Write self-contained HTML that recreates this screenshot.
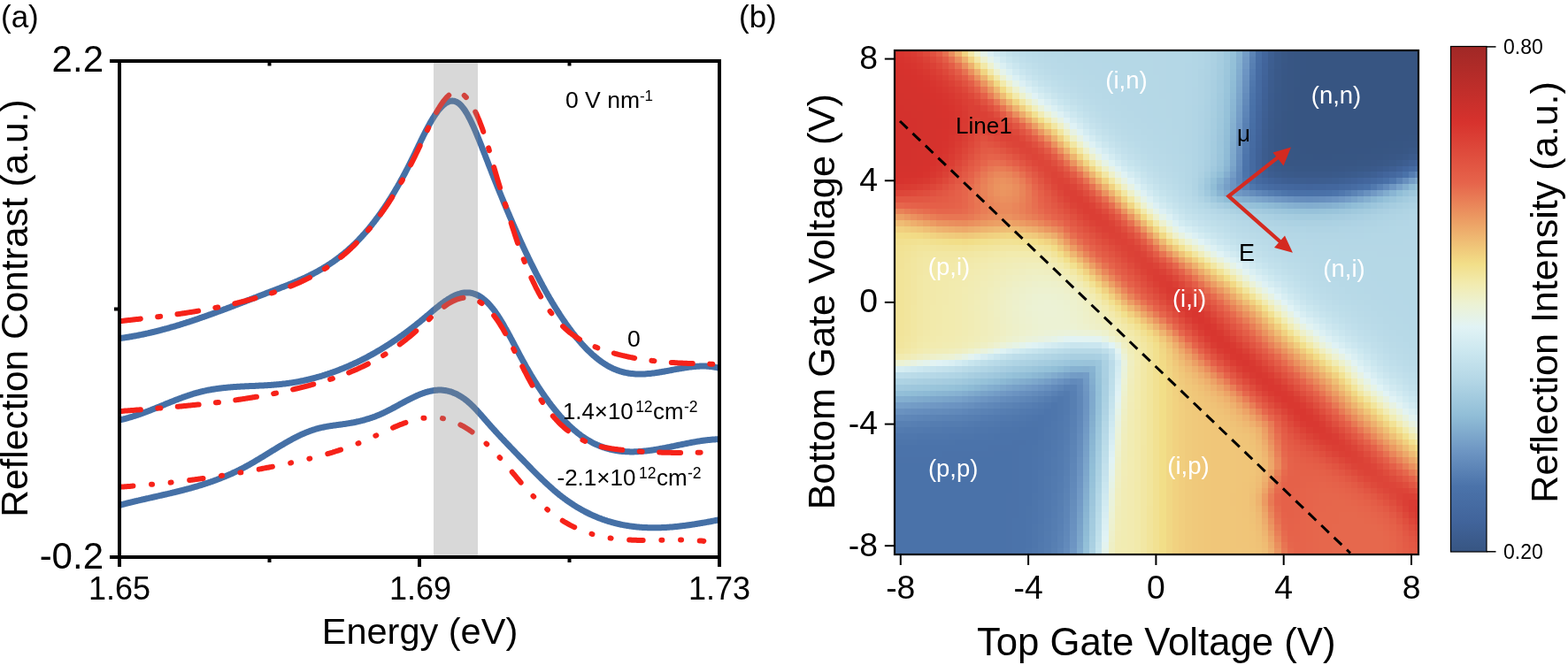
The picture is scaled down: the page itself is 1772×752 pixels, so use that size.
<!DOCTYPE html>
<html><head><meta charset="utf-8"><title>Figure</title><style>html,body{margin:0;padding:0;background:#fff;overflow:hidden}svg{display:block}</style></head><body>
<svg width="1772" height="752" viewBox="0 0 1772 752">
<rect width="1772" height="752" fill="#fff"/>
<defs><clipPath id="pa"><rect x="134" y="67" width="681" height="563"/></clipPath></defs>
<g fill="none" stroke-linecap="round" stroke-linejoin="round" clip-path="url(#pa)">
<path d="M135.0 382.6 L136.0 382.5 L137.0 382.3 L138.0 382.2 L139.0 382.1 L140.0 381.9 L141.0 381.8 L142.0 381.6 L143.0 381.5 L144.0 381.3 L145.0 381.2 L146.0 381.0 L147.0 380.8 L148.0 380.7 L149.0 380.5 L150.0 380.3 L151.0 380.1 L152.0 380.0 L153.0 379.8 L154.0 379.6 L155.0 379.4 L156.0 379.2 L157.0 379.0 L158.0 378.8 L159.0 378.6 L160.0 378.4 L161.0 378.2 L162.0 378.0 L163.0 377.8 L164.0 377.6 L165.0 377.3 L166.0 377.1 L167.0 376.9 L168.0 376.7 L169.0 376.4 L170.0 376.2 L171.0 376.0 L172.0 375.7 L173.0 375.5 L174.0 375.3 L175.0 375.0 L176.0 374.8 L177.0 374.5 L178.0 374.3 L179.0 374.0 L180.0 373.8 L181.0 373.5 L182.0 373.2 L183.0 373.0 L184.0 372.7 L185.0 372.4 L186.0 372.2 L187.0 371.9 L188.0 371.6 L189.0 371.4 L190.0 371.1 L191.0 370.8 L192.0 370.5 L193.0 370.2 L194.0 369.9 L195.0 369.6 L196.0 369.4 L197.0 369.1 L198.0 368.8 L199.0 368.5 L200.0 368.2 L201.0 367.9 L202.0 367.6 L203.0 367.3 L204.0 366.9 L205.0 366.6 L206.0 366.3 L207.0 366.0 L208.0 365.7 L209.0 365.4 L210.0 365.1 L211.0 364.7 L212.0 364.4 L213.0 364.1 L214.0 363.8 L215.0 363.4 L216.0 363.1 L217.0 362.8 L218.0 362.4 L219.0 362.1 L220.0 361.8 L221.0 361.4 L222.0 361.1 L223.0 360.8 L224.0 360.4 L225.0 360.1 L226.0 359.7 L227.0 359.4 L228.0 359.0 L229.0 358.7 L230.0 358.4 L231.0 358.0 L232.0 357.7 L233.0 357.3 L234.0 356.9 L235.0 356.6 L236.0 356.2 L237.0 355.9 L238.0 355.5 L239.0 355.2 L240.0 354.8 L241.0 354.4 L242.0 354.1 L243.0 353.7 L244.0 353.3 L245.0 353.0 L246.0 352.6 L247.0 352.2 L248.0 351.9 L249.0 351.5 L250.0 351.1 L251.0 350.8 L252.0 350.4 L253.0 350.0 L254.0 349.6 L255.0 349.3 L256.0 348.9 L257.0 348.5 L258.0 348.1 L259.0 347.8 L260.0 347.4 L261.0 347.0 L262.0 346.6 L263.0 346.3 L264.0 345.9 L265.0 345.5 L266.0 345.1 L267.0 344.7 L268.0 344.3 L269.0 344.0 L270.0 343.6 L271.0 343.2 L272.0 342.8 L273.0 342.4 L274.0 342.0 L275.0 341.7 L276.0 341.3 L277.0 340.9 L278.0 340.5 L279.0 340.1 L280.0 339.7 L281.0 339.3 L282.0 339.0 L283.0 338.6 L284.0 338.2 L285.0 337.8 L286.0 337.4 L287.0 337.0 L288.0 336.6 L289.0 336.3 L290.0 335.9 L291.0 335.5 L292.0 335.1 L293.0 334.7 L294.0 334.3 L295.0 333.9 L296.0 333.6 L297.0 333.2 L298.0 332.8 L299.0 332.4 L300.0 332.0 L301.0 331.6 L302.0 331.2 L303.0 330.9 L304.0 330.5 L305.0 330.1 L306.0 329.7 L307.0 329.3 L308.0 328.9 L309.0 328.6 L310.0 328.2 L311.0 327.8 L312.0 327.4 L313.0 327.0 L314.0 326.7 L315.0 326.3 L316.0 325.9 L317.0 325.5 L318.0 325.1 L319.0 324.7 L320.0 324.4 L321.0 324.0 L322.0 323.6 L323.0 323.2 L324.0 322.8 L325.0 322.4 L326.0 322.0 L327.0 321.6 L328.0 321.2 L329.0 320.8 L330.0 320.4 L331.0 320.0 L332.0 319.6 L333.0 319.2 L334.0 318.7 L335.0 318.3 L336.0 317.9 L337.0 317.5 L338.0 317.0 L339.0 316.6 L340.0 316.1 L341.0 315.7 L342.0 315.2 L343.0 314.8 L344.0 314.3 L345.0 313.9 L346.0 313.4 L347.0 312.9 L348.0 312.4 L349.0 312.0 L350.0 311.5 L351.0 311.0 L352.0 310.5 L353.0 310.0 L354.0 309.5 L355.0 308.9 L356.0 308.4 L357.0 307.9 L358.0 307.3 L359.0 306.8 L360.0 306.2 L361.0 305.7 L362.0 305.1 L363.0 304.5 L364.0 303.9 L365.0 303.3 L366.0 302.7 L367.0 302.1 L368.0 301.5 L369.0 300.9 L370.0 300.3 L371.0 299.6 L372.0 299.0 L373.0 298.3 L374.0 297.6 L375.0 297.0 L376.0 296.3 L377.0 295.6 L378.0 294.9 L379.0 294.2 L380.0 293.4 L381.0 292.7 L382.0 291.9 L383.0 291.2 L384.0 290.4 L385.0 289.6 L386.0 288.8 L387.0 288.0 L388.0 287.2 L389.0 286.4 L390.0 285.6 L391.0 284.7 L392.0 283.9 L393.0 283.0 L394.0 282.1 L395.0 281.2 L396.0 280.3 L397.0 279.4 L398.0 278.5 L399.0 277.5 L400.0 276.6 L401.0 275.6 L402.0 274.6 L403.0 273.6 L404.0 272.6 L405.0 271.6 L406.0 270.5 L407.0 269.5 L408.0 268.4 L409.0 267.3 L410.0 266.2 L411.0 265.1 L412.0 264.0 L413.0 262.9 L414.0 261.7 L415.0 260.6 L416.0 259.4 L417.0 258.2 L418.0 257.0 L419.0 255.7 L420.0 254.5 L421.0 253.2 L422.0 251.9 L423.0 250.7 L424.0 249.3 L425.0 248.0 L426.0 246.7 L427.0 245.3 L428.0 244.0 L429.0 242.6 L430.0 241.2 L431.0 239.8 L432.0 238.3 L433.0 236.9 L434.0 235.4 L435.0 233.9 L436.0 232.4 L437.0 230.9 L438.0 229.4 L439.0 227.8 L440.0 226.3 L441.0 224.7 L442.0 223.1 L443.0 221.4 L444.0 219.8 L445.0 218.2 L446.0 216.5 L447.0 214.8 L448.0 213.1 L449.0 211.4 L450.0 209.6 L451.0 207.9 L452.0 206.1 L453.0 204.3 L454.0 202.5 L455.0 200.7 L456.0 198.8 L457.0 197.0 L458.0 195.1 L459.0 193.2 L460.0 191.2 L461.0 189.3 L462.0 187.3 L463.0 185.4 L464.0 183.4 L465.0 181.4 L466.0 179.3 L467.0 177.3 L468.0 175.2 L469.0 173.2 L470.0 171.1 L471.0 169.0 L472.0 166.9 L473.0 164.8 L474.0 162.8 L475.0 160.7 L476.0 158.6 L477.0 156.6 L478.0 154.5 L479.0 152.5 L480.0 150.6 L481.0 148.6 L482.0 146.7 L483.0 144.8 L484.0 142.9 L485.0 141.1 L486.0 139.3 L487.0 137.5 L488.0 135.8 L489.0 134.2 L490.0 132.6 L491.0 131.0 L492.0 129.5 L493.0 128.1 L494.0 126.7 L495.0 125.3 L496.0 124.1 L497.0 122.9 L498.0 121.8 L499.0 120.7 L500.0 119.7 L501.0 118.8 L502.0 118.0 L503.0 117.2 L504.0 116.5 L505.0 115.9 L506.0 115.4 L507.0 115.0 L508.0 114.6 L509.0 114.4 L510.0 114.2 L511.0 114.1 L512.0 114.2 L513.0 114.3 L514.0 114.5 L515.0 114.9 L516.0 115.3 L517.0 115.9 L518.0 116.5 L519.0 117.3 L520.0 118.2 L521.0 119.2 L522.0 120.3 L523.0 121.6 L524.0 122.9 L525.0 124.3 L526.0 125.8 L527.0 127.4 L528.0 129.1 L529.0 130.9 L530.0 132.8 L531.0 134.7 L532.0 136.7 L533.0 138.8 L534.0 140.9 L535.0 143.1 L536.0 145.4 L537.0 147.7 L538.0 150.0 L539.0 152.4 L540.0 154.8 L541.0 157.3 L542.0 159.8 L543.0 162.3 L544.0 164.8 L545.0 167.4 L546.0 169.9 L547.0 172.5 L548.0 175.1 L549.0 177.7 L550.0 180.3 L551.0 182.8 L552.0 185.4 L553.0 188.0 L554.0 190.5 L555.0 193.1 L556.0 195.6 L557.0 198.1 L558.0 200.7 L559.0 203.2 L560.0 205.7 L561.0 208.2 L562.0 210.7 L563.0 213.2 L564.0 215.6 L565.0 218.1 L566.0 220.5 L567.0 223.0 L568.0 225.4 L569.0 227.9 L570.0 230.3 L571.0 232.7 L572.0 235.1 L573.0 237.5 L574.0 239.8 L575.0 242.2 L576.0 244.6 L577.0 246.9 L578.0 249.2 L579.0 251.6 L580.0 253.9 L581.0 256.2 L582.0 258.4 L583.0 260.7 L584.0 263.0 L585.0 265.2 L586.0 267.5 L587.0 269.7 L588.0 271.9 L589.0 274.1 L590.0 276.3 L591.0 278.4 L592.0 280.6 L593.0 282.7 L594.0 284.9 L595.0 287.0 L596.0 289.1 L597.0 291.2 L598.0 293.3 L599.0 295.3 L600.0 297.4 L601.0 299.4 L602.0 301.4 L603.0 303.4 L604.0 305.4 L605.0 307.4 L606.0 309.3 L607.0 311.3 L608.0 313.2 L609.0 315.1 L610.0 317.0 L611.0 318.9 L612.0 320.7 L613.0 322.6 L614.0 324.4 L615.0 326.3 L616.0 328.1 L617.0 329.9 L618.0 331.6 L619.0 333.4 L620.0 335.1 L621.0 336.9 L622.0 338.6 L623.0 340.3 L624.0 342.0 L625.0 343.6 L626.0 345.3 L627.0 346.9 L628.0 348.5 L629.0 350.1 L630.0 351.7 L631.0 353.3 L632.0 354.8 L633.0 356.4 L634.0 357.9 L635.0 359.4 L636.0 360.9 L637.0 362.4 L638.0 363.8 L639.0 365.3 L640.0 366.7 L641.0 368.1 L642.0 369.5 L643.0 370.8 L644.0 372.2 L645.0 373.5 L646.0 374.9 L647.0 376.2 L648.0 377.4 L649.0 378.7 L650.0 380.0 L651.0 381.2 L652.0 382.4 L653.0 383.6 L654.0 384.8 L655.0 386.0 L656.0 387.1 L657.0 388.3 L658.0 389.4 L659.0 390.5 L660.0 391.5 L661.0 392.6 L662.0 393.7 L663.0 394.7 L664.0 395.7 L665.0 396.7 L666.0 397.6 L667.0 398.6 L668.0 399.5 L669.0 400.5 L670.0 401.4 L671.0 402.2 L672.0 403.1 L673.0 403.9 L674.0 404.8 L675.0 405.6 L676.0 406.4 L677.0 407.1 L678.0 407.9 L679.0 408.6 L680.0 409.3 L681.0 410.0 L682.0 410.7 L683.0 411.3 L684.0 412.0 L685.0 412.6 L686.0 413.2 L687.0 413.8 L688.0 414.3 L689.0 414.9 L690.0 415.4 L691.0 415.9 L692.0 416.4 L693.0 416.9 L694.0 417.3 L695.0 417.7 L696.0 418.1 L697.0 418.5 L698.0 418.9 L699.0 419.2 L700.0 419.6 L701.0 419.9 L702.0 420.2 L703.0 420.5 L704.0 420.7 L705.0 421.0 L706.0 421.2 L707.0 421.4 L708.0 421.6 L709.0 421.8 L710.0 422.0 L711.0 422.2 L712.0 422.3 L713.0 422.4 L714.0 422.5 L715.0 422.6 L716.0 422.7 L717.0 422.8 L718.0 422.9 L719.0 422.9 L720.0 423.0 L721.0 423.0 L722.0 423.0 L723.0 423.0 L724.0 423.0 L725.0 423.0 L726.0 423.0 L727.0 422.9 L728.0 422.9 L729.0 422.9 L730.0 422.8 L731.0 422.7 L732.0 422.6 L733.0 422.6 L734.0 422.5 L735.0 422.4 L736.0 422.3 L737.0 422.1 L738.0 422.0 L739.0 421.9 L740.0 421.8 L741.0 421.6 L742.0 421.5 L743.0 421.3 L744.0 421.2 L745.0 421.0 L746.0 420.8 L747.0 420.7 L748.0 420.5 L749.0 420.3 L750.0 420.2 L751.0 420.0 L752.0 419.8 L753.0 419.6 L754.0 419.4 L755.0 419.3 L756.0 419.1 L757.0 418.9 L758.0 418.7 L759.0 418.5 L760.0 418.3 L761.0 418.1 L762.0 417.9 L763.0 417.7 L764.0 417.6 L765.0 417.4 L766.0 417.2 L767.0 417.0 L768.0 416.8 L769.0 416.7 L770.0 416.5 L771.0 416.3 L772.0 416.2 L773.0 416.0 L774.0 415.8 L775.0 415.7 L776.0 415.5 L777.0 415.4 L778.0 415.3 L779.0 415.1 L780.0 415.0 L781.0 414.9 L782.0 414.8 L783.0 414.7 L784.0 414.6 L785.0 414.5 L786.0 414.4 L787.0 414.3 L788.0 414.3 L789.0 414.2 L790.0 414.2 L791.0 414.1 L792.0 414.1 L793.0 414.1 L794.0 414.1 L795.0 414.1 L796.0 414.1 L797.0 414.1 L798.0 414.1 L799.0 414.2 L800.0 414.2 L801.0 414.3 L802.0 414.4 L803.0 414.5 L804.0 414.6 L805.0 414.7 L806.0 414.9 L807.0 415.0 L808.0 415.2 L809.0 415.4 L810.0 415.6 L811.0 415.8 L812.0 416.0 L813.0 416.2" stroke="#4570a6" stroke-width="7"/>
<path d="M135.0 474.9 L136.0 474.7 L137.0 474.5 L138.0 474.3 L139.0 474.1 L140.0 473.8 L141.0 473.6 L142.0 473.3 L143.0 473.0 L144.0 472.8 L145.0 472.5 L146.0 472.2 L147.0 471.9 L148.0 471.6 L149.0 471.3 L150.0 471.0 L151.0 470.7 L152.0 470.4 L153.0 470.1 L154.0 469.7 L155.0 469.4 L156.0 469.1 L157.0 468.7 L158.0 468.4 L159.0 468.0 L160.0 467.7 L161.0 467.3 L162.0 466.9 L163.0 466.6 L164.0 466.2 L165.0 465.8 L166.0 465.4 L167.0 465.1 L168.0 464.7 L169.0 464.3 L170.0 463.9 L171.0 463.5 L172.0 463.1 L173.0 462.7 L174.0 462.3 L175.0 461.9 L176.0 461.5 L177.0 461.1 L178.0 460.7 L179.0 460.3 L180.0 459.9 L181.0 459.5 L182.0 459.1 L183.0 458.7 L184.0 458.3 L185.0 457.9 L186.0 457.4 L187.0 457.0 L188.0 456.6 L189.0 456.2 L190.0 455.8 L191.0 455.4 L192.0 455.0 L193.0 454.6 L194.0 454.2 L195.0 453.8 L196.0 453.4 L197.0 453.0 L198.0 452.6 L199.0 452.2 L200.0 451.9 L201.0 451.5 L202.0 451.1 L203.0 450.7 L204.0 450.3 L205.0 450.0 L206.0 449.6 L207.0 449.2 L208.0 448.9 L209.0 448.5 L210.0 448.2 L211.0 447.8 L212.0 447.5 L213.0 447.1 L214.0 446.8 L215.0 446.5 L216.0 446.2 L217.0 445.8 L218.0 445.5 L219.0 445.2 L220.0 444.9 L221.0 444.6 L222.0 444.3 L223.0 444.1 L224.0 443.8 L225.0 443.5 L226.0 443.3 L227.0 443.0 L228.0 442.8 L229.0 442.5 L230.0 442.3 L231.0 442.1 L232.0 441.9 L233.0 441.6 L234.0 441.4 L235.0 441.2 L236.0 441.0 L237.0 440.9 L238.0 440.7 L239.0 440.5 L240.0 440.3 L241.0 440.2 L242.0 440.0 L243.0 439.9 L244.0 439.7 L245.0 439.6 L246.0 439.4 L247.0 439.3 L248.0 439.2 L249.0 439.0 L250.0 438.9 L251.0 438.8 L252.0 438.7 L253.0 438.6 L254.0 438.5 L255.0 438.4 L256.0 438.3 L257.0 438.2 L258.0 438.1 L259.0 438.0 L260.0 437.9 L261.0 437.8 L262.0 437.7 L263.0 437.7 L264.0 437.6 L265.0 437.5 L266.0 437.5 L267.0 437.4 L268.0 437.3 L269.0 437.3 L270.0 437.2 L271.0 437.2 L272.0 437.1 L273.0 437.0 L274.0 437.0 L275.0 436.9 L276.0 436.9 L277.0 436.8 L278.0 436.8 L279.0 436.8 L280.0 436.7 L281.0 436.7 L282.0 436.6 L283.0 436.6 L284.0 436.5 L285.0 436.5 L286.0 436.4 L287.0 436.4 L288.0 436.4 L289.0 436.3 L290.0 436.3 L291.0 436.2 L292.0 436.2 L293.0 436.1 L294.0 436.1 L295.0 436.0 L296.0 436.0 L297.0 435.9 L298.0 435.9 L299.0 435.8 L300.0 435.8 L301.0 435.7 L302.0 435.7 L303.0 435.6 L304.0 435.5 L305.0 435.5 L306.0 435.4 L307.0 435.3 L308.0 435.3 L309.0 435.2 L310.0 435.1 L311.0 435.0 L312.0 434.9 L313.0 434.8 L314.0 434.8 L315.0 434.7 L316.0 434.6 L317.0 434.5 L318.0 434.4 L319.0 434.2 L320.0 434.1 L321.0 434.0 L322.0 433.9 L323.0 433.8 L324.0 433.6 L325.0 433.5 L326.0 433.4 L327.0 433.2 L328.0 433.1 L329.0 432.9 L330.0 432.8 L331.0 432.6 L332.0 432.4 L333.0 432.3 L334.0 432.1 L335.0 431.9 L336.0 431.8 L337.0 431.6 L338.0 431.4 L339.0 431.2 L340.0 431.0 L341.0 430.8 L342.0 430.6 L343.0 430.4 L344.0 430.2 L345.0 429.9 L346.0 429.7 L347.0 429.5 L348.0 429.3 L349.0 429.0 L350.0 428.8 L351.0 428.5 L352.0 428.3 L353.0 428.0 L354.0 427.8 L355.0 427.5 L356.0 427.3 L357.0 427.0 L358.0 426.7 L359.0 426.4 L360.0 426.1 L361.0 425.9 L362.0 425.6 L363.0 425.3 L364.0 425.0 L365.0 424.7 L366.0 424.4 L367.0 424.0 L368.0 423.7 L369.0 423.4 L370.0 423.1 L371.0 422.7 L372.0 422.4 L373.0 422.1 L374.0 421.7 L375.0 421.4 L376.0 421.0 L377.0 420.7 L378.0 420.3 L379.0 419.9 L380.0 419.6 L381.0 419.2 L382.0 418.8 L383.0 418.4 L384.0 418.0 L385.0 417.6 L386.0 417.2 L387.0 416.8 L388.0 416.4 L389.0 416.0 L390.0 415.6 L391.0 415.2 L392.0 414.8 L393.0 414.3 L394.0 413.9 L395.0 413.5 L396.0 413.0 L397.0 412.6 L398.0 412.1 L399.0 411.7 L400.0 411.2 L401.0 410.7 L402.0 410.3 L403.0 409.8 L404.0 409.3 L405.0 408.8 L406.0 408.3 L407.0 407.9 L408.0 407.4 L409.0 406.9 L410.0 406.4 L411.0 405.8 L412.0 405.3 L413.0 404.8 L414.0 404.3 L415.0 403.8 L416.0 403.2 L417.0 402.7 L418.0 402.1 L419.0 401.6 L420.0 401.0 L421.0 400.5 L422.0 399.9 L423.0 399.4 L424.0 398.8 L425.0 398.2 L426.0 397.6 L427.0 397.0 L428.0 396.5 L429.0 395.9 L430.0 395.3 L431.0 394.7 L432.0 394.1 L433.0 393.4 L434.0 392.8 L435.0 392.2 L436.0 391.6 L437.0 390.9 L438.0 390.3 L439.0 389.7 L440.0 389.0 L441.0 388.4 L442.0 387.7 L443.0 387.1 L444.0 386.4 L445.0 385.7 L446.0 385.0 L447.0 384.4 L448.0 383.7 L449.0 383.0 L450.0 382.3 L451.0 381.6 L452.0 380.9 L453.0 380.2 L454.0 379.5 L455.0 378.8 L456.0 378.0 L457.0 377.3 L458.0 376.6 L459.0 375.9 L460.0 375.1 L461.0 374.4 L462.0 373.6 L463.0 372.9 L464.0 372.1 L465.0 371.3 L466.0 370.6 L467.0 369.8 L468.0 369.0 L469.0 368.2 L470.0 367.4 L471.0 366.6 L472.0 365.8 L473.0 365.0 L474.0 364.2 L475.0 363.4 L476.0 362.6 L477.0 361.8 L478.0 360.9 L479.0 360.1 L480.0 359.3 L481.0 358.4 L482.0 357.6 L483.0 356.7 L484.0 355.9 L485.0 355.0 L486.0 354.2 L487.0 353.3 L488.0 352.5 L489.0 351.6 L490.0 350.8 L491.0 350.0 L492.0 349.1 L493.0 348.3 L494.0 347.5 L495.0 346.7 L496.0 345.9 L497.0 345.1 L498.0 344.3 L499.0 343.6 L500.0 342.8 L501.0 342.1 L502.0 341.4 L503.0 340.6 L504.0 340.0 L505.0 339.3 L506.0 338.6 L507.0 338.0 L508.0 337.4 L509.0 336.8 L510.0 336.2 L511.0 335.7 L512.0 335.2 L513.0 334.7 L514.0 334.2 L515.0 333.7 L516.0 333.3 L517.0 332.9 L518.0 332.6 L519.0 332.3 L520.0 332.0 L521.0 331.7 L522.0 331.5 L523.0 331.3 L524.0 331.1 L525.0 331.0 L526.0 330.9 L527.0 330.9 L528.0 330.9 L529.0 330.9 L530.0 331.0 L531.0 331.1 L532.0 331.2 L533.0 331.4 L534.0 331.7 L535.0 332.0 L536.0 332.3 L537.0 332.6 L538.0 333.1 L539.0 333.5 L540.0 334.0 L541.0 334.5 L542.0 335.1 L543.0 335.7 L544.0 336.4 L545.0 337.1 L546.0 337.9 L547.0 338.7 L548.0 339.5 L549.0 340.4 L550.0 341.3 L551.0 342.3 L552.0 343.3 L553.0 344.4 L554.0 345.5 L555.0 346.7 L556.0 347.9 L557.0 349.1 L558.0 350.4 L559.0 351.7 L560.0 353.1 L561.0 354.6 L562.0 356.0 L563.0 357.5 L564.0 359.1 L565.0 360.7 L566.0 362.3 L567.0 363.9 L568.0 365.6 L569.0 367.3 L570.0 369.1 L571.0 370.9 L572.0 372.6 L573.0 374.5 L574.0 376.3 L575.0 378.1 L576.0 380.0 L577.0 381.9 L578.0 383.7 L579.0 385.6 L580.0 387.5 L581.0 389.4 L582.0 391.3 L583.0 393.2 L584.0 395.1 L585.0 397.0 L586.0 398.9 L587.0 400.8 L588.0 402.7 L589.0 404.5 L590.0 406.4 L591.0 408.2 L592.0 410.0 L593.0 411.8 L594.0 413.6 L595.0 415.4 L596.0 417.1 L597.0 418.8 L598.0 420.6 L599.0 422.3 L600.0 424.0 L601.0 425.6 L602.0 427.3 L603.0 428.9 L604.0 430.5 L605.0 432.1 L606.0 433.7 L607.0 435.3 L608.0 436.9 L609.0 438.4 L610.0 439.9 L611.0 441.4 L612.0 442.9 L613.0 444.4 L614.0 445.9 L615.0 447.3 L616.0 448.7 L617.0 450.2 L618.0 451.5 L619.0 452.9 L620.0 454.3 L621.0 455.6 L622.0 457.0 L623.0 458.3 L624.0 459.6 L625.0 460.8 L626.0 462.1 L627.0 463.3 L628.0 464.6 L629.0 465.8 L630.0 467.0 L631.0 468.2 L632.0 469.3 L633.0 470.5 L634.0 471.6 L635.0 472.7 L636.0 473.8 L637.0 474.9 L638.0 475.9 L639.0 477.0 L640.0 478.0 L641.0 479.0 L642.0 480.0 L643.0 481.0 L644.0 481.9 L645.0 482.9 L646.0 483.8 L647.0 484.7 L648.0 485.6 L649.0 486.5 L650.0 487.3 L651.0 488.1 L652.0 489.0 L653.0 489.8 L654.0 490.5 L655.0 491.3 L656.0 492.1 L657.0 492.8 L658.0 493.5 L659.0 494.2 L660.0 494.9 L661.0 495.6 L662.0 496.2 L663.0 496.8 L664.0 497.4 L665.0 498.0 L666.0 498.6 L667.0 499.2 L668.0 499.7 L669.0 500.3 L670.0 500.8 L671.0 501.3 L672.0 501.8 L673.0 502.3 L674.0 502.7 L675.0 503.2 L676.0 503.6 L677.0 504.0 L678.0 504.4 L679.0 504.8 L680.0 505.2 L681.0 505.5 L682.0 505.9 L683.0 506.2 L684.0 506.5 L685.0 506.9 L686.0 507.1 L687.0 507.4 L688.0 507.7 L689.0 508.0 L690.0 508.2 L691.0 508.4 L692.0 508.7 L693.0 508.9 L694.0 509.1 L695.0 509.3 L696.0 509.4 L697.0 509.6 L698.0 509.8 L699.0 509.9 L700.0 510.0 L701.0 510.2 L702.0 510.3 L703.0 510.4 L704.0 510.5 L705.0 510.5 L706.0 510.6 L707.0 510.7 L708.0 510.7 L709.0 510.8 L710.0 510.8 L711.0 510.8 L712.0 510.9 L713.0 510.9 L714.0 510.9 L715.0 510.9 L716.0 510.9 L717.0 510.8 L718.0 510.8 L719.0 510.8 L720.0 510.7 L721.0 510.7 L722.0 510.6 L723.0 510.6 L724.0 510.5 L725.0 510.4 L726.0 510.3 L727.0 510.2 L728.0 510.1 L729.0 510.0 L730.0 509.9 L731.0 509.8 L732.0 509.7 L733.0 509.6 L734.0 509.4 L735.0 509.3 L736.0 509.2 L737.0 509.0 L738.0 508.9 L739.0 508.7 L740.0 508.5 L741.0 508.4 L742.0 508.2 L743.0 508.1 L744.0 507.9 L745.0 507.7 L746.0 507.5 L747.0 507.3 L748.0 507.2 L749.0 507.0 L750.0 506.8 L751.0 506.6 L752.0 506.4 L753.0 506.2 L754.0 506.0 L755.0 505.8 L756.0 505.6 L757.0 505.4 L758.0 505.2 L759.0 505.0 L760.0 504.8 L761.0 504.6 L762.0 504.4 L763.0 504.1 L764.0 503.9 L765.0 503.7 L766.0 503.5 L767.0 503.3 L768.0 503.1 L769.0 502.9 L770.0 502.7 L771.0 502.5 L772.0 502.3 L773.0 502.1 L774.0 501.9 L775.0 501.7 L776.0 501.5 L777.0 501.3 L778.0 501.1 L779.0 500.9 L780.0 500.7 L781.0 500.5 L782.0 500.3 L783.0 500.1 L784.0 499.9 L785.0 499.8 L786.0 499.6 L787.0 499.4 L788.0 499.2 L789.0 499.1 L790.0 498.9 L791.0 498.8 L792.0 498.6 L793.0 498.5 L794.0 498.3 L795.0 498.2 L796.0 498.0 L797.0 497.9 L798.0 497.8 L799.0 497.7 L800.0 497.6 L801.0 497.5 L802.0 497.4 L803.0 497.3 L804.0 497.2 L805.0 497.1 L806.0 497.0 L807.0 496.9 L808.0 496.9 L809.0 496.8 L810.0 496.8 L811.0 496.7 L812.0 496.7 L812.2 496.7" stroke="#4570a6" stroke-width="7"/>
<path d="M135.0 571.3 L136.0 571.1 L137.0 570.8 L138.0 570.5 L139.0 570.3 L140.0 570.0 L141.0 569.8 L142.0 569.5 L143.0 569.2 L144.0 569.0 L145.0 568.7 L146.0 568.5 L147.0 568.3 L148.0 568.0 L149.0 567.8 L150.0 567.5 L151.0 567.3 L152.0 567.0 L153.0 566.8 L154.0 566.6 L155.0 566.3 L156.0 566.1 L157.0 565.9 L158.0 565.6 L159.0 565.4 L160.0 565.2 L161.0 564.9 L162.0 564.7 L163.0 564.5 L164.0 564.3 L165.0 564.0 L166.0 563.8 L167.0 563.6 L168.0 563.4 L169.0 563.1 L170.0 562.9 L171.0 562.7 L172.0 562.5 L173.0 562.2 L174.0 562.0 L175.0 561.8 L176.0 561.6 L177.0 561.3 L178.0 561.1 L179.0 560.9 L180.0 560.6 L181.0 560.4 L182.0 560.2 L183.0 560.0 L184.0 559.7 L185.0 559.5 L186.0 559.3 L187.0 559.1 L188.0 558.8 L189.0 558.6 L190.0 558.4 L191.0 558.1 L192.0 557.9 L193.0 557.7 L194.0 557.4 L195.0 557.2 L196.0 556.9 L197.0 556.7 L198.0 556.5 L199.0 556.2 L200.0 556.0 L201.0 555.7 L202.0 555.5 L203.0 555.2 L204.0 555.0 L205.0 554.7 L206.0 554.5 L207.0 554.2 L208.0 554.0 L209.0 553.7 L210.0 553.4 L211.0 553.2 L212.0 552.9 L213.0 552.6 L214.0 552.4 L215.0 552.1 L216.0 551.8 L217.0 551.5 L218.0 551.2 L219.0 551.0 L220.0 550.7 L221.0 550.4 L222.0 550.1 L223.0 549.8 L224.0 549.5 L225.0 549.2 L226.0 548.9 L227.0 548.6 L228.0 548.3 L229.0 548.0 L230.0 547.6 L231.0 547.3 L232.0 547.0 L233.0 546.7 L234.0 546.3 L235.0 546.0 L236.0 545.7 L237.0 545.3 L238.0 545.0 L239.0 544.6 L240.0 544.3 L241.0 543.9 L242.0 543.6 L243.0 543.2 L244.0 542.8 L245.0 542.5 L246.0 542.1 L247.0 541.7 L248.0 541.3 L249.0 540.9 L250.0 540.5 L251.0 540.1 L252.0 539.7 L253.0 539.3 L254.0 538.9 L255.0 538.5 L256.0 538.1 L257.0 537.7 L258.0 537.2 L259.0 536.8 L260.0 536.3 L261.0 535.9 L262.0 535.5 L263.0 535.0 L264.0 534.5 L265.0 534.1 L266.0 533.6 L267.0 533.1 L268.0 532.6 L269.0 532.1 L270.0 531.7 L271.0 531.2 L272.0 530.6 L273.0 530.1 L274.0 529.6 L275.0 529.1 L276.0 528.6 L277.0 528.0 L278.0 527.5 L279.0 526.9 L280.0 526.4 L281.0 525.8 L282.0 525.3 L283.0 524.7 L284.0 524.1 L285.0 523.6 L286.0 523.0 L287.0 522.4 L288.0 521.8 L289.0 521.2 L290.0 520.6 L291.0 520.0 L292.0 519.4 L293.0 518.8 L294.0 518.2 L295.0 517.6 L296.0 517.0 L297.0 516.4 L298.0 515.8 L299.0 515.2 L300.0 514.5 L301.0 513.9 L302.0 513.3 L303.0 512.7 L304.0 512.1 L305.0 511.5 L306.0 510.8 L307.0 510.2 L308.0 509.6 L309.0 509.0 L310.0 508.4 L311.0 507.8 L312.0 507.2 L313.0 506.6 L314.0 505.9 L315.0 505.3 L316.0 504.7 L317.0 504.1 L318.0 503.6 L319.0 503.0 L320.0 502.4 L321.0 501.8 L322.0 501.2 L323.0 500.6 L324.0 500.1 L325.0 499.5 L326.0 498.9 L327.0 498.4 L328.0 497.8 L329.0 497.3 L330.0 496.7 L331.0 496.2 L332.0 495.7 L333.0 495.2 L334.0 494.6 L335.0 494.1 L336.0 493.6 L337.0 493.1 L338.0 492.6 L339.0 492.2 L340.0 491.7 L341.0 491.2 L342.0 490.8 L343.0 490.3 L344.0 489.9 L345.0 489.5 L346.0 489.1 L347.0 488.7 L348.0 488.3 L349.0 487.9 L350.0 487.5 L351.0 487.1 L352.0 486.8 L353.0 486.4 L354.0 486.1 L355.0 485.8 L356.0 485.5 L357.0 485.2 L358.0 484.9 L359.0 484.6 L360.0 484.3 L361.0 484.1 L362.0 483.8 L363.0 483.6 L364.0 483.4 L365.0 483.2 L366.0 483.0 L367.0 482.8 L368.0 482.6 L369.0 482.4 L370.0 482.2 L371.0 482.1 L372.0 481.9 L373.0 481.7 L374.0 481.6 L375.0 481.4 L376.0 481.3 L377.0 481.1 L378.0 481.0 L379.0 480.9 L380.0 480.7 L381.0 480.6 L382.0 480.4 L383.0 480.3 L384.0 480.2 L385.0 480.0 L386.0 479.9 L387.0 479.8 L388.0 479.6 L389.0 479.5 L390.0 479.4 L391.0 479.2 L392.0 479.1 L393.0 478.9 L394.0 478.7 L395.0 478.6 L396.0 478.4 L397.0 478.2 L398.0 478.0 L399.0 477.9 L400.0 477.7 L401.0 477.5 L402.0 477.3 L403.0 477.0 L404.0 476.8 L405.0 476.6 L406.0 476.4 L407.0 476.1 L408.0 475.9 L409.0 475.6 L410.0 475.4 L411.0 475.1 L412.0 474.8 L413.0 474.5 L414.0 474.2 L415.0 473.9 L416.0 473.6 L417.0 473.3 L418.0 473.0 L419.0 472.7 L420.0 472.3 L421.0 472.0 L422.0 471.6 L423.0 471.3 L424.0 470.9 L425.0 470.5 L426.0 470.1 L427.0 469.7 L428.0 469.3 L429.0 468.9 L430.0 468.4 L431.0 468.0 L432.0 467.6 L433.0 467.1 L434.0 466.6 L435.0 466.1 L436.0 465.7 L437.0 465.2 L438.0 464.7 L439.0 464.2 L440.0 463.6 L441.0 463.1 L442.0 462.6 L443.0 462.1 L444.0 461.5 L445.0 461.0 L446.0 460.5 L447.0 459.9 L448.0 459.4 L449.0 458.8 L450.0 458.3 L451.0 457.7 L452.0 457.2 L453.0 456.6 L454.0 456.1 L455.0 455.6 L456.0 455.0 L457.0 454.5 L458.0 453.9 L459.0 453.4 L460.0 452.9 L461.0 452.4 L462.0 451.8 L463.0 451.3 L464.0 450.8 L465.0 450.3 L466.0 449.8 L467.0 449.4 L468.0 448.9 L469.0 448.4 L470.0 448.0 L471.0 447.5 L472.0 447.1 L473.0 446.7 L474.0 446.2 L475.0 445.8 L476.0 445.4 L477.0 445.1 L478.0 444.7 L479.0 444.4 L480.0 444.0 L481.0 443.7 L482.0 443.4 L483.0 443.1 L484.0 442.8 L485.0 442.6 L486.0 442.4 L487.0 442.1 L488.0 441.9 L489.0 441.8 L490.0 441.6 L491.0 441.5 L492.0 441.3 L493.0 441.2 L494.0 441.2 L495.0 441.1 L496.0 441.1 L497.0 441.1 L498.0 441.1 L499.0 441.1 L500.0 441.2 L501.0 441.3 L502.0 441.4 L503.0 441.5 L504.0 441.7 L505.0 441.9 L506.0 442.1 L507.0 442.4 L508.0 442.6 L509.0 442.9 L510.0 443.2 L511.0 443.6 L512.0 444.0 L513.0 444.4 L514.0 444.8 L515.0 445.2 L516.0 445.7 L517.0 446.2 L518.0 446.8 L519.0 447.3 L520.0 447.9 L521.0 448.5 L522.0 449.2 L523.0 449.8 L524.0 450.5 L525.0 451.2 L526.0 452.0 L527.0 452.8 L528.0 453.6 L529.0 454.4 L530.0 455.3 L531.0 456.2 L532.0 457.1 L533.0 458.1 L534.0 459.0 L535.0 460.0 L536.0 461.0 L537.0 462.1 L538.0 463.1 L539.0 464.2 L540.0 465.3 L541.0 466.4 L542.0 467.5 L543.0 468.6 L544.0 469.7 L545.0 470.9 L546.0 472.0 L547.0 473.2 L548.0 474.3 L549.0 475.5 L550.0 476.6 L551.0 477.8 L552.0 478.9 L553.0 480.0 L554.0 481.2 L555.0 482.3 L556.0 483.4 L557.0 484.5 L558.0 485.6 L559.0 486.7 L560.0 487.8 L561.0 488.9 L562.0 490.0 L563.0 491.1 L564.0 492.1 L565.0 493.2 L566.0 494.3 L567.0 495.4 L568.0 496.4 L569.0 497.5 L570.0 498.5 L571.0 499.6 L572.0 500.6 L573.0 501.7 L574.0 502.7 L575.0 503.8 L576.0 504.8 L577.0 505.9 L578.0 506.9 L579.0 507.9 L580.0 509.0 L581.0 510.0 L582.0 511.0 L583.0 512.1 L584.0 513.1 L585.0 514.1 L586.0 515.2 L587.0 516.2 L588.0 517.2 L589.0 518.3 L590.0 519.3 L591.0 520.3 L592.0 521.3 L593.0 522.4 L594.0 523.4 L595.0 524.4 L596.0 525.4 L597.0 526.5 L598.0 527.5 L599.0 528.5 L600.0 529.5 L601.0 530.6 L602.0 531.6 L603.0 532.6 L604.0 533.6 L605.0 534.6 L606.0 535.6 L607.0 536.6 L608.0 537.6 L609.0 538.6 L610.0 539.5 L611.0 540.5 L612.0 541.5 L613.0 542.5 L614.0 543.4 L615.0 544.4 L616.0 545.3 L617.0 546.3 L618.0 547.2 L619.0 548.1 L620.0 549.0 L621.0 549.9 L622.0 550.8 L623.0 551.7 L624.0 552.6 L625.0 553.5 L626.0 554.4 L627.0 555.2 L628.0 556.1 L629.0 556.9 L630.0 557.7 L631.0 558.6 L632.0 559.4 L633.0 560.2 L634.0 560.9 L635.0 561.7 L636.0 562.5 L637.0 563.2 L638.0 564.0 L639.0 564.7 L640.0 565.4 L641.0 566.2 L642.0 566.9 L643.0 567.6 L644.0 568.2 L645.0 568.9 L646.0 569.6 L647.0 570.2 L648.0 570.9 L649.0 571.5 L650.0 572.2 L651.0 572.8 L652.0 573.4 L653.0 574.0 L654.0 574.6 L655.0 575.2 L656.0 575.7 L657.0 576.3 L658.0 576.9 L659.0 577.4 L660.0 577.9 L661.0 578.5 L662.0 579.0 L663.0 579.5 L664.0 580.0 L665.0 580.5 L666.0 581.0 L667.0 581.5 L668.0 581.9 L669.0 582.4 L670.0 582.8 L671.0 583.3 L672.0 583.7 L673.0 584.1 L674.0 584.6 L675.0 585.0 L676.0 585.4 L677.0 585.8 L678.0 586.1 L679.0 586.5 L680.0 586.9 L681.0 587.3 L682.0 587.6 L683.0 588.0 L684.0 588.3 L685.0 588.6 L686.0 589.0 L687.0 589.3 L688.0 589.6 L689.0 589.9 L690.0 590.2 L691.0 590.5 L692.0 590.7 L693.0 591.0 L694.0 591.3 L695.0 591.5 L696.0 591.8 L697.0 592.0 L698.0 592.3 L699.0 592.5 L700.0 592.7 L701.0 593.0 L702.0 593.2 L703.0 593.4 L704.0 593.6 L705.0 593.8 L706.0 593.9 L707.0 594.1 L708.0 594.3 L709.0 594.5 L710.0 594.6 L711.0 594.8 L712.0 594.9 L713.0 595.1 L714.0 595.2 L715.0 595.3 L716.0 595.5 L717.0 595.6 L718.0 595.7 L719.0 595.8 L720.0 595.9 L721.0 596.0 L722.0 596.1 L723.0 596.2 L724.0 596.2 L725.0 596.3 L726.0 596.4 L727.0 596.4 L728.0 596.5 L729.0 596.6 L730.0 596.6 L731.0 596.6 L732.0 596.7 L733.0 596.7 L734.0 596.7 L735.0 596.8 L736.0 596.8 L737.0 596.8 L738.0 596.8 L739.0 596.8 L740.0 596.8 L741.0 596.8 L742.0 596.8 L743.0 596.8 L744.0 596.7 L745.0 596.7 L746.0 596.7 L747.0 596.7 L748.0 596.6 L749.0 596.6 L750.0 596.5 L751.0 596.5 L752.0 596.4 L753.0 596.4 L754.0 596.3 L755.0 596.2 L756.0 596.2 L757.0 596.1 L758.0 596.0 L759.0 595.9 L760.0 595.9 L761.0 595.8 L762.0 595.7 L763.0 595.6 L764.0 595.5 L765.0 595.4 L766.0 595.3 L767.0 595.2 L768.0 595.1 L769.0 595.0 L770.0 594.8 L771.0 594.7 L772.0 594.6 L773.0 594.5 L774.0 594.4 L775.0 594.2 L776.0 594.1 L777.0 594.0 L778.0 593.8 L779.0 593.7 L780.0 593.5 L781.0 593.4 L782.0 593.2 L783.0 593.1 L784.0 592.9 L785.0 592.8 L786.0 592.6 L787.0 592.5 L788.0 592.3 L789.0 592.1 L790.0 592.0 L791.0 591.8 L792.0 591.6 L793.0 591.5 L794.0 591.3 L795.0 591.1 L796.0 590.9 L797.0 590.8 L798.0 590.6 L799.0 590.4 L800.0 590.2 L801.0 590.0 L802.0 589.9 L803.0 589.7 L804.0 589.5 L805.0 589.3 L806.0 589.1 L807.0 588.9 L808.0 588.7 L809.0 588.5 L810.0 588.3 L811.0 588.1 L811.2 588.1" stroke="#4570a6" stroke-width="7"/>
<path d="M135.0 363.2 L136.0 363.1 L137.0 363.0 L138.0 362.9 L139.0 362.8 L140.0 362.7 L141.0 362.6 L142.0 362.5 L143.0 362.3 L144.0 362.2 L145.0 362.1 L146.0 362.0 L147.0 361.9 L148.0 361.8 L149.0 361.7 L150.0 361.6 L151.0 361.5 L152.0 361.3 L153.0 361.2 L154.0 361.1 L155.0 361.0 L156.0 360.9 L157.0 360.8 L158.0 360.7 L159.0 360.5 L160.0 360.4 L161.0 360.3 L162.0 360.2 L163.0 360.1 L164.0 360.0 L165.0 359.9 L166.0 359.7 L167.0 359.6 L168.0 359.5 L169.0 359.4 L170.0 359.3 L171.0 359.1 L172.0 359.0 L173.0 358.9 L174.0 358.8 L175.0 358.7 L176.0 358.5 L177.0 358.4 L178.0 358.3 L179.0 358.2 L180.0 358.0 L181.0 357.9 L182.0 357.8 L183.0 357.6 L184.0 357.5 L185.0 357.4 L186.0 357.3 L187.0 357.1 L188.0 357.0 L189.0 356.9 L190.0 356.7 L191.0 356.6 L192.0 356.5 L193.0 356.3 L194.0 356.2 L195.0 356.1 L196.0 355.9 L197.0 355.8 L198.0 355.6 L199.0 355.5 L200.0 355.3 L201.0 355.2 L202.0 355.1 L203.0 354.9 L204.0 354.8 L205.0 354.6 L206.0 354.5 L207.0 354.3 L208.0 354.2 L209.0 354.0 L210.0 353.9 L211.0 353.7 L212.0 353.6 L213.0 353.4 L214.0 353.2 L215.0 353.1 L216.0 352.9 L217.0 352.8 L218.0 352.6 L219.0 352.4 L220.0 352.3 L221.0 352.1 L222.0 351.9 L223.0 351.8 L224.0 351.6 L225.0 351.4 L226.0 351.3 L227.0 351.1 L228.0 350.9 L229.0 350.7 L230.0 350.6 L231.0 350.4 L232.0 350.2 L233.0 350.0 L234.0 349.8 L235.0 349.6 L236.0 349.4 L237.0 349.3 L238.0 349.1 L239.0 348.9 L240.0 348.7 L241.0 348.5 L242.0 348.3 L243.0 348.1 L244.0 347.9 L245.0 347.7 L246.0 347.5 L247.0 347.3 L248.0 347.1 L249.0 346.9 L250.0 346.7 L251.0 346.5 L252.0 346.2 L253.0 346.0 L254.0 345.8 L255.0 345.6 L256.0 345.4 L257.0 345.1 L258.0 344.9 L259.0 344.7 L260.0 344.5 L261.0 344.2 L262.0 344.0 L263.0 343.8 L264.0 343.5 L265.0 343.3 L266.0 343.1 L267.0 342.8 L268.0 342.6 L269.0 342.3 L270.0 342.1 L271.0 341.8 L272.0 341.6 L273.0 341.3 L274.0 341.1 L275.0 340.8 L276.0 340.6 L277.0 340.3 L278.0 340.0 L279.0 339.8 L280.0 339.5 L281.0 339.2 L282.0 339.0 L283.0 338.7 L284.0 338.4 L285.0 338.1 L286.0 337.9 L287.0 337.6 L288.0 337.3 L289.0 337.0 L290.0 336.7 L291.0 336.4 L292.0 336.1 L293.0 335.8 L294.0 335.5 L295.0 335.2 L296.0 334.9 L297.0 334.6 L298.0 334.3 L299.0 334.0 L300.0 333.7 L301.0 333.4 L302.0 333.1 L303.0 332.7 L304.0 332.4 L305.0 332.1 L306.0 331.8 L307.0 331.4 L308.0 331.1 L309.0 330.8 L310.0 330.4 L311.0 330.1 L312.0 329.7 L313.0 329.4 L314.0 329.0 L315.0 328.7 L316.0 328.3 L317.0 328.0 L318.0 327.6 L319.0 327.3 L320.0 326.9 L321.0 326.5 L322.0 326.1 L323.0 325.8 L324.0 325.4 L325.0 325.0 L326.0 324.6 L327.0 324.2 L328.0 323.8 L329.0 323.4 L330.0 323.0 L331.0 322.6 L332.0 322.2 L333.0 321.8 L334.0 321.4 L335.0 320.9 L336.0 320.5 L337.0 320.1 L338.0 319.6 L339.0 319.2 L340.0 318.7 L341.0 318.3 L342.0 317.8 L343.0 317.3 L344.0 316.8 L345.0 316.4 L346.0 315.9 L347.0 315.4 L348.0 314.9 L349.0 314.4 L350.0 313.9 L351.0 313.3 L352.0 312.8 L353.0 312.3 L354.0 311.7 L355.0 311.2 L356.0 310.6 L357.0 310.1 L358.0 309.5 L359.0 308.9 L360.0 308.3 L361.0 307.8 L362.0 307.2 L363.0 306.5 L364.0 305.9 L365.0 305.3 L366.0 304.7 L367.0 304.0 L368.0 303.4 L369.0 302.7 L370.0 302.1 L371.0 301.4 L372.0 300.7 L373.0 300.0 L374.0 299.3 L375.0 298.6 L376.0 297.9 L377.0 297.2 L378.0 296.4 L379.0 295.7 L380.0 294.9 L381.0 294.2 L382.0 293.4 L383.0 292.6 L384.0 291.8 L385.0 291.0 L386.0 290.2 L387.0 289.4 L388.0 288.5 L389.0 287.7 L390.0 286.8 L391.0 285.9 L392.0 285.1 L393.0 284.2 L394.0 283.3 L395.0 282.4 L396.0 281.4 L397.0 280.5 L398.0 279.5 L399.0 278.6 L400.0 277.6 L401.0 276.6 L402.0 275.6 L403.0 274.6 L404.0 273.6 L405.0 272.6 L406.0 271.5 L407.0 270.5 L408.0 269.4 L409.0 268.3 L410.0 267.2 L411.0 266.1 L412.0 265.0 L413.0 263.9 L414.0 262.7 L415.0 261.6 L416.0 260.4 L417.0 259.2 L418.0 258.0 L419.0 256.8 L420.0 255.6 L421.0 254.3 L422.0 253.1 L423.0 251.8 L424.0 250.5 L425.0 249.2 L426.0 247.9 L427.0 246.6 L428.0 245.2 L429.0 243.9 L430.0 242.5 L431.0 241.1 L432.0 239.7 L433.0 238.3 L434.0 236.9 L435.0 235.4 L436.0 234.0 L437.0 232.5 L438.0 231.0 L439.0 229.5 L440.0 228.0 L441.0 226.4 L442.0 224.9 L443.0 223.3 L444.0 221.7 L445.0 220.1 L446.0 218.5 L447.0 216.9 L448.0 215.2 L449.0 213.5 L450.0 211.9 L451.0 210.2 L452.0 208.5 L453.0 206.7 L454.0 205.0 L455.0 203.2 L456.0 201.4 L457.0 199.6 L458.0 197.8 L459.0 196.0 L460.0 194.1 L461.0 192.2 L462.0 190.3 L463.0 188.4 L464.0 186.5 L465.0 184.6 L466.0 182.6 L467.0 180.6 L468.0 178.6 L469.0 176.6 L470.0 174.5 L471.0 172.5 L472.0 170.4 L473.0 168.3 L474.0 166.2 L475.0 164.0 L476.0 161.9 L477.0 159.8 L478.0 157.6 L479.0 155.5 L480.0 153.3 L481.0 151.2 L482.0 149.1 L483.0 147.0 L484.0 144.9 L485.0 142.8 L486.0 140.8 L487.0 138.7 L488.0 136.7 L489.0 134.8 L490.0 132.8 L491.0 130.9 L492.0 129.1 L493.0 127.2 L494.0 125.5 L495.0 123.7 L496.0 122.1 L497.0 120.4 L498.0 118.9 L499.0 117.4 L500.0 116.0 L501.0 114.6 L502.0 113.3 L503.0 112.1 L504.0 110.9 L505.0 109.8 L506.0 108.9 L507.0 108.0 L508.0 107.1 L509.0 106.4 L510.0 105.8 L511.0 105.2 L512.0 104.8 L513.0 104.5 L514.0 104.2 L515.0 104.1 L516.0 104.1 L517.0 104.2 L518.0 104.3 L519.0 104.6 L520.0 105.0 L521.0 105.4 L522.0 106.0 L523.0 106.6 L524.0 107.4 L525.0 108.3 L526.0 109.2 L527.0 110.3 L528.0 111.4 L529.0 112.7 L530.0 114.0 L531.0 115.4 L532.0 117.0 L533.0 118.6 L534.0 120.3 L535.0 122.1 L536.0 124.0 L537.0 126.0 L538.0 128.1 L539.0 130.3 L540.0 132.6 L541.0 134.9 L542.0 137.4 L543.0 140.0 L544.0 142.6 L545.0 145.3 L546.0 148.2 L547.0 151.1 L548.0 154.1 L549.0 157.2 L550.0 160.4 L551.0 163.6 L552.0 167.0 L553.0 170.5 L554.0 174.0 L555.0 177.6 L556.0 181.2 L557.0 184.9 L558.0 188.4 L559.0 191.9 L560.0 195.4 L561.0 198.7 L562.0 202.1 L563.0 205.3 L564.0 208.6 L565.0 211.8 L566.0 215.0 L567.0 218.2 L568.0 221.4 L569.0 224.6 L570.0 227.8 L571.0 231.0 L572.0 234.2 L573.0 237.4 L574.0 240.7 L575.0 243.9 L576.0 247.0 L577.0 250.2 L578.0 253.4 L579.0 256.5 L580.0 259.6 L581.0 262.7 L582.0 265.8 L583.0 268.8 L584.0 271.8 L585.0 274.7 L586.0 277.6 L587.0 280.5 L588.0 283.3 L589.0 286.0 L590.0 288.7 L591.0 291.4 L592.0 294.0 L593.0 296.5 L594.0 299.1 L595.0 301.5 L596.0 304.0 L597.0 306.3 L598.0 308.7 L599.0 310.9 L600.0 313.2 L601.0 315.4 L602.0 317.5 L603.0 319.7 L604.0 321.7 L605.0 323.8 L606.0 325.8 L607.0 327.7 L608.0 329.6 L609.0 331.5 L610.0 333.3 L611.0 335.1 L612.0 336.9 L613.0 338.6 L614.0 340.3 L615.0 341.9 L616.0 343.5 L617.0 345.1 L618.0 346.6 L619.0 348.1 L620.0 349.6 L621.0 351.1 L622.0 352.5 L623.0 353.8 L624.0 355.2 L625.0 356.5 L626.0 357.8 L627.0 359.0 L628.0 360.2 L629.0 361.4 L630.0 362.6 L631.0 363.7 L632.0 364.8 L633.0 365.9 L634.0 366.9 L635.0 368.0 L636.0 369.0 L637.0 369.9 L638.0 370.9 L639.0 371.8 L640.0 372.7 L641.0 373.6 L642.0 374.4 L643.0 375.3 L644.0 376.1 L645.0 376.9 L646.0 377.6 L647.0 378.4 L648.0 379.1 L649.0 379.8 L650.0 380.5 L651.0 381.2 L652.0 381.8 L653.0 382.5 L654.0 383.1 L655.0 383.7 L656.0 384.3 L657.0 384.9 L658.0 385.4 L659.0 386.0 L660.0 386.5 L661.0 387.0 L662.0 387.5 L663.0 388.0 L664.0 388.5 L665.0 389.0 L666.0 389.4 L667.0 389.9 L668.0 390.3 L669.0 390.7 L670.0 391.2 L671.0 391.6 L672.0 392.0 L673.0 392.4 L674.0 392.8 L675.0 393.2 L676.0 393.5 L677.0 393.9 L678.0 394.3 L679.0 394.7 L680.0 395.0 L681.0 395.4 L682.0 395.7 L683.0 396.1 L684.0 396.4 L685.0 396.7 L686.0 397.1 L687.0 397.4 L688.0 397.7 L689.0 398.0 L690.0 398.3 L691.0 398.6 L692.0 398.9 L693.0 399.2 L694.0 399.5 L695.0 399.8 L696.0 400.1 L697.0 400.3 L698.0 400.6 L699.0 400.9 L700.0 401.1 L701.0 401.4 L702.0 401.6 L703.0 401.9 L704.0 402.1 L705.0 402.3 L706.0 402.6 L707.0 402.8 L708.0 403.0 L709.0 403.3 L710.0 403.5 L711.0 403.7 L712.0 403.9 L713.0 404.1 L714.0 404.3 L715.0 404.5 L716.0 404.7 L717.0 404.9 L718.0 405.1 L719.0 405.2 L720.0 405.4 L721.0 405.6 L722.0 405.8 L723.0 405.9 L724.0 406.1 L725.0 406.2 L726.0 406.4 L727.0 406.6 L728.0 406.7 L729.0 406.9 L730.0 407.0 L731.0 407.1 L732.0 407.3 L733.0 407.4 L734.0 407.5 L735.0 407.7 L736.0 407.8 L737.0 407.9 L738.0 408.0 L739.0 408.1 L740.0 408.3 L741.0 408.4 L742.0 408.5 L743.0 408.6 L744.0 408.7 L745.0 408.8 L746.0 408.9 L747.0 409.0 L748.0 409.1 L749.0 409.2 L750.0 409.2 L751.0 409.3 L752.0 409.4 L753.0 409.5 L754.0 409.6 L755.0 409.6 L756.0 409.7 L757.0 409.8 L758.0 409.9 L759.0 409.9 L760.0 410.0 L761.0 410.1 L762.0 410.1 L763.0 410.2 L764.0 410.2 L765.0 410.3 L766.0 410.4 L767.0 410.4 L768.0 410.5 L769.0 410.5 L770.0 410.6 L771.0 410.6 L772.0 410.7 L773.0 410.7 L774.0 410.8 L775.0 410.8 L776.0 410.8 L777.0 410.9 L778.0 410.9 L779.0 411.0 L780.0 411.0 L781.0 411.0 L782.0 411.1 L783.0 411.1 L784.0 411.1 L785.0 411.2 L786.0 411.2 L787.0 411.2 L788.0 411.3 L789.0 411.3 L790.0 411.3 L791.0 411.3 L792.0 411.4 L793.0 411.4 L794.0 411.4 L795.0 411.5 L796.0 411.5 L797.0 411.5 L798.0 411.5 L799.0 411.6 L800.0 411.6 L801.0 411.6 L802.0 411.6 L803.0 411.7 L804.0 411.7 L805.0 411.7 L806.0 411.7 L807.0 411.8 L808.0 411.8 L809.0 411.8 L810.0 411.9 L811.0 411.9 L812.0 411.9 L812.8 411.9" stroke="#f62219" stroke-width="6" stroke-dasharray="24 19.5 3 19.5"/>
<path d="M135.0 465.1 L136.0 465.0 L137.0 465.0 L138.0 464.9 L139.0 464.8 L140.0 464.7 L141.0 464.6 L142.0 464.6 L143.0 464.5 L144.0 464.4 L145.0 464.3 L146.0 464.3 L147.0 464.2 L148.0 464.1 L149.0 464.0 L150.0 463.9 L151.0 463.9 L152.0 463.8 L153.0 463.7 L154.0 463.6 L155.0 463.6 L156.0 463.5 L157.0 463.4 L158.0 463.3 L159.0 463.2 L160.0 463.2 L161.0 463.1 L162.0 463.0 L163.0 462.9 L164.0 462.9 L165.0 462.8 L166.0 462.7 L167.0 462.6 L168.0 462.5 L169.0 462.5 L170.0 462.4 L171.0 462.3 L172.0 462.2 L173.0 462.1 L174.0 462.1 L175.0 462.0 L176.0 461.9 L177.0 461.8 L178.0 461.7 L179.0 461.6 L180.0 461.6 L181.0 461.5 L182.0 461.4 L183.0 461.3 L184.0 461.2 L185.0 461.1 L186.0 461.1 L187.0 461.0 L188.0 460.9 L189.0 460.8 L190.0 460.7 L191.0 460.6 L192.0 460.5 L193.0 460.5 L194.0 460.4 L195.0 460.3 L196.0 460.2 L197.0 460.1 L198.0 460.0 L199.0 459.9 L200.0 459.8 L201.0 459.8 L202.0 459.7 L203.0 459.6 L204.0 459.5 L205.0 459.4 L206.0 459.3 L207.0 459.2 L208.0 459.1 L209.0 459.0 L210.0 458.9 L211.0 458.8 L212.0 458.7 L213.0 458.6 L214.0 458.5 L215.0 458.4 L216.0 458.3 L217.0 458.2 L218.0 458.1 L219.0 458.0 L220.0 457.9 L221.0 457.8 L222.0 457.7 L223.0 457.6 L224.0 457.5 L225.0 457.4 L226.0 457.3 L227.0 457.2 L228.0 457.1 L229.0 457.0 L230.0 456.9 L231.0 456.8 L232.0 456.7 L233.0 456.5 L234.0 456.4 L235.0 456.3 L236.0 456.2 L237.0 456.1 L238.0 456.0 L239.0 455.9 L240.0 455.7 L241.0 455.6 L242.0 455.5 L243.0 455.4 L244.0 455.3 L245.0 455.2 L246.0 455.0 L247.0 454.9 L248.0 454.8 L249.0 454.7 L250.0 454.5 L251.0 454.4 L252.0 454.3 L253.0 454.2 L254.0 454.0 L255.0 453.9 L256.0 453.8 L257.0 453.6 L258.0 453.5 L259.0 453.4 L260.0 453.2 L261.0 453.1 L262.0 453.0 L263.0 452.8 L264.0 452.7 L265.0 452.5 L266.0 452.4 L267.0 452.3 L268.0 452.1 L269.0 452.0 L270.0 451.8 L271.0 451.7 L272.0 451.5 L273.0 451.4 L274.0 451.2 L275.0 451.1 L276.0 450.9 L277.0 450.8 L278.0 450.6 L279.0 450.5 L280.0 450.3 L281.0 450.1 L282.0 450.0 L283.0 449.8 L284.0 449.7 L285.0 449.5 L286.0 449.3 L287.0 449.2 L288.0 449.0 L289.0 448.8 L290.0 448.7 L291.0 448.5 L292.0 448.3 L293.0 448.1 L294.0 448.0 L295.0 447.8 L296.0 447.6 L297.0 447.4 L298.0 447.2 L299.0 447.1 L300.0 446.9 L301.0 446.7 L302.0 446.5 L303.0 446.3 L304.0 446.1 L305.0 445.9 L306.0 445.7 L307.0 445.6 L308.0 445.4 L309.0 445.2 L310.0 445.0 L311.0 444.8 L312.0 444.6 L313.0 444.4 L314.0 444.2 L315.0 444.0 L316.0 443.7 L317.0 443.5 L318.0 443.3 L319.0 443.1 L320.0 442.9 L321.0 442.7 L322.0 442.5 L323.0 442.3 L324.0 442.0 L325.0 441.8 L326.0 441.6 L327.0 441.4 L328.0 441.1 L329.0 440.9 L330.0 440.7 L331.0 440.4 L332.0 440.2 L333.0 440.0 L334.0 439.7 L335.0 439.5 L336.0 439.3 L337.0 439.0 L338.0 438.8 L339.0 438.5 L340.0 438.3 L341.0 438.0 L342.0 437.8 L343.0 437.5 L344.0 437.3 L345.0 437.0 L346.0 436.8 L347.0 436.5 L348.0 436.3 L349.0 436.0 L350.0 435.7 L351.0 435.5 L352.0 435.2 L353.0 434.9 L354.0 434.6 L355.0 434.4 L356.0 434.1 L357.0 433.8 L358.0 433.5 L359.0 433.3 L360.0 433.0 L361.0 432.7 L362.0 432.4 L363.0 432.1 L364.0 431.8 L365.0 431.5 L366.0 431.2 L367.0 430.9 L368.0 430.6 L369.0 430.3 L370.0 430.0 L371.0 429.7 L372.0 429.3 L373.0 429.0 L374.0 428.7 L375.0 428.4 L376.0 428.0 L377.0 427.7 L378.0 427.4 L379.0 427.0 L380.0 426.7 L381.0 426.3 L382.0 426.0 L383.0 425.6 L384.0 425.3 L385.0 424.9 L386.0 424.5 L387.0 424.2 L388.0 423.8 L389.0 423.4 L390.0 423.0 L391.0 422.6 L392.0 422.3 L393.0 421.9 L394.0 421.5 L395.0 421.1 L396.0 420.6 L397.0 420.2 L398.0 419.8 L399.0 419.4 L400.0 419.0 L401.0 418.5 L402.0 418.1 L403.0 417.7 L404.0 417.2 L405.0 416.8 L406.0 416.3 L407.0 415.9 L408.0 415.4 L409.0 414.9 L410.0 414.5 L411.0 414.0 L412.0 413.5 L413.0 413.0 L414.0 412.5 L415.0 412.0 L416.0 411.5 L417.0 411.0 L418.0 410.5 L419.0 410.0 L420.0 409.4 L421.0 408.9 L422.0 408.4 L423.0 407.8 L424.0 407.3 L425.0 406.7 L426.0 406.1 L427.0 405.6 L428.0 405.0 L429.0 404.4 L430.0 403.8 L431.0 403.2 L432.0 402.6 L433.0 402.0 L434.0 401.4 L435.0 400.8 L436.0 400.2 L437.0 399.5 L438.0 398.9 L439.0 398.2 L440.0 397.6 L441.0 396.9 L442.0 396.3 L443.0 395.6 L444.0 394.9 L445.0 394.2 L446.0 393.5 L447.0 392.8 L448.0 392.1 L449.0 391.4 L450.0 390.7 L451.0 390.0 L452.0 389.2 L453.0 388.5 L454.0 387.7 L455.0 387.0 L456.0 386.2 L457.0 385.4 L458.0 384.6 L459.0 383.8 L460.0 383.0 L461.0 382.2 L462.0 381.4 L463.0 380.6 L464.0 379.8 L465.0 378.9 L466.0 378.1 L467.0 377.2 L468.0 376.3 L469.0 375.5 L470.0 374.6 L471.0 373.7 L472.0 372.8 L473.0 371.9 L474.0 371.0 L475.0 370.1 L476.0 369.2 L477.0 368.2 L478.0 367.3 L479.0 366.4 L480.0 365.5 L481.0 364.5 L482.0 363.6 L483.0 362.7 L484.0 361.8 L485.0 360.9 L486.0 360.0 L487.0 359.0 L488.0 358.1 L489.0 357.3 L490.0 356.4 L491.0 355.5 L492.0 354.6 L493.0 353.8 L494.0 352.9 L495.0 352.1 L496.0 351.3 L497.0 350.5 L498.0 349.7 L499.0 348.9 L500.0 348.1 L501.0 347.4 L502.0 346.7 L503.0 346.0 L504.0 345.3 L505.0 344.6 L506.0 343.9 L507.0 343.3 L508.0 342.7 L509.0 342.1 L510.0 341.6 L511.0 341.0 L512.0 340.5 L513.0 340.1 L514.0 339.6 L515.0 339.2 L516.0 338.8 L517.0 338.4 L518.0 338.1 L519.0 337.8 L520.0 337.5 L521.0 337.3 L522.0 337.1 L523.0 336.9 L524.0 336.8 L525.0 336.7 L526.0 336.7 L527.0 336.6 L528.0 336.7 L529.0 336.7 L530.0 336.8 L531.0 337.0 L532.0 337.2 L533.0 337.4 L534.0 337.7 L535.0 338.0 L536.0 338.3 L537.0 338.7 L538.0 339.2 L539.0 339.7 L540.0 340.2 L541.0 340.7 L542.0 341.3 L543.0 342.0 L544.0 342.7 L545.0 343.4 L546.0 344.2 L547.0 345.0 L548.0 345.8 L549.0 346.7 L550.0 347.7 L551.0 348.6 L552.0 349.7 L553.0 350.7 L554.0 351.8 L555.0 353.0 L556.0 354.2 L557.0 355.4 L558.0 356.7 L559.0 358.0 L560.0 359.3 L561.0 360.7 L562.0 362.1 L563.0 363.6 L564.0 365.1 L565.0 366.7 L566.0 368.3 L567.0 369.9 L568.0 371.6 L569.0 373.3 L570.0 375.1 L571.0 376.9 L572.0 378.7 L573.0 380.5 L574.0 382.4 L575.0 384.3 L576.0 386.2 L577.0 388.1 L578.0 390.0 L579.0 392.0 L580.0 394.0 L581.0 396.0 L582.0 398.0 L583.0 400.0 L584.0 402.0 L585.0 404.0 L586.0 406.0 L587.0 408.0 L588.0 410.0 L589.0 411.9 L590.0 413.9 L591.0 415.9 L592.0 417.9 L593.0 419.8 L594.0 421.7 L595.0 423.7 L596.0 425.6 L597.0 427.5 L598.0 429.3 L599.0 431.2 L600.0 433.0 L601.0 434.8 L602.0 436.6 L603.0 438.4 L604.0 440.1 L605.0 441.9 L606.0 443.6 L607.0 445.2 L608.0 446.9 L609.0 448.5 L610.0 450.1 L611.0 451.6 L612.0 453.2 L613.0 454.7 L614.0 456.2 L615.0 457.6 L616.0 459.1 L617.0 460.5 L618.0 461.8 L619.0 463.2 L620.0 464.5 L621.0 465.8 L622.0 467.0 L623.0 468.3 L624.0 469.5 L625.0 470.7 L626.0 471.8 L627.0 473.0 L628.0 474.1 L629.0 475.2 L630.0 476.2 L631.0 477.3 L632.0 478.3 L633.0 479.3 L634.0 480.3 L635.0 481.2 L636.0 482.1 L637.0 483.0 L638.0 483.9 L639.0 484.8 L640.0 485.6 L641.0 486.4 L642.0 487.2 L643.0 488.0 L644.0 488.8 L645.0 489.5 L646.0 490.2 L647.0 490.9 L648.0 491.6 L649.0 492.3 L650.0 492.9 L651.0 493.5 L652.0 494.1 L653.0 494.7 L654.0 495.3 L655.0 495.8 L656.0 496.4 L657.0 496.9 L658.0 497.4 L659.0 497.9 L660.0 498.4 L661.0 498.9 L662.0 499.3 L663.0 499.7 L664.0 500.2 L665.0 500.6 L666.0 500.9 L667.0 501.3 L668.0 501.7 L669.0 502.1 L670.0 502.4 L671.0 502.7 L672.0 503.0 L673.0 503.3 L674.0 503.6 L675.0 503.9 L676.0 504.2 L677.0 504.5 L678.0 504.7 L679.0 505.0 L680.0 505.2 L681.0 505.4 L682.0 505.7 L683.0 505.9 L684.0 506.1 L685.0 506.3 L686.0 506.5 L687.0 506.6 L688.0 506.8 L689.0 507.0 L690.0 507.1 L691.0 507.3 L692.0 507.4 L693.0 507.6 L694.0 507.7 L695.0 507.9 L696.0 508.0 L697.0 508.1 L698.0 508.2 L699.0 508.4 L700.0 508.5 L701.0 508.6 L702.0 508.7 L703.0 508.8 L704.0 508.9 L705.0 509.0 L706.0 509.1 L707.0 509.2 L708.0 509.3 L709.0 509.4 L710.0 509.5 L711.0 509.6 L712.0 509.7 L713.0 509.8 L714.0 509.8 L715.0 509.9 L716.0 510.0 L717.0 510.1 L718.0 510.2 L719.0 510.2 L720.0 510.3 L721.0 510.4 L722.0 510.5 L723.0 510.5 L724.0 510.6 L725.0 510.7 L726.0 510.7 L727.0 510.8 L728.0 510.8 L729.0 510.9 L730.0 510.9 L731.0 511.0 L732.0 511.1 L733.0 511.1 L734.0 511.2 L735.0 511.2 L736.0 511.2 L737.0 511.3 L738.0 511.3 L739.0 511.4 L740.0 511.4 L741.0 511.4 L742.0 511.5 L743.0 511.5 L744.0 511.5 L745.0 511.6 L746.0 511.6 L747.0 511.6 L748.0 511.7 L749.0 511.7 L750.0 511.7 L751.0 511.7 L752.0 511.8 L753.0 511.8 L754.0 511.8 L755.0 511.8 L756.0 511.8 L757.0 511.8 L758.0 511.8 L759.0 511.9 L760.0 511.9 L761.0 511.9 L762.0 511.9 L763.0 511.9 L764.0 511.9 L765.0 511.9 L766.0 511.9 L767.0 511.9 L768.0 511.9 L769.0 511.9 L770.0 511.9 L771.0 511.9 L772.0 511.9 L773.0 511.9 L774.0 511.9 L775.0 511.9 L776.0 511.9 L777.0 511.9 L778.0 511.9 L779.0 511.8 L780.0 511.8 L781.0 511.8 L782.0 511.8 L783.0 511.8 L784.0 511.8 L785.0 511.8 L786.0 511.7 L787.0 511.7 L788.0 511.7 L789.0 511.7 L790.0 511.7 L791.0 511.7 L792.0 511.6 L793.0 511.6 L794.0 511.6 L795.0 511.6 L796.0 511.5 L797.0 511.5 L797.3 511.5" stroke="#f62219" stroke-width="6" stroke-dasharray="24 19.5 3 19.5"/>
<path d="M135.0 550.7 L136.0 550.6 L137.0 550.6 L138.0 550.5 L139.0 550.4 L140.0 550.4 L141.0 550.3 L142.0 550.2 L143.0 550.2 L144.0 550.1 L145.0 550.0 L146.0 549.9 L147.0 549.9 L148.0 549.8 L149.0 549.7 L150.0 549.6 L151.0 549.6 L152.0 549.5 L153.0 549.4 L154.0 549.3 L155.0 549.2 L156.0 549.2 L157.0 549.1 L158.0 549.0 L159.0 548.9 L160.0 548.8 L161.0 548.7 L162.0 548.6 L163.0 548.6 L164.0 548.5 L165.0 548.4 L166.0 548.3 L167.0 548.2 L168.0 548.1 L169.0 548.0 L170.0 547.9 L171.0 547.8 L172.0 547.7 L173.0 547.6 L174.0 547.5 L175.0 547.4 L176.0 547.3 L177.0 547.2 L178.0 547.1 L179.0 547.0 L180.0 546.9 L181.0 546.8 L182.0 546.7 L183.0 546.6 L184.0 546.5 L185.0 546.4 L186.0 546.3 L187.0 546.2 L188.0 546.1 L189.0 546.0 L190.0 545.9 L191.0 545.8 L192.0 545.7 L193.0 545.6 L194.0 545.4 L195.0 545.3 L196.0 545.2 L197.0 545.1 L198.0 545.0 L199.0 544.9 L200.0 544.8 L201.0 544.6 L202.0 544.5 L203.0 544.4 L204.0 544.3 L205.0 544.2 L206.0 544.0 L207.0 543.9 L208.0 543.8 L209.0 543.7 L210.0 543.5 L211.0 543.4 L212.0 543.3 L213.0 543.2 L214.0 543.0 L215.0 542.9 L216.0 542.8 L217.0 542.7 L218.0 542.5 L219.0 542.4 L220.0 542.3 L221.0 542.1 L222.0 542.0 L223.0 541.9 L224.0 541.7 L225.0 541.6 L226.0 541.4 L227.0 541.3 L228.0 541.2 L229.0 541.0 L230.0 540.9 L231.0 540.8 L232.0 540.6 L233.0 540.5 L234.0 540.3 L235.0 540.2 L236.0 540.0 L237.0 539.9 L238.0 539.7 L239.0 539.6 L240.0 539.5 L241.0 539.3 L242.0 539.2 L243.0 539.0 L244.0 538.9 L245.0 538.7 L246.0 538.6 L247.0 538.4 L248.0 538.2 L249.0 538.1 L250.0 537.9 L251.0 537.8 L252.0 537.6 L253.0 537.5 L254.0 537.3 L255.0 537.1 L256.0 537.0 L257.0 536.8 L258.0 536.7 L259.0 536.5 L260.0 536.3 L261.0 536.2 L262.0 536.0 L263.0 535.8 L264.0 535.7 L265.0 535.5 L266.0 535.4 L267.0 535.2 L268.0 535.0 L269.0 534.8 L270.0 534.7 L271.0 534.5 L272.0 534.3 L273.0 534.2 L274.0 534.0 L275.0 533.8 L276.0 533.6 L277.0 533.5 L278.0 533.3 L279.0 533.1 L280.0 532.9 L281.0 532.8 L282.0 532.6 L283.0 532.4 L284.0 532.2 L285.0 532.0 L286.0 531.9 L287.0 531.7 L288.0 531.5 L289.0 531.3 L290.0 531.1 L291.0 530.9 L292.0 530.7 L293.0 530.6 L294.0 530.4 L295.0 530.2 L296.0 530.0 L297.0 529.8 L298.0 529.6 L299.0 529.4 L300.0 529.2 L301.0 529.0 L302.0 528.8 L303.0 528.7 L304.0 528.5 L305.0 528.3 L306.0 528.1 L307.0 527.9 L308.0 527.7 L309.0 527.5 L310.0 527.3 L311.0 527.1 L312.0 526.9 L313.0 526.7 L314.0 526.5 L315.0 526.3 L316.0 526.1 L317.0 525.9 L318.0 525.7 L319.0 525.4 L320.0 525.2 L321.0 525.0 L322.0 524.8 L323.0 524.6 L324.0 524.4 L325.0 524.2 L326.0 524.0 L327.0 523.8 L328.0 523.6 L329.0 523.3 L330.0 523.1 L331.0 522.9 L332.0 522.7 L333.0 522.5 L334.0 522.3 L335.0 522.0 L336.0 521.8 L337.0 521.6 L338.0 521.4 L339.0 521.1 L340.0 520.9 L341.0 520.7 L342.0 520.5 L343.0 520.2 L344.0 520.0 L345.0 519.8 L346.0 519.5 L347.0 519.3 L348.0 519.0 L349.0 518.8 L350.0 518.6 L351.0 518.3 L352.0 518.1 L353.0 517.8 L354.0 517.6 L355.0 517.3 L356.0 517.0 L357.0 516.8 L358.0 516.5 L359.0 516.3 L360.0 516.0 L361.0 515.7 L362.0 515.5 L363.0 515.2 L364.0 514.9 L365.0 514.7 L366.0 514.4 L367.0 514.1 L368.0 513.8 L369.0 513.5 L370.0 513.2 L371.0 512.9 L372.0 512.7 L373.0 512.4 L374.0 512.1 L375.0 511.8 L376.0 511.5 L377.0 511.1 L378.0 510.8 L379.0 510.5 L380.0 510.2 L381.0 509.9 L382.0 509.6 L383.0 509.2 L384.0 508.9 L385.0 508.6 L386.0 508.3 L387.0 507.9 L388.0 507.6 L389.0 507.2 L390.0 506.9 L391.0 506.5 L392.0 506.2 L393.0 505.8 L394.0 505.5 L395.0 505.1 L396.0 504.7 L397.0 504.4 L398.0 504.0 L399.0 503.6 L400.0 503.2 L401.0 502.8 L402.0 502.5 L403.0 502.1 L404.0 501.7 L405.0 501.3 L406.0 500.9 L407.0 500.4 L408.0 500.0 L409.0 499.6 L410.0 499.2 L411.0 498.8 L412.0 498.3 L413.0 497.9 L414.0 497.5 L415.0 497.0 L416.0 496.6 L417.0 496.1 L418.0 495.7 L419.0 495.2 L420.0 494.8 L421.0 494.3 L422.0 493.9 L423.0 493.4 L424.0 492.9 L425.0 492.5 L426.0 492.0 L427.0 491.5 L428.0 491.1 L429.0 490.6 L430.0 490.1 L431.0 489.6 L432.0 489.2 L433.0 488.7 L434.0 488.2 L435.0 487.8 L436.0 487.3 L437.0 486.9 L438.0 486.4 L439.0 485.9 L440.0 485.5 L441.0 485.0 L442.0 484.6 L443.0 484.1 L444.0 483.7 L445.0 483.3 L446.0 482.8 L447.0 482.4 L448.0 482.0 L449.0 481.6 L450.0 481.1 L451.0 480.7 L452.0 480.3 L453.0 479.9 L454.0 479.6 L455.0 479.2 L456.0 478.8 L457.0 478.4 L458.0 478.1 L459.0 477.7 L460.0 477.4 L461.0 477.0 L462.0 476.7 L463.0 476.4 L464.0 476.1 L465.0 475.8 L466.0 475.5 L467.0 475.2 L468.0 474.9 L469.0 474.7 L470.0 474.4 L471.0 474.2 L472.0 473.9 L473.0 473.7 L474.0 473.5 L475.0 473.3 L476.0 473.2 L477.0 473.0 L478.0 472.8 L479.0 472.7 L480.0 472.6 L481.0 472.4 L482.0 472.3 L483.0 472.2 L484.0 472.2 L485.0 472.1 L486.0 472.1 L487.0 472.0 L488.0 472.0 L489.0 472.0 L490.0 472.0 L491.0 472.1 L492.0 472.1 L493.0 472.2 L494.0 472.3 L495.0 472.4 L496.0 472.5 L497.0 472.6 L498.0 472.8 L499.0 472.9 L500.0 473.1 L501.0 473.3 L502.0 473.5 L503.0 473.8 L504.0 474.0 L505.0 474.3 L506.0 474.6 L507.0 474.9 L508.0 475.2 L509.0 475.5 L510.0 475.9 L511.0 476.2 L512.0 476.6 L513.0 477.0 L514.0 477.4 L515.0 477.8 L516.0 478.3 L517.0 478.7 L518.0 479.2 L519.0 479.7 L520.0 480.2 L521.0 480.7 L522.0 481.2 L523.0 481.8 L524.0 482.3 L525.0 482.9 L526.0 483.5 L527.0 484.1 L528.0 484.7 L529.0 485.4 L530.0 486.0 L531.0 486.7 L532.0 487.4 L533.0 488.1 L534.0 488.8 L535.0 489.5 L536.0 490.2 L537.0 491.0 L538.0 491.8 L539.0 492.5 L540.0 493.3 L541.0 494.1 L542.0 495.0 L543.0 495.8 L544.0 496.7 L545.0 497.5 L546.0 498.4 L547.0 499.3 L548.0 500.2 L549.0 501.1 L550.0 502.1 L551.0 503.0 L552.0 504.0 L553.0 505.0 L554.0 506.0 L555.0 507.0 L556.0 508.0 L557.0 509.0 L558.0 510.0 L559.0 511.1 L560.0 512.2 L561.0 513.3 L562.0 514.4 L563.0 515.5 L564.0 516.6 L565.0 517.7 L566.0 518.8 L567.0 520.0 L568.0 521.1 L569.0 522.3 L570.0 523.4 L571.0 524.6 L572.0 525.8 L573.0 527.0 L574.0 528.2 L575.0 529.3 L576.0 530.5 L577.0 531.7 L578.0 532.9 L579.0 534.1 L580.0 535.3 L581.0 536.5 L582.0 537.7 L583.0 538.9 L584.0 540.1 L585.0 541.3 L586.0 542.4 L587.0 543.6 L588.0 544.8 L589.0 546.0 L590.0 547.1 L591.0 548.3 L592.0 549.4 L593.0 550.6 L594.0 551.7 L595.0 552.8 L596.0 553.9 L597.0 555.0 L598.0 556.1 L599.0 557.2 L600.0 558.3 L601.0 559.4 L602.0 560.4 L603.0 561.5 L604.0 562.5 L605.0 563.5 L606.0 564.6 L607.0 565.6 L608.0 566.5 L609.0 567.5 L610.0 568.5 L611.0 569.4 L612.0 570.4 L613.0 571.3 L614.0 572.2 L615.0 573.1 L616.0 574.0 L617.0 574.9 L618.0 575.7 L619.0 576.6 L620.0 577.4 L621.0 578.2 L622.0 579.0 L623.0 579.8 L624.0 580.6 L625.0 581.3 L626.0 582.1 L627.0 582.8 L628.0 583.6 L629.0 584.3 L630.0 585.0 L631.0 585.7 L632.0 586.3 L633.0 587.0 L634.0 587.7 L635.0 588.3 L636.0 588.9 L637.0 589.6 L638.0 590.2 L639.0 590.8 L640.0 591.3 L641.0 591.9 L642.0 592.5 L643.0 593.0 L644.0 593.6 L645.0 594.1 L646.0 594.6 L647.0 595.1 L648.0 595.6 L649.0 596.1 L650.0 596.6 L651.0 597.1 L652.0 597.5 L653.0 598.0 L654.0 598.4 L655.0 598.8 L656.0 599.2 L657.0 599.7 L658.0 600.1 L659.0 600.4 L660.0 600.8 L661.0 601.2 L662.0 601.6 L663.0 601.9 L664.0 602.3 L665.0 602.6 L666.0 602.9 L667.0 603.2 L668.0 603.6 L669.0 603.9 L670.0 604.2 L671.0 604.4 L672.0 604.7 L673.0 605.0 L674.0 605.3 L675.0 605.5 L676.0 605.8 L677.0 606.0 L678.0 606.2 L679.0 606.5 L680.0 606.7 L681.0 606.9 L682.0 607.1 L683.0 607.3 L684.0 607.5 L685.0 607.7 L686.0 607.9 L687.0 608.0 L688.0 608.2 L689.0 608.4 L690.0 608.5 L691.0 608.7 L692.0 608.8 L693.0 608.9 L694.0 609.1 L695.0 609.2 L696.0 609.3 L697.0 609.4 L698.0 609.5 L699.0 609.7 L700.0 609.8 L701.0 609.8 L702.0 609.9 L703.0 610.0 L704.0 610.1 L705.0 610.2 L706.0 610.2 L707.0 610.3 L708.0 610.4 L709.0 610.4 L710.0 610.5 L711.0 610.5 L712.0 610.6 L713.0 610.6 L714.0 610.7 L715.0 610.7 L716.0 610.8 L717.0 610.8 L718.0 610.8 L719.0 610.8 L720.0 610.9 L721.0 610.9 L722.0 610.9 L723.0 610.9 L724.0 610.9 L725.0 610.9 L726.0 610.9 L727.0 610.9 L728.0 610.9 L729.0 610.9 L730.0 610.9 L731.0 610.9 L732.0 610.9 L733.0 610.9 L734.0 610.9 L735.0 610.9 L736.0 610.9 L737.0 610.9 L738.0 610.9 L739.0 610.9 L740.0 610.8 L741.0 610.8 L742.0 610.8 L743.0 610.8 L744.0 610.8 L745.0 610.8 L746.0 610.7 L747.0 610.7 L748.0 610.7 L749.0 610.7 L750.0 610.7 L751.0 610.7 L752.0 610.6 L753.0 610.6 L754.0 610.6 L755.0 610.6 L756.0 610.6 L757.0 610.6 L758.0 610.6 L759.0 610.5 L760.0 610.5 L761.0 610.5 L762.0 610.5 L763.0 610.5 L764.0 610.5 L765.0 610.5 L766.0 610.5 L767.0 610.5 L768.0 610.5 L769.0 610.5 L770.0 610.5 L771.0 610.5 L772.0 610.6 L773.0 610.6 L774.0 610.6 L775.0 610.6 L776.0 610.6 L777.0 610.7 L778.0 610.7 L779.0 610.7 L780.0 610.8 L781.0 610.8 L782.0 610.9 L783.0 610.9 L784.0 611.0 L785.0 611.0 L786.0 611.1 L787.0 611.2 L788.0 611.2 L789.0 611.3 L790.0 611.4 L791.0 611.5 L792.0 611.5 L793.0 611.6 L794.0 611.7 L795.0 611.8 L795.3 611.9" stroke="#f62219" stroke-width="6" stroke-dasharray="15.5 20.7 1 20.7 1 20.7"/>
</g>
<rect x="490" y="70" width="50" height="558" fill="#8a8a8a" fill-opacity="0.33"/>
<g stroke="#000" fill="none" stroke-width="4">
<rect x="135" y="69" width="678" height="561"/>
<line x1="135" y1="630" x2="135" y2="641"/>
<line x1="474" y1="630" x2="474" y2="641"/>
<line x1="813" y1="630" x2="813" y2="641"/>
<line x1="304.5" y1="630" x2="304.5" y2="636"/>
<line x1="304.5" y1="69" x2="304.5" y2="74.5"/>
<line x1="643.5" y1="630" x2="643.5" y2="636"/>
<line x1="643.5" y1="69" x2="643.5" y2="74.5"/>
<line x1="124" y1="69" x2="135" y2="69"/>
<line x1="124" y1="630" x2="135" y2="630"/>
<line x1="129" y1="349.5" x2="135" y2="349.5"/>
</g>
<g font-family='"Liberation Sans", Arial, Helvetica, sans-serif' fill="#000">
<text x="1" y="31" font-size="35">(a)</text>
<text x="117" y="81.4" font-size="42" text-anchor="end">2.2</text>
<text x="117" y="643.2" font-size="42" text-anchor="end">-0.2</text>
<text x="135" y="677.8" font-size="36" text-anchor="middle">1.65</text>
<text x="475" y="677.8" font-size="36" text-anchor="middle">1.69</text>
<text x="813" y="677.8" font-size="36" text-anchor="middle">1.73</text>
<text x="474.5" y="727.5" font-size="41.5" text-anchor="middle">Energy (eV)</text>
<text transform="translate(31.1 348.6) rotate(-90)" font-size="42.5" text-anchor="middle">Reflection Contrast (a.u.)</text>
<text x="639" y="122.1" font-size="26.5">0 V nm<tspan font-size="17" dy="-8.2">-1</tspan></text>
<text x="709" y="392" font-size="26.5">0</text>
<text x="636" y="474.3" font-size="25.8">1.4×10<tspan font-size="17.5" dx="2.5" dy="-8.5">12</tspan><tspan dx="0.5" dy="8.5">cm</tspan><tspan font-size="17.5" dx="0.5" dy="-8.5">-2</tspan></text>
<text x="629.5" y="549.4" font-size="26">-2.1×10<tspan font-size="17.5" dx="3.5" dy="-8.5">12</tspan><tspan dx="0.5" dy="8.5">cm</tspan><tspan font-size="17.5" dx="0.5" dy="-8.5">-2</tspan></text>
</g>
<g shape-rendering="crispEdges">
<path fill="#d7332e" d="M1011 57H1014.4V63.9H1011zM1014.4 63.9H1021.6V70.7H1014.4zM1021.6 70.7H1028.8V77.6H1021.6zM1028.8 77.6H1036.1V84.5H1028.8zM1036.1 84.5H1043.3V91.3H1036.1zM1043.3 91.3H1050.5V98.2H1043.3zM1050.5 98.2H1057.7V105.1H1050.5zM1057.7 105.1H1064.9V111.9H1057.7zM1072.1 125.7H1079.4V132.5H1072.1zM1072.1 132.5H1079.4V139.4H1072.1zM1072.1 139.4H1079.4V146.3H1072.1zM1064.9 160H1072.1V166.9H1064.9zM1057.7 173.7H1064.9V180.6H1057.7zM1014.4 201.2H1021.6V208.1H1014.4z"/>
<path fill="#d8352f" d="M1014.4 57H1021.6V63.9H1014.4zM1021.6 63.9H1028.8V70.7H1021.6zM1028.8 70.7H1036.1V77.6H1028.8zM1036.1 77.6H1043.3V84.5H1036.1zM1043.3 84.5H1050.5V91.3H1043.3zM1050.5 91.3H1057.7V98.2H1050.5zM1057.7 98.2H1064.9V105.1H1057.7zM1064.9 105.1H1072.1V111.9H1064.9zM1079.4 132.5H1086.6V139.4H1079.4zM1072.1 153.1H1079.4V160H1072.1zM1057.7 180.6H1064.9V187.5H1057.7zM1028.8 201.2H1036.1V208.1H1028.8zM1353.7 359.2H1360.9V366H1353.7zM1360.9 366H1368.1V372.9H1360.9z"/>
<path fill="#d93830" d="M1021.6 57H1028.8V63.9H1021.6zM1028.8 63.9H1036.1V70.7H1028.8zM1036.1 70.7H1043.3V77.6H1036.1zM1043.3 77.6H1050.5V84.5H1043.3zM1360.9 359.2H1368.1V366H1360.9zM1454.8 448.4H1462V455.3H1454.8zM1454.8 455.3H1469.2V462.2H1454.8zM1476.4 469H1483.7V475.9H1476.4z"/>
<path fill="#da3b33" d="M1028.8 57H1036.1V63.9H1028.8zM1036.1 63.9H1043.3V70.7H1036.1zM1086.6 118.8H1093.8V125.7H1086.6zM1086.6 146.3H1093.8V153.1H1086.6zM1310.4 311.1H1317.6V318H1310.4zM1440.3 448.4H1447.6V455.3H1440.3zM1469.2 455.3H1476.4V462.2H1469.2zM1476.4 462.2H1483.7V469H1476.4zM1469.2 475.9H1476.4V482.8H1469.2zM1505.3 496.5H1512.5V503.4H1505.3zM1592 565.2H1603V572.1H1592zM1592 572.1H1599.2V578.9H1592z"/>
<path fill="#db4136" d="M1036.1 57H1043.3V63.9H1036.1zM1043.3 63.9H1050.5V70.7H1043.3zM1050.5 70.7H1057.7V77.6H1050.5zM1129.9 146.3H1137.1V153.1H1129.9zM1086.6 160H1093.8V166.9H1086.6zM1064.9 194.3H1072.1V201.2H1064.9zM1259.9 263H1267.1V269.9H1259.9zM1274.3 276.8H1281.5V283.6H1274.3zM1281.5 290.5H1288.7V297.4H1281.5zM1310.4 304.2H1317.6V311.1H1310.4zM1382.6 372.9H1389.8V379.8H1382.6zM1411.5 427.8H1418.7V434.7H1411.5zM1534.2 517.1H1541.4V524H1534.2z"/>
<path fill="#de483a" d="M1043.3 57H1050.5V63.9H1043.3zM1050.5 63.9H1057.7V70.7H1050.5zM1057.7 70.7H1064.9V77.6H1057.7zM1064.9 77.6H1072.1V84.5H1064.9zM1072.1 84.5H1079.4V91.3H1072.1zM1079.4 91.3H1086.6V98.2H1079.4zM1086.6 98.2H1093.8V105.1H1086.6zM1093.8 105.1H1101V111.9H1093.8zM1122.7 153.1H1129.9V160H1122.7zM1151.6 153.1H1158.8V160H1151.6zM1093.8 160H1101V166.9H1093.8zM1166 180.6H1173.2V187.5H1166zM1173.2 187.5H1180.4V194.3H1173.2zM1072.1 194.3H1079.4V201.2H1072.1zM1064.9 201.2H1072.1V208.1H1064.9zM1187.7 208.1H1194.9V215H1187.7zM1216.5 242.4H1223.8V249.3H1216.5zM1375.4 359.2H1382.6V366H1375.4zM1353.7 379.8H1360.9V386.6H1353.7zM1425.9 407.2H1433.1V414.1H1425.9zM1541.4 537.7H1548.6V544.6H1541.4zM1577.5 544.6H1584.7V551.5H1577.5zM1584.7 578.9H1592V585.8H1584.7z"/>
<path fill="#e05140" d="M1050.5 57H1057.7V63.9H1050.5zM1057.7 63.9H1064.9V70.7H1057.7zM1064.9 70.7H1072.1V77.6H1064.9zM1072.1 77.6H1079.4V84.5H1072.1zM1158.8 153.1H1166V160H1158.8zM1093.8 173.7H1101V180.6H1093.8zM1064.9 208.1H1072.1V215H1064.9zM1180.4 208.1H1187.7V215H1180.4zM1050.5 215H1057.7V221.8H1050.5zM1194.9 228.7H1202.1V235.6H1194.9zM1346.5 324.8H1353.7V331.7H1346.5zM1368.1 345.4H1375.4V352.3H1368.1zM1498.1 517.1H1505.3V524H1498.1zM1577.5 537.7H1584.7V544.6H1577.5z"/>
<path fill="#e45d47" d="M1057.7 57H1064.9V63.9H1057.7zM1064.9 63.9H1072.1V70.7H1064.9zM1072.1 70.7H1079.4V77.6H1072.1zM1079.4 77.6H1086.6V84.5H1079.4zM1086.6 84.5H1093.8V91.3H1086.6zM1166 153.1H1173.2V160H1166zM1079.4 208.1H1086.6V215H1079.4zM1187.7 235.6H1194.9V242.4H1187.7zM1353.7 324.8H1360.9V331.7H1353.7zM1360.9 331.7H1368.1V338.6H1360.9zM1375.4 345.4H1382.6V352.3H1375.4zM1382.6 352.3H1389.8V359.2H1382.6zM1440.3 407.2H1447.6V414.1H1440.3zM1454.8 503.4H1462V510.3H1454.8zM1462 510.3H1469.2V517.1H1462zM1577.5 530.9H1584.7V537.7H1577.5zM1548.6 565.2H1555.9V572.1H1548.6zM1584.7 620.1H1592V627H1584.7z"/>
<path fill="#e77151" d="M1064.9 57H1072.1V63.9H1064.9zM1216.5 194.3H1223.8V201.2H1216.5zM1223.8 201.2H1231V208.1H1223.8zM1231 208.1H1238.2V215H1231zM1036.1 235.6H1043.3V242.4H1036.1zM1093.8 235.6H1101V242.4H1093.8zM1274.3 249.3H1281.5V256.2H1274.3zM1281.5 256.2H1288.7V263H1281.5zM1288.7 263H1296V269.9H1288.7zM1231 283.6H1238.2V290.5H1231zM1267.1 318H1274.3V324.8H1267.1zM1353.7 318H1360.9V324.8H1353.7zM1570.3 517.1H1577.5V524H1570.3z"/>
<path fill="#ea8f5e" d="M1072.1 57H1079.4V63.9H1072.1zM1137.1 201.2H1144.3V208.1H1137.1zM1137.1 221.8H1144.3V228.7H1137.1zM1072.1 249.3H1079.4V256.2H1072.1zM1317.6 283.6H1324.8V290.5H1317.6z"/>
<path fill="#eeb06d" d="M1079.4 57H1086.6V63.9H1079.4zM1086.6 63.9H1093.8V70.7H1086.6zM1093.8 70.7H1101V77.6H1093.8zM1375.4 441.6H1382.6V448.4H1375.4zM1512.5 441.6H1519.8V448.4H1512.5z"/>
<path fill="#f1d381" d="M1086.6 57H1093.8V63.9H1086.6zM1093.8 63.9H1101V70.7H1093.8zM1209.3 166.9H1216.5V173.7H1209.3zM1238.2 194.3H1245.4V201.2H1238.2zM1245.4 201.2H1252.6V208.1H1245.4zM1011 256.2H1014.4V263H1011zM1050.5 263H1057.7V269.9H1050.5zM1122.7 263H1129.9V269.9H1122.7zM1180.4 269.9H1187.7V276.8H1180.4zM1368.1 304.2H1375.4V311.1H1368.1zM1231 311.1H1238.2V318H1231zM1238.2 318H1245.4V324.8H1238.2zM1404.2 331.7H1411.5V338.6H1404.2zM1310.4 386.6H1317.6V393.5H1310.4zM1512.5 427.8H1519.8V434.7H1512.5zM1570.3 482.8H1577.5V489.7H1570.3z"/>
<path fill="#f2e8a7" d="M1093.8 57H1101V63.9H1093.8zM1101 63.9H1108.2V70.7H1101zM1108.2 283.6H1115.5V290.5H1108.2zM1064.9 290.5H1079.4V297.4H1064.9zM1043.3 304.2H1050.5V311.1H1043.3zM1216.5 311.1H1223.8V318H1216.5zM1231 324.8H1238.2V331.7H1231zM1036.1 366H1043.3V372.9H1036.1zM1036.1 372.9H1043.3V379.8H1036.1zM1281.5 379.8H1288.7V386.6H1281.5zM1028.8 386.6H1036.1V393.5H1028.8zM1021.6 393.5H1028.8V400.4H1021.6zM1288.7 407.2H1296V414.1H1288.7zM1288.7 414.1H1296V421H1288.7z"/>
<path fill="#edf1cd" d="M1101 57H1108.2V63.9H1101zM1158.8 324.8H1166V331.7H1158.8zM1151.6 331.7H1158.8V338.6H1151.6zM1433.1 338.6H1440.3V345.4H1433.1zM1216.5 352.3H1223.8V359.2H1216.5zM1151.6 366H1158.8V372.9H1151.6zM1462 366H1469.2V372.9H1462zM1245.4 372.9H1252.6V379.8H1245.4zM1137.1 379.8H1144.3V386.6H1137.1zM1093.8 393.5H1101V400.4H1093.8zM1267.1 393.5H1274.3V400.4H1267.1zM1570.3 462.2H1577.5V469H1570.3z"/>
<path fill="#e5f3e9" d="M1108.2 57H1115.5V63.9H1108.2zM1115.5 63.9H1122.7V70.7H1115.5zM1144.3 91.3H1151.6V98.2H1144.3zM1187.7 125.7H1194.9V132.5H1187.7zM1296 228.7H1303.2V235.6H1296zM1303.2 235.6H1310.4V242.4H1303.2zM1498.1 386.6H1505.3V393.5H1498.1zM1252.6 537.7H1259.9V544.6H1252.6z"/>
<path fill="#dbf0f4" d="M1115.5 57H1122.7V63.9H1115.5zM1144.3 84.5H1151.6V91.3H1144.3zM1187.7 118.8H1194.9V125.7H1187.7zM1252.6 503.4H1259.9V510.3H1252.6z"/>
<path fill="#d1eaf1" d="M1122.7 57H1129.9V63.9H1122.7zM1129.9 63.9H1137.1V70.7H1129.9zM1137.1 70.7H1144.3V77.6H1137.1zM1144.3 77.6H1151.6V84.5H1144.3zM1187.7 111.9H1194.9V118.8H1187.7zM1346.5 256.2H1353.7V263H1346.5zM1411.5 297.4H1418.7V304.2H1411.5zM1462 338.6H1469.2V345.4H1462zM1469.2 345.4H1476.4V352.3H1469.2zM1476.4 352.3H1483.7V359.2H1476.4zM1519.8 386.6H1527V393.5H1519.8zM1259.9 407.2H1267.1V414.1H1259.9zM1548.6 414.1H1555.9V421H1548.6zM1563.1 427.8H1570.3V434.7H1563.1zM1570.3 434.7H1577.5V441.6H1570.3zM1245.4 565.2H1252.6V572.1H1245.4z"/>
<path fill="#cae6ef" d="M1129.9 57H1137.1V63.9H1129.9zM1144.3 70.7H1151.6V77.6H1144.3zM1151.6 77.6H1158.8V84.5H1151.6zM1194.9 111.9H1202.1V118.8H1194.9zM1368.1 263H1375.4V269.9H1368.1zM1389.8 276.8H1397V283.6H1389.8zM1411.5 290.5H1418.7V297.4H1411.5zM1447.6 318H1454.8V324.8H1447.6zM1454.8 324.8H1462V331.7H1454.8zM1512.5 372.9H1519.8V379.8H1512.5zM1231 386.6H1245.4V393.5H1231zM1158.8 393.5H1166V400.4H1158.8zM1122.7 400.4H1129.9V407.2H1122.7zM1245.4 544.6H1252.6V551.5H1245.4z"/>
<path fill="#c4e2ec" d="M1137.1 57H1144.3V63.9H1137.1zM1144.3 63.9H1151.6V70.7H1144.3zM1368.1 256.2H1375.4V263H1368.1zM1389.8 269.9H1397V276.8H1389.8zM1498.1 352.3H1505.3V359.2H1498.1zM1541.4 386.6H1548.6V393.5H1541.4zM1101 407.2H1108.2V414.1H1101zM1252.6 448.4H1259.9V455.3H1252.6zM1238.2 613.3H1245.4V620.1H1238.2z"/>
<path fill="#c0dfeb" d="M1144.3 57H1151.6V63.9H1144.3zM1151.6 63.9H1158.8V70.7H1151.6zM1194.9 98.2H1202.1V105.1H1194.9zM1353.7 242.4H1360.9V249.3H1353.7zM1389.8 263H1397V269.9H1389.8zM1411.5 276.8H1418.7V283.6H1411.5zM1433.1 290.5H1440.3V297.4H1433.1zM1490.9 338.6H1498.1V345.4H1490.9zM1498.1 345.4H1505.3V352.3H1498.1zM1534.2 372.9H1541.4V379.8H1534.2zM1541.4 379.8H1548.6V386.6H1541.4zM1548.6 386.6H1555.9V393.5H1548.6zM1180.4 393.5H1187.7V400.4H1180.4zM1555.9 393.5H1563.1V400.4H1555.9zM1563.1 400.4H1570.3V407.2H1563.1zM1577.5 414.1H1584.7V421H1577.5zM1584.7 421H1592V427.8H1584.7zM1592 427.8H1599.2V434.7H1592zM1245.4 517.1H1252.6V524H1245.4z"/>
<path fill="#bdddea" d="M1151.6 57H1158.8V63.9H1151.6zM1158.8 63.9H1166V70.7H1158.8zM1194.9 91.3H1202.1V98.2H1194.9zM1332.1 221.8H1339.3V228.7H1332.1zM1339.3 228.7H1346.5V235.6H1339.3zM1360.9 242.4H1368.1V249.3H1360.9zM1397 263H1404.2V269.9H1397zM1411.5 269.9H1418.7V276.8H1411.5zM1433.1 283.6H1440.3V290.5H1433.1zM1462 304.2H1469.2V311.1H1462zM1469.2 311.1H1476.4V318H1469.2zM1476.4 318H1483.7V324.8H1476.4zM1483.7 324.8H1490.9V331.7H1483.7zM1490.9 331.7H1498.1V338.6H1490.9zM1527 359.2H1534.2V366H1527zM1534.2 366H1541.4V372.9H1534.2zM1563.1 393.5H1570.3V400.4H1563.1zM1144.3 400.4H1151.6V407.2H1144.3zM1570.3 400.4H1577.5V407.2H1570.3zM1577.5 407.2H1584.7V414.1H1577.5zM1584.7 414.1H1592V421H1584.7zM1014.4 421H1021.6V427.8H1014.4zM1238.2 592.7H1245.4V599.5H1238.2z"/>
<path fill="#bbdce9" d="M1158.8 57H1166V63.9H1158.8zM1166 63.9H1173.2V70.7H1166zM1194.9 84.5H1202.1V91.3H1194.9zM1202.1 91.3H1209.3V98.2H1202.1zM1324.8 208.1H1332.1V215H1324.8zM1353.7 235.6H1360.9V242.4H1353.7zM1368.1 242.4H1375.4V249.3H1368.1zM1382.6 249.3H1389.8V256.2H1382.6zM1418.7 269.9H1425.9V276.8H1418.7zM1440.3 283.6H1447.6V290.5H1440.3zM1462 297.4H1469.2V304.2H1462zM1469.2 304.2H1476.4V311.1H1469.2zM1476.4 311.1H1483.7V318H1476.4zM1483.7 318H1490.9V324.8H1483.7zM1490.9 324.8H1498.1V331.7H1490.9zM1519.8 345.4H1527V352.3H1519.8zM1527 352.3H1534.2V359.2H1527zM1534.2 359.2H1541.4V366H1534.2zM1194.9 393.5H1202.1V400.4H1194.9zM1570.3 393.5H1577.5V400.4H1570.3zM1151.6 400.4H1158.8V407.2H1151.6zM1577.5 400.4H1584.7V407.2H1577.5zM1115.5 407.2H1122.7V414.1H1115.5zM1584.7 407.2H1592V414.1H1584.7zM1252.6 414.1H1259.9V421H1252.6zM1238.2 585.8H1245.4V592.7H1238.2z"/>
<path fill="#badbe8" d="M1166 57H1173.2V63.9H1166zM1173.2 63.9H1180.4V70.7H1173.2zM1180.4 70.7H1187.7V77.6H1180.4zM1209.3 91.3H1216.5V98.2H1209.3zM1216.5 98.2H1223.8V105.1H1216.5zM1252.6 132.5H1259.9V139.4H1252.6zM1259.9 139.4H1267.1V146.3H1259.9zM1267.1 146.3H1274.3V153.1H1267.1zM1274.3 153.1H1281.5V160H1274.3zM1310.4 187.5H1317.6V194.3H1310.4zM1317.6 194.3H1324.8V201.2H1317.6zM1339.3 221.8H1346.5V228.7H1339.3zM1346.5 228.7H1353.7V235.6H1346.5zM1397 256.2H1404.2V263H1397zM1411.5 263H1418.7V269.9H1411.5zM1425.9 269.9H1433.1V276.8H1425.9zM1447.6 283.6H1454.8V290.5H1447.6zM1469.2 297.4H1476.4V304.2H1469.2zM1476.4 304.2H1483.7V311.1H1476.4zM1483.7 311.1H1490.9V318H1483.7zM1490.9 318H1498.1V324.8H1490.9zM1498.1 324.8H1505.3V331.7H1498.1zM1505.3 331.7H1512.5V338.6H1505.3zM1527 345.4H1534.2V352.3H1527zM1534.2 352.3H1541.4V359.2H1534.2zM1541.4 359.2H1548.6V366H1541.4zM1563.1 379.8H1570.3V386.6H1563.1zM1570.3 386.6H1577.5V393.5H1570.3zM1577.5 393.5H1584.7V400.4H1577.5zM1584.7 400.4H1592V407.2H1584.7zM1592 407.2H1599.2V414.1H1592zM1086.6 414.1H1093.8V421H1086.6zM1028.8 421H1036.1V427.8H1028.8z"/>
<path fill="#b9dae8" d="M1173.2 57H1180.4V63.9H1173.2zM1180.4 63.9H1187.7V70.7H1180.4zM1187.7 70.7H1194.9V77.6H1187.7zM1194.9 77.6H1202.1V84.5H1194.9zM1216.5 91.3H1223.8V98.2H1216.5zM1223.8 98.2H1231V105.1H1223.8zM1231 105.1H1238.2V111.9H1231zM1238.2 111.9H1245.4V118.8H1238.2zM1245.4 118.8H1252.6V125.7H1245.4zM1252.6 125.7H1259.9V132.5H1252.6zM1259.9 132.5H1267.1V139.4H1259.9zM1267.1 139.4H1274.3V146.3H1267.1zM1274.3 146.3H1281.5V153.1H1274.3zM1281.5 153.1H1288.7V160H1281.5zM1288.7 160H1296V166.9H1288.7zM1296 166.9H1303.2V173.7H1296zM1303.2 173.7H1310.4V180.6H1303.2zM1310.4 180.6H1317.6V187.5H1310.4zM1317.6 187.5H1324.8V194.3H1317.6zM1360.9 235.6H1368.1V242.4H1360.9zM1375.4 242.4H1382.6V249.3H1375.4zM1389.8 249.3H1397V256.2H1389.8zM1404.2 256.2H1411.5V263H1404.2zM1418.7 263H1425.9V269.9H1418.7zM1433.1 269.9H1440.3V276.8H1433.1zM1454.8 283.6H1462V290.5H1454.8zM1476.4 297.4H1483.7V304.2H1476.4zM1483.7 304.2H1490.9V311.1H1483.7zM1490.9 311.1H1498.1V318H1490.9zM1498.1 318H1505.3V324.8H1498.1zM1505.3 324.8H1512.5V331.7H1505.3zM1512.5 331.7H1519.8V338.6H1512.5zM1534.2 345.4H1541.4V352.3H1534.2zM1541.4 352.3H1548.6V359.2H1541.4zM1548.6 359.2H1555.9V366H1548.6zM1563.1 372.9H1570.3V379.8H1563.1zM1570.3 379.8H1577.5V386.6H1570.3zM1577.5 386.6H1584.7V393.5H1577.5zM1202.1 393.5H1209.3V400.4H1202.1zM1584.7 393.5H1592V400.4H1584.7zM1592 400.4H1599.2V407.2H1592z"/>
<path fill="#b8d9e7" d="M1180.4 57H1187.7V63.9H1180.4zM1216.5 84.5H1223.8V91.3H1216.5zM1317.6 180.6H1324.8V187.5H1317.6zM1425.9 263H1433.1V269.9H1425.9zM1440.3 269.9H1447.6V276.8H1440.3zM1476.4 290.5H1483.7V297.4H1476.4zM1527 331.7H1534.2V338.6H1527zM1238.2 393.5H1245.4V400.4H1238.2z"/>
<path fill="#b7d9e7" d="M1187.7 57H1202.1V63.9H1187.7zM1194.9 63.9H1209.3V70.7H1194.9zM1202.1 70.7H1216.5V77.6H1202.1zM1209.3 77.6H1223.8V84.5H1209.3zM1223.8 84.5H1238.2V91.3H1223.8zM1231 91.3H1245.4V98.2H1231zM1238.2 98.2H1252.6V105.1H1238.2zM1245.4 105.1H1259.9V111.9H1245.4zM1252.6 111.9H1267.1V118.8H1252.6zM1259.9 118.8H1274.3V125.7H1259.9zM1267.1 125.7H1281.5V132.5H1267.1zM1274.3 132.5H1288.7V139.4H1274.3zM1281.5 139.4H1296V146.3H1281.5zM1288.7 146.3H1303.2V153.1H1288.7zM1296 153.1H1303.2V160H1296zM1303.2 160H1310.4V166.9H1303.2zM1310.4 166.9H1317.6V173.7H1310.4zM1317.6 173.7H1324.8V180.6H1317.6zM1324.8 187.5H1332.1V194.3H1324.8zM1332.1 201.2H1339.3V208.1H1332.1zM1339.3 215H1346.5V221.8H1339.3zM1382.6 242.4H1389.8V249.3H1382.6zM1397 249.3H1404.2V256.2H1397zM1411.5 256.2H1418.7V263H1411.5zM1447.6 269.9H1454.8V276.8H1447.6zM1454.8 276.8H1469.2V283.6H1454.8zM1469.2 283.6H1483.7V290.5H1469.2zM1483.7 290.5H1490.9V297.4H1483.7zM1490.9 297.4H1505.3V304.2H1490.9zM1498.1 304.2H1512.5V311.1H1498.1zM1505.3 311.1H1519.8V318H1505.3zM1512.5 318H1527V324.8H1512.5zM1519.8 324.8H1534.2V331.7H1519.8zM1534.2 331.7H1548.6V338.6H1534.2zM1541.4 338.6H1555.9V345.4H1541.4zM1548.6 345.4H1563.1V352.3H1548.6zM1555.9 352.3H1570.3V359.2H1555.9zM1563.1 359.2H1577.5V366H1563.1zM1570.3 366H1584.7V372.9H1570.3zM1577.5 372.9H1592V379.8H1577.5zM1584.7 379.8H1599.2V386.6H1584.7zM1592 386.6H1603V393.5H1592zM1209.3 393.5H1238.2V400.4H1209.3zM1599.2 393.5H1603V400.4H1599.2zM1093.8 414.1H1101V421H1093.8zM1043.3 421H1050.5V427.8H1043.3zM1238.2 572.1H1245.4V578.9H1238.2z"/>
<path fill="#b6d8e7" d="M1202.1 57H1223.8V63.9H1202.1zM1216.5 63.9H1238.2V70.7H1216.5zM1223.8 70.7H1245.4V77.6H1223.8zM1231 77.6H1252.6V84.5H1231zM1238.2 84.5H1259.9V91.3H1238.2zM1245.4 91.3H1267.1V98.2H1245.4zM1252.6 98.2H1274.3V105.1H1252.6zM1259.9 105.1H1281.5V111.9H1259.9zM1267.1 111.9H1288.7V118.8H1267.1zM1274.3 118.8H1296V125.7H1274.3zM1281.5 125.7H1296V132.5H1281.5zM1288.7 132.5H1303.2V139.4H1288.7zM1296 139.4H1310.4V146.3H1296zM1303.2 146.3H1317.6V153.1H1303.2zM1310.4 153.1H1317.6V160H1310.4zM1317.6 160H1324.8V166.9H1317.6zM1317.6 166.9H1324.8V173.7H1317.6zM1324.8 173.7H1332.1V180.6H1324.8zM1332.1 187.5H1339.3V194.3H1332.1zM1346.5 221.8H1353.7V228.7H1346.5zM1368.1 235.6H1375.4V242.4H1368.1zM1404.2 249.3H1411.5V256.2H1404.2zM1418.7 256.2H1425.9V263H1418.7zM1440.3 263H1447.6V269.9H1440.3zM1454.8 269.9H1462V276.8H1454.8zM1469.2 276.8H1483.7V283.6H1469.2zM1483.7 283.6H1505.3V290.5H1483.7zM1498.1 290.5H1512.5V297.4H1498.1zM1505.3 297.4H1527V304.2H1505.3zM1512.5 304.2H1534.2V311.1H1512.5zM1527 311.1H1548.6V318H1527zM1534.2 318H1555.9V324.8H1534.2zM1541.4 324.8H1563.1V331.7H1541.4zM1548.6 331.7H1570.3V338.6H1548.6zM1563.1 338.6H1584.7V345.4H1563.1zM1570.3 345.4H1592V352.3H1570.3zM1577.5 352.3H1592V359.2H1577.5zM1584.7 359.2H1603V366H1584.7zM1592 366H1603V372.9H1592zM1599.2 372.9H1603V379.8H1599.2zM1050.5 421H1057.7V427.8H1050.5zM1245.4 482.8H1252.6V489.7H1245.4z"/>
<path fill="#b5d8e7" d="M1223.8 57H1238.2V63.9H1223.8zM1238.2 63.9H1245.4V70.7H1238.2zM1245.4 70.7H1259.9V77.6H1245.4zM1252.6 77.6H1267.1V84.5H1252.6zM1259.9 84.5H1267.1V91.3H1259.9zM1267.1 91.3H1274.3V98.2H1267.1zM1274.3 98.2H1281.5V105.1H1274.3zM1281.5 105.1H1288.7V111.9H1281.5zM1288.7 111.9H1296V118.8H1288.7zM1296 118.8H1303.2V125.7H1296zM1296 125.7H1303.2V132.5H1296zM1303.2 132.5H1310.4V139.4H1303.2zM1310.4 139.4H1317.6V146.3H1310.4zM1317.6 153.1H1324.8V160H1317.6zM1324.8 166.9H1332.1V173.7H1324.8zM1332.1 180.6H1339.3V187.5H1332.1zM1462 269.9H1469.2V276.8H1462zM1483.7 276.8H1490.9V283.6H1483.7zM1505.3 283.6H1512.5V290.5H1505.3zM1512.5 290.5H1527V297.4H1512.5zM1527 297.4H1534.2V304.2H1527zM1534.2 304.2H1548.6V311.1H1534.2zM1548.6 311.1H1555.9V318H1548.6zM1555.9 318H1570.3V324.8H1555.9zM1563.1 324.8H1577.5V331.7H1563.1zM1570.3 331.7H1584.7V338.6H1570.3zM1584.7 338.6H1592V345.4H1584.7zM1592 345.4H1599.2V352.3H1592zM1592 352.3H1603V359.2H1592zM1238.2 565.2H1245.4V572.1H1238.2z"/>
<path fill="#b5d8e6" d="M1238.2 57H1296V63.9H1238.2zM1245.4 63.9H1303.2V70.7H1245.4zM1259.9 70.7H1303.2V77.6H1259.9zM1267.1 77.6H1303.2V84.5H1267.1zM1267.1 84.5H1310.4V91.3H1267.1zM1274.3 91.3H1310.4V98.2H1274.3zM1281.5 98.2H1310.4V105.1H1281.5zM1288.7 105.1H1310.4V111.9H1288.7zM1296 111.9H1317.6V118.8H1296zM1303.2 118.8H1317.6V125.7H1303.2zM1303.2 125.7H1317.6V132.5H1303.2zM1310.4 132.5H1324.8V139.4H1310.4zM1317.6 139.4H1324.8V146.3H1317.6zM1317.6 146.3H1324.8V153.1H1317.6zM1324.8 153.1H1332.1V160H1324.8zM1324.8 160H1332.1V166.9H1324.8zM1332.1 173.7H1339.3V180.6H1332.1zM1339.3 208.1H1346.5V215H1339.3zM1389.8 242.4H1397V249.3H1389.8zM1425.9 256.2H1433.1V263H1425.9zM1447.6 263H1454.8V269.9H1447.6zM1469.2 269.9H1476.4V276.8H1469.2zM1490.9 276.8H1512.5V283.6H1490.9zM1512.5 283.6H1555.9V290.5H1512.5zM1527 290.5H1603V297.4H1527zM1534.2 297.4H1603V304.2H1534.2zM1548.6 304.2H1603V311.1H1548.6zM1555.9 311.1H1603V318H1555.9zM1570.3 318H1603V324.8H1570.3zM1577.5 324.8H1603V331.7H1577.5zM1584.7 331.7H1603V338.6H1584.7zM1592 338.6H1603V345.4H1592zM1599.2 345.4H1603V352.3H1599.2zM1129.9 407.2H1137.1V414.1H1129.9z"/>
<path fill="#b5d7e6" d="M1296 57H1317.6V63.9H1296zM1303.2 63.9H1317.6V70.7H1303.2zM1303.2 70.7H1317.6V77.6H1303.2zM1303.2 77.6H1317.6V84.5H1303.2zM1310.4 84.5H1317.6V91.3H1310.4zM1310.4 91.3H1317.6V98.2H1310.4zM1310.4 98.2H1317.6V105.1H1310.4zM1310.4 105.1H1324.8V111.9H1310.4zM1317.6 111.9H1324.8V118.8H1317.6zM1317.6 118.8H1324.8V125.7H1317.6zM1317.6 125.7H1324.8V132.5H1317.6zM1324.8 146.3H1332.1V153.1H1324.8zM1476.4 269.9H1483.7V276.8H1476.4zM1584.7 269.9H1603V276.8H1584.7zM1512.5 276.8H1603V283.6H1512.5zM1555.9 283.6H1603V290.5H1555.9z"/>
<path fill="#b4d7e6" d="M1317.6 57H1339.3V63.9H1317.6zM1317.6 63.9H1339.3V70.7H1317.6zM1317.6 70.7H1339.3V77.6H1317.6zM1317.6 77.6H1339.3V84.5H1317.6zM1317.6 84.5H1339.3V91.3H1317.6zM1317.6 91.3H1339.3V98.2H1317.6zM1317.6 98.2H1339.3V105.1H1317.6zM1324.8 105.1H1339.3V111.9H1324.8zM1324.8 111.9H1339.3V118.8H1324.8zM1324.8 118.8H1339.3V125.7H1324.8zM1324.8 125.7H1339.3V132.5H1324.8zM1324.8 132.5H1339.3V139.4H1324.8zM1324.8 139.4H1339.3V146.3H1324.8zM1332.1 146.3H1339.3V153.1H1332.1zM1332.1 153.1H1339.3V160H1332.1zM1332.1 160H1339.3V166.9H1332.1zM1332.1 166.9H1339.3V173.7H1332.1zM1339.3 180.6H1346.5V187.5H1339.3zM1339.3 187.5H1346.5V194.3H1339.3zM1339.3 194.3H1346.5V201.2H1339.3zM1339.3 201.2H1346.5V208.1H1339.3zM1411.5 249.3H1418.7V256.2H1411.5zM1592 249.3H1603V256.2H1592zM1433.1 256.2H1440.3V263H1433.1zM1577.5 256.2H1603V263H1577.5zM1454.8 263H1469.2V269.9H1454.8zM1548.6 263H1603V269.9H1548.6zM1483.7 269.9H1584.7V276.8H1483.7zM1173.2 400.4H1180.4V407.2H1173.2zM1101 414.1H1108.2V421H1101zM1057.7 421H1064.9V427.8H1057.7zM1245.4 475.9H1252.6V482.8H1245.4zM1238.2 558.3H1245.4V565.2H1238.2z"/>
<path fill="#b3d7e6" d="M1339.3 57H1346.5V63.9H1339.3zM1339.3 63.9H1346.5V70.7H1339.3zM1339.3 173.7H1346.5V180.6H1339.3zM1570.3 256.2H1577.5V263H1570.3zM1469.2 263H1476.4V269.9H1469.2zM1541.4 263H1548.6V269.9H1541.4z"/>
<path fill="#b2d6e5" d="M1346.5 57H1353.7V63.9H1346.5zM1346.5 63.9H1353.7V70.7H1346.5zM1346.5 70.7H1353.7V77.6H1346.5zM1346.5 77.6H1353.7V84.5H1346.5zM1346.5 84.5H1353.7V91.3H1346.5zM1346.5 91.3H1353.7V98.2H1346.5zM1360.9 228.7H1368.1V235.6H1360.9zM1570.3 249.3H1577.5V256.2H1570.3zM1447.6 256.2H1454.8V263H1447.6zM1541.4 256.2H1555.9V263H1541.4zM1137.1 407.2H1144.3V414.1H1137.1z"/>
<path fill="#b1d5e5" d="M1353.7 57H1360.9V63.9H1353.7zM1353.7 63.9H1360.9V70.7H1353.7zM1353.7 70.7H1360.9V77.6H1353.7zM1346.5 118.8H1353.7V125.7H1346.5zM1346.5 125.7H1353.7V132.5H1346.5zM1346.5 132.5H1353.7V139.4H1346.5zM1346.5 139.4H1353.7V146.3H1346.5zM1346.5 146.3H1353.7V153.1H1346.5zM1346.5 153.1H1353.7V160H1346.5zM1346.5 160H1353.7V166.9H1346.5zM1346.5 166.9H1353.7V173.7H1346.5zM1346.5 173.7H1353.7V180.6H1346.5zM1346.5 180.6H1353.7V187.5H1346.5zM1346.5 187.5H1353.7V194.3H1346.5zM1346.5 194.3H1353.7V201.2H1346.5zM1592 235.6H1603V242.4H1592zM1404.2 242.4H1411.5V249.3H1404.2zM1577.5 242.4H1584.7V249.3H1577.5zM1425.9 249.3H1433.1V256.2H1425.9zM1555.9 249.3H1563.1V256.2H1555.9zM1462 256.2H1476.4V263H1462zM1512.5 256.2H1534.2V263H1512.5zM1245.4 400.4H1252.6V407.2H1245.4zM1108.2 414.1H1115.5V421H1108.2zM1072.1 421H1079.4V427.8H1072.1zM1245.4 469H1252.6V475.9H1245.4zM1238.2 551.5H1245.4V558.3H1238.2z"/>
<path fill="#afd3e4" d="M1360.9 57H1368.1V63.9H1360.9zM1360.9 63.9H1368.1V70.7H1360.9zM1353.7 125.7H1360.9V132.5H1353.7zM1353.7 132.5H1360.9V139.4H1353.7zM1353.7 139.4H1360.9V146.3H1353.7zM1353.7 146.3H1360.9V153.1H1353.7zM1599.2 228.7H1603V235.6H1599.2zM1411.5 242.4H1418.7V249.3H1411.5zM1440.3 249.3H1447.6V256.2H1440.3zM1534.2 249.3H1541.4V256.2H1534.2zM1245.4 462.2H1252.6V469H1245.4z"/>
<path fill="#abd1e2" d="M1368.1 57H1375.4V63.9H1368.1zM1368.1 63.9H1375.4V70.7H1368.1zM1360.9 132.5H1368.1V139.4H1360.9zM1360.9 139.4H1368.1V146.3H1360.9zM1584.7 228.7H1592V235.6H1584.7zM1425.9 242.4H1433.1V249.3H1425.9zM1158.8 407.2H1166V414.1H1158.8zM1245.4 407.2H1252.6V414.1H1245.4zM1245.4 448.4H1252.6V455.3H1245.4zM1238.2 530.9H1245.4V537.7H1238.2z"/>
<path fill="#a7cde0" d="M1375.4 57H1382.6V63.9H1375.4zM1548.6 235.6H1555.9V242.4H1548.6zM1512.5 242.4H1519.8V249.3H1512.5zM1057.7 427.8H1064.9V434.7H1057.7z"/>
<path fill="#9fc8dd" d="M1382.6 57H1389.8V63.9H1382.6zM1382.6 63.9H1389.8V70.7H1382.6zM1375.4 132.5H1382.6V139.4H1375.4zM1360.9 201.2H1368.1V208.1H1360.9zM1389.8 228.7H1397V235.6H1389.8zM1433.1 235.6H1440.3V242.4H1433.1zM1194.9 407.2H1202.1V414.1H1194.9zM1086.6 427.8H1093.8V434.7H1086.6zM1238.2 489.7H1245.4V496.5H1238.2zM1231 572.1H1238.2V578.9H1231z"/>
<path fill="#95c1d9" d="M1389.8 57H1397V63.9H1389.8zM1382.6 132.5H1389.8V139.4H1382.6zM1368.1 215H1375.4V221.8H1368.1zM1180.4 414.1H1187.7V421H1180.4zM1238.2 434.7H1245.4V441.6H1238.2zM1238.2 448.4H1245.4V455.3H1238.2zM1231 537.7H1238.2V544.6H1231z"/>
<path fill="#87b3d1" d="M1397 57H1404.2V63.9H1397zM1375.4 201.2H1382.6V208.1H1375.4z"/>
<path fill="#749dc6" d="M1404.2 57H1411.5V63.9H1404.2zM1433.1 221.8H1440.3V228.7H1433.1z"/>
<path fill="#5c84b6" d="M1411.5 57H1418.7V63.9H1411.5zM1129.9 455.3H1137.1V462.2H1129.9zM1101 462.2H1108.2V469H1101zM1043.3 469H1057.7V475.9H1043.3zM1209.3 503.4H1216.5V510.3H1209.3zM1209.3 510.3H1216.5V517.1H1209.3zM1202.1 565.2H1209.3V572.1H1202.1z"/>
<path fill="#486fa6" d="M1418.7 57H1425.9V63.9H1418.7zM1411.5 132.5H1418.7V139.4H1411.5zM1411.5 201.2H1418.7V208.1H1411.5zM1534.2 208.1H1541.4V215H1534.2z"/>
<path fill="#42669d" d="M1425.9 57H1433.1V63.9H1425.9zM1418.7 125.7H1425.9V132.5H1418.7zM1584.7 187.5H1592V194.3H1584.7zM1425.9 201.2H1433.1V208.1H1425.9zM1462 208.1H1476.4V215H1462zM1483.7 208.1H1498.1V215H1483.7z"/>
<path fill="#3d5f92" d="M1433.1 57H1440.3V63.9H1433.1zM1505.3 201.2H1512.5V208.1H1505.3z"/>
<path fill="#3a5a8b" d="M1440.3 57H1447.6V63.9H1440.3zM1548.6 187.5H1555.9V194.3H1548.6zM1512.5 194.3H1519.8V201.2H1512.5z"/>
<path fill="#395886" d="M1447.6 57H1454.8V63.9H1447.6zM1447.6 63.9H1454.8V70.7H1447.6zM1440.3 132.5H1447.6V139.4H1440.3zM1454.8 187.5H1462V194.3H1454.8z"/>
<path fill="#385684" d="M1454.8 57H1462V63.9H1454.8zM1454.8 63.9H1462V70.7H1454.8zM1454.8 70.7H1462V77.6H1454.8zM1454.8 77.6H1462V84.5H1454.8zM1454.8 84.5H1462V91.3H1454.8zM1454.8 91.3H1462V98.2H1454.8zM1454.8 98.2H1462V105.1H1454.8zM1447.6 125.7H1454.8V132.5H1447.6zM1447.6 132.5H1454.8V139.4H1447.6zM1447.6 139.4H1454.8V146.3H1447.6zM1447.6 146.3H1454.8V153.1H1447.6zM1447.6 153.1H1454.8V160H1447.6zM1447.6 160H1454.8V166.9H1447.6zM1584.7 160H1599.2V166.9H1584.7zM1447.6 166.9H1454.8V173.7H1447.6zM1570.3 166.9H1584.7V173.7H1570.3zM1447.6 173.7H1462V180.6H1447.6zM1541.4 173.7H1563.1V180.6H1541.4zM1454.8 180.6H1534.2V187.5H1454.8z"/>
<path fill="#375683" d="M1462 57H1469.2V63.9H1462zM1462 63.9H1469.2V70.7H1462zM1462 70.7H1469.2V77.6H1462zM1462 77.6H1469.2V84.5H1462zM1462 84.5H1469.2V91.3H1462zM1462 91.3H1469.2V98.2H1462zM1454.8 125.7H1462V132.5H1454.8zM1454.8 132.5H1462V139.4H1454.8zM1454.8 139.4H1462V146.3H1454.8zM1454.8 146.3H1462V153.1H1454.8zM1454.8 153.1H1462V160H1454.8zM1592 153.1H1599.2V160H1592zM1454.8 160H1462V166.9H1454.8zM1570.3 160H1584.7V166.9H1570.3zM1462 166.9H1469.2V173.7H1462zM1548.6 166.9H1563.1V173.7H1548.6zM1462 173.7H1483.7V180.6H1462zM1505.3 173.7H1534.2V180.6H1505.3z"/>
<path fill="#375583" d="M1469.2 57H1476.4V63.9H1469.2zM1469.2 63.9H1476.4V70.7H1469.2zM1469.2 70.7H1476.4V77.6H1469.2zM1469.2 77.6H1476.4V84.5H1469.2zM1462 98.2H1469.2V105.1H1462zM1462 105.1H1469.2V111.9H1462zM1462 111.9H1469.2V118.8H1462zM1462 118.8H1469.2V125.7H1462zM1462 125.7H1469.2V132.5H1462zM1462 132.5H1469.2V139.4H1462zM1462 139.4H1469.2V146.3H1462zM1462 146.3H1469.2V153.1H1462zM1599.2 146.3H1603V153.1H1599.2zM1462 153.1H1469.2V160H1462zM1577.5 153.1H1592V160H1577.5zM1462 160H1469.2V166.9H1462zM1555.9 160H1570.3V166.9H1555.9zM1469.2 166.9H1476.4V173.7H1469.2zM1519.8 166.9H1548.6V173.7H1519.8zM1483.7 173.7H1505.3V180.6H1483.7z"/>
<path fill="#375582" d="M1476.4 57H1603V63.9H1476.4zM1476.4 63.9H1603V70.7H1476.4zM1476.4 70.7H1603V77.6H1476.4zM1476.4 77.6H1603V84.5H1476.4zM1469.2 84.5H1603V91.3H1469.2zM1469.2 91.3H1603V98.2H1469.2zM1469.2 98.2H1603V105.1H1469.2zM1469.2 105.1H1603V111.9H1469.2zM1469.2 111.9H1603V118.8H1469.2zM1469.2 118.8H1603V125.7H1469.2zM1469.2 125.7H1603V132.5H1469.2zM1469.2 132.5H1603V139.4H1469.2zM1469.2 139.4H1603V146.3H1469.2zM1469.2 146.3H1599.2V153.1H1469.2zM1469.2 153.1H1577.5V160H1469.2zM1469.2 160H1555.9V166.9H1469.2zM1476.4 166.9H1519.8V173.7H1476.4z"/>
<path fill="#d7322d" d="M1011 63.9H1014.4V70.7H1011zM1014.4 70.7H1021.6V77.6H1014.4zM1021.6 77.6H1028.8V84.5H1021.6zM1028.8 84.5H1036.1V91.3H1028.8zM1036.1 91.3H1043.3V98.2H1036.1zM1043.3 98.2H1050.5V105.1H1043.3zM1050.5 105.1H1057.7V111.9H1050.5zM1057.7 111.9H1064.9V118.8H1057.7zM1064.9 118.8H1072.1V125.7H1064.9zM1064.9 125.7H1072.1V132.5H1064.9zM1064.9 146.3H1072.1V153.1H1064.9zM1064.9 153.1H1072.1V160H1064.9zM1057.7 166.9H1064.9V173.7H1057.7zM1050.5 180.6H1057.7V187.5H1050.5zM1043.3 187.5H1050.5V194.3H1043.3zM1036.1 194.3H1043.3V201.2H1036.1z"/>
<path fill="#e77251" d="M1072.1 63.9H1079.4V70.7H1072.1zM1079.4 70.7H1086.6V77.6H1079.4zM1086.6 77.6H1093.8V84.5H1086.6zM1209.3 187.5H1216.5V194.3H1209.3zM1166 235.6H1173.2V242.4H1166zM1238.2 290.5H1245.4V297.4H1238.2zM1245.4 297.4H1252.6V304.2H1245.4zM1252.6 304.2H1259.9V311.1H1252.6zM1259.9 311.1H1267.1V318H1259.9zM1563.1 510.3H1570.3V517.1H1563.1zM1440.3 544.6H1447.6V551.5H1440.3zM1440.3 585.8H1447.6V592.7H1440.3z"/>
<path fill="#eb905e" d="M1079.4 63.9H1086.6V70.7H1079.4zM1086.6 70.7H1093.8V77.6H1086.6zM1093.8 77.6H1101V84.5H1093.8zM1180.4 153.1H1187.7V160H1180.4zM1187.7 160H1194.9V166.9H1187.7zM1194.9 166.9H1202.1V173.7H1194.9zM1122.7 201.2H1129.9V208.1H1122.7zM1129.9 221.8H1137.1V228.7H1129.9zM1252.6 221.8H1259.9V228.7H1252.6zM1093.8 249.3H1101V256.2H1093.8zM1166 249.3H1173.2V256.2H1166zM1411.5 359.2H1418.7V366H1411.5zM1462 407.2H1469.2V414.1H1462zM1375.4 427.8H1382.6V434.7H1375.4zM1592 524H1599.2V530.9H1592zM1433.1 585.8H1440.3V592.7H1433.1z"/>
<path fill="#edf1ce" d="M1108.2 63.9H1115.5V70.7H1108.2zM1288.7 228.7H1296V235.6H1288.7zM1317.6 256.2H1324.8V263H1317.6zM1194.9 324.8H1202.1V331.7H1194.9zM1209.3 338.6H1216.5V345.4H1209.3zM1440.3 345.4H1447.6V352.3H1440.3zM1447.6 352.3H1454.8V359.2H1447.6zM1151.6 359.2H1158.8V366H1151.6zM1216.5 359.2H1223.8V366H1216.5zM1223.8 366H1231V372.9H1223.8zM1151.6 372.9H1158.8V379.8H1151.6zM1057.7 400.4H1064.9V407.2H1057.7zM1267.1 441.6H1274.3V448.4H1267.1zM1259.9 510.3H1267.1V517.1H1259.9zM1252.6 592.7H1259.9V599.5H1252.6z"/>
<path fill="#dbf0f3" d="M1122.7 63.9H1129.9V70.7H1122.7zM1129.9 70.7H1137.1V77.6H1129.9zM1137.1 77.6H1144.3V84.5H1137.1zM1483.7 366H1490.9V372.9H1483.7zM1173.2 386.6H1180.4V393.5H1173.2zM1592 462.2H1599.2V469H1592z"/>
<path fill="#c9e6ef" d="M1137.1 63.9H1144.3V70.7H1137.1zM1223.8 386.6H1231V393.5H1223.8z"/>
<path fill="#b8dae8" d="M1187.7 63.9H1194.9V70.7H1187.7zM1194.9 70.7H1202.1V77.6H1194.9zM1202.1 77.6H1209.3V84.5H1202.1zM1209.3 84.5H1216.5V91.3H1209.3zM1223.8 91.3H1231V98.2H1223.8zM1231 98.2H1238.2V105.1H1231zM1238.2 105.1H1245.4V111.9H1238.2zM1245.4 111.9H1252.6V118.8H1245.4zM1252.6 118.8H1259.9V125.7H1252.6zM1259.9 125.7H1267.1V132.5H1259.9zM1267.1 132.5H1274.3V139.4H1267.1zM1274.3 139.4H1281.5V146.3H1274.3zM1281.5 146.3H1288.7V153.1H1281.5zM1288.7 153.1H1296V160H1288.7zM1296 160H1303.2V166.9H1296zM1303.2 166.9H1310.4V173.7H1303.2zM1310.4 173.7H1317.6V180.6H1310.4zM1324.8 194.3H1332.1V201.2H1324.8zM1332.1 208.1H1339.3V215H1332.1zM1447.6 276.8H1454.8V283.6H1447.6zM1462 283.6H1469.2V290.5H1462zM1469.2 290.5H1476.4V297.4H1469.2zM1490.9 304.2H1498.1V311.1H1490.9zM1498.1 311.1H1505.3V318H1498.1zM1505.3 318H1512.5V324.8H1505.3zM1512.5 324.8H1519.8V331.7H1512.5zM1519.8 331.7H1527V338.6H1519.8zM1527 338.6H1534.2V345.4H1527zM1541.4 345.4H1548.6V352.3H1541.4zM1548.6 352.3H1555.9V359.2H1548.6zM1555.9 359.2H1563.1V366H1555.9zM1563.1 366H1570.3V372.9H1563.1zM1570.3 372.9H1577.5V379.8H1570.3zM1577.5 379.8H1584.7V386.6H1577.5zM1584.7 386.6H1592V393.5H1584.7zM1592 393.5H1599.2V400.4H1592zM1158.8 400.4H1166V407.2H1158.8zM1599.2 400.4H1603V407.2H1599.2zM1122.7 407.2H1129.9V414.1H1122.7zM1036.1 421H1043.3V427.8H1036.1zM1245.4 489.7H1252.6V496.5H1245.4z"/>
<path fill="#b6d9e7" d="M1209.3 63.9H1216.5V70.7H1209.3zM1216.5 70.7H1223.8V77.6H1216.5zM1223.8 77.6H1231V84.5H1223.8zM1303.2 153.1H1310.4V160H1303.2zM1310.4 160H1317.6V166.9H1310.4zM1324.8 180.6H1332.1V187.5H1324.8zM1332.1 194.3H1339.3V201.2H1332.1zM1353.7 228.7H1360.9V235.6H1353.7zM1433.1 263H1440.3V269.9H1433.1zM1490.9 290.5H1498.1V297.4H1490.9zM1519.8 311.1H1527V318H1519.8zM1527 318H1534.2V324.8H1527zM1534.2 324.8H1541.4V331.7H1534.2zM1555.9 338.6H1563.1V345.4H1555.9zM1563.1 345.4H1570.3V352.3H1563.1zM1570.3 352.3H1577.5V359.2H1570.3zM1577.5 359.2H1584.7V366H1577.5zM1584.7 366H1592V372.9H1584.7zM1592 372.9H1599.2V379.8H1592zM1599.2 379.8H1603V386.6H1599.2zM1166 400.4H1173.2V407.2H1166z"/>
<path fill="#a6cde0" d="M1375.4 63.9H1382.6V70.7H1375.4zM1368.1 132.5H1375.4V139.4H1368.1zM1368.1 139.4H1375.4V146.3H1368.1zM1570.3 228.7H1577.5V235.6H1570.3zM1411.5 235.6H1418.7V242.4H1411.5zM1454.8 242.4H1462V249.3H1454.8zM1505.3 242.4H1512.5V249.3H1505.3zM1173.2 407.2H1180.4V414.1H1173.2zM1101 421H1108.2V427.8H1101zM1231 599.5H1238.2V606.4H1231z"/>
<path fill="#94c0d8" d="M1389.8 63.9H1397V70.7H1389.8zM1382.6 139.4H1389.8V146.3H1382.6zM1368.1 201.2H1375.4V208.1H1368.1zM1599.2 208.1H1603V215H1599.2zM1534.2 228.7H1541.4V235.6H1534.2zM1144.3 421H1151.6V427.8H1144.3zM1079.4 434.7H1086.6V441.6H1079.4zM1011 441.6H1014.4V448.4H1011zM1238.2 441.6H1245.4V448.4H1238.2z"/>
<path fill="#86b1d1" d="M1397 63.9H1404.2V70.7H1397zM1454.8 228.7H1462V235.6H1454.8zM1079.4 441.6H1086.6V448.4H1079.4zM1231 482.8H1238.2V489.7H1231z"/>
<path fill="#729ac5" d="M1404.2 63.9H1411.5V70.7H1404.2zM1158.8 434.7H1166V441.6H1158.8z"/>
<path fill="#5981b4" d="M1411.5 63.9H1418.7V70.7H1411.5zM1202.1 434.7H1216.5V441.6H1202.1zM1187.7 441.6H1194.9V448.4H1187.7zM1144.3 455.3H1151.6V462.2H1144.3zM1115.5 462.2H1122.7V469H1115.5zM1079.4 469H1086.6V475.9H1079.4zM1209.3 482.8H1216.5V489.7H1209.3zM1202.1 537.7H1209.3V544.6H1202.1zM1202.1 544.6H1209.3V551.5H1202.1zM1194.9 592.7H1202.1V599.5H1194.9z"/>
<path fill="#486ea5" d="M1418.7 63.9H1425.9V70.7H1418.7zM1599.2 187.5H1603V194.3H1599.2zM1425.9 208.1H1433.1V215H1425.9z"/>
<path fill="#42659c" d="M1425.9 63.9H1433.1V70.7H1425.9zM1418.7 132.5H1425.9V139.4H1418.7zM1418.7 139.4H1425.9V146.3H1418.7zM1418.7 194.3H1425.9V201.2H1418.7zM1563.1 194.3H1570.3V201.2H1563.1zM1476.4 208.1H1483.7V215H1476.4z"/>
<path fill="#3d5e91" d="M1433.1 63.9H1440.3V70.7H1433.1zM1425.9 139.4H1433.1V146.3H1425.9zM1584.7 180.6H1592V187.5H1584.7zM1425.9 187.5H1433.1V194.3H1425.9zM1541.4 194.3H1548.6V201.2H1541.4zM1462 201.2H1469.2V208.1H1462zM1498.1 201.2H1505.3V208.1H1498.1z"/>
<path fill="#3a5a8a" d="M1440.3 63.9H1447.6V70.7H1440.3zM1440.3 70.7H1447.6V77.6H1440.3zM1433.1 132.5H1440.3V139.4H1433.1zM1433.1 139.4H1440.3V146.3H1433.1zM1433.1 180.6H1440.3V187.5H1433.1zM1570.3 180.6H1577.5V187.5H1570.3zM1454.8 194.3H1462V201.2H1454.8zM1505.3 194.3H1512.5V201.2H1505.3z"/>
<path fill="#d6322d" d="M1011 70.7H1014.4V77.6H1011zM1014.4 77.6H1021.6V84.5H1014.4zM1021.6 84.5H1028.8V91.3H1021.6zM1028.8 91.3H1036.1V98.2H1028.8zM1036.1 98.2H1043.3V105.1H1036.1zM1043.3 105.1H1050.5V111.9H1043.3zM1050.5 111.9H1057.7V118.8H1050.5zM1057.7 118.8H1064.9V125.7H1057.7zM1057.7 125.7H1064.9V132.5H1057.7zM1064.9 132.5H1072.1V139.4H1064.9zM1064.9 139.4H1072.1V146.3H1064.9zM1057.7 146.3H1064.9V153.1H1057.7zM1057.7 153.1H1064.9V160H1057.7zM1057.7 160H1064.9V166.9H1057.7zM1050.5 166.9H1057.7V173.7H1050.5zM1050.5 173.7H1057.7V180.6H1050.5zM1043.3 180.6H1050.5V187.5H1043.3zM1036.1 187.5H1043.3V194.3H1036.1zM1014.4 194.3H1036.1V201.2H1014.4z"/>
<path fill="#da3c33" d="M1043.3 70.7H1050.5V77.6H1043.3zM1050.5 77.6H1057.7V84.5H1050.5zM1057.7 84.5H1064.9V91.3H1057.7zM1064.9 91.3H1072.1V98.2H1064.9zM1072.1 98.2H1079.4V105.1H1072.1zM1064.9 187.5H1072.1V194.3H1064.9zM1303.2 311.1H1310.4V318H1303.2zM1324.8 338.6H1332.1V345.4H1324.8zM1368.1 386.6H1375.4V393.5H1368.1zM1375.4 393.5H1382.6V400.4H1375.4zM1454.8 441.6H1462V448.4H1454.8zM1462 448.4H1469.2V455.3H1462zM1447.6 455.3H1454.8V462.2H1447.6zM1454.8 462.2H1462V469H1454.8zM1483.7 469H1490.9V475.9H1483.7zM1490.9 475.9H1498.1V482.8H1490.9zM1476.4 482.8H1483.7V489.7H1476.4zM1498.1 496.5H1505.3V503.4H1498.1z"/>
<path fill="#f1d481" d="M1101 70.7H1108.2V77.6H1101z"/>
<path fill="#f2e9a8" d="M1108.2 70.7H1115.5V77.6H1108.2zM1281.5 228.7H1288.7V235.6H1281.5zM1079.4 290.5H1086.6V297.4H1079.4zM1050.5 297.4H1057.7V304.2H1050.5zM1043.3 311.1H1050.5V318H1043.3zM1043.3 318H1050.5V324.8H1043.3zM1223.8 318H1231V324.8H1223.8zM1043.3 324.8H1050.5V331.7H1043.3zM1043.3 331.7H1050.5V338.6H1043.3zM1476.4 386.6H1483.7V393.5H1476.4z"/>
<path fill="#edf1cf" d="M1115.5 70.7H1122.7V77.6H1115.5zM1144.3 98.2H1151.6V105.1H1144.3zM1303.2 242.4H1310.4V249.3H1303.2zM1310.4 249.3H1317.6V256.2H1310.4zM1166 324.8H1173.2V331.7H1166zM1187.7 324.8H1194.9V331.7H1187.7zM1202.1 331.7H1209.3V338.6H1202.1zM1425.9 331.7H1433.1V338.6H1425.9zM1151.6 338.6H1158.8V345.4H1151.6zM1151.6 345.4H1158.8V352.3H1151.6zM1209.3 345.4H1216.5V352.3H1209.3zM1151.6 352.3H1158.8V359.2H1151.6zM1454.8 359.2H1462V366H1454.8zM1158.8 366H1166V372.9H1158.8zM1011 407.2H1014.4V414.1H1011zM1527 421H1534.2V427.8H1527zM1563.1 455.3H1570.3V462.2H1563.1z"/>
<path fill="#e4f3eb" d="M1122.7 70.7H1129.9V77.6H1122.7zM1151.6 386.6H1158.8V393.5H1151.6z"/>
<path fill="#c4e2ed" d="M1151.6 70.7H1158.8V77.6H1151.6zM1194.9 105.1H1202.1V111.9H1194.9zM1440.3 304.2H1447.6V311.1H1440.3zM1505.3 359.2H1512.5V366H1505.3zM1599.2 441.6H1603V448.4H1599.2z"/>
<path fill="#c1e0eb" d="M1158.8 70.7H1166V77.6H1158.8zM1166 77.6H1173.2V84.5H1166zM1202.1 105.1H1209.3V111.9H1202.1zM1310.4 208.1H1317.6V215H1310.4zM1317.6 215H1324.8V221.8H1317.6zM1324.8 221.8H1332.1V228.7H1324.8zM1332.1 228.7H1339.3V235.6H1332.1zM1339.3 235.6H1346.5V242.4H1339.3zM1375.4 256.2H1382.6V263H1375.4zM1397 269.9H1404.2V276.8H1397zM1440.3 297.4H1447.6V304.2H1440.3zM1447.6 304.2H1454.8V311.1H1447.6zM1505.3 352.3H1512.5V359.2H1505.3zM1512.5 359.2H1519.8V366H1512.5zM1137.1 400.4H1144.3V407.2H1137.1zM1252.6 400.4H1259.9V407.2H1252.6zM1072.1 414.1H1079.4V421H1072.1zM1599.2 434.7H1603V441.6H1599.2zM1252.6 441.6H1259.9V448.4H1252.6zM1238.2 606.4H1245.4V613.3H1238.2z"/>
<path fill="#bedeea" d="M1166 70.7H1173.2V77.6H1166zM1173.2 77.6H1180.4V84.5H1173.2zM1209.3 105.1H1216.5V111.9H1209.3zM1245.4 139.4H1252.6V146.3H1245.4zM1252.6 146.3H1259.9V153.1H1252.6zM1259.9 153.1H1267.1V160H1259.9zM1310.4 201.2H1317.6V208.1H1310.4zM1317.6 208.1H1324.8V215H1317.6zM1324.8 215H1332.1V221.8H1324.8zM1346.5 235.6H1353.7V242.4H1346.5zM1382.6 256.2H1389.8V263H1382.6zM1418.7 276.8H1425.9V283.6H1418.7zM1440.3 290.5H1447.6V297.4H1440.3zM1447.6 297.4H1454.8V304.2H1447.6zM1498.1 338.6H1505.3V345.4H1498.1zM1505.3 345.4H1512.5V352.3H1505.3zM1512.5 352.3H1519.8V359.2H1512.5zM1541.4 372.9H1548.6V379.8H1541.4zM1548.6 379.8H1555.9V386.6H1548.6zM1555.9 386.6H1563.1V393.5H1555.9zM1187.7 393.5H1194.9V400.4H1187.7zM1245.4 393.5H1252.6V400.4H1245.4zM1592 421H1599.2V427.8H1592zM1252.6 427.8H1259.9V434.7H1252.6zM1599.2 427.8H1603V434.7H1599.2zM1245.4 510.3H1252.6V517.1H1245.4z"/>
<path fill="#bcdce9" d="M1173.2 70.7H1180.4V77.6H1173.2zM1180.4 77.6H1187.7V84.5H1180.4zM1209.3 98.2H1216.5V105.1H1209.3zM1216.5 105.1H1223.8V111.9H1216.5zM1245.4 132.5H1252.6V139.4H1245.4zM1252.6 139.4H1259.9V146.3H1252.6zM1259.9 146.3H1267.1V153.1H1259.9zM1267.1 153.1H1274.3V160H1267.1zM1310.4 194.3H1317.6V201.2H1310.4zM1317.6 201.2H1324.8V208.1H1317.6zM1389.8 256.2H1397V263H1389.8zM1404.2 263H1411.5V269.9H1404.2zM1447.6 290.5H1454.8V297.4H1447.6zM1498.1 331.7H1505.3V338.6H1498.1zM1505.3 338.6H1512.5V345.4H1505.3zM1541.4 366H1548.6V372.9H1541.4zM1548.6 372.9H1555.9V379.8H1548.6zM1555.9 379.8H1563.1V386.6H1555.9zM1563.1 386.6H1570.3V393.5H1563.1zM1592 414.1H1599.2V421H1592zM1021.6 421H1028.8V427.8H1021.6z"/>
<path fill="#b3d6e6" d="M1339.3 70.7H1346.5V77.6H1339.3zM1339.3 77.6H1346.5V84.5H1339.3zM1339.3 84.5H1346.5V91.3H1339.3zM1339.3 91.3H1346.5V98.2H1339.3zM1339.3 98.2H1346.5V105.1H1339.3zM1339.3 105.1H1346.5V111.9H1339.3zM1339.3 111.9H1346.5V118.8H1339.3zM1339.3 160H1346.5V166.9H1339.3zM1339.3 166.9H1346.5V173.7H1339.3zM1375.4 235.6H1382.6V242.4H1375.4zM1397 242.4H1404.2V249.3H1397zM1599.2 242.4H1603V249.3H1599.2zM1584.7 249.3H1592V256.2H1584.7zM1440.3 256.2H1447.6V263H1440.3zM1563.1 256.2H1570.3V263H1563.1zM1476.4 263H1490.9V269.9H1476.4zM1519.8 263H1541.4V269.9H1519.8zM1064.9 421H1072.1V427.8H1064.9z"/>
<path fill="#aed3e4" d="M1360.9 70.7H1368.1V77.6H1360.9zM1353.7 153.1H1360.9V160H1353.7zM1353.7 160H1360.9V166.9H1353.7zM1353.7 166.9H1360.9V173.7H1353.7zM1353.7 173.7H1360.9V180.6H1353.7zM1353.7 180.6H1360.9V187.5H1353.7zM1527 249.3H1534.2V256.2H1527zM1014.4 427.8H1021.6V434.7H1014.4z"/>
<path fill="#abd0e2" d="M1368.1 70.7H1375.4V77.6H1368.1zM1360.9 146.3H1368.1V153.1H1360.9zM1563.1 235.6H1570.3V242.4H1563.1zM1202.1 400.4H1209.3V407.2H1202.1zM1122.7 414.1H1129.9V421H1122.7z"/>
<path fill="#a5cde0" d="M1375.4 70.7H1382.6V77.6H1375.4zM1368.1 146.3H1375.4V153.1H1368.1zM1238.2 510.3H1245.4V517.1H1238.2z"/>
<path fill="#9ec7dc" d="M1382.6 70.7H1389.8V77.6H1382.6zM1375.4 146.3H1382.6V153.1H1375.4zM1592 215H1599.2V221.8H1592zM1519.8 235.6H1527V242.4H1519.8zM1158.8 414.1H1166V421H1158.8zM1122.7 421H1129.9V427.8H1122.7z"/>
<path fill="#93c0d8" d="M1389.8 70.7H1397V77.6H1389.8zM1418.7 228.7H1425.9V235.6H1418.7zM1231 530.9H1238.2V537.7H1231zM1223.8 613.3H1231V620.1H1223.8z"/>
<path fill="#84afd0" d="M1397 70.7H1404.2V77.6H1397zM1462 228.7H1469.2V235.6H1462zM1115.5 434.7H1122.7V441.6H1115.5zM1014.4 448.4H1021.6V455.3H1014.4zM1223.8 558.3H1231V565.2H1223.8z"/>
<path fill="#7098c4" d="M1404.2 70.7H1411.5V77.6H1404.2zM1440.3 221.8H1447.6V228.7H1440.3zM1512.5 221.8H1519.8V228.7H1512.5zM1187.7 427.8H1194.9V434.7H1187.7zM1050.5 455.3H1057.7V462.2H1050.5zM1223.8 475.9H1231V482.8H1223.8zM1216.5 551.5H1223.8V558.3H1216.5z"/>
<path fill="#577fb2" d="M1411.5 70.7H1418.7V77.6H1411.5zM1209.3 448.4H1216.5V455.3H1209.3zM1209.3 455.3H1216.5V462.2H1209.3zM1093.8 469H1101V475.9H1093.8zM1202.1 517.1H1209.3V524H1202.1zM1194.9 565.2H1202.1V572.1H1194.9zM1187.7 613.3H1194.9V620.1H1187.7z"/>
<path fill="#476da4" d="M1418.7 70.7H1425.9V77.6H1418.7zM1411.5 146.3H1418.7V153.1H1411.5z"/>
<path fill="#41649b" d="M1425.9 70.7H1433.1V77.6H1425.9zM1418.7 146.3H1425.9V153.1H1418.7zM1599.2 180.6H1603V187.5H1599.2zM1534.2 201.2H1541.4V208.1H1534.2z"/>
<path fill="#3d5e90" d="M1433.1 70.7H1440.3V77.6H1433.1zM1469.2 201.2H1476.4V208.1H1469.2zM1490.9 201.2H1498.1V208.1H1490.9z"/>
<path fill="#395786" d="M1447.6 70.7H1454.8V77.6H1447.6zM1440.3 139.4H1447.6V146.3H1440.3zM1440.3 146.3H1447.6V153.1H1440.3zM1440.3 173.7H1447.6V180.6H1440.3zM1570.3 173.7H1577.5V180.6H1570.3zM1548.6 180.6H1555.9V187.5H1548.6zM1512.5 187.5H1519.8V194.3H1512.5z"/>
<path fill="#d5322d" d="M1011 77.6H1014.4V84.5H1011zM1011 84.5H1021.6V91.3H1011zM1011 91.3H1028.8V98.2H1011zM1014.4 98.2H1036.1V105.1H1014.4zM1021.6 105.1H1043.3V111.9H1021.6zM1028.8 111.9H1050.5V118.8H1028.8zM1036.1 118.8H1057.7V125.7H1036.1zM1043.3 125.7H1057.7V132.5H1043.3zM1043.3 132.5H1064.9V139.4H1043.3zM1043.3 139.4H1064.9V146.3H1043.3zM1043.3 146.3H1057.7V153.1H1043.3zM1043.3 153.1H1057.7V160H1043.3zM1043.3 160H1057.7V166.9H1043.3zM1036.1 166.9H1050.5V173.7H1036.1zM1036.1 173.7H1050.5V180.6H1036.1zM1028.8 180.6H1043.3V187.5H1028.8zM1011 187.5H1036.1V194.3H1011zM1011 194.3H1014.4V201.2H1011z"/>
<path fill="#dc4136" d="M1057.7 77.6H1064.9V84.5H1057.7zM1064.9 84.5H1072.1V91.3H1064.9zM1072.1 91.3H1079.4V98.2H1072.1zM1079.4 98.2H1086.6V105.1H1079.4zM1086.6 105.1H1093.8V111.9H1086.6zM1093.8 111.9H1101V118.8H1093.8zM1079.4 173.7H1086.6V180.6H1079.4zM1252.6 263H1259.9V269.9H1252.6zM1267.1 269.9H1274.3V276.8H1267.1zM1296 311.1H1303.2V318H1296zM1332.1 352.3H1339.3V359.2H1332.1zM1418.7 434.7H1425.9V441.6H1418.7zM1462 475.9H1469.2V482.8H1462z"/>
<path fill="#eeb06e" d="M1101 77.6H1108.2V84.5H1101zM1187.7 153.1H1194.9V160H1187.7zM1101 256.2H1108.2V263H1101zM1346.5 297.4H1353.7V304.2H1346.5zM1339.3 407.2H1346.5V414.1H1339.3zM1397 462.2H1404.2V469H1397zM1404.2 469H1411.5V475.9H1404.2zM1411.5 475.9H1418.7V482.8H1411.5zM1548.6 475.9H1555.9V482.8H1548.6zM1433.1 620.1H1440.3V627H1433.1z"/>
<path fill="#f1d582" d="M1108.2 77.6H1115.5V84.5H1108.2zM1144.3 111.9H1151.6V118.8H1144.3zM1274.3 228.7H1281.5V235.6H1274.3zM1281.5 359.2H1288.7V366H1281.5zM1555.9 469H1563.1V475.9H1555.9z"/>
<path fill="#f2e9aa" d="M1115.5 77.6H1122.7V84.5H1115.5zM1122.7 84.5H1129.9V91.3H1122.7zM1310.4 256.2H1317.6V263H1310.4zM1317.6 263H1324.8V269.9H1317.6zM1093.8 290.5H1101V297.4H1093.8zM1187.7 290.5H1194.9V297.4H1187.7zM1072.1 297.4H1079.4V304.2H1072.1zM1057.7 304.2H1064.9V311.1H1057.7zM1050.5 318H1057.7V324.8H1050.5zM1050.5 324.8H1057.7V331.7H1050.5zM1050.5 331.7H1057.7V338.6H1050.5zM1050.5 338.6H1057.7V345.4H1050.5zM1267.1 366H1274.3V372.9H1267.1zM1043.3 372.9H1050.5V379.8H1043.3zM1274.3 372.9H1281.5V379.8H1274.3z"/>
<path fill="#edf1d1" d="M1122.7 77.6H1129.9V84.5H1122.7zM1209.3 359.2H1216.5V366H1209.3zM1158.8 372.9H1166V379.8H1158.8zM1122.7 386.6H1129.9V393.5H1122.7zM1505.3 400.4H1512.5V407.2H1505.3zM1259.9 503.4H1267.1V510.3H1259.9zM1252.6 585.8H1259.9V592.7H1252.6z"/>
<path fill="#e5f3ea" d="M1129.9 77.6H1137.1V84.5H1129.9zM1137.1 84.5H1144.3V91.3H1137.1zM1418.7 318H1425.9V324.8H1418.7zM1599.2 475.9H1603V482.8H1599.2zM1245.4 620.1H1252.6V627H1245.4z"/>
<path fill="#c5e2ed" d="M1158.8 77.6H1166V84.5H1158.8zM1353.7 249.3H1360.9V256.2H1353.7zM1411.5 283.6H1418.7V290.5H1411.5zM1057.7 414.1H1064.9V421H1057.7zM1245.4 530.9H1252.6V537.7H1245.4z"/>
<path fill="#badbe9" d="M1187.7 77.6H1194.9V84.5H1187.7zM1223.8 105.1H1231V111.9H1223.8zM1231 111.9H1238.2V118.8H1231zM1238.2 118.8H1245.4V125.7H1238.2zM1245.4 125.7H1252.6V132.5H1245.4zM1281.5 160H1288.7V166.9H1281.5zM1288.7 166.9H1296V173.7H1288.7zM1296 173.7H1303.2V180.6H1296zM1303.2 180.6H1310.4V187.5H1303.2zM1332.1 215H1339.3V221.8H1332.1zM1454.8 290.5H1462V297.4H1454.8zM1512.5 338.6H1519.8V345.4H1512.5zM1548.6 366H1555.9V372.9H1548.6zM1555.9 372.9H1563.1V379.8H1555.9zM1245.4 496.5H1252.6V503.4H1245.4z"/>
<path fill="#b0d4e4" d="M1353.7 77.6H1360.9V84.5H1353.7zM1353.7 84.5H1360.9V91.3H1353.7zM1353.7 91.3H1360.9V98.2H1353.7zM1353.7 98.2H1360.9V105.1H1353.7zM1353.7 105.1H1360.9V111.9H1353.7zM1353.7 111.9H1360.9V118.8H1353.7zM1346.5 201.2H1353.7V208.1H1346.5zM1346.5 208.1H1353.7V215H1346.5zM1353.7 221.8H1360.9V228.7H1353.7zM1382.6 235.6H1389.8V242.4H1382.6zM1584.7 235.6H1592V242.4H1584.7zM1570.3 242.4H1577.5V249.3H1570.3zM1433.1 249.3H1440.3V256.2H1433.1zM1541.4 249.3H1555.9V256.2H1541.4zM1476.4 256.2H1512.5V263H1476.4z"/>
<path fill="#aed3e3" d="M1360.9 77.6H1368.1V84.5H1360.9zM1577.5 235.6H1584.7V242.4H1577.5zM1555.9 242.4H1563.1V249.3H1555.9zM1447.6 249.3H1454.8V256.2H1447.6zM1115.5 414.1H1122.7V421H1115.5z"/>
<path fill="#aad0e2" d="M1368.1 77.6H1375.4V84.5H1368.1zM1368.1 84.5H1375.4V91.3H1368.1zM1360.9 153.1H1368.1V160H1360.9zM1360.9 160H1368.1V166.9H1360.9zM1360.9 166.9H1368.1V173.7H1360.9zM1360.9 173.7H1368.1V180.6H1360.9zM1353.7 215H1360.9V221.8H1353.7zM1599.2 221.8H1603V228.7H1599.2zM1397 235.6H1404.2V242.4H1397zM1433.1 242.4H1440.3V249.3H1433.1zM1534.2 242.4H1541.4V249.3H1534.2zM1238.2 400.4H1245.4V407.2H1238.2zM1245.4 414.1H1252.6V421H1245.4zM1245.4 421H1252.6V427.8H1245.4zM1036.1 427.8H1043.3V434.7H1036.1zM1245.4 434.7H1252.6V441.6H1245.4zM1245.4 441.6H1252.6V448.4H1245.4zM1231 613.3H1238.2V620.1H1231z"/>
<path fill="#a5ccdf" d="M1375.4 77.6H1382.6V84.5H1375.4zM1462 242.4H1469.2V249.3H1462zM1498.1 242.4H1505.3V249.3H1498.1z"/>
<path fill="#9dc7dc" d="M1382.6 77.6H1389.8V84.5H1382.6zM1036.1 434.7H1043.3V441.6H1036.1zM1238.2 482.8H1245.4V489.7H1238.2z"/>
<path fill="#92bfd7" d="M1389.8 77.6H1397V84.5H1389.8zM1187.7 414.1H1194.9V421H1187.7z"/>
<path fill="#82adcf" d="M1397 77.6H1404.2V84.5H1397zM1375.4 208.1H1382.6V215H1375.4zM1476.4 228.7H1483.7V235.6H1476.4z"/>
<path fill="#6d95c3" d="M1404.2 77.6H1411.5V84.5H1404.2zM1064.9 455.3H1072.1V462.2H1064.9zM1209.3 613.3H1216.5V620.1H1209.3z"/>
<path fill="#547cb1" d="M1411.5 77.6H1418.7V84.5H1411.5zM1166 455.3H1173.2V462.2H1166zM1108.2 469H1115.5V475.9H1108.2zM1064.9 475.9H1072.1V482.8H1064.9zM1202.1 489.7H1209.3V496.5H1202.1zM1194.9 537.7H1202.1V544.6H1194.9zM1187.7 578.9H1194.9V585.8H1187.7z"/>
<path fill="#466ca3" d="M1418.7 77.6H1425.9V84.5H1418.7zM1411.5 153.1H1418.7V160H1411.5zM1555.9 201.2H1563.1V208.1H1555.9z"/>
<path fill="#41649a" d="M1425.9 77.6H1433.1V84.5H1425.9z"/>
<path fill="#3c5d8f" d="M1433.1 77.6H1440.3V84.5H1433.1zM1433.1 84.5H1440.3V91.3H1433.1zM1425.9 153.1H1433.1V160H1425.9zM1425.9 160H1433.1V166.9H1425.9zM1425.9 180.6H1433.1V187.5H1425.9zM1534.2 194.3H1541.4V201.2H1534.2z"/>
<path fill="#3a5989" d="M1440.3 77.6H1447.6V84.5H1440.3zM1440.3 84.5H1447.6V91.3H1440.3zM1433.1 146.3H1440.3V153.1H1433.1zM1433.1 153.1H1440.3V160H1433.1zM1433.1 160H1440.3V166.9H1433.1zM1433.1 166.9H1440.3V173.7H1433.1zM1433.1 173.7H1440.3V180.6H1433.1zM1584.7 173.7H1592V180.6H1584.7zM1440.3 187.5H1447.6V194.3H1440.3zM1541.4 187.5H1548.6V194.3H1541.4zM1462 194.3H1505.3V201.2H1462z"/>
<path fill="#385786" d="M1447.6 77.6H1454.8V84.5H1447.6zM1440.3 153.1H1447.6V160H1440.3zM1440.3 160H1447.6V166.9H1440.3zM1440.3 166.9H1447.6V173.7H1440.3zM1462 187.5H1469.2V194.3H1462zM1505.3 187.5H1512.5V194.3H1505.3z"/>
<path fill="#d93831" d="M1050.5 84.5H1057.7V91.3H1050.5zM1057.7 91.3H1064.9V98.2H1057.7zM1064.9 98.2H1072.1V105.1H1064.9zM1072.1 105.1H1079.4V111.9H1072.1zM1079.4 153.1H1086.6V160H1079.4zM1072.1 166.9H1079.4V173.7H1072.1zM1324.8 331.7H1339.3V338.6H1324.8zM1346.5 359.2H1353.7V366H1346.5zM1353.7 366H1360.9V372.9H1353.7zM1368.1 366H1375.4V372.9H1368.1zM1397 407.2H1404.2V414.1H1397zM1433.1 427.8H1440.3V434.7H1433.1zM1440.3 434.7H1447.6V441.6H1440.3zM1447.6 441.6H1454.8V448.4H1447.6zM1476.4 475.9H1490.9V482.8H1476.4z"/>
<path fill="#e05240" d="M1079.4 84.5H1086.6V91.3H1079.4zM1231 263H1238.2V269.9H1231zM1339.3 318H1346.5V324.8H1339.3zM1440.3 414.1H1447.6V421H1440.3zM1476.4 503.4H1483.7V510.3H1476.4zM1577.5 578.9H1584.7V585.8H1577.5z"/>
<path fill="#e87351" d="M1093.8 84.5H1101V91.3H1093.8zM1129.9 118.8H1137.1V125.7H1129.9zM1173.2 153.1H1180.4V160H1173.2zM1296 269.9H1303.2V276.8H1296zM1310.4 283.6H1317.6V290.5H1310.4zM1288.7 338.6H1296V345.4H1288.7z"/>
<path fill="#eb925f" d="M1101 84.5H1108.2V91.3H1101zM1137.1 118.8H1144.3V125.7H1137.1zM1129.9 201.2H1137.1V208.1H1129.9zM1231 201.2H1238.2V208.1H1231zM1238.2 208.1H1245.4V215H1238.2zM1122.7 215H1129.9V221.8H1122.7zM1245.4 215H1252.6V221.8H1245.4zM1267.1 235.6H1274.3V242.4H1267.1zM1137.1 242.4H1144.3V249.3H1137.1zM1064.9 249.3H1072.1V256.2H1064.9zM1346.5 304.2H1353.7V311.1H1346.5zM1397 345.4H1404.2V352.3H1397zM1296 352.3H1303.2V359.2H1296zM1339.3 393.5H1346.5V400.4H1339.3zM1382.6 434.7H1389.8V441.6H1382.6zM1411.5 462.2H1418.7V469H1411.5zM1418.7 469H1425.9V475.9H1418.7zM1425.9 475.9H1433.1V482.8H1425.9z"/>
<path fill="#eeb36f" d="M1108.2 84.5H1115.5V91.3H1108.2zM1245.4 208.1H1252.6V215H1245.4zM1267.1 228.7H1274.3V235.6H1267.1zM1194.9 269.9H1202.1V276.8H1194.9zM1303.2 366H1310.4V372.9H1303.2zM1599.2 517.1H1603V524H1599.2zM1418.7 565.2H1425.9V572.1H1418.7z"/>
<path fill="#f1d784" d="M1115.5 84.5H1122.7V91.3H1115.5zM1043.3 263H1050.5V269.9H1043.3zM1317.6 269.9H1324.8V276.8H1317.6zM1310.4 393.5H1317.6V400.4H1310.4zM1490.9 407.2H1498.1V414.1H1490.9zM1317.6 441.6H1324.8V448.4H1317.6zM1317.6 448.4H1324.8V455.3H1317.6zM1317.6 455.3H1324.8V462.2H1317.6zM1317.6 462.2H1324.8V469H1317.6zM1317.6 469H1324.8V475.9H1317.6zM1317.6 475.9H1324.8V482.8H1317.6zM1317.6 482.8H1324.8V489.7H1317.6zM1317.6 489.7H1324.8V496.5H1317.6zM1317.6 496.5H1324.8V503.4H1317.6zM1317.6 503.4H1324.8V510.3H1317.6zM1317.6 510.3H1324.8V517.1H1317.6zM1317.6 517.1H1324.8V524H1317.6zM1317.6 524H1324.8V530.9H1317.6zM1317.6 530.9H1324.8V537.7H1317.6zM1317.6 537.7H1324.8V544.6H1317.6zM1317.6 544.6H1324.8V551.5H1317.6zM1317.6 551.5H1324.8V558.3H1317.6zM1317.6 558.3H1324.8V565.2H1317.6zM1317.6 565.2H1324.8V572.1H1317.6zM1317.6 572.1H1324.8V578.9H1317.6zM1317.6 578.9H1324.8V585.8H1317.6zM1317.6 585.8H1324.8V592.7H1317.6zM1317.6 592.7H1324.8V599.5H1317.6zM1317.6 599.5H1324.8V606.4H1317.6zM1317.6 606.4H1324.8V613.3H1317.6zM1317.6 613.3H1324.8V620.1H1317.6zM1317.6 620.1H1324.8V627H1317.6z"/>
<path fill="#edf1d0" d="M1129.9 84.5H1137.1V91.3H1129.9zM1137.1 91.3H1144.3V98.2H1137.1zM1296 235.6H1303.2V242.4H1296zM1173.2 324.8H1187.7V331.7H1173.2zM1158.8 331.7H1166V338.6H1158.8zM1209.3 352.3H1216.5V359.2H1209.3zM1158.8 359.2H1166V366H1158.8zM1216.5 366H1223.8V372.9H1216.5z"/>
<path fill="#d2ebf1" d="M1151.6 84.5H1158.8V91.3H1151.6zM1303.2 221.8H1310.4V228.7H1303.2zM1310.4 228.7H1317.6V235.6H1310.4zM1368.1 269.9H1375.4V276.8H1368.1zM1389.8 283.6H1397V290.5H1389.8zM1534.2 400.4H1541.4V407.2H1534.2zM1541.4 407.2H1548.6V414.1H1541.4zM1577.5 441.6H1584.7V448.4H1577.5zM1584.7 448.4H1592V455.3H1584.7zM1252.6 482.8H1259.9V489.7H1252.6z"/>
<path fill="#cbe6ef" d="M1158.8 84.5H1166V91.3H1158.8zM1462 331.7H1469.2V338.6H1462zM1469.2 338.6H1476.4V345.4H1469.2zM1519.8 379.8H1527V386.6H1519.8zM1555.9 414.1H1563.1V421H1555.9zM1563.1 421H1570.3V427.8H1563.1z"/>
<path fill="#c5e3ed" d="M1166 84.5H1173.2V91.3H1166zM1202.1 111.9H1209.3V118.8H1202.1zM1310.4 215H1317.6V221.8H1310.4zM1317.6 221.8H1324.8V228.7H1317.6zM1447.6 311.1H1454.8V318H1447.6zM1512.5 366H1519.8V372.9H1512.5zM1129.9 400.4H1137.1V407.2H1129.9z"/>
<path fill="#c2e0eb" d="M1173.2 84.5H1180.4V91.3H1173.2zM1209.3 111.9H1216.5V118.8H1209.3zM1245.4 146.3H1252.6V153.1H1245.4zM1252.6 153.1H1259.9V160H1252.6zM1259.9 160H1267.1V166.9H1259.9zM1303.2 201.2H1310.4V208.1H1303.2zM1360.9 249.3H1368.1V256.2H1360.9zM1418.7 283.6H1425.9V290.5H1418.7z"/>
<path fill="#bfdeea" d="M1180.4 84.5H1187.7V91.3H1180.4zM1216.5 111.9H1223.8V118.8H1216.5zM1223.8 118.8H1231V125.7H1223.8zM1231 125.7H1238.2V132.5H1231zM1238.2 132.5H1245.4V139.4H1238.2zM1267.1 160H1274.3V166.9H1267.1zM1274.3 166.9H1281.5V173.7H1274.3zM1281.5 173.7H1288.7V180.6H1281.5zM1288.7 180.6H1296V187.5H1288.7zM1296 187.5H1303.2V194.3H1296zM1303.2 194.3H1310.4V201.2H1303.2zM1404.2 269.9H1411.5V276.8H1404.2zM1425.9 283.6H1433.1V290.5H1425.9zM1454.8 304.2H1462V311.1H1454.8zM1519.8 359.2H1527V366H1519.8zM1011 421H1014.4V427.8H1011z"/>
<path fill="#bcdde9" d="M1187.7 84.5H1194.9V91.3H1187.7zM1223.8 111.9H1231V118.8H1223.8zM1231 118.8H1238.2V125.7H1231zM1238.2 125.7H1245.4V132.5H1238.2zM1274.3 160H1281.5V166.9H1274.3zM1281.5 166.9H1288.7V173.7H1281.5zM1288.7 173.7H1296V180.6H1288.7zM1296 180.6H1303.2V187.5H1296zM1303.2 187.5H1310.4V194.3H1303.2zM1425.9 276.8H1433.1V283.6H1425.9zM1454.8 297.4H1462V304.2H1454.8zM1512.5 345.4H1519.8V352.3H1512.5zM1252.6 421H1259.9V427.8H1252.6zM1599.2 421H1603V427.8H1599.2zM1245.4 503.4H1252.6V510.3H1245.4z"/>
<path fill="#b9dbe8" d="M1202.1 84.5H1209.3V91.3H1202.1zM1324.8 201.2H1332.1V208.1H1324.8zM1440.3 276.8H1447.6V283.6H1440.3zM1462 290.5H1469.2V297.4H1462zM1519.8 338.6H1527V345.4H1519.8zM1555.9 366H1563.1V372.9H1555.9zM1599.2 407.2H1603V414.1H1599.2zM1238.2 578.9H1245.4V585.8H1238.2z"/>
<path fill="#aed2e3" d="M1360.9 84.5H1368.1V91.3H1360.9zM1353.7 187.5H1360.9V194.3H1353.7zM1519.8 249.3H1527V256.2H1519.8z"/>
<path fill="#a4ccdf" d="M1375.4 84.5H1382.6V91.3H1375.4zM1368.1 160H1375.4V166.9H1368.1zM1368.1 166.9H1375.4V173.7H1368.1zM1360.9 194.3H1368.1V201.2H1360.9zM1584.7 221.8H1592V228.7H1584.7zM1541.4 235.6H1548.6V242.4H1541.4zM1469.2 242.4H1498.1V249.3H1469.2zM1180.4 407.2H1187.7V414.1H1180.4zM1072.1 427.8H1079.4V434.7H1072.1zM1231 592.7H1238.2V599.5H1231z"/>
<path fill="#9cc6dc" d="M1382.6 84.5H1389.8V91.3H1382.6zM1375.4 160H1382.6V166.9H1375.4zM1375.4 166.9H1382.6V173.7H1375.4zM1548.6 228.7H1555.9V235.6H1548.6zM1512.5 235.6H1519.8V242.4H1512.5zM1202.1 407.2H1209.3V414.1H1202.1zM1238.2 407.2H1245.4V414.1H1238.2zM1093.8 427.8H1101V434.7H1093.8zM1043.3 434.7H1050.5V441.6H1043.3z"/>
<path fill="#91bed7" d="M1389.8 84.5H1397V91.3H1389.8zM1577.5 215H1584.7V221.8H1577.5zM1527 228.7H1534.2V235.6H1527zM1086.6 434.7H1093.8V441.6H1086.6zM1021.6 441.6H1028.8V448.4H1021.6zM1231 524H1238.2V530.9H1231zM1223.8 606.4H1231V613.3H1223.8z"/>
<path fill="#81abce" d="M1397 84.5H1404.2V91.3H1397zM1187.7 421H1194.9V427.8H1187.7zM1223.8 544.6H1231V551.5H1223.8z"/>
<path fill="#6b93c1" d="M1404.2 84.5H1411.5V91.3H1404.2zM1397 160H1404.2V166.9H1397zM1389.8 208.1H1397V215H1389.8zM1194.9 427.8H1202.1V434.7H1194.9zM1173.2 434.7H1180.4V441.6H1173.2zM1144.3 441.6H1151.6V448.4H1144.3zM1079.4 455.3H1086.6V462.2H1079.4zM1216.5 530.9H1223.8V537.7H1216.5zM1209.3 599.5H1216.5V606.4H1209.3z"/>
<path fill="#527aaf" d="M1411.5 84.5H1418.7V91.3H1411.5zM1187.7 448.4H1194.9V455.3H1187.7zM1202.1 448.4H1209.3V455.3H1202.1zM1173.2 455.3H1180.4V462.2H1173.2zM1202.1 455.3H1209.3V462.2H1202.1zM1151.6 462.2H1158.8V469H1151.6zM1202.1 462.2H1209.3V469H1202.1zM1122.7 469H1129.9V475.9H1122.7zM1093.8 475.9H1101V482.8H1093.8zM1021.6 482.8H1043.3V489.7H1021.6zM1194.9 496.5H1202.1V503.4H1194.9zM1194.9 503.4H1202.1V510.3H1194.9zM1187.7 537.7H1194.9V544.6H1187.7zM1187.7 544.6H1194.9V551.5H1187.7zM1187.7 551.5H1194.9V558.3H1187.7zM1180.4 585.8H1187.7V592.7H1180.4zM1180.4 592.7H1187.7V599.5H1180.4z"/>
<path fill="#466ba2" d="M1418.7 84.5H1425.9V91.3H1418.7zM1411.5 160H1418.7V166.9H1411.5zM1411.5 194.3H1418.7V201.2H1411.5zM1433.1 208.1H1440.3V215H1433.1z"/>
<path fill="#406399" d="M1425.9 84.5H1433.1V91.3H1425.9zM1418.7 160H1425.9V166.9H1418.7zM1418.7 187.5H1425.9V194.3H1418.7zM1433.1 201.2H1440.3V208.1H1433.1z"/>
<path fill="#385785" d="M1447.6 84.5H1454.8V91.3H1447.6zM1447.6 91.3H1454.8V98.2H1447.6zM1447.6 98.2H1454.8V105.1H1447.6zM1447.6 105.1H1454.8V111.9H1447.6zM1447.6 111.9H1454.8V118.8H1447.6zM1447.6 118.8H1454.8V125.7H1447.6zM1599.2 160H1603V166.9H1599.2zM1584.7 166.9H1592V173.7H1584.7zM1563.1 173.7H1570.3V180.6H1563.1zM1447.6 180.6H1454.8V187.5H1447.6zM1534.2 180.6H1548.6V187.5H1534.2zM1469.2 187.5H1505.3V194.3H1469.2z"/>
<path fill="#e15240" d="M1086.6 91.3H1093.8V98.2H1086.6zM1101 105.1H1108.2V111.9H1101zM1238.2 269.9H1245.4V276.8H1238.2zM1274.3 304.2H1281.5V311.1H1274.3zM1375.4 352.3H1382.6V359.2H1375.4zM1360.9 393.5H1368.1V400.4H1360.9zM1368.1 400.4H1375.4V407.2H1368.1zM1433.1 407.2H1440.3V414.1H1433.1zM1555.9 558.3H1563.1V565.2H1555.9zM1592 599.5H1599.2V606.4H1592zM1599.2 606.4H1603V613.3H1599.2z"/>
<path fill="#e45e48" d="M1093.8 91.3H1101V98.2H1093.8zM1115.5 111.9H1122.7V118.8H1115.5zM1144.3 180.6H1151.6V187.5H1144.3zM1180.4 228.7H1187.7V235.6H1180.4zM1194.9 242.4H1202.1V249.3H1194.9zM1346.5 318H1353.7V324.8H1346.5zM1411.5 379.8H1418.7V386.6H1411.5zM1418.7 386.6H1425.9V393.5H1418.7zM1425.9 393.5H1433.1V400.4H1425.9zM1447.6 489.7H1454.8V496.5H1447.6zM1555.9 572.1H1563.1V578.9H1555.9z"/>
<path fill="#e87552" d="M1101 91.3H1108.2V98.2H1101zM1101 228.7H1108.2V235.6H1101zM1346.5 311.1H1353.7V318H1346.5zM1490.9 441.6H1498.1V448.4H1490.9zM1541.4 489.7H1548.6V496.5H1541.4zM1440.3 496.5H1447.6V503.4H1440.3z"/>
<path fill="#eb9560" d="M1108.2 91.3H1115.5V98.2H1108.2zM1129.9 215H1137.1V221.8H1129.9zM1158.8 249.3H1166V256.2H1158.8zM1296 263H1303.2V269.9H1296z"/>
<path fill="#eeb570" d="M1115.5 91.3H1122.7V98.2H1115.5zM1216.5 180.6H1223.8V187.5H1216.5zM1274.3 235.6H1281.5V242.4H1274.3zM1425.9 510.3H1433.1V517.1H1425.9zM1425.9 599.5H1433.1V606.4H1425.9z"/>
<path fill="#f1d884" d="M1122.7 91.3H1129.9V98.2H1122.7zM1296 249.3H1303.2V256.2H1296zM1303.2 256.2H1310.4V263H1303.2zM1310.4 263H1317.6V269.9H1310.4zM1288.7 366H1296V372.9H1288.7zM1527 441.6H1534.2V448.4H1527zM1541.4 455.3H1548.6V462.2H1541.4z"/>
<path fill="#f2eaab" d="M1129.9 91.3H1137.1V98.2H1129.9zM1144.3 105.1H1151.6V111.9H1144.3zM1288.7 235.6H1296V242.4H1288.7zM1296 242.4H1303.2V249.3H1296zM1303.2 249.3H1310.4V256.2H1303.2zM1122.7 283.6H1129.9V290.5H1122.7zM1173.2 283.6H1180.4V290.5H1173.2zM1101 290.5H1108.2V297.4H1101zM1079.4 297.4H1086.6V304.2H1079.4zM1064.9 304.2H1072.1V311.1H1064.9zM1057.7 311.1H1064.9V318H1057.7zM1057.7 318H1064.9V324.8H1057.7zM1057.7 324.8H1064.9V331.7H1057.7zM1050.5 345.4H1057.7V352.3H1050.5zM1050.5 352.3H1057.7V359.2H1050.5zM1050.5 359.2H1057.7V366H1050.5zM1259.9 359.2H1267.1V366H1259.9zM1050.5 366H1057.7V372.9H1050.5zM1043.3 379.8H1050.5V386.6H1043.3zM1036.1 386.6H1043.3V393.5H1036.1zM1281.5 544.6H1288.7V551.5H1281.5zM1281.5 551.5H1288.7V558.3H1281.5zM1281.5 558.3H1288.7V565.2H1281.5zM1281.5 565.2H1288.7V572.1H1281.5zM1281.5 572.1H1288.7V578.9H1281.5zM1281.5 578.9H1288.7V585.8H1281.5zM1281.5 585.8H1288.7V592.7H1281.5zM1281.5 592.7H1288.7V599.5H1281.5zM1281.5 599.5H1288.7V606.4H1281.5zM1281.5 606.4H1288.7V613.3H1281.5zM1281.5 613.3H1288.7V620.1H1281.5zM1281.5 620.1H1288.7V627H1281.5z"/>
<path fill="#dcf0f4" d="M1151.6 91.3H1158.8V98.2H1151.6zM1303.2 228.7H1310.4V235.6H1303.2zM1310.4 235.6H1317.6V242.4H1310.4zM1346.5 263H1353.7V269.9H1346.5zM1418.7 311.1H1425.9V318H1418.7zM1490.9 372.9H1498.1V379.8H1490.9zM1245.4 592.7H1252.6V599.5H1245.4z"/>
<path fill="#d3ebf1" d="M1158.8 91.3H1166V98.2H1158.8zM1194.9 118.8H1202.1V125.7H1194.9zM1317.6 235.6H1324.8V242.4H1317.6zM1418.7 304.2H1425.9V311.1H1418.7zM1483.7 359.2H1490.9V366H1483.7zM1187.7 386.6H1194.9V393.5H1187.7zM1144.3 393.5H1151.6V400.4H1144.3zM1527 393.5H1534.2V400.4H1527zM1021.6 414.1H1028.8V421H1021.6z"/>
<path fill="#cce7ef" d="M1166 91.3H1173.2V98.2H1166zM1202.1 118.8H1209.3V125.7H1202.1zM1238.2 153.1H1245.4V160H1238.2zM1245.4 160H1252.6V166.9H1245.4zM1296 208.1H1303.2V215H1296zM1332.1 242.4H1339.3V249.3H1332.1zM1483.7 352.3H1490.9V359.2H1483.7zM1577.5 434.7H1584.7V441.6H1577.5zM1252.6 469H1259.9V475.9H1252.6z"/>
<path fill="#c6e3ed" d="M1173.2 91.3H1180.4V98.2H1173.2zM1231 139.4H1238.2V146.3H1231zM1238.2 146.3H1245.4V153.1H1238.2zM1245.4 153.1H1252.6V160H1245.4zM1252.6 160H1259.9V166.9H1252.6zM1259.9 166.9H1267.1V173.7H1259.9zM1267.1 173.7H1274.3V180.6H1267.1zM1296 201.2H1303.2V208.1H1296zM1303.2 208.1H1310.4V215H1303.2zM1324.8 228.7H1332.1V235.6H1324.8zM1332.1 235.6H1339.3V242.4H1332.1zM1339.3 242.4H1346.5V249.3H1339.3zM1375.4 263H1382.6V269.9H1375.4zM1397 276.8H1404.2V283.6H1397zM1418.7 290.5H1425.9V297.4H1418.7zM1454.8 318H1462V324.8H1454.8zM1462 324.8H1469.2V331.7H1462zM1469.2 331.7H1476.4V338.6H1469.2zM1476.4 338.6H1483.7V345.4H1476.4zM1519.8 372.9H1527V379.8H1519.8zM1555.9 407.2H1563.1V414.1H1555.9zM1563.1 414.1H1570.3V421H1563.1zM1570.3 421H1577.5V427.8H1570.3zM1252.6 455.3H1259.9V462.2H1252.6z"/>
<path fill="#c2e1ec" d="M1180.4 91.3H1187.7V98.2H1180.4zM1216.5 118.8H1223.8V125.7H1216.5zM1223.8 125.7H1231V132.5H1223.8zM1281.5 180.6H1288.7V187.5H1281.5zM1288.7 187.5H1296V194.3H1288.7zM1382.6 263H1389.8V269.9H1382.6zM1425.9 290.5H1433.1V297.4H1425.9zM1454.8 311.1H1462V318H1454.8zM1462 318H1469.2V324.8H1462zM1469.2 324.8H1476.4V331.7H1469.2zM1476.4 331.7H1483.7V338.6H1476.4zM1563.1 407.2H1570.3V414.1H1563.1zM1570.3 414.1H1577.5V421H1570.3z"/>
<path fill="#bfdfeb" d="M1187.7 91.3H1194.9V98.2H1187.7zM1469.2 318H1476.4V324.8H1469.2zM1476.4 324.8H1483.7V331.7H1476.4zM1483.7 331.7H1490.9V338.6H1483.7zM1527 366H1534.2V372.9H1527zM1570.3 407.2H1577.5V414.1H1570.3zM1252.6 434.7H1259.9V441.6H1252.6z"/>
<path fill="#add2e3" d="M1360.9 91.3H1368.1V98.2H1360.9zM1360.9 98.2H1368.1V105.1H1360.9zM1360.9 105.1H1368.1V111.9H1360.9zM1368.1 228.7H1375.4V235.6H1368.1zM1592 228.7H1599.2V235.6H1592zM1389.8 235.6H1397V242.4H1389.8zM1570.3 235.6H1577.5V242.4H1570.3zM1418.7 242.4H1425.9V249.3H1418.7zM1548.6 242.4H1555.9V249.3H1548.6zM1454.8 249.3H1462V256.2H1454.8zM1512.5 249.3H1519.8V256.2H1512.5zM1194.9 400.4H1202.1V407.2H1194.9zM1151.6 407.2H1158.8V414.1H1151.6zM1021.6 427.8H1028.8V434.7H1021.6zM1245.4 455.3H1252.6V462.2H1245.4zM1238.2 537.7H1245.4V544.6H1238.2zM1231 620.1H1238.2V627H1231z"/>
<path fill="#a9cfe1" d="M1368.1 91.3H1375.4V98.2H1368.1zM1368.1 98.2H1375.4V105.1H1368.1zM1360.9 180.6H1368.1V187.5H1360.9zM1353.7 201.2H1360.9V208.1H1353.7zM1360.9 221.8H1368.1V228.7H1360.9zM1577.5 228.7H1584.7V235.6H1577.5zM1555.9 235.6H1563.1V242.4H1555.9zM1527 242.4H1534.2V249.3H1527zM1209.3 400.4H1238.2V407.2H1209.3zM1166 407.2H1173.2V414.1H1166zM1093.8 421H1101V427.8H1093.8zM1043.3 427.8H1050.5V434.7H1043.3zM1245.4 427.8H1252.6V434.7H1245.4zM1238.2 524H1245.4V530.9H1238.2z"/>
<path fill="#a3cbdf" d="M1375.4 91.3H1382.6V98.2H1375.4zM1375.4 98.2H1382.6V105.1H1375.4zM1368.1 180.6H1375.4V187.5H1368.1zM1382.6 228.7H1389.8V235.6H1382.6zM1563.1 228.7H1570.3V235.6H1563.1zM1418.7 235.6H1425.9V242.4H1418.7zM1238.2 503.4H1245.4V510.3H1238.2zM1231 585.8H1238.2V592.7H1231z"/>
<path fill="#9bc5db" d="M1382.6 91.3H1389.8V98.2H1382.6zM1375.4 173.7H1382.6V180.6H1375.4zM1368.1 194.3H1375.4V201.2H1368.1zM1570.3 221.8H1577.5V228.7H1570.3zM1397 228.7H1404.2V235.6H1397zM1447.6 235.6H1454.8V242.4H1447.6zM1166 414.1H1173.2V421H1166zM1129.9 421H1137.1V427.8H1129.9zM1238.2 475.9H1245.4V482.8H1238.2zM1231 558.3H1238.2V565.2H1231z"/>
<path fill="#8fbcd6" d="M1389.8 91.3H1397V98.2H1389.8zM1158.8 421H1166V427.8H1158.8zM1223.8 599.5H1231V606.4H1223.8z"/>
<path fill="#7fa9cd" d="M1397 91.3H1404.2V98.2H1397zM1389.8 166.9H1397V173.7H1389.8zM1411.5 221.8H1418.7V228.7H1411.5zM1534.2 221.8H1541.4V228.7H1534.2zM1231 441.6H1238.2V448.4H1231zM1231 448.4H1238.2V455.3H1231zM1223.8 537.7H1231V544.6H1223.8z"/>
<path fill="#6991bf" d="M1404.2 91.3H1411.5V98.2H1404.2zM1397 166.9H1404.2V173.7H1397zM1541.4 215H1548.6V221.8H1541.4zM1086.6 455.3H1093.8V462.2H1086.6zM1216.5 517.1H1223.8V524H1216.5z"/>
<path fill="#4f77ad" d="M1411.5 91.3H1418.7V98.2H1411.5zM1404.2 166.9H1411.5V173.7H1404.2zM1404.2 201.2H1411.5V208.1H1404.2zM1570.3 201.2H1577.5V208.1H1570.3zM1411.5 208.1H1418.7V215H1411.5zM1173.2 462.2H1180.4V469H1173.2zM1151.6 469H1158.8V475.9H1151.6zM1122.7 475.9H1129.9V482.8H1122.7zM1187.7 475.9H1194.9V482.8H1187.7zM1086.6 482.8H1101V489.7H1086.6zM1187.7 482.8H1194.9V489.7H1187.7zM1011 489.7H1036.1V496.5H1011zM1187.7 489.7H1194.9V496.5H1187.7zM1180.4 510.3H1187.7V517.1H1180.4zM1180.4 517.1H1187.7V524H1180.4zM1180.4 524H1187.7V530.9H1180.4zM1180.4 530.9H1187.7V537.7H1180.4zM1173.2 565.2H1180.4V572.1H1173.2zM1173.2 572.1H1180.4V578.9H1173.2zM1173.2 578.9H1180.4V585.8H1173.2zM1173.2 585.8H1180.4V592.7H1173.2zM1166 620.1H1173.2V627H1166z"/>
<path fill="#456aa1" d="M1418.7 91.3H1425.9V98.2H1418.7zM1418.7 98.2H1425.9V105.1H1418.7zM1411.5 166.9H1418.7V173.7H1411.5zM1411.5 173.7H1418.7V180.6H1411.5zM1411.5 180.6H1418.7V187.5H1411.5zM1411.5 187.5H1418.7V194.3H1411.5zM1592 187.5H1599.2V194.3H1592zM1519.8 208.1H1527V215H1519.8z"/>
<path fill="#406298" d="M1425.9 91.3H1433.1V98.2H1425.9zM1418.7 166.9H1425.9V173.7H1418.7zM1418.7 180.6H1425.9V187.5H1418.7zM1577.5 187.5H1584.7V194.3H1577.5zM1555.9 194.3H1563.1V201.2H1555.9zM1527 201.2H1534.2V208.1H1527z"/>
<path fill="#3c5c8e" d="M1433.1 91.3H1440.3V98.2H1433.1zM1425.9 166.9H1433.1V173.7H1425.9zM1425.9 173.7H1433.1V180.6H1425.9zM1599.2 173.7H1603V180.6H1599.2z"/>
<path fill="#3a5988" d="M1440.3 91.3H1447.6V98.2H1440.3zM1563.1 180.6H1570.3V187.5H1563.1z"/>
<path fill="#d4322d" d="M1011 98.2H1014.4V105.1H1011zM1011 105.1H1021.6V111.9H1011zM1014.4 111.9H1028.8V118.8H1014.4zM1021.6 118.8H1036.1V125.7H1021.6zM1028.8 125.7H1043.3V132.5H1028.8zM1036.1 132.5H1043.3V139.4H1036.1zM1036.1 139.4H1043.3V146.3H1036.1zM1036.1 146.3H1043.3V153.1H1036.1zM1036.1 153.1H1043.3V160H1036.1zM1036.1 160H1043.3V166.9H1036.1zM1028.8 166.9H1036.1V173.7H1028.8zM1028.8 173.7H1036.1V180.6H1028.8zM1011 180.6H1028.8V187.5H1011z"/>
<path fill="#e15341" d="M1093.8 98.2H1101V105.1H1093.8zM1151.6 146.3H1158.8V153.1H1151.6zM1144.3 173.7H1151.6V180.6H1144.3zM1187.7 221.8H1194.9V228.7H1187.7zM1245.4 276.8H1252.6V283.6H1245.4zM1267.1 297.4H1274.3V304.2H1267.1zM1332.1 311.1H1339.3V318H1332.1zM1382.6 359.2H1389.8V366H1382.6zM1425.9 400.4H1433.1V407.2H1425.9zM1375.4 407.2H1382.6V414.1H1375.4zM1527 537.7H1534.2V544.6H1527zM1563.1 565.2H1570.3V572.1H1563.1zM1570.3 572.1H1577.5V578.9H1570.3z"/>
<path fill="#e56049" d="M1101 98.2H1108.2V105.1H1101zM1158.8 146.3H1166V153.1H1158.8zM1079.4 215H1086.6V221.8H1079.4zM1202.1 249.3H1209.3V256.2H1202.1zM1209.3 256.2H1216.5V263H1209.3zM1216.5 263H1223.8V269.9H1216.5zM1281.5 324.8H1288.7V331.7H1281.5zM1368.1 407.2H1375.4V414.1H1368.1zM1563.1 517.1H1570.3V524H1563.1zM1462 524H1469.2V530.9H1462zM1512.5 544.6H1519.8V551.5H1512.5zM1534.2 558.3H1541.4V565.2H1534.2zM1577.5 606.4H1584.7V613.3H1577.5z"/>
<path fill="#e87954" d="M1108.2 98.2H1115.5V105.1H1108.2zM1166 146.3H1173.2V153.1H1166zM1101 215H1108.2V221.8H1101zM1158.8 215H1166V221.8H1158.8zM1158.8 221.8H1166V228.7H1158.8zM1158.8 235.6H1166V242.4H1158.8zM1057.7 242.4H1064.9V249.3H1057.7zM1346.5 393.5H1353.7V400.4H1346.5zM1375.4 421H1382.6V427.8H1375.4zM1519.8 469H1527V475.9H1519.8zM1592 530.9H1599.2V537.7H1592zM1440.3 537.7H1447.6V544.6H1440.3zM1440.3 592.7H1447.6V599.5H1440.3zM1447.6 620.1H1454.8V627H1447.6z"/>
<path fill="#eb9861" d="M1115.5 98.2H1122.7V105.1H1115.5zM1129.9 111.9H1137.1V118.8H1129.9zM1180.4 256.2H1187.7V263H1180.4zM1332.1 386.6H1339.3V393.5H1332.1zM1577.5 510.3H1584.7V517.1H1577.5zM1433.1 537.7H1440.3V544.6H1433.1z"/>
<path fill="#efb972" d="M1122.7 98.2H1129.9V105.1H1122.7zM1223.8 297.4H1231V304.2H1223.8zM1259.9 331.7H1267.1V338.6H1259.9zM1274.3 345.4H1281.5V352.3H1274.3zM1411.5 345.4H1418.7V352.3H1411.5zM1425.9 359.2H1433.1V366H1425.9zM1346.5 421H1353.7V427.8H1346.5zM1375.4 448.4H1382.6V455.3H1375.4zM1382.6 455.3H1389.8V462.2H1382.6zM1389.8 462.2H1397V469H1389.8zM1397 469H1404.2V475.9H1397zM1404.2 475.9H1411.5V482.8H1404.2zM1425.9 517.1H1433.1V524H1425.9zM1425.9 606.4H1433.1V613.3H1425.9z"/>
<path fill="#f2da85" d="M1129.9 98.2H1137.1V105.1H1129.9zM1036.1 263H1043.3V269.9H1036.1zM1173.2 269.9H1180.4V276.8H1173.2zM1296 372.9H1303.2V379.8H1296z"/>
<path fill="#f2eaac" d="M1137.1 98.2H1144.3V105.1H1137.1zM1180.4 132.5H1187.7V139.4H1180.4zM1129.9 283.6H1137.1V290.5H1129.9zM1086.6 297.4H1093.8V304.2H1086.6zM1072.1 304.2H1079.4V311.1H1072.1zM1064.9 311.1H1072.1V318H1064.9zM1064.9 318H1072.1V324.8H1064.9zM1057.7 331.7H1064.9V338.6H1057.7zM1057.7 338.6H1064.9V345.4H1057.7zM1057.7 345.4H1064.9V352.3H1057.7zM1057.7 352.3H1064.9V359.2H1057.7zM1057.7 359.2H1064.9V366H1057.7zM1050.5 372.9H1057.7V379.8H1050.5zM1469.2 379.8H1476.4V386.6H1469.2zM1281.5 386.6H1288.7V393.5H1281.5zM1028.8 393.5H1036.1V400.4H1028.8zM1281.5 489.7H1288.7V496.5H1281.5zM1592 489.7H1599.2V496.5H1592zM1281.5 496.5H1288.7V503.4H1281.5zM1281.5 503.4H1288.7V510.3H1281.5zM1281.5 510.3H1288.7V517.1H1281.5zM1281.5 517.1H1288.7V524H1281.5zM1281.5 524H1288.7V530.9H1281.5zM1281.5 530.9H1288.7V537.7H1281.5zM1281.5 537.7H1288.7V544.6H1281.5z"/>
<path fill="#e5f3e8" d="M1151.6 98.2H1158.8V105.1H1151.6zM1310.4 242.4H1317.6V249.3H1310.4zM1317.6 249.3H1324.8V256.2H1317.6zM1187.7 379.8H1194.9V386.6H1187.7zM1259.9 462.2H1267.1V469H1259.9z"/>
<path fill="#ddf1f4" d="M1158.8 98.2H1166V105.1H1158.8zM1296 221.8H1303.2V228.7H1296zM1317.6 242.4H1324.8V249.3H1317.6zM1324.8 249.3H1332.1V256.2H1324.8zM1368.1 276.8H1375.4V283.6H1368.1zM1389.8 290.5H1397V297.4H1389.8zM1101 400.4H1108.2V407.2H1101zM1064.9 407.2H1072.1V414.1H1064.9zM1259.9 434.7H1267.1V441.6H1259.9z"/>
<path fill="#d4ecf2" d="M1166 98.2H1173.2V105.1H1166zM1223.8 146.3H1231V153.1H1223.8zM1231 153.1H1238.2V160H1231zM1245.4 166.9H1252.6V173.7H1245.4zM1252.6 173.7H1259.9V180.6H1252.6zM1259.9 180.6H1267.1V187.5H1259.9zM1267.1 187.5H1274.3V194.3H1267.1zM1288.7 208.1H1296V215H1288.7zM1353.7 263H1360.9V269.9H1353.7zM1490.9 366H1498.1V372.9H1490.9zM1079.4 407.2H1086.6V414.1H1079.4zM1259.9 414.1H1267.1V421H1259.9zM1245.4 572.1H1252.6V578.9H1245.4z"/>
<path fill="#cde8f0" d="M1173.2 98.2H1180.4V105.1H1173.2zM1209.3 125.7H1216.5V132.5H1209.3zM1216.5 132.5H1223.8V139.4H1216.5zM1281.5 194.3H1288.7V201.2H1281.5zM1339.3 249.3H1346.5V256.2H1339.3zM1397 283.6H1404.2V290.5H1397zM1425.9 304.2H1433.1V311.1H1425.9zM1490.9 359.2H1498.1V366H1490.9z"/>
<path fill="#c8e4ee" d="M1180.4 98.2H1187.7V105.1H1180.4zM1382.6 269.9H1389.8V276.8H1382.6zM1252.6 393.5H1259.9V400.4H1252.6z"/>
<path fill="#c3e1ec" d="M1187.7 98.2H1194.9V105.1H1187.7zM1346.5 242.4H1353.7V249.3H1346.5zM1404.2 276.8H1411.5V283.6H1404.2zM1433.1 297.4H1440.3V304.2H1433.1zM1483.7 338.6H1490.9V345.4H1483.7zM1490.9 345.4H1498.1V352.3H1490.9zM1527 372.9H1534.2V379.8H1527zM1534.2 379.8H1541.4V386.6H1534.2zM1548.6 393.5H1555.9V400.4H1548.6zM1555.9 400.4H1563.1V407.2H1555.9zM1064.9 414.1H1072.1V421H1064.9zM1577.5 421H1584.7V427.8H1577.5zM1584.7 427.8H1592V434.7H1584.7zM1592 434.7H1599.2V441.6H1592zM1245.4 524H1252.6V530.9H1245.4z"/>
<path fill="#beddea" d="M1202.1 98.2H1209.3V105.1H1202.1zM1079.4 414.1H1086.6V421H1079.4z"/>
<path fill="#b2d5e5" d="M1346.5 98.2H1353.7V105.1H1346.5zM1346.5 105.1H1353.7V111.9H1346.5zM1346.5 111.9H1353.7V118.8H1346.5zM1346.5 215H1353.7V221.8H1346.5zM1584.7 242.4H1592V249.3H1584.7zM1563.1 249.3H1570.3V256.2H1563.1zM1454.8 256.2H1462V263H1454.8zM1534.2 256.2H1541.4V263H1534.2zM1180.4 400.4H1187.7V407.2H1180.4z"/>
<path fill="#9ac5db" d="M1382.6 98.2H1389.8V105.1H1382.6zM1050.5 434.7H1057.7V441.6H1050.5z"/>
<path fill="#8ebbd5" d="M1389.8 98.2H1397V105.1H1389.8zM1194.9 414.1H1202.1V421H1194.9zM1093.8 434.7H1101V441.6H1093.8z"/>
<path fill="#7da7cc" d="M1397 98.2H1404.2V105.1H1397zM1166 427.8H1173.2V434.7H1166zM1050.5 448.4H1057.7V455.3H1050.5zM1223.8 530.9H1231V537.7H1223.8z"/>
<path fill="#678fbe" d="M1404.2 98.2H1411.5V105.1H1404.2zM1397 173.7H1404.2V180.6H1397zM1462 221.8H1469.2V228.7H1462zM1490.9 221.8H1498.1V228.7H1490.9zM1180.4 434.7H1187.7V441.6H1180.4zM1093.8 455.3H1101V462.2H1093.8zM1028.8 462.2H1036.1V469H1028.8zM1216.5 510.3H1223.8V517.1H1216.5zM1209.3 578.9H1216.5V585.8H1209.3z"/>
<path fill="#4d75ab" d="M1411.5 98.2H1418.7V105.1H1411.5zM1447.6 215H1454.8V221.8H1447.6zM1151.6 475.9H1158.8V482.8H1151.6zM1122.7 482.8H1129.9V489.7H1122.7zM1086.6 489.7H1101V496.5H1086.6zM1011 496.5H1036.1V503.4H1011zM1173.2 496.5H1180.4V503.4H1173.2zM1173.2 503.4H1180.4V510.3H1173.2zM1173.2 510.3H1180.4V517.1H1173.2zM1166 558.3H1173.2V565.2H1166zM1166 565.2H1173.2V572.1H1166zM1166 572.1H1173.2V578.9H1166zM1158.8 620.1H1166V627H1158.8z"/>
<path fill="#3f6197" d="M1425.9 98.2H1433.1V105.1H1425.9z"/>
<path fill="#3c5c8d" d="M1433.1 98.2H1440.3V105.1H1433.1z"/>
<path fill="#395988" d="M1440.3 98.2H1447.6V105.1H1440.3zM1599.2 166.9H1603V173.7H1599.2zM1534.2 187.5H1541.4V194.3H1534.2z"/>
<path fill="#da3d33" d="M1079.4 105.1H1086.6V111.9H1079.4zM1050.5 201.2H1057.7V208.1H1050.5zM1028.8 208.1H1036.1V215H1028.8zM1317.6 331.7H1324.8V338.6H1317.6zM1339.3 331.7H1346.5V338.6H1339.3zM1346.5 338.6H1353.7V345.4H1346.5zM1353.7 345.4H1360.9V352.3H1353.7zM1512.5 503.4H1519.8V510.3H1512.5z"/>
<path fill="#e56149" d="M1108.2 105.1H1115.5V111.9H1108.2zM1151.6 187.5H1158.8V194.3H1151.6zM1093.8 194.3H1101V201.2H1093.8zM1079.4 221.8H1086.6V228.7H1079.4zM1036.1 228.7H1043.3V235.6H1036.1zM1072.1 228.7H1079.4V235.6H1072.1zM1223.8 269.9H1231V276.8H1223.8zM1274.3 318H1281.5V324.8H1274.3zM1288.7 331.7H1296V338.6H1288.7zM1353.7 393.5H1360.9V400.4H1353.7zM1440.3 475.9H1447.6V482.8H1440.3zM1447.6 496.5H1454.8V503.4H1447.6zM1548.6 503.4H1555.9V510.3H1548.6zM1555.9 510.3H1563.1V517.1H1555.9zM1462 530.9H1490.9V537.7H1462zM1454.8 537.7H1469.2V544.6H1454.8zM1498.1 537.7H1505.3V544.6H1498.1zM1454.8 544.6H1469.2V551.5H1454.8zM1454.8 551.5H1462V558.3H1454.8zM1519.8 551.5H1527V558.3H1519.8zM1447.6 558.3H1462V565.2H1447.6zM1447.6 565.2H1462V572.1H1447.6zM1541.4 565.2H1548.6V572.1H1541.4zM1447.6 572.1H1462V578.9H1447.6zM1548.6 572.1H1555.9V578.9H1548.6zM1454.8 578.9H1462V585.8H1454.8zM1570.3 592.7H1577.5V599.5H1570.3zM1577.5 613.3H1584.7V620.1H1577.5zM1577.5 620.1H1584.7V627H1577.5z"/>
<path fill="#e97d56" d="M1115.5 105.1H1122.7V111.9H1115.5zM1122.7 187.5H1129.9V194.3H1122.7zM1144.3 194.3H1151.6V201.2H1144.3zM1151.6 201.2H1158.8V208.1H1151.6zM1108.2 228.7H1115.5V235.6H1108.2zM1108.2 235.6H1115.5V242.4H1108.2zM1180.4 249.3H1187.7V256.2H1180.4zM1404.2 359.2H1411.5V366H1404.2zM1454.8 407.2H1462V414.1H1454.8zM1425.9 469H1433.1V475.9H1425.9z"/>
<path fill="#ec9d64" d="M1122.7 105.1H1129.9V111.9H1122.7zM1166 139.4H1173.2V146.3H1166zM1216.5 283.6H1223.8V290.5H1216.5zM1368.1 318H1375.4V324.8H1368.1zM1483.7 421H1490.9V427.8H1483.7zM1548.6 482.8H1555.9V489.7H1548.6z"/>
<path fill="#efbc74" d="M1129.9 105.1H1137.1V111.9H1129.9zM1014.4 249.3H1021.6V256.2H1014.4zM1404.2 338.6H1411.5V345.4H1404.2zM1440.3 372.9H1447.6V379.8H1440.3zM1447.6 379.8H1454.8V386.6H1447.6zM1418.7 544.6H1425.9V551.5H1418.7zM1418.7 585.8H1425.9V592.7H1418.7z"/>
<path fill="#f2db86" d="M1137.1 105.1H1144.3V111.9H1137.1zM1028.8 263H1036.1V269.9H1028.8zM1483.7 400.4H1490.9V407.2H1483.7zM1310.4 407.2H1317.6V414.1H1310.4zM1599.2 503.4H1603V510.3H1599.2z"/>
<path fill="#edf1cc" d="M1151.6 105.1H1158.8V111.9H1151.6zM1173.2 318H1187.7V324.8H1173.2zM1144.3 345.4H1151.6V352.3H1144.3zM1512.5 407.2H1519.8V414.1H1512.5zM1519.8 414.1H1527V421H1519.8z"/>
<path fill="#e6f3e5" d="M1158.8 105.1H1166V111.9H1158.8zM1223.8 160H1231V166.9H1223.8zM1238.2 173.7H1245.4V180.6H1238.2zM1245.4 180.6H1252.6V187.5H1245.4zM1281.5 215H1288.7V221.8H1281.5zM1245.4 379.8H1252.6V386.6H1245.4zM1144.3 386.6H1151.6V393.5H1144.3zM1115.5 393.5H1122.7V400.4H1115.5zM1555.9 441.6H1563.1V448.4H1555.9zM1252.6 544.6H1259.9V551.5H1252.6z"/>
<path fill="#e0f2f5" d="M1166 105.1H1173.2V111.9H1166zM1202.1 132.5H1209.3V139.4H1202.1zM1057.7 407.2H1064.9V414.1H1057.7zM1548.6 427.8H1555.9V434.7H1548.6zM1259.9 441.6H1267.1V448.4H1259.9z"/>
<path fill="#d6edf2" d="M1173.2 105.1H1180.4V111.9H1173.2zM1397 290.5H1404.2V297.4H1397zM1433.1 318H1440.3V324.8H1433.1zM1505.3 379.8H1512.5V386.6H1505.3zM1014.4 414.1H1021.6V421H1014.4z"/>
<path fill="#cfe9f0" d="M1180.4 105.1H1187.7V111.9H1180.4zM1505.3 372.9H1512.5V379.8H1505.3zM1194.9 386.6H1202.1V393.5H1194.9zM1252.6 475.9H1259.9V482.8H1252.6zM1245.4 558.3H1252.6V565.2H1245.4z"/>
<path fill="#c9e5ee" d="M1187.7 105.1H1194.9V111.9H1187.7zM1346.5 249.3H1353.7V256.2H1346.5zM1505.3 366H1512.5V372.9H1505.3zM1209.3 386.6H1223.8V393.5H1209.3zM1043.3 414.1H1050.5V421H1043.3zM1599.2 448.4H1603V455.3H1599.2zM1252.6 462.2H1259.9V469H1252.6z"/>
<path fill="#a8cfe1" d="M1368.1 105.1H1375.4V111.9H1368.1zM1231 606.4H1238.2V613.3H1231z"/>
<path fill="#a2cade" d="M1375.4 105.1H1382.6V111.9H1375.4zM1599.2 215H1603V221.8H1599.2zM1534.2 235.6H1541.4V242.4H1534.2zM1144.3 414.1H1151.6V421H1144.3zM1079.4 427.8H1086.6V434.7H1079.4zM1011 434.7H1014.4V441.6H1011zM1238.2 496.5H1245.4V503.4H1238.2z"/>
<path fill="#99c4db" d="M1382.6 105.1H1389.8V111.9H1382.6zM1454.8 235.6H1462V242.4H1454.8zM1209.3 407.2H1216.5V414.1H1209.3zM1238.2 414.1H1245.4V421H1238.2z"/>
<path fill="#8db9d5" d="M1389.8 105.1H1397V111.9H1389.8zM1382.6 180.6H1389.8V187.5H1382.6z"/>
<path fill="#7ba5ca" d="M1397 105.1H1404.2V111.9H1397z"/>
<path fill="#648cbc" d="M1404.2 105.1H1411.5V111.9H1404.2zM1563.1 208.1H1570.3V215H1563.1zM1216.5 427.8H1223.8V434.7H1216.5zM1101 455.3H1108.2V462.2H1101zM1050.5 462.2H1064.9V469H1050.5zM1216.5 489.7H1223.8V496.5H1216.5zM1202.1 620.1H1209.3V627H1202.1z"/>
<path fill="#4b73aa" d="M1411.5 105.1H1418.7V111.9H1411.5zM1404.2 187.5H1411.5V194.3H1404.2zM1151.6 482.8H1173.2V489.7H1151.6zM1122.7 489.7H1173.2V496.5H1122.7zM1079.4 496.5H1144.3V503.4H1079.4zM1158.8 496.5H1173.2V503.4H1158.8zM1011 503.4H1115.5V510.3H1011zM1151.6 503.4H1166V510.3H1151.6zM1011 510.3H1064.9V517.1H1011zM1151.6 510.3H1166V517.1H1151.6zM1151.6 517.1H1166V524H1151.6zM1151.6 524H1166V530.9H1151.6zM1151.6 530.9H1166V537.7H1151.6zM1151.6 537.7H1166V544.6H1151.6zM1151.6 544.6H1166V551.5H1151.6zM1151.6 551.5H1166V558.3H1151.6zM1151.6 558.3H1166V565.2H1151.6zM1151.6 565.2H1166V572.1H1151.6zM1151.6 572.1H1158.8V578.9H1151.6zM1151.6 578.9H1158.8V585.8H1151.6zM1144.3 585.8H1158.8V592.7H1144.3zM1144.3 592.7H1158.8V599.5H1144.3zM1144.3 599.5H1158.8V606.4H1144.3zM1144.3 606.4H1158.8V613.3H1144.3zM1144.3 613.3H1158.8V620.1H1144.3zM1144.3 620.1H1158.8V627H1144.3z"/>
<path fill="#4469a0" d="M1418.7 105.1H1425.9V111.9H1418.7zM1548.6 201.2H1555.9V208.1H1548.6zM1512.5 208.1H1519.8V215H1512.5z"/>
<path fill="#3f6196" d="M1425.9 105.1H1433.1V111.9H1425.9zM1592 180.6H1599.2V187.5H1592zM1440.3 201.2H1447.6V208.1H1440.3zM1519.8 201.2H1527V208.1H1519.8z"/>
<path fill="#3b5b8d" d="M1433.1 105.1H1440.3V111.9H1433.1zM1555.9 187.5H1563.1V194.3H1555.9z"/>
<path fill="#395888" d="M1440.3 105.1H1447.6V111.9H1440.3z"/>
<path fill="#385683" d="M1454.8 105.1H1462V111.9H1454.8zM1454.8 111.9H1462V118.8H1454.8zM1454.8 118.8H1462V125.7H1454.8zM1599.2 153.1H1603V160H1599.2zM1454.8 166.9H1462V173.7H1454.8zM1563.1 166.9H1570.3V173.7H1563.1zM1534.2 173.7H1541.4V180.6H1534.2z"/>
<path fill="#d4312d" d="M1011 111.9H1014.4V118.8H1011zM1011 118.8H1021.6V125.7H1011zM1011 125.7H1028.8V132.5H1011zM1011 132.5H1036.1V139.4H1011zM1011 139.4H1036.1V146.3H1011zM1011 146.3H1036.1V153.1H1011zM1011 153.1H1036.1V160H1011zM1011 160H1036.1V166.9H1011zM1011 166.9H1028.8V173.7H1011zM1011 173.7H1028.8V180.6H1011z"/>
<path fill="#d7342e" d="M1064.9 111.9H1072.1V118.8H1064.9zM1072.1 146.3H1079.4V153.1H1072.1z"/>
<path fill="#d8362f" d="M1072.1 111.9H1079.4V118.8H1072.1zM1079.4 125.7H1086.6V132.5H1079.4zM1079.4 139.4H1086.6V146.3H1079.4zM1072.1 160H1079.4V166.9H1072.1zM1346.5 352.3H1353.7V359.2H1346.5zM1368.1 372.9H1375.4V379.8H1368.1zM1375.4 379.8H1382.6V386.6H1375.4zM1382.6 386.6H1389.8V393.5H1382.6zM1389.8 393.5H1397V400.4H1389.8zM1397 400.4H1404.2V407.2H1397z"/>
<path fill="#d93931" d="M1079.4 111.9H1086.6V118.8H1079.4zM1086.6 132.5H1093.8V139.4H1086.6zM1064.9 180.6H1072.1V187.5H1064.9zM1043.3 201.2H1050.5V208.1H1043.3zM1011 208.1H1014.4V215H1011zM1317.6 324.8H1332.1V331.7H1317.6zM1339.3 352.3H1346.5V359.2H1339.3zM1375.4 372.9H1382.6V379.8H1375.4zM1389.8 386.6H1397V393.5H1389.8zM1397 393.5H1404.2V400.4H1397zM1404.2 400.4H1411.5V407.2H1404.2zM1411.5 407.2H1418.7V414.1H1411.5zM1404.2 414.1H1411.5V421H1404.2zM1418.7 414.1H1425.9V421H1418.7zM1425.9 421H1433.1V427.8H1425.9zM1483.7 482.8H1498.1V489.7H1483.7zM1599.2 572.1H1603V578.9H1599.2z"/>
<path fill="#db3e34" d="M1086.6 111.9H1093.8V118.8H1086.6zM1079.4 166.9H1086.6V173.7H1079.4zM1072.1 180.6H1079.4V187.5H1072.1zM1216.5 221.8H1223.8V228.7H1216.5zM1223.8 228.7H1231V235.6H1223.8zM1223.8 235.6H1238.2V242.4H1223.8zM1231 242.4H1245.4V249.3H1231zM1296 304.2H1303.2V311.1H1296zM1324.8 318H1332.1V324.8H1324.8zM1310.4 324.8H1317.6V331.7H1310.4zM1368.1 359.2H1375.4V366H1368.1zM1353.7 372.9H1360.9V379.8H1353.7zM1389.8 407.2H1397V414.1H1389.8zM1433.1 421H1440.3V427.8H1433.1zM1512.5 496.5H1519.8V503.4H1512.5zM1505.3 503.4H1512.5V510.3H1505.3zM1519.8 510.3H1527V517.1H1519.8z"/>
<path fill="#dd4739" d="M1101 111.9H1108.2V118.8H1101zM1101 139.4H1108.2V146.3H1101zM1137.1 160H1144.3V166.9H1137.1zM1166 166.9H1173.2V173.7H1166zM1173.2 173.7H1180.4V180.6H1173.2zM1180.4 180.6H1187.7V187.5H1180.4zM1180.4 194.3H1187.7V201.2H1180.4zM1267.1 283.6H1274.3V290.5H1267.1zM1360.9 386.6H1368.1V393.5H1360.9zM1440.3 421H1447.6V427.8H1440.3zM1490.9 503.4H1498.1V510.3H1490.9zM1512.5 517.1H1519.8V524H1512.5z"/>
<path fill="#e0513f" d="M1108.2 111.9H1115.5V118.8H1108.2zM1108.2 153.1H1115.5V160H1108.2zM1079.4 194.3H1086.6V201.2H1079.4zM1223.8 256.2H1231V263H1223.8zM1281.5 311.1H1288.7V318H1281.5zM1353.7 331.7H1360.9V338.6H1353.7zM1360.9 338.6H1368.1V345.4H1360.9zM1447.6 421H1454.8V427.8H1447.6zM1519.8 530.9H1527V537.7H1519.8zM1548.6 551.5H1555.9V558.3H1548.6z"/>
<path fill="#e87854" d="M1122.7 111.9H1129.9V118.8H1122.7zM1115.5 187.5H1122.7V194.3H1115.5zM1108.2 194.3H1115.5V201.2H1108.2zM1101 208.1H1108.2V215H1101zM1158.8 228.7H1166V235.6H1158.8zM1476.4 427.8H1483.7V434.7H1476.4zM1505.3 455.3H1512.5V462.2H1505.3z"/>
<path fill="#eeb771" d="M1137.1 111.9H1144.3V118.8H1137.1zM1281.5 242.4H1288.7V249.3H1281.5zM1288.7 249.3H1296V256.2H1288.7zM1115.5 256.2H1122.7V263H1115.5zM1296 256.2H1303.2V263H1296zM1180.4 263H1187.7V269.9H1180.4zM1303.2 263H1310.4V269.9H1303.2zM1418.7 572.1H1425.9V578.9H1418.7z"/>
<path fill="#f2e7a4" d="M1151.6 111.9H1158.8V118.8H1151.6zM1245.4 194.3H1252.6V201.2H1245.4zM1137.1 276.8H1151.6V283.6H1137.1zM1093.8 283.6H1101V290.5H1093.8zM1036.1 297.4H1043.3V304.2H1036.1zM1036.1 304.2H1043.3V311.1H1036.1zM1245.4 338.6H1252.6V345.4H1245.4zM1028.8 379.8H1036.1V386.6H1028.8zM1483.7 393.5H1490.9V400.4H1483.7zM1288.7 503.4H1296V510.3H1288.7zM1288.7 510.3H1296V517.1H1288.7zM1288.7 517.1H1296V524H1288.7zM1288.7 524H1296V530.9H1288.7zM1288.7 530.9H1296V537.7H1288.7zM1288.7 537.7H1296V544.6H1288.7zM1288.7 544.6H1296V551.5H1288.7zM1288.7 551.5H1296V558.3H1288.7zM1288.7 558.3H1296V565.2H1288.7zM1288.7 565.2H1296V572.1H1288.7zM1288.7 572.1H1296V578.9H1288.7zM1288.7 578.9H1296V585.8H1288.7zM1288.7 585.8H1296V592.7H1288.7zM1288.7 592.7H1296V599.5H1288.7zM1288.7 599.5H1296V606.4H1288.7zM1288.7 606.4H1296V613.3H1288.7zM1288.7 613.3H1296V620.1H1288.7zM1288.7 620.1H1296V627H1288.7z"/>
<path fill="#eeefc6" d="M1158.8 111.9H1166V118.8H1158.8zM1202.1 146.3H1209.3V153.1H1202.1zM1158.8 311.1H1166V318H1158.8zM1144.3 318H1151.6V324.8H1144.3zM1137.1 324.8H1144.3V331.7H1137.1zM1209.3 324.8H1216.5V331.7H1209.3zM1216.5 331.7H1223.8V338.6H1216.5zM1129.9 345.4H1137.1V352.3H1129.9zM1476.4 379.8H1483.7V386.6H1476.4zM1086.6 393.5H1093.8V400.4H1086.6zM1043.3 400.4H1050.5V407.2H1043.3zM1259.9 530.9H1267.1V537.7H1259.9z"/>
<path fill="#e8f2df" d="M1166 111.9H1173.2V118.8H1166zM1397 304.2H1404.2V311.1H1397zM1137.1 386.6H1144.3V393.5H1137.1zM1584.7 469H1592V475.9H1584.7zM1259.9 475.9H1267.1V482.8H1259.9z"/>
<path fill="#e2f3f3" d="M1173.2 111.9H1180.4V118.8H1173.2zM1216.5 379.8H1223.8V386.6H1216.5z"/>
<path fill="#d9eef3" d="M1180.4 111.9H1187.7V118.8H1180.4zM1360.9 269.9H1368.1V276.8H1360.9zM1382.6 283.6H1389.8V290.5H1382.6zM1404.2 297.4H1411.5V304.2H1404.2zM1011 414.1H1014.4V421H1011zM1541.4 414.1H1548.6V421H1541.4zM1570.3 441.6H1577.5V448.4H1570.3z"/>
<path fill="#acd2e3" d="M1360.9 111.9H1368.1V118.8H1360.9zM1462 249.3H1469.2V256.2H1462zM1505.3 249.3H1512.5V256.2H1505.3zM1086.6 421H1093.8V427.8H1086.6z"/>
<path fill="#a8cee1" d="M1368.1 111.9H1375.4V118.8H1368.1zM1360.9 187.5H1368.1V194.3H1360.9zM1592 221.8H1599.2V228.7H1592zM1375.4 228.7H1382.6V235.6H1375.4zM1404.2 235.6H1411.5V242.4H1404.2zM1440.3 242.4H1447.6V249.3H1440.3zM1519.8 242.4H1527V249.3H1519.8zM1129.9 414.1H1137.1V421H1129.9zM1050.5 427.8H1057.7V434.7H1050.5z"/>
<path fill="#a1cade" d="M1375.4 111.9H1382.6V118.8H1375.4zM1187.7 407.2H1194.9V414.1H1187.7z"/>
<path fill="#98c3da" d="M1382.6 111.9H1389.8V118.8H1382.6zM1584.7 215H1592V221.8H1584.7zM1375.4 221.8H1382.6V228.7H1375.4zM1404.2 228.7H1411.5V235.6H1404.2zM1541.4 228.7H1548.6V235.6H1541.4zM1462 235.6H1469.2V242.4H1462zM1490.9 235.6H1498.1V242.4H1490.9zM1173.2 414.1H1180.4V421H1173.2zM1238.2 421H1245.4V427.8H1238.2zM1064.9 434.7H1072.1V441.6H1064.9z"/>
<path fill="#8bb7d4" d="M1389.8 111.9H1397V118.8H1389.8z"/>
<path fill="#79a3c9" d="M1397 111.9H1404.2V118.8H1397zM1527 221.8H1534.2V228.7H1527zM1173.2 427.8H1180.4V434.7H1173.2zM1108.2 441.6H1115.5V448.4H1108.2zM1072.1 448.4H1079.4V455.3H1072.1zM1216.5 592.7H1223.8V599.5H1216.5z"/>
<path fill="#628aba" d="M1404.2 111.9H1411.5V118.8H1404.2zM1397 208.1H1404.2V215H1397zM1072.1 462.2H1079.4V469H1072.1z"/>
<path fill="#4a72a9" d="M1411.5 111.9H1418.7V118.8H1411.5zM1584.7 194.3H1592V201.2H1584.7zM1541.4 208.1H1548.6V215H1541.4zM1498.1 215H1505.3V221.8H1498.1zM1122.7 510.3H1144.3V517.1H1122.7zM1086.6 517.1H1144.3V524H1086.6zM1011 524H1144.3V530.9H1011zM1011 530.9H1144.3V537.7H1011zM1011 537.7H1144.3V544.6H1011zM1011 544.6H1144.3V551.5H1011zM1011 551.5H1144.3V558.3H1011zM1011 558.3H1137.1V565.2H1011zM1011 565.2H1137.1V572.1H1011zM1011 572.1H1137.1V578.9H1011zM1011 578.9H1137.1V585.8H1011zM1011 585.8H1137.1V592.7H1011zM1011 592.7H1137.1V599.5H1011zM1011 599.5H1137.1V606.4H1011zM1011 606.4H1137.1V613.3H1011zM1011 613.3H1137.1V620.1H1011zM1011 620.1H1137.1V627H1011z"/>
<path fill="#44689f" d="M1418.7 111.9H1425.9V118.8H1418.7zM1570.3 194.3H1577.5V201.2H1570.3zM1447.6 208.1H1454.8V215H1447.6z"/>
<path fill="#3e6095" d="M1425.9 111.9H1433.1V118.8H1425.9z"/>
<path fill="#3b5b8c" d="M1433.1 111.9H1440.3V118.8H1433.1zM1592 173.7H1599.2V180.6H1592zM1433.1 187.5H1440.3V194.3H1433.1zM1519.8 194.3H1527V201.2H1519.8z"/>
<path fill="#395887" d="M1440.3 111.9H1447.6V118.8H1440.3zM1440.3 118.8H1447.6V125.7H1440.3zM1440.3 125.7H1447.6V132.5H1440.3zM1592 166.9H1599.2V173.7H1592zM1577.5 173.7H1584.7V180.6H1577.5zM1440.3 180.6H1447.6V187.5H1440.3zM1555.9 180.6H1563.1V187.5H1555.9zM1447.6 187.5H1454.8V194.3H1447.6zM1519.8 187.5H1534.2V194.3H1519.8z"/>
<path fill="#d8342e" d="M1072.1 118.8H1079.4V125.7H1072.1zM1064.9 166.9H1072.1V173.7H1064.9zM1050.5 187.5H1057.7V194.3H1050.5zM1043.3 194.3H1050.5V201.2H1043.3zM1021.6 201.2H1028.8V208.1H1021.6z"/>
<path fill="#d93730" d="M1079.4 118.8H1086.6V125.7H1079.4zM1332.1 338.6H1346.5V345.4H1332.1zM1346.5 345.4H1353.7V352.3H1346.5zM1353.7 352.3H1360.9V359.2H1353.7zM1360.9 372.9H1368.1V379.8H1360.9zM1368.1 379.8H1375.4V386.6H1368.1zM1382.6 393.5H1389.8V400.4H1382.6zM1389.8 400.4H1397V407.2H1389.8zM1433.1 434.7H1440.3V441.6H1433.1zM1440.3 441.6H1447.6V448.4H1440.3zM1447.6 448.4H1454.8V455.3H1447.6zM1462 462.2H1476.4V469H1462zM1469.2 469H1476.4V475.9H1469.2z"/>
<path fill="#db4035" d="M1093.8 118.8H1101V125.7H1093.8zM1108.2 125.7H1115.5V132.5H1108.2zM1108.2 132.5H1122.7V139.4H1108.2zM1093.8 139.4H1101V146.3H1093.8zM1122.7 139.4H1129.9V146.3H1122.7zM1252.6 256.2H1259.9V263H1252.6zM1288.7 290.5H1296V297.4H1288.7zM1288.7 297.4H1296V304.2H1288.7zM1303.2 318H1310.4V324.8H1303.2zM1375.4 366H1382.6V372.9H1375.4zM1397 386.6H1404.2V393.5H1397zM1404.2 393.5H1411.5V400.4H1404.2zM1411.5 400.4H1418.7V407.2H1411.5zM1404.2 421H1411.5V427.8H1404.2zM1512.5 510.3H1519.8V517.1H1512.5zM1527 510.3H1534.2V517.1H1527zM1527 517.1H1534.2V524H1527zM1592 558.3H1599.2V565.2H1592zM1592 578.9H1599.2V585.8H1592z"/>
<path fill="#db4036" d="M1101 118.8H1108.2V125.7H1101zM1115.5 139.4H1122.7V146.3H1115.5zM1202.1 208.1H1209.3V215H1202.1zM1202.1 215H1209.3V221.8H1202.1zM1245.4 256.2H1252.6V263H1245.4zM1281.5 283.6H1288.7V290.5H1281.5zM1339.3 359.2H1346.5V366H1339.3zM1389.8 379.8H1397V386.6H1389.8zM1599.2 585.8H1603V592.7H1599.2z"/>
<path fill="#dd4539" d="M1108.2 118.8H1115.5V125.7H1108.2zM1115.5 146.3H1122.7V153.1H1115.5zM1151.6 166.9H1158.8V173.7H1151.6zM1274.3 290.5H1281.5V297.4H1274.3zM1346.5 331.7H1353.7V338.6H1346.5zM1548.6 524H1555.9V530.9H1548.6zM1570.3 544.6H1577.5V551.5H1570.3zM1577.5 565.2H1584.7V572.1H1577.5z"/>
<path fill="#e04f3e" d="M1115.5 118.8H1122.7V125.7H1115.5zM1137.1 166.9H1144.3V173.7H1137.1zM1462 434.7H1469.2V441.6H1462zM1490.9 510.3H1498.1V517.1H1490.9zM1541.4 544.6H1548.6V551.5H1541.4zM1584.7 585.8H1592V592.7H1584.7z"/>
<path fill="#e45c46" d="M1122.7 118.8H1129.9V125.7H1122.7zM1093.8 187.5H1101V194.3H1093.8zM1072.1 215H1079.4V221.8H1072.1zM1064.9 221.8H1072.1V228.7H1064.9zM1303.2 283.6H1310.4V290.5H1303.2zM1368.1 338.6H1375.4V345.4H1368.1zM1447.6 414.1H1454.8V421H1447.6zM1476.4 517.1H1483.7V524H1476.4zM1490.9 524H1498.1V530.9H1490.9zM1512.5 537.7H1519.8V544.6H1512.5zM1599.2 544.6H1603V551.5H1599.2zM1541.4 558.3H1548.6V565.2H1541.4zM1577.5 592.7H1584.7V599.5H1577.5zM1584.7 613.3H1592V620.1H1584.7z"/>
<path fill="#eeb26f" d="M1144.3 118.8H1151.6V125.7H1144.3zM1202.1 166.9H1209.3V173.7H1202.1zM1252.6 215H1259.9V221.8H1252.6zM1519.8 448.4H1527V455.3H1519.8zM1534.2 462.2H1541.4V469H1534.2z"/>
<path fill="#f1cf7f" d="M1151.6 118.8H1158.8V125.7H1151.6zM1057.7 263H1064.9V269.9H1057.7zM1346.5 290.5H1353.7V297.4H1346.5zM1454.8 379.8H1462V386.6H1454.8z"/>
<path fill="#f2e49b" d="M1158.8 118.8H1166V125.7H1158.8zM1057.7 276.8H1064.9V283.6H1057.7zM1173.2 276.8H1180.4V283.6H1173.2zM1187.7 283.6H1194.9V290.5H1187.7zM1021.6 290.5H1028.8V297.4H1021.6zM1014.4 372.9H1021.6V379.8H1014.4zM1296 400.4H1303.2V407.2H1296zM1296 572.1H1303.2V578.9H1296zM1296 578.9H1303.2V585.8H1296zM1296 585.8H1303.2V592.7H1296zM1296 592.7H1303.2V599.5H1296zM1296 599.5H1303.2V606.4H1296zM1296 606.4H1303.2V613.3H1296zM1296 613.3H1303.2V620.1H1296zM1296 620.1H1303.2V627H1296z"/>
<path fill="#f0eebd" d="M1166 118.8H1173.2V125.7H1166zM1332.1 269.9H1339.3V276.8H1332.1zM1166 297.4H1180.4V304.2H1166zM1129.9 311.1H1137.1V318H1129.9zM1202.1 311.1H1209.3V318H1202.1zM1122.7 318H1129.9V324.8H1122.7zM1231 338.6H1238.2V345.4H1231zM1108.2 379.8H1115.5V386.6H1108.2zM1072.1 393.5H1079.4V400.4H1072.1zM1274.3 400.4H1281.5V407.2H1274.3zM1267.1 489.7H1274.3V496.5H1267.1zM1259.9 565.2H1267.1V572.1H1259.9z"/>
<path fill="#eaf2da" d="M1173.2 118.8H1180.4V125.7H1173.2zM1194.9 372.9H1202.1V379.8H1194.9zM1021.6 407.2H1028.8V414.1H1021.6zM1252.6 565.2H1259.9V572.1H1252.6z"/>
<path fill="#e3f3ee" d="M1180.4 118.8H1187.7V125.7H1180.4zM1360.9 276.8H1368.1V283.6H1360.9zM1382.6 290.5H1389.8V297.4H1382.6zM1411.5 311.1H1418.7V318H1411.5z"/>
<path fill="#c7e4ed" d="M1209.3 118.8H1216.5V125.7H1209.3zM1216.5 125.7H1223.8V132.5H1216.5zM1223.8 132.5H1231V139.4H1223.8zM1281.5 187.5H1288.7V194.3H1281.5zM1288.7 194.3H1296V201.2H1288.7zM1483.7 345.4H1490.9V352.3H1483.7zM1527 379.8H1534.2V386.6H1527zM1577.5 427.8H1584.7V434.7H1577.5z"/>
<path fill="#b3d6e5" d="M1339.3 118.8H1346.5V125.7H1339.3zM1339.3 125.7H1346.5V132.5H1339.3zM1339.3 132.5H1346.5V139.4H1339.3zM1339.3 139.4H1346.5V146.3H1339.3zM1339.3 146.3H1346.5V153.1H1339.3zM1339.3 153.1H1346.5V160H1339.3zM1592 242.4H1599.2V249.3H1592zM1418.7 249.3H1425.9V256.2H1418.7zM1577.5 249.3H1584.7V256.2H1577.5zM1555.9 256.2H1563.1V263H1555.9zM1490.9 263H1519.8V269.9H1490.9z"/>
<path fill="#afd4e4" d="M1353.7 118.8H1360.9V125.7H1353.7zM1563.1 242.4H1570.3V249.3H1563.1zM1187.7 400.4H1194.9V407.2H1187.7zM1144.3 407.2H1151.6V414.1H1144.3zM1079.4 421H1086.6V427.8H1079.4zM1011 427.8H1014.4V434.7H1011zM1238.2 544.6H1245.4V551.5H1238.2z"/>
<path fill="#acd1e3" d="M1360.9 118.8H1368.1V125.7H1360.9zM1469.2 249.3H1476.4V256.2H1469.2zM1498.1 249.3H1505.3V256.2H1498.1z"/>
<path fill="#a7cee1" d="M1368.1 118.8H1375.4V125.7H1368.1zM1353.7 208.1H1360.9V215H1353.7zM1238.2 517.1H1245.4V524H1238.2z"/>
<path fill="#a1c9de" d="M1375.4 118.8H1382.6V125.7H1375.4zM1425.9 235.6H1433.1V242.4H1425.9zM1115.5 421H1122.7V427.8H1115.5zM1014.4 434.7H1021.6V441.6H1014.4zM1231 578.9H1238.2V585.8H1231z"/>
<path fill="#97c2da" d="M1382.6 118.8H1389.8V125.7H1382.6zM1476.4 235.6H1490.9V242.4H1476.4zM1238.2 462.2H1245.4V469H1238.2zM1231 544.6H1238.2V551.5H1231z"/>
<path fill="#8ab6d3" d="M1389.8 118.8H1397V125.7H1389.8zM1389.8 221.8H1397V228.7H1389.8zM1512.5 228.7H1519.8V235.6H1512.5zM1202.1 414.1H1209.3V421H1202.1zM1057.7 441.6H1064.9V448.4H1057.7zM1231 496.5H1238.2V503.4H1231zM1223.8 578.9H1231V585.8H1223.8z"/>
<path fill="#77a0c8" d="M1397 118.8H1404.2V125.7H1397zM1011 455.3H1014.4V462.2H1011z"/>
<path fill="#5f87b9" d="M1404.2 118.8H1411.5V125.7H1404.2zM1418.7 215H1425.9V221.8H1418.7zM1086.6 462.2H1093.8V469H1086.6zM1216.5 462.2H1223.8V469H1216.5zM1202.1 592.7H1209.3V599.5H1202.1z"/>
<path fill="#4971a8" d="M1411.5 118.8H1418.7V125.7H1411.5zM1476.4 215H1483.7V221.8H1476.4z"/>
<path fill="#43679e" d="M1418.7 118.8H1425.9V125.7H1418.7zM1454.8 208.1H1462V215H1454.8zM1498.1 208.1H1512.5V215H1498.1z"/>
<path fill="#3e6094" d="M1425.9 118.8H1433.1V125.7H1425.9zM1548.6 194.3H1555.9V201.2H1548.6zM1512.5 201.2H1519.8V208.1H1512.5z"/>
<path fill="#3b5b8b" d="M1433.1 118.8H1440.3V125.7H1433.1z"/>
<path fill="#d93a32" d="M1086.6 125.7H1093.8V132.5H1086.6zM1086.6 139.4H1093.8V146.3H1086.6zM1014.4 208.1H1021.6V215H1014.4zM1317.6 318H1324.8V324.8H1317.6zM1382.6 379.8H1389.8V386.6H1382.6zM1411.5 421H1418.7V427.8H1411.5zM1418.7 427.8H1425.9V434.7H1418.7zM1425.9 434.7H1433.1V441.6H1425.9zM1498.1 489.7H1505.3V496.5H1498.1z"/>
<path fill="#db3f35" d="M1093.8 125.7H1108.2V132.5H1093.8zM1093.8 132.5H1101V139.4H1093.8zM1036.1 208.1H1043.3V215H1036.1zM1209.3 215H1216.5V221.8H1209.3zM1209.3 221.8H1216.5V228.7H1209.3zM1216.5 228.7H1223.8V235.6H1216.5zM1238.2 249.3H1252.6V256.2H1238.2zM1296 297.4H1303.2V304.2H1296zM1317.6 311.1H1324.8V318H1317.6zM1346.5 366H1353.7V372.9H1346.5zM1418.7 407.2H1425.9V414.1H1418.7zM1397 414.1H1404.2V421H1397zM1425.9 414.1H1433.1V421H1425.9zM1490.9 496.5H1498.1V503.4H1490.9zM1519.8 503.4H1527V510.3H1519.8zM1584.7 558.3H1592V565.2H1584.7zM1584.7 565.2H1592V572.1H1584.7z"/>
<path fill="#dc4438" d="M1115.5 125.7H1122.7V132.5H1115.5zM1108.2 139.4H1115.5V146.3H1108.2zM1129.9 153.1H1137.1V160H1129.9zM1144.3 160H1151.6V166.9H1144.3zM1158.8 166.9H1166V173.7H1158.8zM1209.3 208.1H1216.5V215H1209.3zM1202.1 221.8H1209.3V228.7H1202.1zM1238.2 256.2H1245.4V263H1238.2zM1259.9 256.2H1267.1V263H1259.9zM1281.5 276.8H1288.7V283.6H1281.5zM1288.7 283.6H1296V290.5H1288.7zM1296 290.5H1303.2V297.4H1296zM1281.5 297.4H1288.7V304.2H1281.5zM1317.6 338.6H1324.8V345.4H1317.6zM1462 441.6H1469.2V448.4H1462zM1447.6 462.2H1454.8V469H1447.6zM1498.1 475.9H1505.3V482.8H1498.1zM1505.3 482.8H1512.5V489.7H1505.3zM1512.5 489.7H1519.8V496.5H1512.5zM1519.8 496.5H1527V503.4H1519.8zM1527 503.4H1534.2V510.3H1527zM1505.3 510.3H1512.5V517.1H1505.3zM1527 524H1534.2V530.9H1527zM1555.9 537.7H1563.1V544.6H1555.9zM1570.3 551.5H1577.5V558.3H1570.3z"/>
<path fill="#df4d3d" d="M1122.7 125.7H1129.9V132.5H1122.7zM1209.3 201.2H1216.5V208.1H1209.3zM1216.5 208.1H1223.8V215H1216.5zM1267.1 256.2H1274.3V263H1267.1zM1274.3 263H1281.5V269.9H1274.3zM1281.5 269.9H1288.7V276.8H1281.5zM1252.6 276.8H1259.9V283.6H1252.6zM1288.7 276.8H1296V283.6H1288.7zM1259.9 283.6H1267.1V290.5H1259.9zM1310.4 338.6H1317.6V345.4H1310.4zM1317.6 345.4H1324.8V352.3H1317.6zM1425.9 448.4H1433.1V455.3H1425.9zM1476.4 448.4H1483.7V455.3H1476.4zM1433.1 455.3H1440.3V462.2H1433.1zM1483.7 455.3H1490.9V462.2H1483.7zM1490.9 462.2H1498.1V469H1490.9zM1447.6 469H1454.8V475.9H1447.6zM1498.1 469H1505.3V475.9H1498.1zM1512.5 482.8H1519.8V489.7H1512.5zM1519.8 489.7H1527V496.5H1519.8zM1534.2 537.7H1541.4V544.6H1534.2zM1584.7 544.6H1592V551.5H1584.7zM1563.1 558.3H1570.3V565.2H1563.1zM1570.3 565.2H1577.5V572.1H1570.3zM1592 592.7H1599.2V599.5H1592z"/>
<path fill="#e35a45" d="M1129.9 125.7H1137.1V132.5H1129.9zM1108.2 166.9H1115.5V173.7H1108.2zM1180.4 166.9H1187.7V173.7H1180.4zM1137.1 173.7H1144.3V180.6H1137.1zM1187.7 173.7H1194.9V180.6H1187.7zM1194.9 180.6H1202.1V187.5H1194.9zM1216.5 201.2H1223.8V208.1H1216.5zM1223.8 208.1H1231V215H1223.8zM1231 215H1238.2V221.8H1231zM1238.2 221.8H1245.4V228.7H1238.2zM1267.1 249.3H1274.3V256.2H1267.1zM1274.3 256.2H1281.5V263H1274.3zM1281.5 263H1288.7V269.9H1281.5zM1238.2 276.8H1245.4V283.6H1238.2zM1310.4 290.5H1317.6V297.4H1310.4zM1259.9 297.4H1267.1V304.2H1259.9zM1267.1 304.2H1274.3V311.1H1267.1zM1462 427.8H1469.2V434.7H1462zM1447.6 482.8H1454.8V489.7H1447.6zM1454.8 496.5H1462V503.4H1454.8zM1469.2 510.3H1476.4V517.1H1469.2zM1483.7 517.1H1490.9V524H1483.7zM1505.3 530.9H1512.5V537.7H1505.3zM1527 544.6H1534.2V551.5H1527zM1563.1 572.1H1570.3V578.9H1563.1zM1592 620.1H1599.2V627H1592z"/>
<path fill="#e76e4f" d="M1137.1 125.7H1144.3V132.5H1137.1zM1093.8 215H1101V221.8H1093.8zM1093.8 221.8H1101V228.7H1093.8zM1166 221.8H1173.2V228.7H1166zM1093.8 228.7H1101V235.6H1093.8zM1252.6 228.7H1259.9V235.6H1252.6zM1202.1 256.2H1209.3V263H1202.1zM1209.3 263H1216.5V269.9H1209.3zM1360.9 324.8H1368.1V331.7H1360.9zM1433.1 393.5H1440.3V400.4H1433.1zM1447.6 606.4H1454.8V613.3H1447.6z"/>
<path fill="#ea8d5d" d="M1144.3 125.7H1151.6V132.5H1144.3zM1122.7 221.8H1129.9V228.7H1122.7zM1144.3 242.4H1151.6V249.3H1144.3zM1079.4 249.3H1086.6V256.2H1079.4zM1353.7 311.1H1360.9V318H1353.7zM1353.7 407.2H1360.9V414.1H1353.7zM1360.9 414.1H1368.1V421H1360.9z"/>
<path fill="#edab6b" d="M1151.6 125.7H1158.8V132.5H1151.6zM1079.4 256.2H1086.6V263H1079.4zM1382.6 324.8H1389.8V331.7H1382.6zM1498.1 427.8H1505.3V434.7H1498.1zM1425.9 496.5H1433.1V503.4H1425.9zM1425.9 544.6H1433.1V551.5H1425.9zM1433.1 613.3H1440.3V620.1H1433.1z"/>
<path fill="#f0c87a" d="M1158.8 125.7H1166V132.5H1158.8zM1310.4 379.8H1317.6V386.6H1310.4zM1324.8 407.2H1332.1V414.1H1324.8zM1332.1 421H1339.3V427.8H1332.1zM1339.3 434.7H1346.5V441.6H1339.3zM1346.5 455.3H1353.7V462.2H1346.5zM1353.7 475.9H1360.9V482.8H1353.7zM1353.7 482.8H1360.9V489.7H1353.7zM1353.7 489.7H1360.9V496.5H1353.7zM1353.7 496.5H1360.9V503.4H1353.7zM1353.7 503.4H1360.9V510.3H1353.7zM1353.7 510.3H1360.9V517.1H1353.7zM1599.2 510.3H1603V517.1H1599.2zM1353.7 517.1H1360.9V524H1353.7zM1353.7 524H1360.9V530.9H1353.7zM1353.7 530.9H1360.9V537.7H1353.7zM1353.7 537.7H1360.9V544.6H1353.7zM1353.7 544.6H1360.9V551.5H1353.7zM1353.7 551.5H1360.9V558.3H1353.7zM1353.7 558.3H1360.9V565.2H1353.7zM1353.7 565.2H1360.9V572.1H1353.7zM1353.7 572.1H1360.9V578.9H1353.7zM1353.7 578.9H1360.9V585.8H1353.7zM1353.7 585.8H1360.9V592.7H1353.7zM1353.7 592.7H1360.9V599.5H1353.7zM1353.7 599.5H1360.9V606.4H1353.7zM1353.7 606.4H1360.9V613.3H1353.7zM1353.7 613.3H1360.9V620.1H1353.7zM1353.7 620.1H1360.9V627H1353.7z"/>
<path fill="#f2e191" d="M1166 125.7H1173.2V132.5H1166zM1151.6 269.9H1158.8V276.8H1151.6zM1332.1 276.8H1339.3V283.6H1332.1zM1281.5 366H1288.7V372.9H1281.5zM1296 379.8H1303.2V386.6H1296zM1303.2 414.1H1310.4V421H1303.2z"/>
<path fill="#f1ecb5" d="M1173.2 125.7H1180.4V132.5H1173.2zM1144.3 290.5H1151.6V297.4H1144.3zM1173.2 290.5H1180.4V297.4H1173.2zM1122.7 297.4H1129.9V304.2H1122.7zM1101 318H1108.2V324.8H1101zM1093.8 331.7H1101V338.6H1093.8zM1418.7 331.7H1425.9V338.6H1418.7zM1093.8 338.6H1101V345.4H1093.8zM1093.8 352.3H1101V359.2H1093.8zM1093.8 359.2H1101V366H1093.8zM1252.6 359.2H1259.9V366H1252.6zM1093.8 366H1101V372.9H1093.8zM1086.6 379.8H1093.8V386.6H1086.6zM1274.3 386.6H1281.5V393.5H1274.3zM1021.6 400.4H1028.8V407.2H1021.6zM1563.1 462.2H1570.3V469H1563.1zM1274.3 469H1281.5V475.9H1274.3zM1267.1 551.5H1274.3V558.3H1267.1zM1267.1 558.3H1274.3V565.2H1267.1zM1259.9 613.3H1267.1V620.1H1259.9z"/>
<path fill="#ecf2d4" d="M1180.4 125.7H1187.7V132.5H1180.4zM1360.9 283.6H1368.1V290.5H1360.9zM1418.7 324.8H1425.9V331.7H1418.7zM1173.2 338.6H1180.4V345.4H1173.2zM1187.7 338.6H1194.9V345.4H1187.7zM1166 345.4H1173.2V352.3H1166zM1194.9 345.4H1202.1V352.3H1194.9zM1173.2 352.3H1180.4V359.2H1173.2zM1194.9 352.3H1202.1V359.2H1194.9zM1173.2 359.2H1202.1V366H1173.2zM1180.4 366H1209.3V372.9H1180.4zM1014.4 407.2H1021.6V414.1H1014.4zM1548.6 441.6H1555.9V448.4H1548.6zM1259.9 496.5H1267.1V503.4H1259.9zM1252.6 578.9H1259.9V585.8H1252.6z"/>
<path fill="#def1f4" d="M1194.9 125.7H1202.1V132.5H1194.9zM1223.8 153.1H1231V160H1223.8zM1231 160H1238.2V166.9H1231zM1238.2 166.9H1245.4V173.7H1238.2zM1245.4 173.7H1252.6V180.6H1245.4zM1288.7 215H1296V221.8H1288.7zM1425.9 318H1433.1V324.8H1425.9zM1498.1 379.8H1505.3V386.6H1498.1zM1599.2 469H1603V475.9H1599.2zM1252.6 510.3H1259.9V517.1H1252.6z"/>
<path fill="#d5ecf2" d="M1202.1 125.7H1209.3V132.5H1202.1zM1209.3 132.5H1216.5V139.4H1209.3zM1216.5 139.4H1223.8V146.3H1216.5zM1274.3 194.3H1281.5V201.2H1274.3zM1281.5 201.2H1288.7V208.1H1281.5zM1425.9 311.1H1433.1V318H1425.9zM1498.1 372.9H1505.3V379.8H1498.1zM1252.6 489.7H1259.9V496.5H1252.6z"/>
<path fill="#acd1e2" d="M1360.9 125.7H1368.1V132.5H1360.9zM1353.7 194.3H1360.9V201.2H1353.7zM1541.4 242.4H1548.6V249.3H1541.4zM1476.4 249.3H1498.1V256.2H1476.4zM1028.8 427.8H1036.1V434.7H1028.8z"/>
<path fill="#a7cee0" d="M1368.1 125.7H1375.4V132.5H1368.1zM1447.6 242.4H1454.8V249.3H1447.6z"/>
<path fill="#a0c9dd" d="M1375.4 125.7H1382.6V132.5H1375.4zM1577.5 221.8H1584.7V228.7H1577.5zM1527 235.6H1534.2V242.4H1527zM1151.6 414.1H1158.8V421H1151.6z"/>
<path fill="#96c2d9" d="M1382.6 125.7H1389.8V132.5H1382.6zM1563.1 221.8H1570.3V228.7H1563.1zM1108.2 427.8H1115.5V434.7H1108.2zM1238.2 427.8H1245.4V434.7H1238.2zM1072.1 434.7H1079.4V441.6H1072.1z"/>
<path fill="#88b4d2" d="M1389.8 125.7H1397V132.5H1389.8zM1375.4 215H1382.6V221.8H1375.4zM1447.6 228.7H1454.8V235.6H1447.6zM1231 414.1H1238.2V421H1231zM1231 489.7H1238.2V496.5H1231zM1223.8 572.1H1231V578.9H1223.8z"/>
<path fill="#759ec7" d="M1397 125.7H1404.2V132.5H1397zM1389.8 215H1397V221.8H1389.8zM1180.4 427.8H1187.7V434.7H1180.4zM1151.6 434.7H1158.8V441.6H1151.6zM1086.6 448.4H1093.8V455.3H1086.6zM1021.6 455.3H1028.8V462.2H1021.6zM1223.8 496.5H1231V503.4H1223.8z"/>
<path fill="#5d85b7" d="M1404.2 125.7H1411.5V132.5H1404.2zM1180.4 441.6H1187.7V448.4H1180.4zM1158.8 448.4H1166V455.3H1158.8zM1093.8 462.2H1101V469H1093.8zM1036.1 469H1043.3V475.9H1036.1zM1209.3 517.1H1216.5V524H1209.3zM1202.1 572.1H1209.3V578.9H1202.1zM1202.1 578.9H1209.3V585.8H1202.1zM1194.9 620.1H1202.1V627H1194.9z"/>
<path fill="#4970a7" d="M1411.5 125.7H1418.7V132.5H1411.5zM1563.1 201.2H1570.3V208.1H1563.1z"/>
<path fill="#3e5f93" d="M1425.9 125.7H1433.1V132.5H1425.9zM1570.3 187.5H1577.5V194.3H1570.3zM1447.6 201.2H1454.8V208.1H1447.6z"/>
<path fill="#3b5a8b" d="M1433.1 125.7H1440.3V132.5H1433.1zM1447.6 194.3H1454.8V201.2H1447.6z"/>
<path fill="#dc4337" d="M1101 132.5H1108.2V139.4H1101zM1122.7 132.5H1129.9V139.4H1122.7zM1129.9 139.4H1137.1V146.3H1129.9zM1137.1 146.3H1144.3V153.1H1137.1zM1144.3 153.1H1151.6V160H1144.3zM1151.6 160H1158.8V166.9H1151.6zM1072.1 187.5H1079.4V194.3H1072.1zM1187.7 194.3H1194.9V201.2H1187.7zM1216.5 215H1223.8V221.8H1216.5zM1223.8 221.8H1231V228.7H1223.8zM1209.3 228.7H1216.5V235.6H1209.3zM1231 249.3H1238.2V256.2H1231zM1252.6 249.3H1259.9V256.2H1252.6zM1267.1 276.8H1274.3V283.6H1267.1zM1303.2 297.4H1310.4V304.2H1303.2zM1288.7 304.2H1296V311.1H1288.7zM1324.8 345.4H1332.1V352.3H1324.8zM1433.1 448.4H1440.3V455.3H1433.1zM1469.2 448.4H1476.4V455.3H1469.2zM1440.3 455.3H1447.6V462.2H1440.3zM1476.4 455.3H1483.7V462.2H1476.4zM1483.7 462.2H1490.9V469H1483.7zM1490.9 469H1498.1V475.9H1490.9zM1476.4 489.7H1483.7V496.5H1476.4zM1541.4 530.9H1555.9V537.7H1541.4zM1577.5 551.5H1584.7V558.3H1577.5zM1599.2 558.3H1603V565.2H1599.2z"/>
<path fill="#df4c3c" d="M1129.9 132.5H1137.1V139.4H1129.9zM1101 153.1H1108.2V160H1101zM1036.1 215H1043.3V221.8H1036.1zM1238.2 228.7H1245.4V235.6H1238.2zM1252.6 242.4H1259.9V249.3H1252.6zM1245.4 269.9H1252.6V276.8H1245.4zM1411.5 434.7H1418.7V441.6H1411.5zM1563.1 530.9H1570.3V537.7H1563.1z"/>
<path fill="#e25844" d="M1137.1 132.5H1144.3V139.4H1137.1zM1158.8 187.5H1166V194.3H1158.8zM1166 194.3H1173.2V201.2H1166zM1064.9 215H1072.1V221.8H1064.9zM1043.3 221.8H1050.5V228.7H1043.3zM1187.7 228.7H1194.9V235.6H1187.7zM1202.1 242.4H1209.3V249.3H1202.1zM1209.3 249.3H1216.5V256.2H1209.3zM1216.5 256.2H1223.8V263H1216.5zM1281.5 318H1288.7V324.8H1281.5zM1303.2 338.6H1310.4V345.4H1303.2zM1310.4 345.4H1317.6V352.3H1310.4zM1317.6 352.3H1324.8V359.2H1317.6zM1324.8 359.2H1332.1V366H1324.8zM1404.2 434.7H1411.5V441.6H1404.2zM1476.4 441.6H1483.7V448.4H1476.4zM1483.7 448.4H1490.9V455.3H1483.7zM1490.9 455.3H1498.1V462.2H1490.9zM1519.8 482.8H1527V489.7H1519.8zM1476.4 510.3H1483.7V517.1H1476.4zM1519.8 537.7H1527V544.6H1519.8zM1548.6 558.3H1555.9V565.2H1548.6zM1599.2 620.1H1603V627H1599.2z"/>
<path fill="#e6684d" d="M1144.3 132.5H1151.6V139.4H1144.3zM1079.4 235.6H1086.6V242.4H1079.4zM1440.3 482.8H1447.6V489.7H1440.3zM1447.6 510.3H1454.8V517.1H1447.6zM1512.5 578.9H1534.2V585.8H1512.5zM1512.5 585.8H1541.4V592.7H1512.5zM1505.3 592.7H1555.9V599.5H1505.3zM1505.3 599.5H1563.1V606.4H1505.3zM1505.3 606.4H1563.1V613.3H1505.3zM1505.3 613.3H1563.1V620.1H1505.3zM1505.3 620.1H1563.1V627H1505.3z"/>
<path fill="#e9865a" d="M1151.6 132.5H1158.8V139.4H1151.6zM1144.3 235.6H1151.6V242.4H1144.3zM1108.2 242.4H1115.5V249.3H1108.2z"/>
<path fill="#eda467" d="M1158.8 132.5H1166V139.4H1158.8zM1418.7 359.2H1425.9V366H1418.7zM1462 400.4H1469.2V407.2H1462zM1382.6 441.6H1389.8V448.4H1382.6zM1397 455.3H1404.2V462.2H1397zM1404.2 462.2H1411.5V469H1404.2zM1425.9 489.7H1433.1V496.5H1425.9zM1425.9 551.5H1433.1V558.3H1425.9z"/>
<path fill="#efc277" d="M1166 132.5H1173.2V139.4H1166zM1324.8 400.4H1332.1V407.2H1324.8zM1512.5 434.7H1519.8V441.6H1512.5zM1360.9 448.4H1368.1V455.3H1360.9zM1368.1 455.3H1375.4V462.2H1368.1zM1375.4 462.2H1382.6V469H1375.4zM1382.6 469H1389.8V475.9H1382.6zM1389.8 475.9H1397V482.8H1389.8zM1555.9 475.9H1563.1V482.8H1555.9zM1397 482.8H1404.2V489.7H1397zM1411.5 544.6H1418.7V551.5H1411.5zM1411.5 578.9H1418.7V585.8H1411.5zM1411.5 585.8H1418.7V592.7H1411.5zM1418.7 613.3H1425.9V620.1H1418.7z"/>
<path fill="#f2de88" d="M1173.2 132.5H1180.4V139.4H1173.2zM1079.4 269.9H1086.6V276.8H1079.4zM1093.8 269.9H1101V276.8H1093.8zM1476.4 393.5H1483.7V400.4H1476.4zM1310.4 427.8H1317.6V434.7H1310.4zM1310.4 434.7H1317.6V441.6H1310.4zM1310.4 441.6H1317.6V448.4H1310.4zM1310.4 448.4H1317.6V455.3H1310.4zM1310.4 455.3H1317.6V462.2H1310.4zM1310.4 462.2H1317.6V469H1310.4zM1310.4 469H1317.6V475.9H1310.4zM1310.4 475.9H1317.6V482.8H1310.4zM1310.4 482.8H1317.6V489.7H1310.4zM1310.4 489.7H1317.6V496.5H1310.4zM1310.4 496.5H1317.6V503.4H1310.4zM1310.4 503.4H1317.6V510.3H1310.4zM1310.4 510.3H1317.6V517.1H1310.4zM1310.4 517.1H1317.6V524H1310.4zM1310.4 524H1317.6V530.9H1310.4zM1310.4 530.9H1317.6V537.7H1310.4zM1310.4 537.7H1317.6V544.6H1310.4zM1310.4 544.6H1317.6V551.5H1310.4zM1310.4 551.5H1317.6V558.3H1310.4zM1310.4 558.3H1317.6V565.2H1310.4zM1310.4 565.2H1317.6V572.1H1310.4zM1310.4 572.1H1317.6V578.9H1310.4zM1310.4 578.9H1317.6V585.8H1310.4zM1310.4 585.8H1317.6V592.7H1310.4zM1310.4 592.7H1317.6V599.5H1310.4zM1310.4 599.5H1317.6V606.4H1310.4zM1310.4 606.4H1317.6V613.3H1310.4zM1310.4 613.3H1317.6V620.1H1310.4zM1310.4 620.1H1317.6V627H1310.4z"/>
<path fill="#edf0cc" d="M1187.7 132.5H1194.9V139.4H1187.7zM1166 318H1173.2V324.8H1166zM1144.3 338.6H1151.6V345.4H1144.3zM1216.5 345.4H1223.8V352.3H1216.5zM1144.3 352.3H1151.6V359.2H1144.3z"/>
<path fill="#e7f2e3" d="M1194.9 132.5H1202.1V139.4H1194.9zM1209.3 146.3H1216.5V153.1H1209.3zM1267.1 201.2H1274.3V208.1H1267.1zM1274.3 208.1H1281.5V215H1274.3zM1433.1 331.7H1440.3V338.6H1433.1zM1440.3 338.6H1447.6V345.4H1440.3zM1447.6 345.4H1454.8V352.3H1447.6zM1512.5 400.4H1519.8V407.2H1512.5zM1259.9 469H1267.1V475.9H1259.9z"/>
<path fill="#c2e0ec" d="M1231 132.5H1238.2V139.4H1231zM1238.2 139.4H1245.4V146.3H1238.2zM1267.1 166.9H1274.3V173.7H1267.1zM1274.3 173.7H1281.5V180.6H1274.3zM1296 194.3H1303.2V201.2H1296zM1519.8 366H1527V372.9H1519.8z"/>
<path fill="#87b2d1" d="M1389.8 132.5H1397V139.4H1389.8zM1209.3 414.1H1216.5V421H1209.3z"/>
<path fill="#739cc6" d="M1397 132.5H1404.2V139.4H1397zM1389.8 194.3H1397V201.2H1389.8zM1209.3 421H1216.5V427.8H1209.3zM1122.7 441.6H1129.9V448.4H1122.7zM1028.8 455.3H1036.1V462.2H1028.8zM1223.8 489.7H1231V496.5H1223.8z"/>
<path fill="#5a82b5" d="M1404.2 132.5H1411.5V139.4H1404.2zM1555.9 208.1H1563.1V215H1555.9zM1425.9 215H1433.1V221.8H1425.9zM1108.2 462.2H1115.5V469H1108.2zM1064.9 469H1072.1V475.9H1064.9zM1209.3 489.7H1216.5V496.5H1209.3zM1202.1 551.5H1209.3V558.3H1202.1zM1194.9 599.5H1202.1V606.4H1194.9z"/>
<path fill="#3d5e92" d="M1425.9 132.5H1433.1V139.4H1425.9zM1454.8 201.2H1462V208.1H1454.8z"/>
<path fill="#de4a3b" d="M1137.1 139.4H1144.3V146.3H1137.1zM1108.2 146.3H1115.5V153.1H1108.2zM1144.3 166.9H1151.6V173.7H1144.3zM1202.1 228.7H1209.3V235.6H1202.1zM1231 256.2H1238.2V263H1231zM1281.5 304.2H1288.7V311.1H1281.5zM1389.8 372.9H1397V379.8H1389.8zM1397 379.8H1404.2V386.6H1397zM1397 421H1404.2V427.8H1397zM1454.8 475.9H1462V482.8H1454.8zM1548.6 544.6H1555.9V551.5H1548.6z"/>
<path fill="#e15542" d="M1144.3 139.4H1151.6V146.3H1144.3zM1129.9 166.9H1137.1V173.7H1129.9zM1173.2 201.2H1180.4V208.1H1173.2zM1057.7 215H1064.9V221.8H1057.7zM1324.8 304.2H1332.1V311.1H1324.8zM1534.2 544.6H1541.4V551.5H1534.2z"/>
<path fill="#e6634a" d="M1151.6 139.4H1158.8V146.3H1151.6zM1115.5 173.7H1122.7V180.6H1115.5zM1086.6 208.1H1093.8V215H1086.6zM1079.4 228.7H1086.6V235.6H1079.4zM1245.4 290.5H1252.6V297.4H1245.4zM1252.6 297.4H1259.9V304.2H1252.6zM1303.2 345.4H1310.4V352.3H1303.2zM1346.5 386.6H1353.7V393.5H1346.5zM1382.6 421H1389.8V427.8H1382.6zM1483.7 441.6H1490.9V448.4H1483.7zM1490.9 448.4H1498.1V455.3H1490.9zM1527 482.8H1534.2V489.7H1527zM1447.6 544.6H1454.8V551.5H1447.6zM1476.4 544.6H1483.7V551.5H1476.4zM1498.1 544.6H1505.3V551.5H1498.1zM1469.2 551.5H1476.4V558.3H1469.2zM1512.5 551.5H1519.8V558.3H1512.5zM1469.2 558.3H1476.4V565.2H1469.2zM1469.2 565.2H1476.4V572.1H1469.2zM1534.2 565.2H1541.4V572.1H1534.2zM1462 592.7H1469.2V599.5H1462zM1454.8 599.5H1469.2V606.4H1454.8zM1570.3 599.5H1577.5V606.4H1570.3z"/>
<path fill="#e97f57" d="M1158.8 139.4H1166V146.3H1158.8zM1108.2 201.2H1115.5V208.1H1108.2zM1375.4 331.7H1382.6V338.6H1375.4zM1382.6 338.6H1389.8V345.4H1382.6zM1310.4 359.2H1317.6V366H1310.4zM1418.7 372.9H1425.9V379.8H1418.7zM1447.6 400.4H1454.8V407.2H1447.6zM1397 441.6H1404.2V448.4H1397zM1440.3 599.5H1447.6V606.4H1440.3z"/>
<path fill="#efbb73" d="M1173.2 139.4H1180.4V146.3H1173.2zM1144.3 256.2H1151.6V263H1144.3zM1238.2 311.1H1245.4V318H1238.2zM1245.4 318H1252.6V324.8H1245.4zM1433.1 366H1440.3V372.9H1433.1zM1324.8 393.5H1332.1V400.4H1324.8z"/>
<path fill="#f1d783" d="M1180.4 139.4H1187.7V146.3H1180.4zM1281.5 235.6H1288.7V242.4H1281.5zM1137.1 263H1144.3V269.9H1137.1zM1317.6 434.7H1324.8V441.6H1317.6z"/>
<path fill="#f2e7a3" d="M1187.7 139.4H1194.9V146.3H1187.7zM1209.3 160H1216.5V166.9H1209.3zM1252.6 201.2H1259.9V208.1H1252.6zM1129.9 276.8H1137.1V283.6H1129.9zM1151.6 276.8H1158.8V283.6H1151.6zM1057.7 283.6H1093.8V290.5H1057.7zM1036.1 290.5H1043.3V297.4H1036.1zM1368.1 297.4H1375.4V304.2H1368.1zM1028.8 372.9H1036.1V379.8H1028.8zM1288.7 386.6H1296V393.5H1288.7zM1014.4 393.5H1021.6V400.4H1014.4zM1599.2 496.5H1603V503.4H1599.2z"/>
<path fill="#efefc4" d="M1194.9 139.4H1202.1V146.3H1194.9zM1151.6 311.1H1158.8V318H1151.6zM1397 311.1H1404.2V318H1397zM1129.9 331.7H1137.1V338.6H1129.9zM1223.8 338.6H1231V345.4H1223.8zM1231 352.3H1238.2V359.2H1231zM1129.9 366H1137.1V372.9H1129.9zM1129.9 372.9H1137.1V379.8H1129.9zM1122.7 379.8H1129.9V386.6H1122.7zM1267.1 386.6H1274.3V393.5H1267.1zM1259.9 537.7H1267.1V544.6H1259.9z"/>
<path fill="#e7f2e2" d="M1202.1 139.4H1209.3V146.3H1202.1zM1259.9 386.6H1267.1V393.5H1259.9zM1527 414.1H1534.2V421H1527zM1570.3 455.3H1577.5V462.2H1570.3z"/>
<path fill="#dff2f5" d="M1209.3 139.4H1216.5V146.3H1209.3zM1274.3 201.2H1281.5V208.1H1274.3zM1332.1 256.2H1339.3V263H1332.1zM1505.3 386.6H1512.5V393.5H1505.3zM1245.4 599.5H1252.6V606.4H1245.4z"/>
<path fill="#cce7f0" d="M1223.8 139.4H1231V146.3H1223.8zM1231 146.3H1238.2V153.1H1231zM1252.6 166.9H1259.9V173.7H1252.6zM1259.9 173.7H1267.1V180.6H1259.9zM1267.1 180.6H1274.3V187.5H1267.1zM1288.7 201.2H1296V208.1H1288.7zM1375.4 269.9H1382.6V276.8H1375.4zM1527 386.6H1534.2V393.5H1527zM1541.4 400.4H1548.6V407.2H1541.4zM1036.1 414.1H1043.3V421H1036.1zM1584.7 441.6H1592V448.4H1584.7zM1245.4 551.5H1252.6V558.3H1245.4z"/>
<path fill="#9ec8dd" d="M1375.4 139.4H1382.6V146.3H1375.4z"/>
<path fill="#85b0d0" d="M1389.8 139.4H1397V146.3H1389.8zM1541.4 221.8H1548.6V228.7H1541.4zM1498.1 228.7H1505.3V235.6H1498.1zM1180.4 421H1187.7V427.8H1180.4zM1011 448.4H1014.4V455.3H1011z"/>
<path fill="#7199c5" d="M1397 139.4H1404.2V146.3H1397zM1043.3 455.3H1050.5V462.2H1043.3zM1216.5 558.3H1223.8V565.2H1216.5z"/>
<path fill="#5880b3" d="M1404.2 139.4H1411.5V146.3H1404.2zM1404.2 208.1H1411.5V215H1404.2zM1173.2 448.4H1180.4V455.3H1173.2zM1086.6 469H1093.8V475.9H1086.6zM1209.3 469H1216.5V475.9H1209.3zM1014.4 475.9H1028.8V482.8H1014.4zM1202.1 530.9H1209.3V537.7H1202.1zM1194.9 578.9H1202.1V585.8H1194.9zM1187.7 620.1H1194.9V627H1187.7z"/>
<path fill="#476ea5" d="M1411.5 139.4H1418.7V146.3H1411.5z"/>
<path fill="#d83730" d="M1079.4 146.3H1086.6V153.1H1079.4zM1057.7 187.5H1064.9V194.3H1057.7zM1050.5 194.3H1057.7V201.2H1050.5zM1036.1 201.2H1043.3V208.1H1036.1zM1375.4 386.6H1382.6V393.5H1375.4zM1411.5 414.1H1418.7V421H1411.5zM1418.7 421H1425.9V427.8H1418.7zM1425.9 427.8H1433.1V434.7H1425.9z"/>
<path fill="#dc4236" d="M1093.8 146.3H1101V153.1H1093.8zM1137.1 153.1H1144.3V160H1137.1zM1057.7 201.2H1064.9V208.1H1057.7zM1194.9 201.2H1202.1V208.1H1194.9zM1274.3 283.6H1281.5V290.5H1274.3zM1469.2 482.8H1476.4V489.7H1469.2zM1498.1 503.4H1505.3V510.3H1498.1zM1534.2 524H1541.4V530.9H1534.2z"/>
<path fill="#de493b" d="M1101 146.3H1108.2V153.1H1101zM1144.3 146.3H1151.6V153.1H1144.3zM1086.6 173.7H1093.8V180.6H1086.6zM1028.8 215H1036.1V221.8H1028.8zM1209.3 235.6H1216.5V242.4H1209.3zM1223.8 249.3H1231V256.2H1223.8zM1317.6 304.2H1324.8V311.1H1317.6zM1288.7 311.1H1296V318H1288.7zM1382.6 366H1389.8V372.9H1382.6zM1346.5 372.9H1353.7V379.8H1346.5zM1404.2 386.6H1411.5V393.5H1404.2zM1411.5 393.5H1418.7V400.4H1411.5zM1418.7 400.4H1425.9V407.2H1418.7zM1389.8 414.1H1397V421H1389.8zM1462 482.8H1469.2V489.7H1462zM1469.2 489.7H1476.4V496.5H1469.2zM1498.1 510.3H1505.3V517.1H1498.1zM1519.8 524H1527V530.9H1519.8zM1592 551.5H1599.2V558.3H1592z"/>
<path fill="#dc4237" d="M1122.7 146.3H1129.9V153.1H1122.7zM1043.3 208.1H1050.5V215H1043.3zM1194.9 208.1H1202.1V215H1194.9zM1231 228.7H1238.2V235.6H1231zM1216.5 235.6H1223.8V242.4H1216.5zM1238.2 235.6H1245.4V242.4H1238.2zM1223.8 242.4H1231V249.3H1223.8zM1245.4 242.4H1252.6V249.3H1245.4zM1259.9 269.9H1267.1V276.8H1259.9zM1425.9 441.6H1433.1V448.4H1425.9zM1454.8 469H1462V475.9H1454.8zM1519.8 517.1H1527V524H1519.8zM1541.4 524H1548.6V530.9H1541.4zM1577.5 558.3H1584.7V565.2H1577.5zM1584.7 572.1H1592V578.9H1584.7z"/>
<path fill="#eb9761" d="M1173.2 146.3H1180.4V153.1H1173.2zM1310.4 276.8H1317.6V283.6H1310.4zM1375.4 324.8H1382.6V331.7H1375.4zM1303.2 359.2H1310.4V366H1303.2zM1433.1 592.7H1440.3V599.5H1433.1z"/>
<path fill="#eeb470" d="M1180.4 146.3H1187.7V153.1H1180.4zM1223.8 187.5H1231V194.3H1223.8zM1231 194.3H1238.2V201.2H1231zM1057.7 256.2H1064.9V263H1057.7zM1202.1 276.8H1209.3V283.6H1202.1zM1310.4 372.9H1317.6V379.8H1310.4zM1332.1 400.4H1339.3V407.2H1332.1zM1476.4 407.2H1483.7V414.1H1476.4zM1418.7 558.3H1425.9V565.2H1418.7z"/>
<path fill="#f1d07f" d="M1187.7 146.3H1194.9V153.1H1187.7zM1194.9 153.1H1202.1V160H1194.9zM1014.4 256.2H1021.6V263H1014.4zM1259.9 338.6H1267.1V345.4H1259.9zM1411.5 338.6H1418.7V345.4H1411.5zM1440.3 366H1447.6V372.9H1440.3zM1324.8 427.8H1332.1V434.7H1324.8zM1584.7 496.5H1592V503.4H1584.7z"/>
<path fill="#f2e69f" d="M1194.9 146.3H1202.1V153.1H1194.9zM1115.5 276.8H1122.7V283.6H1115.5zM1166 276.8H1173.2V283.6H1166zM1028.8 290.5H1036.1V297.4H1028.8zM1194.9 290.5H1202.1V297.4H1194.9zM1259.9 352.3H1267.1V359.2H1259.9zM1274.3 366H1281.5V372.9H1274.3zM1281.5 372.9H1288.7V379.8H1281.5zM1490.9 400.4H1498.1V407.2H1490.9z"/>
<path fill="#dff2f4" d="M1216.5 146.3H1223.8V153.1H1216.5zM1259.9 187.5H1267.1V194.3H1259.9zM1267.1 194.3H1274.3V201.2H1267.1zM1166 386.6H1173.2V393.5H1166z"/>
<path fill="#93bfd8" d="M1382.6 146.3H1389.8V153.1H1382.6zM1115.5 427.8H1122.7V434.7H1115.5zM1014.4 441.6H1021.6V448.4H1014.4z"/>
<path fill="#83afcf" d="M1389.8 146.3H1397V153.1H1389.8z"/>
<path fill="#6f97c3" d="M1397 146.3H1404.2V153.1H1397zM1570.3 208.1H1577.5V215H1570.3zM1223.8 434.7H1231V441.6H1223.8zM1057.7 455.3H1064.9V462.2H1057.7z"/>
<path fill="#567eb2" d="M1404.2 146.3H1411.5V153.1H1404.2zM1158.8 455.3H1166V462.2H1158.8zM1129.9 462.2H1137.1V469H1129.9zM1101 469H1108.2V475.9H1101zM1036.1 475.9H1050.5V482.8H1036.1zM1202.1 503.4H1209.3V510.3H1202.1zM1202.1 510.3H1209.3V517.1H1202.1zM1194.9 558.3H1202.1V565.2H1194.9zM1187.7 599.5H1194.9V606.4H1187.7zM1187.7 606.4H1194.9V613.3H1187.7z"/>
<path fill="#3d5d90" d="M1425.9 146.3H1433.1V153.1H1425.9zM1433.1 194.3H1440.3V201.2H1433.1zM1476.4 201.2H1490.9V208.1H1476.4z"/>
<path fill="#da3e34" d="M1086.6 153.1H1093.8V160H1086.6zM1440.3 427.8H1447.6V434.7H1440.3zM1483.7 489.7H1490.9V496.5H1483.7z"/>
<path fill="#dd4438" d="M1093.8 153.1H1101V160H1093.8zM1166 173.7H1173.2V180.6H1166zM1187.7 201.2H1194.9V208.1H1187.7zM1267.1 263H1274.3V269.9H1267.1zM1274.3 269.9H1281.5V276.8H1274.3zM1534.2 510.3H1541.4V517.1H1534.2zM1563.1 544.6H1570.3V551.5H1563.1zM1584.7 551.5H1592V558.3H1584.7z"/>
<path fill="#df4c3d" d="M1115.5 153.1H1122.7V160H1115.5zM1093.8 166.9H1101V173.7H1093.8zM1151.6 173.7H1158.8V180.6H1151.6zM1223.8 215H1231V221.8H1223.8zM1231 221.8H1238.2V228.7H1231zM1259.9 249.3H1267.1V256.2H1259.9zM1267.1 290.5H1274.3V297.4H1267.1zM1324.8 352.3H1332.1V359.2H1324.8zM1418.7 441.6H1425.9V448.4H1418.7zM1527 496.5H1534.2V503.4H1527zM1483.7 503.4H1490.9V510.3H1483.7zM1534.2 503.4H1541.4V510.3H1534.2zM1541.4 510.3H1548.6V517.1H1541.4zM1505.3 517.1H1512.5V524H1505.3zM1548.6 517.1H1555.9V524H1548.6zM1555.9 524H1563.1V530.9H1555.9z"/>
<path fill="#f2e6a1" d="M1202.1 153.1H1209.3V160H1202.1zM1122.7 276.8H1129.9V283.6H1122.7zM1028.8 311.1H1036.1V318H1028.8zM1028.8 318H1036.1V324.8H1028.8zM1397 318H1404.2V324.8H1397zM1028.8 324.8H1036.1V331.7H1028.8zM1028.8 331.7H1036.1V338.6H1028.8zM1028.8 338.6H1036.1V345.4H1028.8zM1252.6 345.4H1259.9V352.3H1252.6zM1011 393.5H1014.4V400.4H1011z"/>
<path fill="#eef0c7" d="M1209.3 153.1H1216.5V160H1209.3zM1166 311.1H1173.2V318H1166zM1180.4 311.1H1187.7V318H1180.4zM1223.8 345.4H1231V352.3H1223.8zM1137.1 366H1144.3V372.9H1137.1zM1259.9 379.8H1267.1V386.6H1259.9zM1592 482.8H1599.2V489.7H1592z"/>
<path fill="#e7f2e4" d="M1216.5 153.1H1223.8V160H1216.5zM1252.6 187.5H1259.9V194.3H1252.6zM1259.9 194.3H1267.1V201.2H1259.9zM1454.8 352.3H1462V359.2H1454.8zM1462 359.2H1469.2V366H1462zM1180.4 379.8H1187.7V386.6H1180.4zM1534.2 421H1541.4V427.8H1534.2zM1563.1 448.4H1570.3V455.3H1563.1z"/>
<path fill="#a5cce0" d="M1368.1 153.1H1375.4V160H1368.1zM1137.1 414.1H1144.3V421H1137.1zM1064.9 427.8H1072.1V434.7H1064.9z"/>
<path fill="#9dc6dc" d="M1375.4 153.1H1382.6V160H1375.4zM1360.9 208.1H1368.1V215H1360.9zM1440.3 235.6H1447.6V242.4H1440.3zM1231 565.2H1238.2V572.1H1231z"/>
<path fill="#92bed7" d="M1382.6 153.1H1389.8V160H1382.6zM1151.6 421H1158.8V427.8H1151.6z"/>
<path fill="#82adce" d="M1389.8 153.1H1397V160H1389.8zM1404.2 221.8H1411.5V228.7H1404.2zM1231 469H1238.2V475.9H1231z"/>
<path fill="#6d95c2" d="M1397 153.1H1404.2V160H1397zM1447.6 221.8H1454.8V228.7H1447.6zM1223.8 441.6H1231V448.4H1223.8zM1108.2 448.4H1115.5V455.3H1108.2zM1223.8 462.2H1231V469H1223.8zM1216.5 537.7H1223.8V544.6H1216.5z"/>
<path fill="#537bb0" d="M1404.2 153.1H1411.5V160H1404.2zM1115.5 469H1122.7V475.9H1115.5zM1202.1 469H1209.3V475.9H1202.1zM1086.6 475.9H1093.8V482.8H1086.6zM1202.1 475.9H1209.3V482.8H1202.1zM1011 482.8H1021.6V489.7H1011zM1194.9 517.1H1202.1V524H1194.9zM1194.9 524H1202.1V530.9H1194.9zM1187.7 558.3H1194.9V565.2H1187.7zM1187.7 565.2H1194.9V572.1H1187.7zM1180.4 606.4H1187.7V613.3H1180.4zM1180.4 613.3H1187.7V620.1H1180.4z"/>
<path fill="#41639a" d="M1418.7 153.1H1425.9V160H1418.7z"/>
<path fill="#da3b32" d="M1079.4 160H1086.6V166.9H1079.4zM1072.1 173.7H1079.4V180.6H1072.1zM1057.7 194.3H1064.9V201.2H1057.7zM1021.6 208.1H1028.8V215H1021.6zM1310.4 318H1317.6V324.8H1310.4zM1433.1 441.6H1440.3V448.4H1433.1zM1462 469H1469.2V475.9H1462zM1599.2 578.9H1603V585.8H1599.2z"/>
<path fill="#e04f3f" d="M1101 160H1108.2V166.9H1101zM1166 160H1173.2V166.9H1166zM1166 187.5H1173.2V194.3H1166zM1072.1 201.2H1079.4V208.1H1072.1zM1288.7 318H1296V324.8H1288.7zM1462 489.7H1469.2V496.5H1462z"/>
<path fill="#e25643" d="M1108.2 160H1115.5V166.9H1108.2zM1151.6 180.6H1158.8V187.5H1151.6zM1014.4 221.8H1028.8V228.7H1014.4zM1389.8 421H1397V427.8H1389.8zM1454.8 489.7H1462V496.5H1454.8zM1469.2 503.4H1476.4V510.3H1469.2zM1541.4 503.4H1548.6V510.3H1541.4zM1548.6 510.3H1555.9V517.1H1548.6zM1490.9 517.1H1498.1V524H1490.9zM1512.5 530.9H1519.8V537.7H1512.5zM1541.4 551.5H1548.6V558.3H1541.4zM1592 606.4H1599.2V613.3H1592z"/>
<path fill="#e15441" d="M1115.5 160H1122.7V166.9H1115.5zM1101 166.9H1108.2V173.7H1101zM1086.6 187.5H1093.8V194.3H1086.6zM1252.6 283.6H1259.9V290.5H1252.6zM1259.9 290.5H1267.1V297.4H1259.9zM1397 372.9H1404.2V379.8H1397zM1404.2 379.8H1411.5V386.6H1404.2zM1411.5 386.6H1418.7V393.5H1411.5zM1418.7 393.5H1425.9V400.4H1418.7zM1447.6 475.9H1454.8V482.8H1447.6zM1483.7 510.3H1490.9V517.1H1483.7zM1505.3 524H1512.5V530.9H1505.3zM1570.3 530.9H1577.5V537.7H1570.3z"/>
<path fill="#e0503f" d="M1122.7 160H1129.9V166.9H1122.7zM1202.1 235.6H1209.3V242.4H1202.1zM1209.3 242.4H1216.5V249.3H1209.3zM1216.5 249.3H1223.8V256.2H1216.5zM1454.8 427.8H1462V434.7H1454.8zM1454.8 482.8H1462V489.7H1454.8zM1469.2 496.5H1476.4V503.4H1469.2z"/>
<path fill="#df4b3c" d="M1129.9 160H1137.1V166.9H1129.9zM1180.4 201.2H1187.7V208.1H1180.4zM1057.7 208.1H1064.9V215H1057.7zM1245.4 235.6H1252.6V242.4H1245.4zM1274.3 297.4H1281.5V304.2H1274.3zM1310.4 297.4H1317.6V304.2H1310.4zM1332.1 359.2H1339.3V366H1332.1zM1404.2 427.8H1411.5V434.7H1404.2zM1527 530.9H1534.2V537.7H1527zM1555.9 551.5H1563.1V558.3H1555.9zM1577.5 572.1H1584.7V578.9H1577.5z"/>
<path fill="#dd473a" d="M1158.8 160H1166V166.9H1158.8zM1158.8 173.7H1166V180.6H1158.8zM1021.6 215H1028.8V221.8H1021.6zM1259.9 276.8H1267.1V283.6H1259.9zM1324.8 311.1H1332.1V318H1324.8zM1296 318H1303.2V324.8H1296zM1368.1 352.3H1375.4V359.2H1368.1zM1382.6 407.2H1389.8V414.1H1382.6zM1433.1 414.1H1440.3V421H1433.1zM1563.1 551.5H1570.3V558.3H1563.1zM1570.3 558.3H1577.5V565.2H1570.3zM1599.2 592.7H1603V599.5H1599.2z"/>
<path fill="#e35b45" d="M1173.2 160H1180.4V166.9H1173.2zM1202.1 187.5H1209.3V194.3H1202.1zM1209.3 194.3H1216.5V201.2H1209.3zM1057.7 221.8H1064.9V228.7H1057.7zM1288.7 269.9H1296V276.8H1288.7zM1245.4 283.6H1252.6V290.5H1245.4z"/>
<path fill="#e76f50" d="M1180.4 160H1187.7V166.9H1180.4zM1187.7 166.9H1194.9V173.7H1187.7zM1122.7 180.6H1129.9V187.5H1122.7zM1108.2 187.5H1115.5V194.3H1108.2zM1245.4 221.8H1252.6V228.7H1245.4zM1166 228.7H1173.2V235.6H1166zM1259.9 235.6H1267.1V242.4H1259.9zM1216.5 269.9H1223.8V276.8H1216.5zM1440.3 489.7H1447.6V496.5H1440.3zM1447.6 524H1454.8V530.9H1447.6z"/>
<path fill="#eeb16e" d="M1194.9 160H1202.1V166.9H1194.9zM1064.9 256.2H1072.1V263H1064.9zM1158.8 256.2H1166V263H1158.8zM1375.4 318H1382.6V324.8H1375.4zM1483.7 414.1H1490.9V421H1483.7zM1382.6 448.4H1389.8V455.3H1382.6zM1389.8 455.3H1397V462.2H1389.8zM1541.4 469H1548.6V475.9H1541.4zM1418.7 482.8H1425.9V489.7H1418.7zM1425.9 503.4H1433.1V510.3H1425.9zM1425.9 537.7H1433.1V544.6H1425.9zM1425.9 592.7H1433.1V599.5H1425.9z"/>
<path fill="#f1d180" d="M1202.1 160H1209.3V166.9H1202.1zM1259.9 215H1267.1V221.8H1259.9zM1115.5 263H1122.7V269.9H1115.5zM1151.6 263H1158.8V269.9H1151.6zM1216.5 297.4H1223.8V304.2H1216.5zM1252.6 331.7H1259.9V338.6H1252.6zM1274.3 352.3H1281.5V359.2H1274.3zM1447.6 372.9H1454.8V379.8H1447.6zM1505.3 421H1512.5V427.8H1505.3zM1324.8 434.7H1332.1V441.6H1324.8zM1324.8 441.6H1332.1V448.4H1324.8zM1577.5 489.7H1584.7V496.5H1577.5z"/>
<path fill="#eef0c9" d="M1216.5 160H1223.8V166.9H1216.5zM1245.4 187.5H1252.6V194.3H1245.4zM1252.6 194.3H1259.9V201.2H1252.6zM1274.3 215H1281.5V221.8H1274.3zM1346.5 276.8H1353.7V283.6H1346.5zM1368.1 290.5H1375.4V297.4H1368.1zM1194.9 318H1202.1V324.8H1194.9zM1144.3 324.8H1151.6V331.7H1144.3zM1137.1 338.6H1144.3V345.4H1137.1zM1137.1 345.4H1144.3V352.3H1137.1zM1137.1 352.3H1144.3V359.2H1137.1zM1223.8 352.3H1231V359.2H1223.8zM1584.7 475.9H1592V482.8H1584.7z"/>
<path fill="#d3ecf2" d="M1238.2 160H1245.4V166.9H1238.2zM1332.1 249.3H1339.3V256.2H1332.1z"/>
<path fill="#91bdd7" d="M1382.6 160H1389.8V166.9H1382.6z"/>
<path fill="#80abcd" d="M1389.8 160H1397V166.9H1389.8zM1158.8 427.8H1166V434.7H1158.8zM1231 462.2H1238.2V469H1231z"/>
<path fill="#5179ae" d="M1404.2 160H1411.5V166.9H1404.2zM1548.6 208.1H1555.9V215H1548.6zM1440.3 215H1447.6V221.8H1440.3zM1137.1 469H1144.3V475.9H1137.1zM1101 475.9H1108.2V482.8H1101zM1194.9 475.9H1202.1V482.8H1194.9zM1050.5 482.8H1064.9V489.7H1050.5zM1194.9 482.8H1202.1V489.7H1194.9zM1187.7 517.1H1194.9V524H1187.7zM1187.7 524H1194.9V530.9H1187.7zM1187.7 530.9H1194.9V537.7H1187.7zM1180.4 565.2H1187.7V572.1H1180.4zM1180.4 572.1H1187.7V578.9H1180.4zM1173.2 613.3H1180.4V620.1H1173.2zM1173.2 620.1H1180.4V627H1173.2z"/>
<path fill="#dd4538" d="M1086.6 166.9H1093.8V173.7H1086.6zM1173.2 180.6H1180.4V187.5H1173.2zM1180.4 187.5H1187.7V194.3H1180.4zM1202.1 201.2H1209.3V208.1H1202.1zM1011 215H1014.4V221.8H1011zM1245.4 263H1252.6V269.9H1245.4zM1310.4 331.7H1317.6V338.6H1310.4zM1454.8 434.7H1462V441.6H1454.8zM1483.7 496.5H1490.9V503.4H1483.7zM1541.4 517.1H1548.6V524H1541.4zM1548.6 537.7H1555.9V544.6H1548.6z"/>
<path fill="#e35c46" d="M1115.5 166.9H1122.7V173.7H1115.5z"/>
<path fill="#e35944" d="M1122.7 166.9H1129.9V173.7H1122.7zM1101 173.7H1108.2V180.6H1101zM1245.4 228.7H1252.6V235.6H1245.4zM1252.6 235.6H1259.9V242.4H1252.6zM1223.8 263H1231V269.9H1223.8zM1274.3 311.1H1281.5V318H1274.3zM1418.7 448.4H1425.9V455.3H1418.7zM1425.9 455.3H1433.1V462.2H1425.9zM1433.1 462.2H1440.3V469H1433.1zM1440.3 469H1447.6V475.9H1440.3zM1505.3 469H1512.5V475.9H1505.3zM1512.5 475.9H1519.8V482.8H1512.5zM1584.7 537.7H1592V544.6H1584.7zM1555.9 565.2H1563.1V572.1H1555.9z"/>
<path fill="#df4e3e" d="M1173.2 166.9H1180.4V173.7H1173.2zM1180.4 173.7H1187.7V180.6H1180.4zM1086.6 180.6H1093.8V187.5H1086.6zM1187.7 180.6H1194.9V187.5H1187.7zM1194.9 187.5H1202.1V194.3H1194.9zM1173.2 194.3H1180.4V201.2H1173.2zM1202.1 194.3H1209.3V201.2H1202.1zM1043.3 215H1050.5V221.8H1043.3zM1187.7 215H1194.9V221.8H1187.7zM1296 283.6H1303.2V290.5H1296zM1303.2 290.5H1310.4V297.4H1303.2zM1303.2 331.7H1310.4V338.6H1303.2zM1469.2 441.6H1476.4V448.4H1469.2zM1440.3 462.2H1447.6V469H1440.3zM1505.3 475.9H1512.5V482.8H1505.3zM1599.2 551.5H1603V558.3H1599.2zM1599.2 599.5H1603V606.4H1599.2z"/>
<path fill="#f2e8a5" d="M1216.5 166.9H1223.8V173.7H1216.5zM1231 180.6H1238.2V187.5H1231zM1238.2 187.5H1245.4V194.3H1238.2zM1274.3 221.8H1281.5V228.7H1274.3zM1043.3 290.5H1050.5V297.4H1043.3zM1209.3 304.2H1216.5V311.1H1209.3zM1036.1 311.1H1043.3V318H1036.1zM1036.1 318H1043.3V324.8H1036.1zM1036.1 324.8H1043.3V331.7H1036.1zM1036.1 331.7H1043.3V338.6H1036.1zM1288.7 393.5H1296V400.4H1288.7zM1288.7 441.6H1296V448.4H1288.7zM1288.7 448.4H1296V455.3H1288.7zM1288.7 455.3H1296V462.2H1288.7zM1288.7 462.2H1296V469H1288.7zM1288.7 469H1296V475.9H1288.7zM1288.7 475.9H1296V482.8H1288.7zM1288.7 482.8H1296V489.7H1288.7zM1288.7 489.7H1296V496.5H1288.7zM1288.7 496.5H1296V503.4H1288.7z"/>
<path fill="#eef0cb" d="M1223.8 166.9H1231V173.7H1223.8zM1231 173.7H1238.2V180.6H1231zM1324.8 263H1332.1V269.9H1324.8zM1202.1 324.8H1209.3V331.7H1202.1zM1144.3 331.7H1151.6V338.6H1144.3zM1252.6 599.5H1259.9V606.4H1252.6z"/>
<path fill="#e6f3e6" d="M1231 166.9H1238.2V173.7H1231zM1368.1 283.6H1375.4V290.5H1368.1zM1389.8 297.4H1397V304.2H1389.8zM1505.3 393.5H1512.5V400.4H1505.3zM1086.6 400.4H1093.8V407.2H1086.6zM1541.4 427.8H1548.6V434.7H1541.4z"/>
<path fill="#90bcd6" d="M1382.6 166.9H1389.8V173.7H1382.6zM1122.7 427.8H1129.9V434.7H1122.7zM1231 517.1H1238.2V524H1231z"/>
<path fill="#d83630" d="M1064.9 173.7H1072.1V180.6H1064.9zM1339.3 345.4H1346.5V352.3H1339.3zM1404.2 407.2H1411.5V414.1H1404.2z"/>
<path fill="#e45f48" d="M1108.2 173.7H1115.5V180.6H1108.2zM1129.9 173.7H1137.1V180.6H1129.9zM1086.6 201.2H1093.8V208.1H1086.6zM1072.1 221.8H1079.4V228.7H1072.1zM1462 517.1H1469.2V524H1462zM1527 551.5H1534.2V558.3H1527zM1563.1 578.9H1570.3V585.8H1563.1zM1577.5 599.5H1584.7V606.4H1577.5z"/>
<path fill="#e5624a" d="M1122.7 173.7H1129.9V180.6H1122.7zM1158.8 194.3H1166V201.2H1158.8zM1028.8 228.7H1036.1V235.6H1028.8zM1180.4 235.6H1187.7V242.4H1180.4zM1231 276.8H1238.2V283.6H1231zM1238.2 283.6H1245.4V290.5H1238.2zM1259.9 304.2H1267.1V311.1H1259.9zM1332.1 304.2H1339.3V311.1H1332.1zM1267.1 311.1H1274.3V318H1267.1zM1296 338.6H1303.2V345.4H1296zM1375.4 414.1H1382.6V421H1375.4zM1534.2 489.7H1541.4V496.5H1534.2zM1541.4 496.5H1548.6V503.4H1541.4zM1454.8 517.1H1462V524H1454.8zM1454.8 530.9H1462V537.7H1454.8zM1469.2 537.7H1483.7V544.6H1469.2zM1490.9 537.7H1498.1V544.6H1490.9zM1469.2 544.6H1476.4V551.5H1469.2zM1505.3 544.6H1512.5V551.5H1505.3zM1447.6 551.5H1454.8V558.3H1447.6zM1462 551.5H1469.2V558.3H1462zM1462 558.3H1469.2V565.2H1462zM1527 558.3H1534.2V565.2H1527zM1462 565.2H1469.2V572.1H1462zM1462 572.1H1469.2V578.9H1462zM1462 578.9H1469.2V585.8H1462zM1555.9 578.9H1563.1V585.8H1555.9zM1454.8 585.8H1462V592.7H1454.8zM1563.1 585.8H1570.3V592.7H1563.1z"/>
<path fill="#e77050" d="M1194.9 173.7H1202.1V180.6H1194.9zM1151.6 194.3H1158.8V201.2H1151.6zM1267.1 242.4H1274.3V249.3H1267.1zM1223.8 276.8H1231V283.6H1223.8zM1274.3 324.8H1281.5V331.7H1274.3zM1281.5 331.7H1288.7V338.6H1281.5zM1599.2 537.7H1603V544.6H1599.2z"/>
<path fill="#eb915f" d="M1202.1 173.7H1209.3V180.6H1202.1zM1028.8 242.4H1036.1V249.3H1028.8zM1454.8 400.4H1462V407.2H1454.8zM1433.1 496.5H1440.3V503.4H1433.1z"/>
<path fill="#eeb46f" d="M1209.3 173.7H1216.5V180.6H1209.3zM1238.2 201.2H1245.4V208.1H1238.2zM1108.2 256.2H1115.5V263H1108.2zM1317.6 276.8H1324.8V283.6H1317.6zM1317.6 379.8H1324.8V386.6H1317.6zM1527 455.3H1534.2V462.2H1527z"/>
<path fill="#f1d482" d="M1216.5 173.7H1223.8V180.6H1216.5zM1223.8 180.6H1231V187.5H1223.8zM1231 187.5H1238.2V194.3H1231zM1144.3 263H1151.6V269.9H1144.3zM1317.6 414.1H1324.8V421H1317.6zM1498.1 414.1H1505.3V421H1498.1zM1563.1 475.9H1570.3V482.8H1563.1z"/>
<path fill="#f2e8a6" d="M1223.8 173.7H1231V180.6H1223.8zM1101 283.6H1108.2V290.5H1101zM1180.4 283.6H1187.7V290.5H1180.4zM1050.5 290.5H1064.9V297.4H1050.5zM1043.3 297.4H1050.5V304.2H1043.3zM1389.8 311.1H1397V318H1389.8zM1238.2 331.7H1245.4V338.6H1238.2zM1036.1 338.6H1043.3V345.4H1036.1zM1036.1 345.4H1043.3V352.3H1036.1zM1036.1 352.3H1043.3V359.2H1036.1zM1036.1 359.2H1043.3V366H1036.1zM1288.7 400.4H1296V407.2H1288.7zM1288.7 421H1296V427.8H1288.7zM1288.7 427.8H1296V434.7H1288.7zM1288.7 434.7H1296V441.6H1288.7z"/>
<path fill="#a4cbdf" d="M1368.1 173.7H1375.4V180.6H1368.1zM1108.2 421H1115.5V427.8H1108.2z"/>
<path fill="#8fbbd6" d="M1382.6 173.7H1389.8V180.6H1382.6zM1036.1 441.6H1043.3V448.4H1036.1z"/>
<path fill="#7da8cc" d="M1389.8 173.7H1397V180.6H1389.8z"/>
<path fill="#4d75ac" d="M1404.2 173.7H1411.5V180.6H1404.2zM1180.4 462.2H1187.7V469H1180.4zM1166 469H1173.2V475.9H1166zM1180.4 469H1187.7V475.9H1180.4zM1144.3 475.9H1151.6V482.8H1144.3zM1180.4 475.9H1187.7V482.8H1180.4zM1115.5 482.8H1122.7V489.7H1115.5zM1072.1 489.7H1086.6V496.5H1072.1zM1173.2 517.1H1180.4V524H1173.2zM1173.2 524H1180.4V530.9H1173.2zM1166 578.9H1173.2V585.8H1166zM1166 585.8H1173.2V592.7H1166z"/>
<path fill="#406297" d="M1418.7 173.7H1425.9V180.6H1418.7z"/>
<path fill="#dd4639" d="M1079.4 180.6H1086.6V187.5H1079.4zM1187.7 187.5H1194.9V194.3H1187.7zM1194.9 194.3H1202.1V201.2H1194.9zM1050.5 208.1H1057.7V215H1050.5zM1014.4 215H1021.6V221.8H1014.4zM1194.9 215H1202.1V221.8H1194.9zM1252.6 269.9H1259.9V276.8H1252.6zM1332.1 318H1339.3V324.8H1332.1zM1303.2 324.8H1310.4V331.7H1303.2zM1339.3 324.8H1346.5V331.7H1339.3zM1353.7 338.6H1360.9V345.4H1353.7zM1360.9 345.4H1368.1V352.3H1360.9zM1368.1 393.5H1375.4V400.4H1368.1zM1375.4 400.4H1382.6V407.2H1375.4zM1447.6 427.8H1454.8V434.7H1447.6zM1534.2 530.9H1541.4V537.7H1534.2zM1555.9 530.9H1563.1V537.7H1555.9zM1563.1 537.7H1570.3V544.6H1563.1zM1555.9 544.6H1563.1V551.5H1555.9zM1592 585.8H1599.2V592.7H1592z"/>
<path fill="#e25743" d="M1093.8 180.6H1101V187.5H1093.8zM1079.4 201.2H1086.6V208.1H1079.4zM1072.1 208.1H1079.4V215H1072.1zM1180.4 215H1187.7V221.8H1180.4zM1028.8 221.8H1043.3V228.7H1028.8zM1194.9 235.6H1202.1V242.4H1194.9zM1317.6 297.4H1324.8V304.2H1317.6zM1288.7 324.8H1296V331.7H1288.7zM1296 331.7H1303.2V338.6H1296zM1332.1 366H1339.3V372.9H1332.1zM1339.3 372.9H1346.5V379.8H1339.3zM1397 427.8H1404.2V434.7H1397zM1527 489.7H1534.2V496.5H1527zM1534.2 496.5H1541.4V503.4H1534.2zM1577.5 585.8H1584.7V592.7H1577.5z"/>
<path fill="#e45e47" d="M1101 180.6H1108.2V187.5H1101zM1389.8 359.2H1397V366H1389.8zM1397 366H1404.2V372.9H1397zM1404.2 372.9H1411.5V379.8H1404.2zM1433.1 400.4H1440.3V407.2H1433.1zM1469.2 517.1H1476.4V524H1469.2zM1483.7 524H1490.9V530.9H1483.7zM1498.1 530.9H1505.3V537.7H1498.1zM1519.8 544.6H1527V551.5H1519.8zM1570.3 585.8H1577.5V592.7H1570.3z"/>
<path fill="#e6654b" d="M1108.2 180.6H1115.5V187.5H1108.2zM1137.1 180.6H1144.3V187.5H1137.1zM1086.6 215H1093.8V221.8H1086.6zM1173.2 228.7H1180.4V235.6H1173.2zM1310.4 352.3H1317.6V359.2H1310.4zM1339.3 379.8H1346.5V386.6H1339.3zM1512.5 469H1519.8V475.9H1512.5zM1490.9 551.5H1505.3V558.3H1490.9zM1483.7 558.3H1490.9V565.2H1483.7zM1512.5 558.3H1519.8V565.2H1512.5zM1440.3 565.2H1447.6V572.1H1440.3zM1527 565.2H1534.2V572.1H1527zM1476.4 578.9H1483.7V585.8H1476.4zM1476.4 585.8H1483.7V592.7H1476.4zM1476.4 592.7H1483.7V599.5H1476.4zM1476.4 599.5H1483.7V606.4H1476.4zM1476.4 606.4H1483.7V613.3H1476.4zM1570.3 613.3H1577.5V620.1H1570.3zM1570.3 620.1H1577.5V627H1570.3z"/>
<path fill="#e76d4f" d="M1115.5 180.6H1122.7V187.5H1115.5zM1144.3 187.5H1151.6V194.3H1144.3zM1158.8 201.2H1166V208.1H1158.8zM1093.8 208.1H1101V215H1093.8zM1043.3 235.6H1050.5V242.4H1043.3zM1418.7 379.8H1425.9V386.6H1418.7zM1425.9 386.6H1433.1V393.5H1425.9zM1447.6 517.1H1454.8V524H1447.6zM1577.5 524H1584.7V530.9H1577.5zM1440.3 578.9H1447.6V585.8H1440.3z"/>
<path fill="#e76c4f" d="M1129.9 180.6H1137.1V187.5H1129.9zM1101 194.3H1108.2V201.2H1101z"/>
<path fill="#e04e3e" d="M1158.8 180.6H1166V187.5H1158.8zM1296 324.8H1303.2V331.7H1296zM1512.5 524H1519.8V530.9H1512.5z"/>
<path fill="#e77150" d="M1202.1 180.6H1209.3V187.5H1202.1zM1238.2 215H1245.4V221.8H1238.2z"/>
<path fill="#eb935f" d="M1209.3 180.6H1216.5V187.5H1209.3zM1216.5 187.5H1223.8V194.3H1216.5zM1223.8 194.3H1231V201.2H1223.8zM1122.7 208.1H1129.9V215H1122.7zM1137.1 215H1144.3V221.8H1137.1zM1274.3 242.4H1281.5V249.3H1274.3zM1389.8 338.6H1397V345.4H1389.8zM1425.9 372.9H1433.1V379.8H1425.9zM1447.6 393.5H1454.8V400.4H1447.6zM1404.2 455.3H1411.5V462.2H1404.2z"/>
<path fill="#eef0ca" d="M1238.2 180.6H1245.4V187.5H1238.2zM1158.8 318H1166V324.8H1158.8zM1216.5 338.6H1223.8V345.4H1216.5zM1223.8 359.2H1231V366H1223.8zM1144.3 366H1151.6V372.9H1144.3zM1231 366H1238.2V372.9H1231zM1469.2 372.9H1476.4V379.8H1469.2zM1115.5 386.6H1122.7V393.5H1115.5zM1050.5 400.4H1057.7V407.2H1050.5zM1267.1 448.4H1274.3V455.3H1267.1z"/>
<path fill="#def2f4" d="M1252.6 180.6H1259.9V187.5H1252.6zM1281.5 208.1H1288.7V215H1281.5zM1129.9 393.5H1137.1V400.4H1129.9z"/>
<path fill="#c6e4ed" d="M1274.3 180.6H1281.5V187.5H1274.3zM1238.2 620.1H1245.4V627H1238.2z"/>
<path fill="#9ac4db" d="M1375.4 180.6H1382.6V187.5H1375.4zM1505.3 235.6H1512.5V242.4H1505.3z"/>
<path fill="#7ca6cb" d="M1389.8 180.6H1397V187.5H1389.8zM1194.9 421H1202.1V427.8H1194.9zM1057.7 448.4H1064.9V455.3H1057.7zM1216.5 606.4H1223.8V613.3H1216.5z"/>
<path fill="#658dbd" d="M1397 180.6H1404.2V187.5H1397zM1476.4 221.8H1483.7V228.7H1476.4zM1129.9 448.4H1137.1V455.3H1129.9zM1043.3 462.2H1050.5V469H1043.3z"/>
<path fill="#4c74ab" d="M1404.2 180.6H1411.5V187.5H1404.2zM1404.2 194.3H1411.5V201.2H1404.2zM1505.3 215H1512.5V221.8H1505.3zM1173.2 469H1180.4V475.9H1173.2zM1158.8 475.9H1166V482.8H1158.8zM1173.2 475.9H1180.4V482.8H1173.2zM1129.9 482.8H1144.3V489.7H1129.9zM1173.2 482.8H1180.4V489.7H1173.2zM1101 489.7H1115.5V496.5H1101zM1173.2 489.7H1180.4V496.5H1173.2zM1036.1 496.5H1072.1V503.4H1036.1zM1166 517.1H1173.2V524H1166zM1166 524H1173.2V530.9H1166zM1166 530.9H1173.2V537.7H1166zM1166 537.7H1173.2V544.6H1166zM1166 544.6H1173.2V551.5H1166zM1166 551.5H1173.2V558.3H1166zM1158.8 585.8H1166V592.7H1158.8zM1158.8 592.7H1166V599.5H1158.8zM1158.8 599.5H1166V606.4H1158.8zM1158.8 606.4H1166V613.3H1158.8zM1158.8 613.3H1166V620.1H1158.8z"/>
<path fill="#3b5c8d" d="M1577.5 180.6H1584.7V187.5H1577.5zM1440.3 194.3H1447.6V201.2H1440.3zM1527 194.3H1534.2V201.2H1527z"/>
<path fill="#de4b3c" d="M1079.4 187.5H1086.6V194.3H1079.4zM1194.9 221.8H1202.1V228.7H1194.9zM1238.2 263H1245.4V269.9H1238.2zM1570.3 537.7H1577.5V544.6H1570.3z"/>
<path fill="#e6634b" d="M1101 187.5H1108.2V194.3H1101zM1021.6 228.7H1028.8V235.6H1021.6zM1187.7 242.4H1194.9V249.3H1187.7zM1498.1 455.3H1505.3V462.2H1498.1zM1483.7 544.6H1490.9V551.5H1483.7zM1469.2 572.1H1476.4V578.9H1469.2zM1469.2 578.9H1476.4V585.8H1469.2zM1462 606.4H1469.2V613.3H1462z"/>
<path fill="#e97c55" d="M1129.9 187.5H1137.1V194.3H1129.9z"/>
<path fill="#e87753" d="M1137.1 187.5H1144.3V194.3H1137.1zM1101 221.8H1108.2V228.7H1101zM1101 235.6H1108.2V242.4H1101zM1064.9 242.4H1072.1V249.3H1064.9zM1086.6 242.4H1093.8V249.3H1086.6zM1296 345.4H1303.2V352.3H1296zM1368.1 414.1H1375.4V421H1368.1z"/>
<path fill="#cce8f0" d="M1274.3 187.5H1281.5V194.3H1274.3zM1534.2 393.5H1541.4V400.4H1534.2zM1592 448.4H1599.2V455.3H1592z"/>
<path fill="#a0c9de" d="M1368.1 187.5H1375.4V194.3H1368.1zM1360.9 215H1368.1V221.8H1360.9zM1368.1 221.8H1375.4V228.7H1368.1z"/>
<path fill="#97c2d9" d="M1375.4 187.5H1382.6V194.3H1375.4z"/>
<path fill="#8ab5d3" d="M1382.6 187.5H1389.8V194.3H1382.6z"/>
<path fill="#78a2c9" d="M1389.8 187.5H1397V194.3H1389.8z"/>
<path fill="#638bbb" d="M1397 187.5H1404.2V194.3H1397zM1166 441.6H1173.2V448.4H1166zM1137.1 448.4H1144.3V455.3H1137.1zM1064.9 462.2H1072.1V469H1064.9zM1209.3 558.3H1216.5V565.2H1209.3z"/>
<path fill="#3c5d90" d="M1563.1 187.5H1570.3V194.3H1563.1z"/>
<path fill="#e35945" d="M1086.6 194.3H1093.8V201.2H1086.6zM1050.5 221.8H1057.7V228.7H1050.5zM1259.9 242.4H1267.1V249.3H1259.9zM1231 269.9H1238.2V276.8H1231zM1469.2 434.7H1476.4V441.6H1469.2zM1462 503.4H1469.2V510.3H1462zM1570.3 578.9H1577.5V585.8H1570.3z"/>
<path fill="#e98258" d="M1115.5 194.3H1122.7V201.2H1115.5zM1158.8 242.4H1166V249.3H1158.8zM1194.9 256.2H1202.1V263H1194.9zM1202.1 263H1209.3V269.9H1202.1z"/>
<path fill="#ea885b" d="M1122.7 194.3H1129.9V201.2H1122.7zM1144.3 201.2H1151.6V208.1H1144.3zM1151.6 242.4H1158.8V249.3H1151.6zM1555.9 496.5H1563.1V503.4H1555.9zM1440.3 517.1H1447.6V524H1440.3zM1599.2 530.9H1603V537.7H1599.2zM1433.1 578.9H1440.3V585.8H1433.1z"/>
<path fill="#ea895b" d="M1129.9 194.3H1137.1V201.2H1129.9zM1115.5 201.2H1122.7V208.1H1115.5zM1122.7 228.7H1129.9V235.6H1122.7zM1483.7 427.8H1490.9V434.7H1483.7zM1498.1 441.6H1505.3V448.4H1498.1zM1548.6 489.7H1555.9V496.5H1548.6z"/>
<path fill="#e98659" d="M1137.1 194.3H1144.3V201.2H1137.1z"/>
<path fill="#90bdd6" d="M1375.4 194.3H1382.6V201.2H1375.4zM1368.1 208.1H1375.4V215H1368.1zM1382.6 221.8H1389.8V228.7H1382.6zM1028.8 441.6H1036.1V448.4H1028.8z"/>
<path fill="#83aecf" d="M1382.6 194.3H1389.8V201.2H1382.6zM1469.2 228.7H1476.4V235.6H1469.2zM1483.7 228.7H1490.9V235.6H1483.7zM1151.6 427.8H1158.8V434.7H1151.6zM1231 427.8H1238.2V434.7H1231zM1086.6 441.6H1093.8V448.4H1086.6zM1021.6 448.4H1028.8V455.3H1021.6z"/>
<path fill="#6088b9" d="M1397 194.3H1404.2V201.2H1397zM1599.2 194.3H1603V201.2H1599.2zM1173.2 441.6H1180.4V448.4H1173.2zM1216.5 441.6H1223.8V448.4H1216.5zM1115.5 455.3H1122.7V462.2H1115.5zM1011 469H1021.6V475.9H1011zM1216.5 469H1223.8V475.9H1216.5zM1209.3 537.7H1216.5V544.6H1209.3zM1202.1 599.5H1209.3V606.4H1202.1z"/>
<path fill="#3f6095" d="M1425.9 194.3H1433.1V201.2H1425.9z"/>
<path fill="#476ca3" d="M1577.5 194.3H1584.7V201.2H1577.5zM1527 208.1H1534.2V215H1527z"/>
<path fill="#557db1" d="M1592 194.3H1599.2V201.2H1592zM1433.1 215H1440.3V221.8H1433.1zM1519.8 215H1527V221.8H1519.8zM1194.9 441.6H1202.1V448.4H1194.9zM1180.4 448.4H1187.7V455.3H1180.4zM1137.1 462.2H1144.3V469H1137.1zM1050.5 475.9H1064.9V482.8H1050.5zM1202.1 496.5H1209.3V503.4H1202.1zM1194.9 544.6H1202.1V551.5H1194.9zM1194.9 551.5H1202.1V558.3H1194.9zM1187.7 585.8H1194.9V592.7H1187.7zM1187.7 592.7H1194.9V599.5H1187.7z"/>
<path fill="#d7332d" d="M1011 201.2H1014.4V208.1H1011z"/>
<path fill="#e6674c" d="M1093.8 201.2H1101V208.1H1093.8zM1086.6 228.7H1093.8V235.6H1086.6zM1072.1 235.6H1079.4V242.4H1072.1zM1462 421H1469.2V427.8H1462zM1397 434.7H1404.2V441.6H1397zM1404.2 441.6H1411.5V448.4H1404.2zM1411.5 448.4H1418.7V455.3H1411.5zM1418.7 455.3H1425.9V462.2H1418.7zM1425.9 462.2H1433.1V469H1425.9zM1584.7 530.9H1592V537.7H1584.7zM1505.3 565.2H1519.8V572.1H1505.3zM1498.1 572.1H1534.2V578.9H1498.1zM1490.9 578.9H1512.5V585.8H1490.9zM1534.2 578.9H1541.4V585.8H1534.2zM1490.9 585.8H1512.5V592.7H1490.9zM1541.4 585.8H1548.6V592.7H1541.4zM1490.9 592.7H1505.3V599.5H1490.9zM1555.9 592.7H1563.1V599.5H1555.9zM1490.9 599.5H1505.3V606.4H1490.9zM1490.9 606.4H1505.3V613.3H1490.9zM1563.1 606.4H1570.3V613.3H1563.1zM1490.9 613.3H1505.3V620.1H1490.9zM1563.1 613.3H1570.3V620.1H1563.1zM1490.9 620.1H1505.3V627H1490.9zM1563.1 620.1H1570.3V627H1563.1z"/>
<path fill="#e87452" d="M1101 201.2H1108.2V208.1H1101zM1173.2 242.4H1180.4V249.3H1173.2zM1187.7 249.3H1194.9V256.2H1187.7zM1303.2 276.8H1310.4V283.6H1303.2zM1548.6 496.5H1555.9V503.4H1548.6zM1447.6 613.3H1454.8V620.1H1447.6z"/>
<path fill="#e55f48" d="M1166 201.2H1173.2V208.1H1166zM1050.5 228.7H1064.9V235.6H1050.5zM1476.4 524H1483.7V530.9H1476.4zM1570.3 524H1577.5V530.9H1570.3zM1505.3 537.7H1512.5V544.6H1505.3z"/>
<path fill="#eef0c8" d="M1259.9 201.2H1267.1V208.1H1259.9zM1173.2 311.1H1180.4V318H1173.2zM1151.6 318H1158.8V324.8H1151.6zM1137.1 331.7H1144.3V338.6H1137.1zM1137.1 359.2H1144.3V366H1137.1zM1137.1 372.9H1144.3V379.8H1137.1zM1129.9 379.8H1137.1V386.6H1129.9zM1267.1 455.3H1274.3V462.2H1267.1zM1259.9 524H1267.1V530.9H1259.9zM1252.6 606.4H1259.9V613.3H1252.6z"/>
<path fill="#7aa3ca" d="M1382.6 201.2H1389.8V208.1H1382.6zM1577.5 208.1H1584.7V215H1577.5zM1223.8 517.1H1231V524H1223.8z"/>
<path fill="#6c94c2" d="M1389.8 201.2H1397V208.1H1389.8zM1505.3 221.8H1512.5V228.7H1505.3zM1223.8 448.4H1231V455.3H1223.8zM1072.1 455.3H1079.4V462.2H1072.1zM1223.8 455.3H1231V462.2H1223.8zM1209.3 606.4H1216.5V613.3H1209.3z"/>
<path fill="#5e86b8" d="M1397 201.2H1404.2V208.1H1397zM1122.7 455.3H1129.9V462.2H1122.7zM1028.8 469H1036.1V475.9H1028.8zM1209.3 524H1216.5V530.9H1209.3zM1202.1 585.8H1209.3V592.7H1202.1z"/>
<path fill="#4569a0" d="M1418.7 201.2H1425.9V208.1H1418.7zM1440.3 208.1H1447.6V215H1440.3z"/>
<path fill="#43669d" d="M1541.4 201.2H1548.6V208.1H1541.4z"/>
<path fill="#5b83b5" d="M1577.5 201.2H1584.7V208.1H1577.5zM1527 215H1534.2V221.8H1527zM1166 448.4H1173.2V455.3H1166zM1137.1 455.3H1144.3V462.2H1137.1zM1057.7 469H1064.9V475.9H1057.7zM1209.3 496.5H1216.5V503.4H1209.3zM1202.1 558.3H1209.3V565.2H1202.1zM1194.9 606.4H1202.1V613.3H1194.9z"/>
<path fill="#6890be" d="M1584.7 201.2H1592V208.1H1584.7zM1122.7 448.4H1129.9V455.3H1122.7z"/>
<path fill="#749dc7" d="M1592 201.2H1599.2V208.1H1592zM1519.8 221.8H1527V228.7H1519.8zM1223.8 421H1231V427.8H1223.8zM1216.5 572.1H1223.8V578.9H1216.5z"/>
<path fill="#7ea8cc" d="M1599.2 201.2H1603V208.1H1599.2zM1382.6 215H1389.8V221.8H1382.6zM1129.9 434.7H1137.1V441.6H1129.9zM1216.5 613.3H1223.8V620.1H1216.5z"/>
<path fill="#e98358" d="M1108.2 208.1H1115.5V215H1108.2zM1108.2 215H1115.5V221.8H1108.2zM1151.6 221.8H1158.8V228.7H1151.6zM1014.4 235.6H1021.6V242.4H1014.4zM1115.5 235.6H1122.7V242.4H1115.5zM1209.3 269.9H1216.5V276.8H1209.3zM1368.1 324.8H1375.4V331.7H1368.1zM1433.1 482.8H1440.3V489.7H1433.1zM1577.5 517.1H1584.7V524H1577.5z"/>
<path fill="#ea8c5c" d="M1115.5 208.1H1122.7V215H1115.5zM1086.6 249.3H1093.8V256.2H1086.6zM1476.4 421H1483.7V427.8H1476.4zM1512.5 455.3H1519.8V462.2H1512.5zM1527 469H1534.2V475.9H1527z"/>
<path fill="#eb9660" d="M1129.9 208.1H1137.1V215H1129.9zM1303.2 269.9H1310.4V276.8H1303.2z"/>
<path fill="#eb9460" d="M1137.1 208.1H1144.3V215H1137.1zM1057.7 249.3H1064.9V256.2H1057.7zM1101 249.3H1108.2V256.2H1101zM1281.5 249.3H1288.7V256.2H1281.5zM1288.7 256.2H1296V263H1288.7zM1382.6 331.7H1389.8V338.6H1382.6zM1433.1 379.8H1440.3V386.6H1433.1zM1440.3 386.6H1447.6V393.5H1440.3zM1389.8 441.6H1397V448.4H1389.8zM1584.7 517.1H1592V524H1584.7z"/>
<path fill="#ea8e5d" d="M1144.3 208.1H1151.6V215H1144.3zM1144.3 215H1151.6V221.8H1144.3zM1122.7 242.4H1129.9V249.3H1122.7zM1187.7 256.2H1194.9V263H1187.7zM1346.5 400.4H1353.7V407.2H1346.5zM1469.2 414.1H1476.4V421H1469.2zM1519.8 462.2H1527V469H1519.8z"/>
<path fill="#e98459" d="M1151.6 208.1H1158.8V215H1151.6zM1115.5 228.7H1122.7V235.6H1115.5zM1043.3 242.4H1050.5V249.3H1043.3zM1216.5 276.8H1223.8V283.6H1216.5z"/>
<path fill="#e87653" d="M1158.8 208.1H1166V215H1158.8zM1028.8 235.6H1036.1V242.4H1028.8zM1072.1 242.4H1086.6V249.3H1072.1zM1353.7 400.4H1360.9V407.2H1353.7zM1360.9 407.2H1368.1V414.1H1360.9zM1483.7 434.7H1490.9V441.6H1483.7zM1498.1 448.4H1505.3V455.3H1498.1zM1534.2 482.8H1541.4V489.7H1534.2z"/>
<path fill="#e6664c" d="M1166 208.1H1173.2V215H1166zM1086.6 221.8H1093.8V228.7H1086.6zM1014.4 228.7H1021.6V235.6H1014.4zM1057.7 235.6H1072.1V242.4H1057.7zM1324.8 297.4H1332.1V304.2H1324.8zM1317.6 359.2H1324.8V366H1317.6zM1324.8 366H1332.1V372.9H1324.8zM1332.1 372.9H1339.3V379.8H1332.1zM1433.1 469H1440.3V475.9H1433.1zM1447.6 537.7H1454.8V544.6H1447.6zM1440.3 558.3H1447.6V565.2H1440.3zM1490.9 558.3H1512.5V565.2H1490.9zM1490.9 565.2H1505.3V572.1H1490.9zM1519.8 565.2H1527V572.1H1519.8zM1483.7 572.1H1498.1V578.9H1483.7zM1483.7 578.9H1490.9V585.8H1483.7zM1541.4 578.9H1548.6V585.8H1541.4zM1483.7 585.8H1490.9V592.7H1483.7zM1548.6 585.8H1555.9V592.7H1548.6zM1447.6 592.7H1454.8V599.5H1447.6zM1483.7 592.7H1490.9V599.5H1483.7zM1483.7 599.5H1490.9V606.4H1483.7zM1563.1 599.5H1570.3V606.4H1563.1zM1483.7 606.4H1490.9V613.3H1483.7zM1454.8 613.3H1462V620.1H1454.8zM1483.7 613.3H1490.9V620.1H1483.7zM1483.7 620.1H1490.9V627H1483.7z"/>
<path fill="#e35b46" d="M1173.2 208.1H1180.4V215H1173.2zM1180.4 221.8H1187.7V228.7H1180.4zM1296 276.8H1303.2V283.6H1296zM1252.6 290.5H1259.9V297.4H1252.6zM1454.8 421H1462V427.8H1454.8zM1534.2 551.5H1541.4V558.3H1534.2zM1584.7 606.4H1592V613.3H1584.7z"/>
<path fill="#f1d280" d="M1252.6 208.1H1259.9V215H1252.6zM1317.6 407.2H1324.8V414.1H1317.6zM1324.8 448.4H1332.1V455.3H1324.8zM1324.8 455.3H1332.1V462.2H1324.8zM1324.8 462.2H1332.1V469H1324.8zM1324.8 469H1332.1V475.9H1324.8zM1324.8 475.9H1332.1V482.8H1324.8zM1324.8 482.8H1332.1V489.7H1324.8zM1324.8 489.7H1332.1V496.5H1324.8zM1324.8 496.5H1332.1V503.4H1324.8zM1324.8 503.4H1332.1V510.3H1324.8zM1324.8 510.3H1332.1V517.1H1324.8zM1324.8 517.1H1332.1V524H1324.8zM1324.8 524H1332.1V530.9H1324.8zM1324.8 530.9H1332.1V537.7H1324.8zM1324.8 537.7H1332.1V544.6H1324.8zM1324.8 544.6H1332.1V551.5H1324.8zM1324.8 551.5H1332.1V558.3H1324.8zM1324.8 558.3H1332.1V565.2H1324.8zM1324.8 565.2H1332.1V572.1H1324.8zM1324.8 572.1H1332.1V578.9H1324.8zM1324.8 578.9H1332.1V585.8H1324.8zM1324.8 585.8H1332.1V592.7H1324.8zM1324.8 592.7H1332.1V599.5H1324.8zM1324.8 599.5H1332.1V606.4H1324.8zM1324.8 606.4H1332.1V613.3H1324.8zM1324.8 613.3H1332.1V620.1H1324.8zM1324.8 620.1H1332.1V627H1324.8z"/>
<path fill="#f2e7a2" d="M1259.9 208.1H1267.1V215H1259.9zM1267.1 215H1274.3V221.8H1267.1zM1158.8 276.8H1166V283.6H1158.8zM1043.3 283.6H1057.7V290.5H1043.3zM1202.1 297.4H1209.3V304.2H1202.1zM1028.8 345.4H1036.1V352.3H1028.8zM1028.8 352.3H1036.1V359.2H1028.8zM1028.8 359.2H1036.1V366H1028.8zM1028.8 366H1036.1V372.9H1028.8zM1021.6 386.6H1028.8V393.5H1021.6z"/>
<path fill="#eeefc7" d="M1267.1 208.1H1274.3V215H1267.1zM1231 359.2H1238.2V366H1231zM1238.2 366H1245.4V372.9H1238.2z"/>
<path fill="#769fc7" d="M1382.6 208.1H1389.8V215H1382.6zM1216.5 578.9H1223.8V585.8H1216.5z"/>
<path fill="#4a71a8" d="M1418.7 208.1H1425.9V215H1418.7zM1462 215H1476.4V221.8H1462zM1483.7 215H1498.1V221.8H1483.7z"/>
<path fill="#84afcf" d="M1584.7 208.1H1592V215H1584.7zM1490.9 228.7H1498.1V235.6H1490.9zM1231 475.9H1238.2V482.8H1231z"/>
<path fill="#8dbad5" d="M1592 208.1H1599.2V215H1592zM1519.8 228.7H1527V235.6H1519.8zM1043.3 441.6H1050.5V448.4H1043.3z"/>
<path fill="#ea8b5c" d="M1115.5 215H1122.7V221.8H1115.5zM1144.3 221.8H1151.6V228.7H1144.3zM1129.9 228.7H1144.3V235.6H1129.9zM1036.1 242.4H1043.3V249.3H1036.1zM1505.3 448.4H1512.5V455.3H1505.3zM1534.2 475.9H1541.4V482.8H1534.2z"/>
<path fill="#e98559" d="M1151.6 215H1158.8V221.8H1151.6zM1223.8 283.6H1231V290.5H1223.8zM1274.3 331.7H1281.5V338.6H1274.3zM1433.1 551.5H1440.3V558.3H1433.1z"/>
<path fill="#e76b4e" d="M1166 215H1173.2V221.8H1166zM1086.6 235.6H1093.8V242.4H1086.6zM1180.4 242.4H1187.7V249.3H1180.4zM1194.9 249.3H1202.1V256.2H1194.9zM1368.1 331.7H1375.4V338.6H1368.1zM1382.6 345.4H1389.8V352.3H1382.6zM1389.8 352.3H1397V359.2H1389.8zM1404.2 366H1411.5V372.9H1404.2zM1447.6 407.2H1454.8V414.1H1447.6zM1440.3 551.5H1447.6V558.3H1440.3z"/>
<path fill="#e56048" d="M1173.2 215H1180.4V221.8H1173.2zM1043.3 228.7H1050.5V235.6H1043.3zM1064.9 228.7H1072.1V235.6H1064.9zM1339.3 311.1H1346.5V318H1339.3zM1360.9 400.4H1368.1V407.2H1360.9zM1454.8 510.3H1462V517.1H1454.8zM1469.2 524H1476.4V530.9H1469.2zM1490.9 530.9H1498.1V537.7H1490.9z"/>
<path fill="#d3ebf2" d="M1296 215H1303.2V221.8H1296zM1324.8 242.4H1332.1V249.3H1324.8zM1245.4 386.6H1252.6V393.5H1245.4zM1592 455.3H1599.2V462.2H1592z"/>
<path fill="#cbe7ef" d="M1303.2 215H1310.4V221.8H1303.2zM1310.4 221.8H1317.6V228.7H1310.4zM1317.6 228.7H1324.8V235.6H1317.6zM1324.8 235.6H1332.1V242.4H1324.8zM1353.7 256.2H1360.9V263H1353.7zM1418.7 297.4H1425.9V304.2H1418.7zM1476.4 345.4H1483.7V352.3H1476.4zM1202.1 386.6H1209.3V393.5H1202.1zM1548.6 407.2H1555.9V414.1H1548.6zM1570.3 427.8H1577.5V434.7H1570.3z"/>
<path fill="#6f97c4" d="M1397 215H1404.2V221.8H1397zM1166 434.7H1173.2V441.6H1166z"/>
<path fill="#6a92c0" d="M1404.2 215H1411.5V221.8H1404.2zM1454.8 221.8H1462V228.7H1454.8zM1115.5 448.4H1122.7V455.3H1115.5zM1011 462.2H1021.6V469H1011zM1216.5 524H1223.8V530.9H1216.5z"/>
<path fill="#658dbc" d="M1411.5 215H1418.7V221.8H1411.5zM1216.5 496.5H1223.8V503.4H1216.5zM1209.3 565.2H1216.5V572.1H1209.3z"/>
<path fill="#4b72a9" d="M1454.8 215H1462V221.8H1454.8zM1144.3 496.5H1158.8V503.4H1144.3zM1115.5 503.4H1151.6V510.3H1115.5zM1064.9 510.3H1122.7V517.1H1064.9zM1144.3 510.3H1151.6V517.1H1144.3zM1011 517.1H1086.6V524H1011zM1144.3 517.1H1151.6V524H1144.3zM1144.3 524H1151.6V530.9H1144.3zM1144.3 530.9H1151.6V537.7H1144.3zM1144.3 537.7H1151.6V544.6H1144.3zM1144.3 544.6H1151.6V551.5H1144.3zM1144.3 551.5H1151.6V558.3H1144.3zM1137.1 558.3H1151.6V565.2H1137.1zM1137.1 565.2H1151.6V572.1H1137.1zM1137.1 572.1H1151.6V578.9H1137.1zM1137.1 578.9H1151.6V585.8H1137.1zM1137.1 585.8H1144.3V592.7H1137.1zM1137.1 592.7H1144.3V599.5H1137.1zM1137.1 599.5H1144.3V606.4H1137.1zM1137.1 606.4H1144.3V613.3H1137.1zM1137.1 613.3H1144.3V620.1H1137.1zM1137.1 620.1H1144.3V627H1137.1z"/>
<path fill="#5078ae" d="M1512.5 215H1519.8V221.8H1512.5zM1180.4 455.3H1187.7V462.2H1180.4zM1166 462.2H1173.2V469H1166zM1194.9 469H1202.1V475.9H1194.9zM1108.2 475.9H1115.5V482.8H1108.2zM1064.9 482.8H1079.4V489.7H1064.9zM1187.7 503.4H1194.9V510.3H1187.7zM1187.7 510.3H1194.9V517.1H1187.7zM1180.4 551.5H1187.7V558.3H1180.4zM1180.4 558.3H1187.7V565.2H1180.4zM1173.2 606.4H1180.4V613.3H1173.2z"/>
<path fill="#6189ba" d="M1534.2 215H1541.4V221.8H1534.2zM1216.5 434.7H1223.8V441.6H1216.5zM1144.3 448.4H1151.6V455.3H1144.3zM1079.4 462.2H1086.6V469H1079.4zM1216.5 475.9H1223.8V482.8H1216.5zM1209.3 544.6H1216.5V551.5H1209.3zM1202.1 606.4H1209.3V613.3H1202.1z"/>
<path fill="#7199c4" d="M1548.6 215H1555.9V221.8H1548.6zM1129.9 441.6H1137.1V448.4H1129.9z"/>
<path fill="#79a2c9" d="M1555.9 215H1563.1V221.8H1555.9z"/>
<path fill="#81acce" d="M1563.1 215H1570.3V221.8H1563.1zM1122.7 434.7H1129.9V441.6H1122.7zM1028.8 448.4H1036.1V455.3H1028.8z"/>
<path fill="#89b5d3" d="M1570.3 215H1577.5V221.8H1570.3z"/>
<path fill="#e25642" d="M1011 221.8H1014.4V228.7H1011zM1346.5 379.8H1353.7V386.6H1346.5zM1555.9 517.1H1563.1V524H1555.9zM1599.2 613.3H1603V620.1H1599.2z"/>
<path fill="#e98057" d="M1108.2 221.8H1115.5V228.7H1108.2zM1151.6 228.7H1158.8V235.6H1151.6zM1151.6 235.6H1158.8V242.4H1151.6zM1332.1 297.4H1339.3V304.2H1332.1zM1317.6 366H1324.8V372.9H1317.6zM1425.9 379.8H1433.1V386.6H1425.9zM1440.3 393.5H1447.6V400.4H1440.3z"/>
<path fill="#ea885a" d="M1115.5 221.8H1122.7V228.7H1115.5zM1011 235.6H1014.4V242.4H1011zM1360.9 318H1368.1V324.8H1360.9z"/>
<path fill="#e6624a" d="M1173.2 221.8H1180.4V228.7H1173.2zM1454.8 524H1462V530.9H1454.8zM1483.7 537.7H1490.9V544.6H1483.7zM1592 537.7H1599.2V544.6H1592zM1447.6 578.9H1454.8V585.8H1447.6zM1462 585.8H1469.2V592.7H1462zM1454.8 592.7H1462V599.5H1454.8z"/>
<path fill="#eeb26e" d="M1259.9 221.8H1267.1V228.7H1259.9z"/>
<path fill="#f1d281" d="M1267.1 221.8H1274.3V228.7H1267.1zM1223.8 304.2H1231V311.1H1223.8zM1245.4 324.8H1252.6V331.7H1245.4z"/>
<path fill="#edf0cb" d="M1281.5 221.8H1288.7V228.7H1281.5zM1389.8 304.2H1397V311.1H1389.8zM1187.7 318H1194.9V324.8H1187.7zM1151.6 324.8H1158.8V331.7H1151.6zM1209.3 331.7H1216.5V338.6H1209.3zM1144.3 359.2H1151.6V366H1144.3zM1144.3 372.9H1151.6V379.8H1144.3zM1577.5 469H1584.7V475.9H1577.5zM1259.9 517.1H1267.1V524H1259.9z"/>
<path fill="#e6f3e7" d="M1288.7 221.8H1296V228.7H1288.7zM1324.8 256.2H1332.1V263H1324.8zM1346.5 269.9H1353.7V276.8H1346.5zM1425.9 324.8H1433.1V331.7H1425.9zM1036.1 407.2H1043.3V414.1H1036.1zM1548.6 434.7H1555.9V441.6H1548.6z"/>
<path fill="#85b1d0" d="M1397 221.8H1404.2V228.7H1397zM1231 421H1238.2V427.8H1231z"/>
<path fill="#7ba5cb" d="M1418.7 221.8H1425.9V228.7H1418.7zM1223.8 524H1231V530.9H1223.8z"/>
<path fill="#78a1c9" d="M1425.9 221.8H1433.1V228.7H1425.9zM1079.4 448.4H1086.6V455.3H1079.4zM1223.8 510.3H1231V517.1H1223.8z"/>
<path fill="#668ebd" d="M1469.2 221.8H1476.4V228.7H1469.2zM1483.7 221.8H1490.9V228.7H1483.7zM1202.1 427.8H1209.3V434.7H1202.1zM1158.8 441.6H1166V448.4H1158.8zM1216.5 503.4H1223.8V510.3H1216.5zM1209.3 572.1H1216.5V578.9H1209.3z"/>
<path fill="#6991c0" d="M1498.1 221.8H1505.3V228.7H1498.1zM1209.3 592.7H1216.5V599.5H1209.3z"/>
<path fill="#8bb7d3" d="M1548.6 221.8H1555.9V228.7H1548.6zM1440.3 228.7H1447.6V235.6H1440.3zM1101 434.7H1108.2V441.6H1101z"/>
<path fill="#90bdd7" d="M1555.9 221.8H1563.1V228.7H1555.9zM1425.9 228.7H1433.1V235.6H1425.9z"/>
<path fill="#e7694d" d="M1011 228.7H1014.4V235.6H1011zM1050.5 235.6H1057.7V242.4H1050.5zM1454.8 414.1H1462V421H1454.8zM1454.8 620.1H1462V627H1454.8z"/>
<path fill="#ea865a" d="M1144.3 228.7H1151.6V235.6H1144.3zM1231 290.5H1238.2V297.4H1231zM1267.1 324.8H1274.3V331.7H1267.1zM1570.3 510.3H1577.5V517.1H1570.3z"/>
<path fill="#eb915e" d="M1259.9 228.7H1267.1V235.6H1259.9zM1129.9 242.4H1137.1V249.3H1129.9zM1404.2 352.3H1411.5V359.2H1404.2zM1418.7 366H1425.9V372.9H1418.7z"/>
<path fill="#96c1d9" d="M1411.5 228.7H1418.7V235.6H1411.5zM1238.2 455.3H1245.4V462.2H1238.2zM1223.8 620.1H1231V627H1223.8z"/>
<path fill="#8ebad5" d="M1433.1 228.7H1440.3V235.6H1433.1zM1231 510.3H1238.2V517.1H1231zM1223.8 592.7H1231V599.5H1223.8z"/>
<path fill="#87b3d2" d="M1505.3 228.7H1512.5V235.6H1505.3z"/>
<path fill="#a0c8dd" d="M1555.9 228.7H1563.1V235.6H1555.9zM1021.6 434.7H1028.8V441.6H1021.6z"/>
<path fill="#e87c55" d="M1021.6 235.6H1028.8V242.4H1021.6zM1166 242.4H1173.2V249.3H1166zM1462 414.1H1469.2V421H1462zM1382.6 427.8H1389.8V434.7H1382.6z"/>
<path fill="#ea875a" d="M1122.7 235.6H1129.9V242.4H1122.7zM1173.2 249.3H1180.4V256.2H1173.2zM1324.8 290.5H1332.1V297.4H1324.8zM1238.2 297.4H1245.4V304.2H1238.2zM1245.4 304.2H1252.6V311.1H1245.4zM1252.6 311.1H1259.9V318H1252.6zM1259.9 318H1267.1V324.8H1259.9zM1281.5 338.6H1288.7V345.4H1281.5zM1490.9 434.7H1498.1V441.6H1490.9zM1563.1 503.4H1570.3V510.3H1563.1zM1440.3 606.4H1447.6V613.3H1440.3z"/>
<path fill="#ea8a5b" d="M1129.9 235.6H1144.3V242.4H1129.9zM1541.4 482.8H1548.6V489.7H1541.4zM1440.3 524H1447.6V530.9H1440.3z"/>
<path fill="#e76a4e" d="M1173.2 235.6H1180.4V242.4H1173.2zM1375.4 338.6H1382.6V345.4H1375.4zM1447.6 599.5H1454.8V606.4H1447.6z"/>
<path fill="#97c3da" d="M1469.2 235.6H1476.4V242.4H1469.2zM1137.1 421H1144.3V427.8H1137.1z"/>
<path fill="#99c4da" d="M1498.1 235.6H1505.3V242.4H1498.1zM1216.5 407.2H1223.8V414.1H1216.5zM1101 427.8H1108.2V434.7H1101zM1057.7 434.7H1064.9V441.6H1057.7zM1238.2 469H1245.4V475.9H1238.2zM1231 551.5H1238.2V558.3H1231z"/>
<path fill="#eda668" d="M1011 242.4H1014.4V249.3H1011zM1425.9 366H1433.1V372.9H1425.9zM1433.1 517.1H1440.3V524H1433.1zM1592 517.1H1599.2V524H1592z"/>
<path fill="#eca065" d="M1014.4 242.4H1021.6V249.3H1014.4zM1122.7 249.3H1129.9V256.2H1122.7zM1144.3 249.3H1151.6V256.2H1144.3zM1231 297.4H1238.2V304.2H1231zM1238.2 304.2H1245.4V311.1H1238.2zM1245.4 311.1H1252.6V318H1245.4zM1252.6 318H1259.9V324.8H1252.6zM1259.9 324.8H1267.1V331.7H1259.9zM1346.5 407.2H1353.7V414.1H1346.5zM1353.7 414.1H1360.9V421H1353.7zM1476.4 414.1H1483.7V421H1476.4zM1527 462.2H1534.2V469H1527zM1433.1 510.3H1440.3V517.1H1433.1zM1433.1 530.9H1440.3V537.7H1433.1z"/>
<path fill="#eb9962" d="M1021.6 242.4H1028.8V249.3H1021.6zM1108.2 249.3H1115.5V256.2H1108.2zM1433.1 503.4H1440.3V510.3H1433.1z"/>
<path fill="#e97e56" d="M1050.5 242.4H1057.7V249.3H1050.5zM1397 352.3H1404.2V359.2H1397zM1411.5 366H1418.7V372.9H1411.5zM1339.3 386.6H1346.5V393.5H1339.3zM1389.8 434.7H1397V441.6H1389.8zM1404.2 448.4H1411.5V455.3H1404.2zM1411.5 455.3H1418.7V462.2H1411.5zM1418.7 462.2H1425.9V469H1418.7zM1584.7 524H1592V530.9H1584.7z"/>
<path fill="#e87b55" d="M1093.8 242.4H1101V249.3H1093.8zM1303.2 352.3H1310.4V359.2H1303.2zM1433.1 475.9H1440.3V482.8H1433.1zM1440.3 503.4H1447.6V510.3H1440.3z"/>
<path fill="#e98157" d="M1101 242.4H1108.2V249.3H1101zM1332.1 379.8H1339.3V386.6H1332.1zM1440.3 530.9H1447.6V537.7H1440.3zM1433.1 572.1H1440.3V578.9H1433.1z"/>
<path fill="#ea8a5c" d="M1115.5 242.4H1122.7V249.3H1115.5zM1433.1 489.7H1440.3V496.5H1433.1z"/>
<path fill="#f2d985" d="M1288.7 242.4H1296V249.3H1288.7zM1339.3 283.6H1346.5V290.5H1339.3zM1389.8 318H1397V324.8H1389.8zM1303.2 379.8H1310.4V386.6H1303.2zM1310.4 400.4H1317.6V407.2H1310.4zM1534.2 448.4H1541.4V455.3H1534.2z"/>
<path fill="#efc076" d="M1011 249.3H1014.4V256.2H1011zM1043.3 256.2H1050.5V263H1043.3zM1173.2 263H1180.4V269.9H1173.2zM1498.1 421H1505.3V427.8H1498.1zM1570.3 489.7H1577.5V496.5H1570.3zM1418.7 510.3H1425.9V517.1H1418.7zM1418.7 530.9H1425.9V537.7H1418.7zM1411.5 572.1H1418.7V578.9H1411.5zM1418.7 599.5H1425.9V606.4H1418.7z"/>
<path fill="#eeb670" d="M1021.6 249.3H1028.8V256.2H1021.6zM1418.7 489.7H1425.9V496.5H1418.7z"/>
<path fill="#eeaf6d" d="M1028.8 249.3H1036.1V256.2H1028.8zM1324.8 386.6H1332.1V393.5H1324.8zM1346.5 414.1H1353.7V421H1346.5zM1360.9 427.8H1368.1V434.7H1360.9zM1368.1 434.7H1375.4V441.6H1368.1zM1555.9 482.8H1563.1V489.7H1555.9z"/>
<path fill="#eda96a" d="M1036.1 249.3H1043.3V256.2H1036.1zM1086.6 256.2H1093.8V263H1086.6zM1389.8 331.7H1397V338.6H1389.8zM1584.7 510.3H1592V517.1H1584.7z"/>
<path fill="#eca266" d="M1043.3 249.3H1050.5V256.2H1043.3zM1173.2 256.2H1180.4V263H1173.2zM1332.1 290.5H1339.3V297.4H1332.1zM1469.2 407.2H1476.4V414.1H1469.2zM1368.1 427.8H1375.4V434.7H1368.1z"/>
<path fill="#ec9b63" d="M1050.5 249.3H1057.7V256.2H1050.5zM1151.6 249.3H1158.8V256.2H1151.6zM1202.1 269.9H1209.3V276.8H1202.1zM1310.4 366H1317.6V372.9H1310.4zM1324.8 379.8H1332.1V386.6H1324.8zM1490.9 427.8H1498.1V434.7H1490.9zM1563.1 496.5H1570.3V503.4H1563.1z"/>
<path fill="#ec9d63" d="M1115.5 249.3H1122.7V256.2H1115.5z"/>
<path fill="#eda367" d="M1129.9 249.3H1137.1V256.2H1129.9zM1411.5 352.3H1418.7V359.2H1411.5zM1411.5 469H1418.7V475.9H1411.5zM1418.7 475.9H1425.9V482.8H1418.7z"/>
<path fill="#eda568" d="M1137.1 249.3H1144.3V256.2H1137.1zM1404.2 345.4H1411.5V352.3H1404.2zM1454.8 393.5H1462V400.4H1454.8zM1433.1 606.4H1440.3V613.3H1433.1z"/>
<path fill="#bfdfea" d="M1368.1 249.3H1375.4V256.2H1368.1zM1462 311.1H1469.2V318H1462zM1108.2 407.2H1115.5V414.1H1108.2zM1238.2 599.5H1245.4V606.4H1238.2z"/>
<path fill="#bddde9" d="M1375.4 249.3H1382.6V256.2H1375.4zM1519.8 352.3H1527V359.2H1519.8z"/>
<path fill="#f0cd7d" d="M1021.6 256.2H1028.8V263H1021.6zM1064.9 263H1072.1V269.9H1064.9zM1158.8 263H1166V269.9H1158.8zM1324.8 276.8H1332.1V283.6H1324.8zM1202.1 283.6H1209.3V290.5H1202.1zM1418.7 345.4H1425.9V352.3H1418.7zM1462 386.6H1469.2V393.5H1462zM1332.1 441.6H1339.3V448.4H1332.1zM1332.1 448.4H1339.3V455.3H1332.1z"/>
<path fill="#f0c97b" d="M1028.8 256.2H1036.1V263H1028.8zM1093.8 263H1101V269.9H1093.8zM1166 263H1173.2V269.9H1166zM1187.7 269.9H1194.9V276.8H1187.7zM1339.3 441.6H1346.5V448.4H1339.3zM1346.5 469H1353.7V475.9H1346.5zM1346.5 475.9H1353.7V482.8H1346.5zM1346.5 482.8H1353.7V489.7H1346.5zM1346.5 489.7H1353.7V496.5H1346.5zM1346.5 496.5H1353.7V503.4H1346.5zM1346.5 503.4H1353.7V510.3H1346.5zM1346.5 510.3H1353.7V517.1H1346.5zM1346.5 517.1H1353.7V524H1346.5zM1346.5 524H1353.7V530.9H1346.5zM1346.5 530.9H1353.7V537.7H1346.5zM1346.5 537.7H1353.7V544.6H1346.5zM1346.5 544.6H1353.7V551.5H1346.5zM1346.5 551.5H1353.7V558.3H1346.5zM1346.5 558.3H1353.7V565.2H1346.5zM1346.5 565.2H1353.7V572.1H1346.5zM1346.5 572.1H1353.7V578.9H1346.5zM1346.5 578.9H1353.7V585.8H1346.5zM1346.5 585.8H1353.7V592.7H1346.5zM1346.5 592.7H1353.7V599.5H1346.5zM1346.5 599.5H1353.7V606.4H1346.5zM1346.5 606.4H1353.7V613.3H1346.5zM1346.5 613.3H1353.7V620.1H1346.5zM1346.5 620.1H1353.7V627H1346.5z"/>
<path fill="#f0c679" d="M1036.1 256.2H1043.3V263H1036.1zM1483.7 407.2H1490.9V414.1H1483.7zM1346.5 441.6H1353.7V448.4H1346.5zM1353.7 455.3H1360.9V462.2H1353.7zM1534.2 455.3H1541.4V462.2H1534.2zM1360.9 469H1368.1V475.9H1360.9zM1368.1 475.9H1375.4V482.8H1368.1zM1368.1 482.8H1375.4V489.7H1368.1zM1368.1 489.7H1382.6V496.5H1368.1zM1368.1 496.5H1389.8V503.4H1368.1zM1368.1 503.4H1397V510.3H1368.1zM1368.1 510.3H1397V517.1H1368.1zM1368.1 517.1H1397V524H1368.1zM1368.1 524H1397V530.9H1368.1zM1368.1 530.9H1397V537.7H1368.1zM1368.1 537.7H1397V544.6H1368.1zM1368.1 544.6H1397V551.5H1368.1zM1368.1 551.5H1397V558.3H1368.1zM1368.1 558.3H1389.8V565.2H1368.1zM1368.1 565.2H1389.8V572.1H1368.1zM1368.1 572.1H1397V578.9H1368.1zM1368.1 578.9H1397V585.8H1368.1zM1368.1 585.8H1397V592.7H1368.1zM1368.1 592.7H1397V599.5H1368.1zM1368.1 599.5H1397V606.4H1368.1zM1368.1 606.4H1397V613.3H1368.1zM1368.1 613.3H1397V620.1H1368.1zM1368.1 620.1H1404.2V627H1368.1z"/>
<path fill="#efba73" d="M1050.5 256.2H1057.7V263H1050.5zM1122.7 256.2H1129.9V263H1122.7zM1231 304.2H1238.2V311.1H1231zM1252.6 324.8H1259.9V331.7H1252.6zM1454.8 386.6H1462V393.5H1454.8zM1339.3 414.1H1346.5V421H1339.3zM1411.5 482.8H1418.7V489.7H1411.5zM1418.7 496.5H1425.9V503.4H1418.7zM1592 510.3H1599.2V517.1H1592zM1418.7 578.9H1425.9V585.8H1418.7z"/>
<path fill="#eeae6c" d="M1072.1 256.2H1079.4V263H1072.1zM1296 359.2H1303.2V366H1296z"/>
<path fill="#edad6c" d="M1093.8 256.2H1101V263H1093.8zM1187.7 263H1194.9V269.9H1187.7zM1570.3 496.5H1577.5V503.4H1570.3z"/>
<path fill="#efbd74" d="M1129.9 256.2H1137.1V263H1129.9zM1332.1 407.2H1339.3V414.1H1332.1zM1418.7 503.4H1425.9V510.3H1418.7zM1584.7 503.4H1592V510.3H1584.7z"/>
<path fill="#efbf75" d="M1137.1 256.2H1144.3V263H1137.1zM1360.9 304.2H1368.1V311.1H1360.9zM1505.3 427.8H1512.5V434.7H1505.3zM1353.7 434.7H1360.9V441.6H1353.7zM1404.2 482.8H1411.5V489.7H1404.2zM1411.5 489.7H1418.7V496.5H1411.5zM1577.5 496.5H1584.7V503.4H1577.5zM1411.5 565.2H1418.7V572.1H1411.5z"/>
<path fill="#eeb671" d="M1151.6 256.2H1158.8V263H1151.6zM1209.3 283.6H1216.5V290.5H1209.3zM1469.2 400.4H1476.4V407.2H1469.2zM1425.9 530.9H1433.1V537.7H1425.9z"/>
<path fill="#edac6b" d="M1166 256.2H1173.2V263H1166zM1577.5 503.4H1584.7V510.3H1577.5z"/>
<path fill="#d7eef3" d="M1339.3 256.2H1346.5V263H1339.3zM1555.9 427.8H1563.1V434.7H1555.9z"/>
<path fill="#c7e4ee" d="M1360.9 256.2H1368.1V263H1360.9zM1425.9 297.4H1433.1V304.2H1425.9zM1490.9 352.3H1498.1V359.2H1490.9zM1534.2 386.6H1541.4V393.5H1534.2zM1166 393.5H1173.2V400.4H1166zM1541.4 393.5H1548.6V400.4H1541.4zM1548.6 400.4H1555.9V407.2H1548.6zM1050.5 414.1H1057.7V421H1050.5zM1584.7 434.7H1592V441.6H1584.7zM1592 441.6H1599.2V448.4H1592zM1245.4 537.7H1252.6V544.6H1245.4z"/>
<path fill="#f2dd88" d="M1011 263H1014.4V269.9H1011z"/>
<path fill="#f2dd87" d="M1014.4 263H1021.6V269.9H1014.4zM1187.7 276.8H1194.9V283.6H1187.7zM1310.4 421H1317.6V427.8H1310.4z"/>
<path fill="#f2dc87" d="M1021.6 263H1028.8V269.9H1021.6zM1086.6 269.9H1093.8V276.8H1086.6zM1360.9 297.4H1368.1V304.2H1360.9zM1310.4 414.1H1317.6V421H1310.4z"/>
<path fill="#f0cb7c" d="M1072.1 263H1079.4V269.9H1072.1zM1194.9 276.8H1202.1V283.6H1194.9zM1317.6 393.5H1324.8V400.4H1317.6zM1469.2 393.5H1476.4V400.4H1469.2zM1339.3 462.2H1346.5V469H1339.3zM1339.3 469H1346.5V475.9H1339.3zM1339.3 475.9H1346.5V482.8H1339.3zM1339.3 482.8H1346.5V489.7H1339.3zM1339.3 489.7H1346.5V496.5H1339.3zM1339.3 496.5H1346.5V503.4H1339.3zM1339.3 503.4H1346.5V510.3H1339.3zM1339.3 510.3H1346.5V517.1H1339.3zM1339.3 517.1H1346.5V524H1339.3zM1339.3 524H1346.5V530.9H1339.3zM1339.3 530.9H1346.5V537.7H1339.3zM1339.3 537.7H1346.5V544.6H1339.3zM1339.3 544.6H1346.5V551.5H1339.3zM1339.3 551.5H1346.5V558.3H1339.3zM1339.3 558.3H1346.5V565.2H1339.3zM1339.3 565.2H1346.5V572.1H1339.3zM1339.3 572.1H1346.5V578.9H1339.3zM1339.3 578.9H1346.5V585.8H1339.3zM1339.3 585.8H1346.5V592.7H1339.3zM1339.3 592.7H1346.5V599.5H1339.3zM1339.3 599.5H1346.5V606.4H1339.3zM1339.3 606.4H1346.5V613.3H1339.3zM1339.3 613.3H1346.5V620.1H1339.3zM1339.3 620.1H1346.5V627H1339.3z"/>
<path fill="#f0c97a" d="M1079.4 263H1086.6V269.9H1079.4zM1476.4 400.4H1483.7V407.2H1476.4zM1346.5 462.2H1353.7V469H1346.5z"/>
<path fill="#f0c779" d="M1086.6 263H1093.8V269.9H1086.6zM1353.7 297.4H1360.9V304.2H1353.7zM1527 448.4H1534.2V455.3H1527zM1353.7 462.2H1360.9V469H1353.7zM1360.9 475.9H1368.1V482.8H1360.9zM1360.9 482.8H1368.1V489.7H1360.9zM1360.9 489.7H1368.1V496.5H1360.9zM1360.9 496.5H1368.1V503.4H1360.9zM1360.9 503.4H1368.1V510.3H1360.9zM1360.9 510.3H1368.1V517.1H1360.9zM1360.9 517.1H1368.1V524H1360.9zM1360.9 524H1368.1V530.9H1360.9zM1360.9 530.9H1368.1V537.7H1360.9zM1360.9 537.7H1368.1V544.6H1360.9zM1360.9 544.6H1368.1V551.5H1360.9zM1360.9 551.5H1368.1V558.3H1360.9zM1360.9 558.3H1368.1V565.2H1360.9zM1360.9 565.2H1368.1V572.1H1360.9zM1360.9 572.1H1368.1V578.9H1360.9zM1360.9 578.9H1368.1V585.8H1360.9zM1360.9 585.8H1368.1V592.7H1360.9zM1360.9 592.7H1368.1V599.5H1360.9zM1360.9 599.5H1368.1V606.4H1360.9zM1360.9 606.4H1368.1V613.3H1360.9zM1360.9 613.3H1368.1V620.1H1360.9zM1360.9 620.1H1368.1V627H1360.9z"/>
<path fill="#f0cc7c" d="M1101 263H1108.2V269.9H1101zM1375.4 311.1H1382.6V318H1375.4z"/>
<path fill="#f1ce7e" d="M1108.2 263H1115.5V269.9H1108.2zM1425.9 352.3H1433.1V359.2H1425.9zM1324.8 421H1332.1V427.8H1324.8zM1332.1 455.3H1339.3V462.2H1332.1zM1332.1 462.2H1339.3V469H1332.1zM1332.1 469H1339.3V475.9H1332.1zM1332.1 475.9H1339.3V482.8H1332.1zM1332.1 482.8H1339.3V489.7H1332.1zM1332.1 489.7H1339.3V496.5H1332.1zM1332.1 496.5H1339.3V503.4H1332.1zM1332.1 503.4H1339.3V510.3H1332.1zM1592 503.4H1599.2V510.3H1592zM1332.1 510.3H1339.3V517.1H1332.1zM1332.1 517.1H1339.3V524H1332.1zM1332.1 524H1339.3V530.9H1332.1zM1332.1 530.9H1339.3V537.7H1332.1zM1332.1 537.7H1339.3V544.6H1332.1zM1332.1 544.6H1339.3V551.5H1332.1zM1332.1 551.5H1339.3V558.3H1332.1zM1332.1 558.3H1339.3V565.2H1332.1zM1332.1 565.2H1339.3V572.1H1332.1zM1332.1 572.1H1339.3V578.9H1332.1zM1332.1 578.9H1339.3V585.8H1332.1zM1332.1 585.8H1339.3V592.7H1332.1zM1332.1 592.7H1339.3V599.5H1332.1zM1332.1 599.5H1339.3V606.4H1332.1zM1332.1 606.4H1339.3V613.3H1332.1zM1332.1 613.3H1339.3V620.1H1332.1zM1332.1 620.1H1339.3V627H1332.1z"/>
<path fill="#f1d583" d="M1129.9 263H1137.1V269.9H1129.9zM1317.6 421H1324.8V427.8H1317.6zM1519.8 434.7H1527V441.6H1519.8z"/>
<path fill="#ec9a62" d="M1194.9 263H1202.1V269.9H1194.9zM1498.1 434.7H1505.3V441.6H1498.1zM1570.3 503.4H1577.5V510.3H1570.3zM1425.9 565.2H1433.1V572.1H1425.9z"/>
<path fill="#e8f2e0" d="M1332.1 263H1339.3V269.9H1332.1zM1173.2 379.8H1180.4V386.6H1173.2zM1028.8 407.2H1036.1V414.1H1028.8zM1267.1 407.2H1274.3V414.1H1267.1zM1519.8 407.2H1527V414.1H1519.8z"/>
<path fill="#e3f3f0" d="M1339.3 263H1346.5V269.9H1339.3zM1238.2 379.8H1245.4V386.6H1238.2zM1093.8 400.4H1101V407.2H1093.8z"/>
<path fill="#cee9f0" d="M1360.9 263H1368.1V269.9H1360.9zM1433.1 311.1H1440.3V318H1433.1zM1151.6 393.5H1158.8V400.4H1151.6zM1086.6 407.2H1093.8V414.1H1086.6zM1599.2 455.3H1603V462.2H1599.2z"/>
<path fill="#f2e08f" d="M1011 269.9H1021.6V276.8H1011zM1050.5 269.9H1057.7V276.8H1050.5zM1158.8 269.9H1166V276.8H1158.8zM1274.3 359.2H1281.5V366H1274.3zM1462 379.8H1469.2V386.6H1462zM1303.2 400.4H1310.4V407.2H1303.2z"/>
<path fill="#f2e190" d="M1021.6 269.9H1028.8V276.8H1021.6zM1115.5 269.9H1122.7V276.8H1115.5zM1209.3 297.4H1216.5V304.2H1209.3zM1252.6 338.6H1259.9V345.4H1252.6zM1425.9 345.4H1433.1V352.3H1425.9zM1303.2 407.2H1310.4V414.1H1303.2zM1584.7 489.7H1592V496.5H1584.7z"/>
<path fill="#f2e192" d="M1028.8 269.9H1036.1V276.8H1028.8zM1043.3 269.9H1050.5V276.8H1043.3zM1122.7 269.9H1129.9V276.8H1122.7zM1353.7 290.5H1360.9V297.4H1353.7zM1216.5 304.2H1223.8V311.1H1216.5zM1245.4 331.7H1252.6V338.6H1245.4zM1418.7 338.6H1425.9V345.4H1418.7zM1433.1 352.3H1440.3V359.2H1433.1zM1288.7 372.9H1296V379.8H1288.7zM1303.2 421H1310.4V427.8H1303.2zM1303.2 427.8H1310.4V434.7H1303.2zM1303.2 434.7H1310.4V441.6H1303.2zM1303.2 441.6H1310.4V448.4H1303.2zM1303.2 448.4H1310.4V455.3H1303.2zM1303.2 455.3H1310.4V462.2H1303.2zM1303.2 462.2H1310.4V469H1303.2zM1303.2 469H1310.4V475.9H1303.2zM1303.2 475.9H1310.4V482.8H1303.2zM1303.2 482.8H1310.4V489.7H1303.2zM1303.2 489.7H1310.4V496.5H1303.2zM1303.2 496.5H1310.4V503.4H1303.2zM1303.2 503.4H1310.4V510.3H1303.2zM1303.2 510.3H1310.4V517.1H1303.2zM1303.2 517.1H1310.4V524H1303.2zM1303.2 524H1310.4V530.9H1303.2zM1303.2 530.9H1310.4V537.7H1303.2zM1303.2 537.7H1310.4V544.6H1303.2zM1303.2 544.6H1310.4V551.5H1303.2zM1303.2 551.5H1310.4V558.3H1303.2zM1303.2 558.3H1310.4V565.2H1303.2zM1303.2 565.2H1310.4V572.1H1303.2zM1303.2 572.1H1310.4V578.9H1303.2zM1303.2 578.9H1310.4V585.8H1303.2zM1303.2 585.8H1310.4V592.7H1303.2zM1303.2 592.7H1310.4V599.5H1303.2zM1303.2 599.5H1310.4V606.4H1303.2zM1303.2 606.4H1310.4V613.3H1303.2zM1303.2 613.3H1310.4V620.1H1303.2zM1303.2 620.1H1310.4V627H1303.2z"/>
<path fill="#f2e293" d="M1036.1 269.9H1043.3V276.8H1036.1zM1144.3 269.9H1151.6V276.8H1144.3zM1011 276.8H1014.4V283.6H1011zM1223.8 311.1H1231V318H1223.8zM1238.2 324.8H1245.4V331.7H1238.2zM1440.3 359.2H1447.6V366H1440.3zM1454.8 372.9H1462V379.8H1454.8zM1577.5 482.8H1584.7V489.7H1577.5z"/>
<path fill="#f2e08d" d="M1057.7 269.9H1064.9V276.8H1057.7zM1108.2 269.9H1115.5V276.8H1108.2zM1202.1 290.5H1209.3V297.4H1202.1zM1267.1 352.3H1274.3V359.2H1267.1z"/>
<path fill="#f2df8b" d="M1064.9 269.9H1072.1V276.8H1064.9zM1101 269.9H1108.2V276.8H1101zM1303.2 386.6H1310.4V393.5H1303.2z"/>
<path fill="#f2de89" d="M1072.1 269.9H1079.4V276.8H1072.1z"/>
<path fill="#f2e294" d="M1129.9 269.9H1137.1V276.8H1129.9zM1014.4 276.8H1021.6V283.6H1014.4zM1231 318H1238.2V324.8H1231zM1447.6 366H1454.8V372.9H1447.6zM1512.5 421H1519.8V427.8H1512.5z"/>
<path fill="#f2e295" d="M1137.1 269.9H1144.3V276.8H1137.1zM1180.4 276.8H1187.7V283.6H1180.4zM1011 283.6H1014.4V290.5H1011zM1505.3 414.1H1512.5V421H1505.3zM1570.3 475.9H1577.5V482.8H1570.3z"/>
<path fill="#f2df8a" d="M1166 269.9H1173.2V276.8H1166zM1194.9 283.6H1202.1V290.5H1194.9zM1382.6 311.1H1389.8V318H1382.6z"/>
<path fill="#eeb872" d="M1310.4 269.9H1317.6V276.8H1310.4zM1216.5 290.5H1223.8V297.4H1216.5zM1368.1 311.1H1375.4V318H1368.1zM1267.1 338.6H1274.3V345.4H1267.1zM1418.7 352.3H1425.9V359.2H1418.7zM1462 393.5H1469.2V400.4H1462zM1360.9 434.7H1368.1V441.6H1360.9z"/>
<path fill="#f2e6a0" d="M1324.8 269.9H1332.1V276.8H1324.8zM1036.1 283.6H1043.3V290.5H1036.1zM1346.5 283.6H1353.7V290.5H1346.5zM1028.8 297.4H1036.1V304.2H1028.8zM1028.8 304.2H1036.1V311.1H1028.8zM1021.6 379.8H1028.8V386.6H1021.6zM1534.2 441.6H1541.4V448.4H1534.2z"/>
<path fill="#ebf2d6" d="M1339.3 269.9H1346.5V276.8H1339.3zM1231 372.9H1238.2V379.8H1231z"/>
<path fill="#e0f3f5" d="M1353.7 269.9H1360.9V276.8H1353.7zM1433.1 324.8H1440.3V331.7H1433.1zM1252.6 386.6H1259.9V393.5H1252.6zM1555.9 434.7H1563.1V441.6H1555.9z"/>
<path fill="#f2e396" d="M1021.6 276.8H1028.8V283.6H1021.6zM1014.4 283.6H1021.6V290.5H1014.4zM1011 290.5H1014.4V297.4H1011zM1375.4 304.2H1382.6V311.1H1375.4z"/>
<path fill="#f2e499" d="M1028.8 276.8H1036.1V283.6H1028.8zM1079.4 276.8H1086.6V283.6H1079.4zM1021.6 283.6H1028.8V290.5H1021.6zM1014.4 304.2H1021.6V311.1H1014.4zM1014.4 311.1H1021.6V318H1014.4zM1014.4 318H1021.6V324.8H1014.4zM1014.4 324.8H1021.6V331.7H1014.4zM1014.4 331.7H1021.6V338.6H1014.4zM1014.4 338.6H1021.6V345.4H1014.4zM1014.4 345.4H1021.6V352.3H1014.4zM1014.4 352.3H1021.6V359.2H1014.4zM1011 372.9H1014.4V379.8H1011z"/>
<path fill="#f2e59c" d="M1036.1 276.8H1057.7V283.6H1036.1zM1101 276.8H1108.2V283.6H1101zM1021.6 297.4H1028.8V304.2H1021.6zM1021.6 304.2H1028.8V311.1H1021.6zM1021.6 311.1H1028.8V318H1021.6zM1021.6 318H1028.8V324.8H1021.6zM1404.2 324.8H1411.5V331.7H1404.2zM1014.4 379.8H1021.6V386.6H1014.4zM1011 386.6H1014.4V393.5H1011zM1296 407.2H1303.2V414.1H1296zM1296 414.1H1303.2V421H1296zM1296 421H1303.2V427.8H1296zM1296 427.8H1303.2V434.7H1296zM1296 434.7H1303.2V441.6H1296zM1527 434.7H1534.2V441.6H1527zM1296 441.6H1303.2V448.4H1296zM1296 448.4H1303.2V455.3H1296zM1296 455.3H1303.2V462.2H1296zM1548.6 455.3H1555.9V462.2H1548.6zM1296 462.2H1303.2V469H1296zM1296 469H1303.2V475.9H1296zM1296 475.9H1303.2V482.8H1296zM1296 482.8H1303.2V489.7H1296zM1296 489.7H1303.2V496.5H1296zM1296 496.5H1303.2V503.4H1296zM1296 503.4H1303.2V510.3H1296zM1296 510.3H1303.2V517.1H1296zM1296 517.1H1303.2V524H1296zM1296 524H1303.2V530.9H1296zM1296 530.9H1303.2V537.7H1296zM1296 537.7H1303.2V544.6H1296zM1296 544.6H1303.2V551.5H1296zM1296 551.5H1303.2V558.3H1296zM1296 558.3H1303.2V565.2H1296zM1296 565.2H1303.2V572.1H1296z"/>
<path fill="#f2e49a" d="M1064.9 276.8H1079.4V283.6H1064.9zM1093.8 276.8H1101V283.6H1093.8zM1014.4 359.2H1021.6V366H1014.4zM1014.4 366H1021.6V372.9H1014.4zM1011 379.8H1014.4V386.6H1011zM1296 393.5H1303.2V400.4H1296zM1498.1 407.2H1505.3V414.1H1498.1zM1555.9 462.2H1563.1V469H1555.9z"/>
<path fill="#f2e398" d="M1086.6 276.8H1093.8V283.6H1086.6zM1014.4 290.5H1021.6V297.4H1014.4zM1014.4 297.4H1021.6V304.2H1014.4zM1011 338.6H1014.4V345.4H1011zM1011 345.4H1014.4V352.3H1011zM1011 352.3H1014.4V359.2H1011zM1011 359.2H1014.4V366H1011zM1011 366H1014.4V372.9H1011zM1296 386.6H1303.2V393.5H1296zM1519.8 427.8H1527V434.7H1519.8z"/>
<path fill="#f2e59e" d="M1108.2 276.8H1115.5V283.6H1108.2zM1267.1 359.2H1274.3V366H1267.1zM1021.6 366H1028.8V372.9H1021.6zM1021.6 372.9H1028.8V379.8H1021.6zM1014.4 386.6H1021.6V393.5H1014.4zM1541.4 448.4H1548.6V455.3H1541.4z"/>
<path fill="#ec9c63" d="M1209.3 276.8H1216.5V283.6H1209.3zM1317.6 372.9H1324.8V379.8H1317.6zM1505.3 441.6H1512.5V448.4H1505.3zM1555.9 489.7H1563.1V496.5H1555.9zM1425.9 558.3H1433.1V565.2H1425.9z"/>
<path fill="#f2ebaf" d="M1339.3 276.8H1346.5V283.6H1339.3zM1115.5 290.5H1122.7V297.4H1115.5zM1360.9 290.5H1368.1V297.4H1360.9zM1101 297.4H1108.2V304.2H1101zM1079.4 318H1086.6V324.8H1079.4zM1072.1 331.7H1079.4V338.6H1072.1zM1072.1 338.6H1079.4V345.4H1072.1zM1072.1 345.4H1079.4V352.3H1072.1zM1072.1 352.3H1079.4V359.2H1072.1zM1072.1 359.2H1079.4V366H1072.1zM1072.1 366H1079.4V372.9H1072.1zM1064.9 372.9H1072.1V379.8H1064.9zM1057.7 379.8H1064.9V386.6H1057.7zM1281.5 434.7H1288.7V441.6H1281.5z"/>
<path fill="#e9f2dd" d="M1353.7 276.8H1360.9V283.6H1353.7zM1079.4 400.4H1086.6V407.2H1079.4z"/>
<path fill="#d5edf2" d="M1375.4 276.8H1382.6V283.6H1375.4zM1599.2 462.2H1603V469H1599.2z"/>
<path fill="#cfe9f1" d="M1382.6 276.8H1389.8V283.6H1382.6zM1028.8 414.1H1036.1V421H1028.8z"/>
<path fill="#bbdbe9" d="M1433.1 276.8H1440.3V283.6H1433.1zM1252.6 407.2H1259.9V414.1H1252.6zM1599.2 414.1H1603V421H1599.2z"/>
<path fill="#f2e59d" d="M1028.8 283.6H1036.1V290.5H1028.8zM1021.6 324.8H1028.8V331.7H1021.6zM1021.6 331.7H1028.8V338.6H1021.6zM1021.6 338.6H1028.8V345.4H1021.6zM1021.6 345.4H1028.8V352.3H1021.6zM1021.6 352.3H1028.8V359.2H1021.6zM1021.6 359.2H1028.8V366H1021.6zM1288.7 379.8H1296V386.6H1288.7z"/>
<path fill="#f2e9a9" d="M1115.5 283.6H1122.7V290.5H1115.5zM1086.6 290.5H1093.8V297.4H1086.6zM1057.7 297.4H1072.1V304.2H1057.7zM1050.5 304.2H1057.7V311.1H1050.5zM1050.5 311.1H1057.7V318H1050.5zM1043.3 338.6H1050.5V345.4H1043.3zM1043.3 345.4H1050.5V352.3H1043.3zM1043.3 352.3H1050.5V359.2H1043.3zM1043.3 359.2H1050.5V366H1043.3zM1043.3 366H1050.5V372.9H1043.3zM1036.1 379.8H1043.3V386.6H1036.1z"/>
<path fill="#f2ebae" d="M1137.1 283.6H1166V290.5H1137.1zM1194.9 297.4H1202.1V304.2H1194.9zM1086.6 304.2H1093.8V311.1H1086.6zM1079.4 311.1H1086.6V318H1079.4zM1072.1 318H1079.4V324.8H1072.1zM1072.1 324.8H1079.4V331.7H1072.1zM1064.9 345.4H1072.1V352.3H1064.9zM1064.9 352.3H1072.1V359.2H1064.9zM1064.9 359.2H1072.1V366H1064.9zM1064.9 366H1072.1V372.9H1064.9zM1043.3 386.6H1050.5V393.5H1043.3zM1281.5 393.5H1288.7V400.4H1281.5zM1281.5 441.6H1288.7V448.4H1281.5zM1281.5 448.4H1288.7V455.3H1281.5zM1281.5 455.3H1288.7V462.2H1281.5zM1584.7 482.8H1592V489.7H1584.7z"/>
<path fill="#f2eaad" d="M1166 283.6H1173.2V290.5H1166zM1108.2 290.5H1115.5V297.4H1108.2zM1093.8 297.4H1101V304.2H1093.8zM1079.4 304.2H1086.6V311.1H1079.4zM1072.1 311.1H1079.4V318H1072.1zM1064.9 324.8H1072.1V331.7H1064.9zM1064.9 331.7H1072.1V338.6H1064.9zM1064.9 338.6H1072.1V345.4H1064.9zM1252.6 352.3H1259.9V359.2H1252.6zM1057.7 366H1064.9V372.9H1057.7zM1057.7 372.9H1064.9V379.8H1057.7zM1050.5 379.8H1057.7V386.6H1050.5zM1011 400.4H1014.4V407.2H1011zM1281.5 462.2H1288.7V469H1281.5zM1281.5 469H1288.7V475.9H1281.5zM1281.5 475.9H1288.7V482.8H1281.5zM1281.5 482.8H1288.7V489.7H1281.5z"/>
<path fill="#edaa6a" d="M1324.8 283.6H1332.1V290.5H1324.8zM1353.7 304.2H1360.9V311.1H1353.7z"/>
<path fill="#f0c377" d="M1332.1 283.6H1339.3V290.5H1332.1zM1288.7 359.2H1296V366H1288.7zM1317.6 386.6H1324.8V393.5H1317.6zM1411.5 537.7H1418.7V544.6H1411.5zM1411.5 592.7H1418.7V599.5H1411.5zM1418.7 620.1H1425.9V627H1418.7z"/>
<path fill="#f0edbb" d="M1353.7 283.6H1360.9V290.5H1353.7zM1151.6 297.4H1158.8V304.2H1151.6zM1122.7 311.1H1129.9V318H1122.7zM1108.2 338.6H1115.5V345.4H1108.2zM1108.2 345.4H1115.5V352.3H1108.2zM1108.2 352.3H1115.5V359.2H1108.2zM1108.2 359.2H1115.5V366H1108.2zM1108.2 366H1115.5V372.9H1108.2zM1108.2 372.9H1115.5V379.8H1108.2zM1267.1 379.8H1274.3V386.6H1267.1zM1028.8 400.4H1036.1V407.2H1028.8zM1541.4 441.6H1548.6V448.4H1541.4zM1267.1 503.4H1274.3V510.3H1267.1zM1259.9 572.1H1267.1V578.9H1259.9z"/>
<path fill="#e1f3f5" d="M1375.4 283.6H1382.6V290.5H1375.4zM1397 297.4H1404.2V304.2H1397zM1440.3 331.7H1447.6V338.6H1440.3zM1447.6 338.6H1454.8V345.4H1447.6zM1454.8 345.4H1462V352.3H1454.8zM1462 352.3H1469.2V359.2H1462zM1512.5 393.5H1519.8V400.4H1512.5zM1541.4 421H1548.6V427.8H1541.4zM1563.1 441.6H1570.3V448.4H1563.1zM1252.6 517.1H1259.9V524H1252.6z"/>
<path fill="#c8e5ee" d="M1404.2 283.6H1411.5V290.5H1404.2zM1433.1 304.2H1440.3V311.1H1433.1zM1498.1 359.2H1505.3V366H1498.1zM1093.8 407.2H1101V414.1H1093.8z"/>
<path fill="#f2ebb0" d="M1122.7 290.5H1129.9V297.4H1122.7zM1093.8 304.2H1101V311.1H1093.8zM1086.6 311.1H1093.8V318H1086.6zM1079.4 324.8H1086.6V331.7H1079.4zM1079.4 331.7H1086.6V338.6H1079.4zM1425.9 338.6H1433.1V345.4H1425.9zM1245.4 345.4H1252.6V352.3H1245.4zM1072.1 372.9H1079.4V379.8H1072.1zM1462 372.9H1469.2V379.8H1462zM1064.9 379.8H1072.1V386.6H1064.9zM1274.3 379.8H1281.5V386.6H1274.3zM1050.5 386.6H1057.7V393.5H1050.5zM1014.4 400.4H1021.6V407.2H1014.4zM1281.5 400.4H1288.7V407.2H1281.5zM1512.5 414.1H1519.8V421H1512.5zM1281.5 427.8H1288.7V434.7H1281.5zM1274.3 572.1H1281.5V578.9H1274.3zM1274.3 578.9H1281.5V585.8H1274.3zM1274.3 585.8H1281.5V592.7H1274.3zM1274.3 592.7H1281.5V599.5H1274.3zM1274.3 599.5H1281.5V606.4H1274.3zM1274.3 606.4H1281.5V613.3H1274.3zM1274.3 613.3H1281.5V620.1H1274.3zM1274.3 620.1H1281.5V627H1274.3z"/>
<path fill="#f1ecb2" d="M1129.9 290.5H1137.1V297.4H1129.9zM1382.6 304.2H1389.8V311.1H1382.6zM1086.6 331.7H1093.8V338.6H1086.6zM1274.3 510.3H1281.5V517.1H1274.3zM1267.1 606.4H1274.3V613.3H1267.1zM1267.1 613.3H1274.3V620.1H1267.1z"/>
<path fill="#f1ecb4" d="M1137.1 290.5H1144.3V297.4H1137.1zM1108.2 304.2H1115.5V311.1H1108.2zM1101 311.1H1108.2V318H1101zM1209.3 311.1H1216.5V318H1209.3zM1093.8 324.8H1101V331.7H1093.8zM1231 331.7H1238.2V338.6H1231zM1454.8 366H1462V372.9H1454.8zM1072.1 386.6H1079.4V393.5H1072.1zM1043.3 393.5H1050.5V400.4H1043.3zM1505.3 407.2H1512.5V414.1H1505.3zM1274.3 475.9H1281.5V482.8H1274.3zM1274.3 482.8H1281.5V489.7H1274.3zM1267.1 565.2H1274.3V572.1H1267.1zM1267.1 572.1H1274.3V578.9H1267.1zM1267.1 578.9H1274.3V585.8H1267.1zM1259.9 620.1H1267.1V627H1259.9z"/>
<path fill="#f1ecb6" d="M1151.6 290.5H1173.2V297.4H1151.6zM1187.7 297.4H1194.9V304.2H1187.7zM1115.5 304.2H1122.7V311.1H1115.5zM1108.2 311.1H1115.5V318H1108.2zM1216.5 318H1223.8V324.8H1216.5zM1223.8 324.8H1231V331.7H1223.8zM1093.8 345.4H1101V352.3H1093.8zM1093.8 372.9H1101V379.8H1093.8zM1079.4 386.6H1086.6V393.5H1079.4zM1274.3 462.2H1281.5V469H1274.3zM1267.1 544.6H1274.3V551.5H1267.1zM1259.9 606.4H1267.1V613.3H1259.9z"/>
<path fill="#f2ecb2" d="M1180.4 290.5H1187.7V297.4H1180.4zM1202.1 304.2H1209.3V311.1H1202.1zM1086.6 324.8H1093.8V331.7H1086.6zM1440.3 352.3H1447.6V359.2H1440.3zM1281.5 407.2H1288.7V414.1H1281.5zM1274.3 517.1H1281.5V524H1274.3zM1274.3 524H1281.5V530.9H1274.3zM1267.1 620.1H1274.3V627H1267.1z"/>
<path fill="#f1cf7e" d="M1209.3 290.5H1216.5V297.4H1209.3zM1267.1 345.4H1274.3V352.3H1267.1zM1433.1 359.2H1440.3V366H1433.1zM1317.6 400.4H1324.8V407.2H1317.6z"/>
<path fill="#ec9f64" d="M1223.8 290.5H1231V297.4H1223.8zM1267.1 331.7H1274.3V338.6H1267.1zM1599.2 524H1603V530.9H1599.2z"/>
<path fill="#e76c4e" d="M1317.6 290.5H1324.8V297.4H1317.6zM1397 359.2H1404.2V366H1397zM1411.5 372.9H1418.7V379.8H1411.5zM1440.3 400.4H1447.6V407.2H1440.3z"/>
<path fill="#efba72" d="M1339.3 290.5H1346.5V297.4H1339.3zM1425.9 524H1433.1V530.9H1425.9z"/>
<path fill="#e9f2de" d="M1375.4 290.5H1382.6V297.4H1375.4zM1476.4 372.9H1483.7V379.8H1476.4zM1592 475.9H1599.2V482.8H1592zM1252.6 558.3H1259.9V565.2H1252.6z"/>
<path fill="#d0e9f1" d="M1404.2 290.5H1411.5V297.4H1404.2zM1440.3 318H1447.6V324.8H1440.3z"/>
<path fill="#f2e397" d="M1011 297.4H1014.4V304.2H1011zM1011 304.2H1014.4V311.1H1011zM1011 311.1H1014.4V318H1011zM1011 318H1014.4V324.8H1011zM1011 324.8H1014.4V331.7H1011zM1011 331.7H1014.4V338.6H1011zM1411.5 331.7H1418.7V338.6H1411.5zM1563.1 469H1570.3V475.9H1563.1z"/>
<path fill="#f2ebb1" d="M1108.2 297.4H1115.5V304.2H1108.2zM1086.6 318H1093.8V324.8H1086.6zM1079.4 338.6H1086.6V345.4H1079.4zM1079.4 345.4H1086.6V352.3H1079.4zM1433.1 345.4H1440.3V352.3H1433.1zM1079.4 352.3H1086.6V359.2H1079.4zM1079.4 359.2H1086.6V366H1079.4zM1079.4 366H1086.6V372.9H1079.4zM1072.1 379.8H1079.4V386.6H1072.1zM1057.7 386.6H1064.9V393.5H1057.7zM1036.1 393.5H1043.3V400.4H1036.1zM1281.5 414.1H1288.7V421H1281.5zM1281.5 421H1288.7V427.8H1281.5zM1577.5 475.9H1584.7V482.8H1577.5zM1274.3 537.7H1281.5V544.6H1274.3zM1274.3 544.6H1281.5V551.5H1274.3zM1274.3 551.5H1281.5V558.3H1274.3zM1274.3 558.3H1281.5V565.2H1274.3zM1274.3 565.2H1281.5V572.1H1274.3z"/>
<path fill="#f1ecb3" d="M1115.5 297.4H1122.7V304.2H1115.5zM1093.8 318H1101V324.8H1093.8zM1086.6 338.6H1093.8V345.4H1086.6zM1238.2 338.6H1245.4V345.4H1238.2zM1086.6 345.4H1093.8V352.3H1086.6zM1086.6 352.3H1093.8V359.2H1086.6zM1086.6 359.2H1093.8V366H1086.6zM1447.6 359.2H1454.8V366H1447.6zM1086.6 366H1093.8V372.9H1086.6zM1259.9 366H1267.1V372.9H1259.9zM1086.6 372.9H1093.8V379.8H1086.6zM1267.1 372.9H1274.3V379.8H1267.1zM1079.4 379.8H1086.6V386.6H1079.4zM1064.9 386.6H1072.1V393.5H1064.9zM1519.8 421H1527V427.8H1519.8zM1570.3 469H1577.5V475.9H1570.3zM1274.3 489.7H1281.5V496.5H1274.3zM1274.3 496.5H1281.5V503.4H1274.3zM1274.3 503.4H1281.5V510.3H1274.3zM1267.1 585.8H1274.3V592.7H1267.1zM1267.1 592.7H1274.3V599.5H1267.1zM1267.1 599.5H1274.3V606.4H1267.1z"/>
<path fill="#f1ecb7" d="M1129.9 297.4H1137.1V304.2H1129.9zM1101 324.8H1108.2V331.7H1101zM1050.5 393.5H1057.7V400.4H1050.5zM1527 427.8H1534.2V434.7H1527zM1274.3 455.3H1281.5V462.2H1274.3zM1555.9 455.3H1563.1V462.2H1555.9zM1267.1 537.7H1274.3V544.6H1267.1zM1259.9 599.5H1267.1V606.4H1259.9z"/>
<path fill="#f0edb8" d="M1137.1 297.4H1144.3V304.2H1137.1zM1115.5 311.1H1122.7V318H1115.5zM1101 345.4H1108.2V352.3H1101z"/>
<path fill="#f0edba" d="M1144.3 297.4H1151.6V304.2H1144.3zM1180.4 297.4H1187.7V304.2H1180.4zM1129.9 304.2H1137.1V311.1H1129.9zM1194.9 304.2H1202.1V311.1H1194.9zM1115.5 318H1122.7V324.8H1115.5zM1411.5 324.8H1418.7V331.7H1411.5zM1108.2 331.7H1115.5V338.6H1108.2zM1238.2 345.4H1245.4V352.3H1238.2zM1252.6 366H1259.9V372.9H1252.6zM1259.9 372.9H1267.1V379.8H1259.9zM1101 379.8H1108.2V386.6H1101zM1064.9 393.5H1072.1V400.4H1064.9zM1274.3 434.7H1281.5V441.6H1274.3zM1534.2 434.7H1541.4V441.6H1534.2zM1267.1 510.3H1274.3V517.1H1267.1zM1259.9 578.9H1267.1V585.8H1259.9z"/>
<path fill="#f0eebc" d="M1158.8 297.4H1166V304.2H1158.8zM1137.1 304.2H1144.3V311.1H1137.1zM1115.5 324.8H1122.7V331.7H1115.5zM1245.4 359.2H1252.6V366H1245.4zM1093.8 386.6H1101V393.5H1093.8z"/>
<path fill="#ec9962" d="M1339.3 297.4H1346.5V304.2H1339.3z"/>
<path fill="#f0eebe" d="M1375.4 297.4H1382.6V304.2H1375.4zM1144.3 304.2H1151.6V311.1H1144.3zM1115.5 331.7H1122.7V338.6H1115.5zM1115.5 338.6H1122.7V345.4H1115.5zM1115.5 352.3H1122.7V359.2H1115.5zM1115.5 359.2H1122.7V366H1115.5zM1115.5 366H1122.7V372.9H1115.5zM1115.5 372.9H1122.7V379.8H1115.5zM1490.9 393.5H1498.1V400.4H1490.9zM1274.3 421H1281.5V427.8H1274.3zM1259.9 558.3H1267.1V565.2H1259.9z"/>
<path fill="#ecf2d5" d="M1382.6 297.4H1389.8V304.2H1382.6zM1180.4 338.6H1187.7V345.4H1180.4zM1173.2 345.4H1194.9V352.3H1173.2zM1180.4 352.3H1194.9V359.2H1180.4zM1173.2 372.9H1180.4V379.8H1173.2zM1151.6 379.8H1158.8V386.6H1151.6zM1252.6 379.8H1259.9V386.6H1252.6zM1101 393.5H1108.2V400.4H1101zM1498.1 393.5H1505.3V400.4H1498.1zM1072.1 400.4H1079.4V407.2H1072.1zM1267.1 427.8H1274.3V434.7H1267.1zM1541.4 434.7H1548.6V441.6H1541.4z"/>
<path fill="#b8dae7" d="M1483.7 297.4H1490.9V304.2H1483.7zM1534.2 338.6H1541.4V345.4H1534.2z"/>
<path fill="#f2ebb2" d="M1101 304.2H1108.2V311.1H1101zM1093.8 311.1H1101V318H1093.8zM1079.4 372.9H1086.6V379.8H1079.4zM1274.3 530.9H1281.5V537.7H1274.3z"/>
<path fill="#f1edb8" d="M1122.7 304.2H1129.9V311.1H1122.7zM1108.2 318H1115.5V324.8H1108.2zM1101 338.6H1108.2V345.4H1101zM1101 352.3H1108.2V359.2H1101zM1101 359.2H1108.2V366H1101zM1101 366H1108.2V372.9H1101zM1101 372.9H1108.2V379.8H1101zM1274.3 448.4H1281.5V455.3H1274.3zM1267.1 524H1274.3V530.9H1267.1zM1259.9 592.7H1267.1V599.5H1259.9z"/>
<path fill="#efeec0" d="M1151.6 304.2H1158.8V311.1H1151.6zM1137.1 311.1H1144.3V318H1137.1zM1129.9 318H1137.1V324.8H1129.9zM1115.5 379.8H1122.7V386.6H1115.5zM1101 386.6H1108.2V393.5H1101zM1259.9 551.5H1267.1V558.3H1259.9z"/>
<path fill="#efefc2" d="M1158.8 304.2H1166V311.1H1158.8zM1173.2 304.2H1180.4V311.1H1173.2zM1144.3 311.1H1151.6V318H1144.3zM1194.9 311.1H1202.1V318H1194.9zM1122.7 338.6H1129.9V345.4H1122.7zM1122.7 345.4H1129.9V352.3H1122.7zM1231 345.4H1238.2V352.3H1231zM1122.7 352.3H1129.9V359.2H1122.7zM1238.2 359.2H1245.4V366H1238.2zM1245.4 366H1252.6V372.9H1245.4zM1483.7 386.6H1490.9V393.5H1483.7zM1259.9 544.6H1267.1V551.5H1259.9z"/>
<path fill="#efefc3" d="M1166 304.2H1173.2V311.1H1166zM1137.1 318H1144.3V324.8H1137.1zM1129.9 324.8H1137.1V331.7H1129.9zM1252.6 372.9H1259.9V379.8H1252.6zM1267.1 469H1274.3V475.9H1267.1zM1252.6 620.1H1259.9V627H1252.6z"/>
<path fill="#efeec1" d="M1180.4 304.2H1187.7V311.1H1180.4zM1122.7 331.7H1129.9V338.6H1122.7zM1122.7 359.2H1129.9V366H1122.7zM1122.7 366H1129.9V372.9H1122.7zM1122.7 372.9H1129.9V379.8H1122.7zM1079.4 393.5H1086.6V400.4H1079.4zM1036.1 400.4H1043.3V407.2H1036.1zM1274.3 407.2H1281.5V414.1H1274.3zM1267.1 475.9H1274.3V482.8H1267.1z"/>
<path fill="#efeebf" d="M1187.7 304.2H1194.9V311.1H1187.7zM1209.3 318H1216.5V324.8H1209.3zM1404.2 318H1411.5V324.8H1404.2zM1122.7 324.8H1129.9V331.7H1122.7zM1216.5 324.8H1223.8V331.7H1216.5zM1223.8 331.7H1231V338.6H1223.8zM1115.5 345.4H1122.7V352.3H1115.5zM1238.2 352.3H1245.4V359.2H1238.2zM1274.3 414.1H1281.5V421H1274.3zM1267.1 482.8H1274.3V489.7H1267.1zM1599.2 489.7H1603V496.5H1599.2z"/>
<path fill="#da3d34" d="M1303.2 304.2H1310.4V311.1H1303.2zM1332.1 324.8H1339.3V331.7H1332.1zM1360.9 352.3H1368.1V359.2H1360.9zM1360.9 379.8H1368.1V386.6H1360.9zM1382.6 400.4H1389.8V407.2H1382.6zM1447.6 434.7H1454.8V441.6H1447.6zM1498.1 482.8H1505.3V489.7H1498.1zM1505.3 489.7H1512.5V496.5H1505.3z"/>
<path fill="#e87a54" d="M1339.3 304.2H1346.5V311.1H1339.3zM1469.2 421H1476.4V427.8H1469.2zM1512.5 462.2H1519.8V469H1512.5zM1433.1 565.2H1440.3V572.1H1433.1z"/>
<path fill="#e2f3f1" d="M1404.2 304.2H1411.5V311.1H1404.2zM1476.4 366H1483.7V372.9H1476.4zM1231 379.8H1238.2V386.6H1231zM1584.7 462.2H1592V469H1584.7zM1252.6 524H1259.9V530.9H1252.6z"/>
<path fill="#daeff3" d="M1411.5 304.2H1418.7V311.1H1411.5zM1476.4 359.2H1483.7V366H1476.4zM1259.9 400.4H1267.1V407.2H1259.9zM1527 400.4H1534.2V407.2H1527zM1072.1 407.2H1079.4V414.1H1072.1zM1259.9 427.8H1267.1V434.7H1259.9zM1577.5 448.4H1584.7V455.3H1577.5zM1584.7 455.3H1592V462.2H1584.7zM1245.4 585.8H1252.6V592.7H1245.4z"/>
<path fill="#eeefc5" d="M1187.7 311.1H1194.9V318H1187.7zM1202.1 318H1209.3V324.8H1202.1zM1129.9 338.6H1137.1V345.4H1129.9zM1129.9 352.3H1137.1V359.2H1129.9zM1129.9 359.2H1137.1V366H1129.9zM1108.2 386.6H1115.5V393.5H1108.2zM1267.1 462.2H1274.3V469H1267.1zM1252.6 613.3H1259.9V620.1H1252.6z"/>
<path fill="#eca367" d="M1360.9 311.1H1368.1V318H1360.9zM1281.5 345.4H1288.7V352.3H1281.5zM1339.3 400.4H1346.5V407.2H1339.3zM1375.4 434.7H1382.6V441.6H1375.4z"/>
<path fill="#e9f2dc" d="M1404.2 311.1H1411.5V318H1404.2zM1166 379.8H1173.2V386.6H1166zM1108.2 393.5H1115.5V400.4H1108.2zM1267.1 414.1H1274.3V421H1267.1z"/>
<path fill="#c9e5ef" d="M1440.3 311.1H1447.6V318H1440.3z"/>
<path fill="#f0c478" d="M1382.6 318H1389.8V324.8H1382.6zM1332.1 414.1H1339.3V421H1332.1zM1346.5 434.7H1353.7V441.6H1346.5zM1519.8 441.6H1527V448.4H1519.8zM1360.9 455.3H1368.1V462.2H1360.9zM1368.1 462.2H1375.4V469H1368.1zM1375.4 469H1382.6V475.9H1375.4zM1382.6 475.9H1389.8V482.8H1382.6zM1389.8 482.8H1397V489.7H1389.8zM1397 489.7H1404.2V496.5H1397zM1404.2 496.5H1411.5V503.4H1404.2zM1411.5 510.3H1418.7V517.1H1411.5zM1411.5 517.1H1418.7V524H1411.5zM1411.5 524H1418.7V530.9H1411.5zM1411.5 530.9H1418.7V537.7H1411.5zM1404.2 544.6H1411.5V551.5H1404.2zM1404.2 551.5H1411.5V558.3H1404.2zM1404.2 558.3H1411.5V565.2H1404.2zM1404.2 565.2H1411.5V572.1H1404.2zM1404.2 572.1H1411.5V578.9H1404.2zM1404.2 578.9H1411.5V585.8H1404.2zM1411.5 599.5H1418.7V606.4H1411.5zM1411.5 606.4H1418.7V613.3H1411.5zM1411.5 613.3H1418.7V620.1H1411.5z"/>
<path fill="#ebf2d8" d="M1411.5 318H1418.7V324.8H1411.5zM1187.7 372.9H1194.9V379.8H1187.7zM1223.8 372.9H1231V379.8H1223.8zM1129.9 386.6H1137.1V393.5H1129.9zM1599.2 482.8H1603V489.7H1599.2z"/>
<path fill="#f0edb9" d="M1108.2 324.8H1115.5V331.7H1108.2zM1086.6 386.6H1093.8V393.5H1086.6zM1057.7 393.5H1064.9V400.4H1057.7zM1274.3 393.5H1281.5V400.4H1274.3zM1498.1 400.4H1505.3V407.2H1498.1zM1274.3 441.6H1281.5V448.4H1274.3zM1548.6 448.4H1555.9V455.3H1548.6zM1267.1 517.1H1274.3V524H1267.1zM1259.9 585.8H1267.1V592.7H1259.9z"/>
<path fill="#efc176" d="M1389.8 324.8H1397V331.7H1389.8zM1339.3 421H1346.5V427.8H1339.3zM1563.1 482.8H1570.3V489.7H1563.1zM1411.5 496.5H1418.7V503.4H1411.5zM1418.7 517.1H1425.9V524H1418.7zM1411.5 551.5H1418.7V558.3H1411.5zM1418.7 606.4H1425.9V613.3H1418.7z"/>
<path fill="#f1d683" d="M1397 324.8H1404.2V331.7H1397zM1317.6 427.8H1324.8V434.7H1317.6zM1548.6 462.2H1555.9V469H1548.6z"/>
<path fill="#d8eef3" d="M1440.3 324.8H1447.6V331.7H1440.3zM1447.6 331.7H1454.8V338.6H1447.6zM1454.8 338.6H1462V345.4H1454.8zM1462 345.4H1469.2V352.3H1462zM1469.2 352.3H1476.4V359.2H1469.2zM1512.5 386.6H1519.8V393.5H1512.5zM1137.1 393.5H1144.3V400.4H1137.1zM1548.6 421H1555.9V427.8H1548.6zM1563.1 434.7H1570.3V441.6H1563.1zM1252.6 496.5H1259.9V503.4H1252.6z"/>
<path fill="#d0eaf1" d="M1447.6 324.8H1454.8V331.7H1447.6zM1454.8 331.7H1462V338.6H1454.8zM1512.5 379.8H1519.8V386.6H1512.5zM1115.5 400.4H1122.7V407.2H1115.5zM1555.9 421H1563.1V427.8H1555.9z"/>
<path fill="#f1edb7" d="M1101 331.7H1108.2V338.6H1101zM1245.4 352.3H1252.6V359.2H1245.4zM1093.8 379.8H1101V386.6H1093.8zM1267.1 530.9H1274.3V537.7H1267.1z"/>
<path fill="#ecf2d2" d="M1166 331.7H1173.2V338.6H1166zM1187.7 331.7H1194.9V338.6H1187.7zM1158.8 345.4H1166V352.3H1158.8zM1202.1 345.4H1209.3V352.3H1202.1zM1166 359.2H1173.2V366H1166zM1064.9 400.4H1072.1V407.2H1064.9zM1534.2 427.8H1541.4V434.7H1534.2z"/>
<path fill="#ecf2d3" d="M1173.2 331.7H1187.7V338.6H1173.2zM1166 338.6H1173.2V345.4H1166zM1194.9 338.6H1202.1V345.4H1194.9zM1166 352.3H1173.2V359.2H1166zM1202.1 352.3H1209.3V359.2H1202.1zM1202.1 359.2H1209.3V366H1202.1zM1173.2 366H1180.4V372.9H1173.2zM1209.3 366H1216.5V372.9H1209.3zM1166 372.9H1173.2V379.8H1166zM1238.2 372.9H1245.4V379.8H1238.2z"/>
<path fill="#ecf1d1" d="M1194.9 331.7H1202.1V338.6H1194.9zM1158.8 338.6H1166V345.4H1158.8zM1202.1 338.6H1209.3V345.4H1202.1zM1158.8 352.3H1166V359.2H1158.8zM1144.3 379.8H1151.6V386.6H1144.3z"/>
<path fill="#efbe75" d="M1397 331.7H1404.2V338.6H1397zM1281.5 352.3H1288.7V359.2H1281.5zM1360.9 441.6H1368.1V448.4H1360.9zM1368.1 448.4H1375.4V455.3H1368.1zM1375.4 455.3H1382.6V462.2H1375.4zM1382.6 462.2H1389.8V469H1382.6zM1389.8 469H1397V475.9H1389.8zM1397 475.9H1404.2V482.8H1397zM1418.7 537.7H1425.9V544.6H1418.7zM1418.7 592.7H1425.9V599.5H1418.7zM1425.9 620.1H1433.1V627H1425.9z"/>
<path fill="#ec9e64" d="M1274.3 338.6H1281.5V345.4H1274.3zM1512.5 448.4H1519.8V455.3H1512.5zM1541.4 475.9H1548.6V482.8H1541.4zM1425.9 482.8H1433.1V489.7H1425.9zM1433.1 599.5H1440.3V606.4H1433.1z"/>
<path fill="#eda769" d="M1397 338.6H1404.2V345.4H1397zM1433.1 372.9H1440.3V379.8H1433.1zM1447.6 386.6H1454.8V393.5H1447.6zM1433.1 524H1440.3V530.9H1433.1zM1425.9 578.9H1433.1V585.8H1425.9z"/>
<path fill="#f2e08e" d="M1259.9 345.4H1267.1V352.3H1259.9zM1303.2 393.5H1310.4V400.4H1303.2zM1592 496.5H1599.2V503.4H1592z"/>
<path fill="#ea8d5c" d="M1288.7 345.4H1296V352.3H1288.7z"/>
<path fill="#da3a32" d="M1332.1 345.4H1339.3V352.3H1332.1zM1490.9 489.7H1498.1V496.5H1490.9z"/>
<path fill="#e97f56" d="M1389.8 345.4H1397V352.3H1389.8z"/>
<path fill="#eda869" d="M1288.7 352.3H1296V359.2H1288.7zM1440.3 379.8H1447.6V386.6H1440.3zM1332.1 393.5H1339.3V400.4H1332.1z"/>
<path fill="#e1f3f4" d="M1469.2 359.2H1476.4V366H1469.2zM1209.3 379.8H1216.5V386.6H1209.3zM1534.2 414.1H1541.4V421H1534.2zM1570.3 448.4H1577.5V455.3H1570.3zM1245.4 606.4H1252.6V613.3H1245.4z"/>
<path fill="#ecf2d1" d="M1166 366H1173.2V372.9H1166zM1267.1 434.7H1274.3V441.6H1267.1zM1555.9 448.4H1563.1V455.3H1555.9z"/>
<path fill="#f0c77a" d="M1296 366H1303.2V372.9H1296zM1346.5 448.4H1353.7V455.3H1346.5zM1353.7 469H1360.9V475.9H1353.7z"/>
<path fill="#de4a3c" d="M1339.3 366H1346.5V372.9H1339.3zM1476.4 496.5H1483.7V503.4H1476.4z"/>
<path fill="#e15442" d="M1389.8 366H1397V372.9H1389.8zM1353.7 386.6H1360.9V393.5H1353.7zM1382.6 414.1H1389.8V421H1382.6zM1584.7 592.7H1592V599.5H1584.7z"/>
<path fill="#e8f2e1" d="M1469.2 366H1476.4V372.9H1469.2zM1577.5 462.2H1584.7V469H1577.5zM1252.6 551.5H1259.9V558.3H1252.6z"/>
<path fill="#cee8f0" d="M1498.1 366H1505.3V372.9H1498.1z"/>
<path fill="#ebf2d7" d="M1180.4 372.9H1187.7V379.8H1180.4zM1267.1 400.4H1274.3V407.2H1267.1zM1259.9 489.7H1267.1V496.5H1259.9zM1252.6 572.1H1259.9V578.9H1252.6z"/>
<path fill="#eaf2db" d="M1202.1 372.9H1216.5V379.8H1202.1zM1483.7 379.8H1490.9V386.6H1483.7zM1259.9 482.8H1267.1V489.7H1259.9z"/>
<path fill="#eaf2d9" d="M1216.5 372.9H1223.8V379.8H1216.5zM1158.8 379.8H1166V386.6H1158.8zM1490.9 386.6H1498.1V393.5H1490.9zM1267.1 421H1274.3V427.8H1267.1z"/>
<path fill="#f0ca7b" d="M1303.2 372.9H1310.4V379.8H1303.2zM1339.3 448.4H1346.5V455.3H1339.3z"/>
<path fill="#e98158" d="M1324.8 372.9H1332.1V379.8H1324.8zM1433.1 386.6H1440.3V393.5H1433.1zM1440.3 510.3H1447.6V517.1H1440.3z"/>
<path fill="#e3f3ef" d="M1483.7 372.9H1490.9V379.8H1483.7zM1122.7 393.5H1129.9V400.4H1122.7zM1592 469H1599.2V475.9H1592zM1245.4 613.3H1252.6V620.1H1245.4z"/>
<path fill="#e4f3ed" d="M1194.9 379.8H1202.1V386.6H1194.9zM1259.9 455.3H1267.1V462.2H1259.9zM1252.6 530.9H1259.9V537.7H1252.6z"/>
<path fill="#e2f3f2" d="M1202.1 379.8H1209.3V386.6H1202.1zM1223.8 379.8H1231V386.6H1223.8zM1158.8 386.6H1166V393.5H1158.8zM1259.9 393.5H1267.1V400.4H1259.9zM1519.8 400.4H1527V407.2H1519.8zM1050.5 407.2H1057.7V414.1H1050.5zM1527 407.2H1534.2V414.1H1527zM1259.9 448.4H1267.1V455.3H1259.9zM1577.5 455.3H1584.7V462.2H1577.5z"/>
<path fill="#e4f3ec" d="M1490.9 379.8H1498.1V386.6H1490.9zM1043.3 407.2H1050.5V414.1H1043.3z"/>
<path fill="#d7edf2" d="M1180.4 386.6H1187.7V393.5H1180.4zM1108.2 400.4H1115.5V407.2H1108.2zM1259.9 421H1267.1V427.8H1259.9zM1245.4 578.9H1252.6V585.8H1245.4z"/>
<path fill="#f2df8c" d="M1469.2 386.6H1476.4V393.5H1469.2z"/>
<path fill="#c3e2ec" d="M1173.2 393.5H1180.4V400.4H1173.2z"/>
<path fill="#d9eff3" d="M1519.8 393.5H1527V400.4H1519.8zM1534.2 407.2H1541.4V414.1H1534.2z"/>
<path fill="#99c3da" d="M1223.8 407.2H1238.2V414.1H1223.8z"/>
<path fill="#86b2d1" d="M1216.5 414.1H1223.8V421H1216.5zM1223.8 565.2H1231V572.1H1223.8z"/>
<path fill="#86b1d0" d="M1223.8 414.1H1231V421H1223.8zM1144.3 427.8H1151.6V434.7H1144.3z"/>
<path fill="#f0cc7d" d="M1324.8 414.1H1332.1V421H1324.8zM1332.1 434.7H1339.3V441.6H1332.1z"/>
<path fill="#efc377" d="M1490.9 414.1H1498.1V421H1490.9zM1353.7 441.6H1360.9V448.4H1353.7zM1404.2 489.7H1411.5V496.5H1404.2zM1411.5 503.4H1418.7V510.3H1411.5z"/>
<path fill="#8cb8d4" d="M1166 421H1173.2V427.8H1166zM1050.5 441.6H1057.7V448.4H1050.5zM1231 503.4H1238.2V510.3H1231zM1223.8 585.8H1231V592.7H1223.8z"/>
<path fill="#89b5d2" d="M1173.2 421H1180.4V427.8H1173.2zM1137.1 427.8H1144.3V434.7H1137.1zM1064.9 441.6H1072.1V448.4H1064.9z"/>
<path fill="#77a1c8" d="M1202.1 421H1209.3V427.8H1202.1zM1144.3 434.7H1151.6V441.6H1144.3zM1216.5 585.8H1223.8V592.7H1216.5z"/>
<path fill="#729bc5" d="M1216.5 421H1223.8V427.8H1216.5zM1093.8 448.4H1101V455.3H1093.8zM1036.1 455.3H1043.3V462.2H1036.1z"/>
<path fill="#eeae6d" d="M1353.7 421H1360.9V427.8H1353.7zM1490.9 421H1498.1V427.8H1490.9zM1563.1 489.7H1570.3V496.5H1563.1z"/>
<path fill="#eca165" d="M1360.9 421H1368.1V427.8H1360.9zM1519.8 455.3H1527V462.2H1519.8zM1425.9 572.1H1433.1V578.9H1425.9z"/>
<path fill="#ea8f5d" d="M1368.1 421H1375.4V427.8H1368.1zM1433.1 544.6H1440.3V551.5H1433.1zM1440.3 613.3H1447.6V620.1H1440.3z"/>
<path fill="#8cb9d4" d="M1129.9 427.8H1137.1V434.7H1129.9z"/>
<path fill="#628abb" d="M1209.3 427.8H1216.5V434.7H1209.3zM1187.7 434.7H1194.9V441.6H1187.7zM1108.2 455.3H1115.5V462.2H1108.2zM1216.5 482.8H1223.8V489.7H1216.5zM1209.3 551.5H1216.5V558.3H1209.3zM1202.1 613.3H1209.3V620.1H1202.1z"/>
<path fill="#719ac5" d="M1223.8 427.8H1231V434.7H1223.8zM1223.8 482.8H1231V489.7H1223.8z"/>
<path fill="#f0edbc" d="M1274.3 427.8H1281.5V434.7H1274.3zM1267.1 496.5H1274.3V503.4H1267.1z"/>
<path fill="#f0ca7c" d="M1332.1 427.8H1339.3V434.7H1332.1zM1339.3 455.3H1346.5V462.2H1339.3z"/>
<path fill="#f0c579" d="M1339.3 427.8H1346.5V434.7H1339.3zM1360.9 462.2H1368.1V469H1360.9zM1375.4 482.8H1382.6V489.7H1375.4zM1382.6 489.7H1389.8V496.5H1382.6zM1389.8 496.5H1397V503.4H1389.8zM1397 503.4H1404.2V510.3H1397zM1397 510.3H1404.2V517.1H1397zM1397 517.1H1404.2V524H1397zM1397 524H1404.2V530.9H1397zM1397 530.9H1404.2V537.7H1397zM1397 537.7H1404.2V544.6H1397zM1397 544.6H1404.2V551.5H1397zM1389.8 558.3H1397V565.2H1389.8zM1389.8 565.2H1397V572.1H1389.8zM1397 578.9H1404.2V585.8H1397zM1397 585.8H1404.2V592.7H1397zM1397 592.7H1404.2V599.5H1397zM1397 599.5H1404.2V606.4H1397zM1397 606.4H1404.2V613.3H1397zM1397 613.3H1411.5V620.1H1397zM1404.2 620.1H1411.5V627H1404.2z"/>
<path fill="#efbf76" d="M1346.5 427.8H1353.7V434.7H1346.5zM1411.5 558.3H1418.7V565.2H1411.5z"/>
<path fill="#efb872" d="M1353.7 427.8H1360.9V434.7H1353.7zM1368.1 441.6H1375.4V448.4H1368.1zM1418.7 551.5H1425.9V558.3H1418.7z"/>
<path fill="#e6644b" d="M1389.8 427.8H1397V434.7H1389.8zM1476.4 434.7H1483.7V441.6H1476.4zM1505.3 462.2H1512.5V469H1505.3zM1519.8 475.9H1527V482.8H1519.8zM1447.6 503.4H1454.8V510.3H1447.6zM1490.9 544.6H1498.1V551.5H1490.9zM1476.4 551.5H1490.9V558.3H1476.4zM1505.3 551.5H1512.5V558.3H1505.3zM1476.4 558.3H1483.7V565.2H1476.4zM1519.8 558.3H1527V565.2H1519.8zM1476.4 565.2H1483.7V572.1H1476.4zM1476.4 572.1H1483.7V578.9H1476.4zM1541.4 572.1H1548.6V578.9H1541.4zM1548.6 578.9H1555.9V585.8H1548.6zM1447.6 585.8H1454.8V592.7H1447.6zM1469.2 585.8H1476.4V592.7H1469.2zM1555.9 585.8H1563.1V592.7H1555.9zM1469.2 592.7H1476.4V599.5H1469.2zM1563.1 592.7H1570.3V599.5H1563.1zM1469.2 599.5H1476.4V606.4H1469.2zM1454.8 606.4H1462V613.3H1454.8zM1469.2 606.4H1476.4V613.3H1469.2zM1570.3 606.4H1577.5V613.3H1570.3zM1462 613.3H1476.4V620.1H1462zM1462 620.1H1476.4V627H1462z"/>
<path fill="#e6654c" d="M1469.2 427.8H1476.4V434.7H1469.2zM1483.7 565.2H1490.9V572.1H1483.7zM1534.2 572.1H1541.4V578.9H1534.2zM1476.4 613.3H1483.7V620.1H1476.4zM1476.4 620.1H1483.7V627H1476.4z"/>
<path fill="#9ec7dd" d="M1028.8 434.7H1036.1V441.6H1028.8z"/>
<path fill="#88b3d2" d="M1108.2 434.7H1115.5V441.6H1108.2zM1072.1 441.6H1079.4V448.4H1072.1z"/>
<path fill="#7ba4ca" d="M1137.1 434.7H1144.3V441.6H1137.1zM1216.5 599.5H1223.8V606.4H1216.5z"/>
<path fill="#5e86b7" d="M1194.9 434.7H1202.1V441.6H1194.9z"/>
<path fill="#80abce" d="M1231 434.7H1238.2V441.6H1231zM1216.5 620.1H1223.8V627H1216.5z"/>
<path fill="#edae6c" d="M1505.3 434.7H1512.5V441.6H1505.3z"/>
<path fill="#80aacd" d="M1093.8 441.6H1101V448.4H1093.8zM1036.1 448.4H1043.3V455.3H1036.1z"/>
<path fill="#7ca7cb" d="M1101 441.6H1108.2V448.4H1101z"/>
<path fill="#76a0c8" d="M1115.5 441.6H1122.7V448.4H1115.5zM1223.8 503.4H1231V510.3H1223.8z"/>
<path fill="#6e96c3" d="M1137.1 441.6H1144.3V448.4H1137.1zM1223.8 469H1231V475.9H1223.8zM1216.5 544.6H1223.8V551.5H1216.5z"/>
<path fill="#6890bf" d="M1151.6 441.6H1158.8V448.4H1151.6zM1021.6 462.2H1028.8V469H1021.6zM1209.3 585.8H1216.5V592.7H1209.3z"/>
<path fill="#537baf" d="M1202.1 441.6H1209.3V448.4H1202.1zM1194.9 510.3H1202.1V517.1H1194.9zM1180.4 599.5H1187.7V606.4H1180.4z"/>
<path fill="#577fb3" d="M1209.3 441.6H1216.5V448.4H1209.3zM1151.6 455.3H1158.8V462.2H1151.6zM1122.7 462.2H1129.9V469H1122.7zM1209.3 462.2H1216.5V469H1209.3zM1028.8 475.9H1036.1V482.8H1028.8zM1202.1 524H1209.3V530.9H1202.1zM1194.9 572.1H1202.1V578.9H1194.9z"/>
<path fill="#e35844" d="M1411.5 441.6H1418.7V448.4H1411.5zM1498.1 462.2H1505.3V469H1498.1zM1498.1 524H1505.3V530.9H1498.1zM1584.7 599.5H1592V606.4H1584.7zM1592 613.3H1599.2V620.1H1592z"/>
<path fill="#7ea9cc" d="M1043.3 448.4H1050.5V455.3H1043.3z"/>
<path fill="#7aa4ca" d="M1064.9 448.4H1072.1V455.3H1064.9z"/>
<path fill="#6f98c4" d="M1101 448.4H1108.2V455.3H1101zM1209.3 620.1H1216.5V627H1209.3z"/>
<path fill="#5f87b8" d="M1151.6 448.4H1158.8V455.3H1151.6zM1216.5 448.4H1223.8V455.3H1216.5zM1216.5 455.3H1223.8V462.2H1216.5zM1021.6 469H1028.8V475.9H1021.6zM1209.3 530.9H1216.5V537.7H1209.3z"/>
<path fill="#5078ad" d="M1194.9 448.4H1202.1V455.3H1194.9zM1194.9 455.3H1202.1V462.2H1194.9zM1194.9 462.2H1202.1V469H1194.9zM1144.3 469H1151.6V475.9H1144.3zM1115.5 475.9H1122.7V482.8H1115.5zM1079.4 482.8H1086.6V489.7H1079.4zM1187.7 496.5H1194.9V503.4H1187.7zM1180.4 537.7H1187.7V544.6H1180.4zM1180.4 544.6H1187.7V551.5H1180.4zM1173.2 592.7H1180.4V599.5H1173.2zM1173.2 599.5H1180.4V606.4H1173.2z"/>
<path fill="#f0c578" d="M1353.7 448.4H1360.9V455.3H1353.7zM1541.4 462.2H1548.6V469H1541.4zM1368.1 469H1375.4V475.9H1368.1zM1375.4 475.9H1382.6V482.8H1375.4zM1382.6 482.8H1389.8V489.7H1382.6zM1389.8 489.7H1397V496.5H1389.8zM1397 496.5H1404.2V503.4H1397zM1404.2 503.4H1411.5V510.3H1404.2zM1404.2 510.3H1411.5V517.1H1404.2zM1404.2 517.1H1411.5V524H1404.2zM1404.2 524H1411.5V530.9H1404.2zM1404.2 530.9H1411.5V537.7H1404.2zM1404.2 537.7H1411.5V544.6H1404.2zM1397 551.5H1404.2V558.3H1397zM1397 558.3H1404.2V565.2H1397zM1397 565.2H1404.2V572.1H1397zM1397 572.1H1404.2V578.9H1397zM1404.2 585.8H1411.5V592.7H1404.2zM1404.2 592.7H1411.5V599.5H1404.2zM1404.2 599.5H1411.5V606.4H1404.2zM1404.2 606.4H1411.5V613.3H1404.2zM1411.5 620.1H1418.7V627H1411.5z"/>
<path fill="#eda567" d="M1389.8 448.4H1397V455.3H1389.8z"/>
<path fill="#eb945f" d="M1397 448.4H1404.2V455.3H1397z"/>
<path fill="#769fc8" d="M1014.4 455.3H1021.6V462.2H1014.4z"/>
<path fill="#4e76ac" d="M1187.7 455.3H1194.9V462.2H1187.7zM1187.7 462.2H1194.9V469H1187.7zM1158.8 469H1166V475.9H1158.8zM1187.7 469H1194.9V475.9H1187.7zM1129.9 475.9H1144.3V482.8H1129.9zM1101 482.8H1115.5V489.7H1101zM1180.4 482.8H1187.7V489.7H1180.4zM1036.1 489.7H1072.1V496.5H1036.1zM1180.4 489.7H1187.7V496.5H1180.4zM1180.4 496.5H1187.7V503.4H1180.4zM1180.4 503.4H1187.7V510.3H1180.4zM1173.2 530.9H1180.4V537.7H1173.2zM1173.2 537.7H1180.4V544.6H1173.2zM1173.2 544.6H1180.4V551.5H1173.2zM1173.2 551.5H1180.4V558.3H1173.2zM1173.2 558.3H1180.4V565.2H1173.2zM1166 592.7H1173.2V599.5H1166zM1166 599.5H1173.2V606.4H1166zM1166 606.4H1173.2V613.3H1166zM1166 613.3H1173.2V620.1H1166z"/>
<path fill="#7faacd" d="M1231 455.3H1238.2V462.2H1231z"/>
<path fill="#668ebe" d="M1036.1 462.2H1043.3V469H1036.1z"/>
<path fill="#547cb0" d="M1144.3 462.2H1151.6V469H1144.3zM1072.1 475.9H1086.6V482.8H1072.1zM1202.1 482.8H1209.3V489.7H1202.1zM1194.9 530.9H1202.1V537.7H1194.9zM1187.7 572.1H1194.9V578.9H1187.7zM1180.4 620.1H1187.7V627H1180.4z"/>
<path fill="#5179af" d="M1158.8 462.2H1166V469H1158.8zM1129.9 469H1137.1V475.9H1129.9zM1043.3 482.8H1050.5V489.7H1043.3zM1194.9 489.7H1202.1V496.5H1194.9zM1180.4 578.9H1187.7V585.8H1180.4z"/>
<path fill="#5a82b4" d="M1072.1 469H1079.4V475.9H1072.1z"/>
<path fill="#ec9f65" d="M1534.2 469H1541.4V475.9H1534.2z"/>
<path fill="#f0c378" d="M1548.6 469H1555.9V475.9H1548.6z"/>
<path fill="#5880b4" d="M1011 475.9H1014.4V482.8H1011zM1209.3 475.9H1216.5V482.8H1209.3zM1194.9 585.8H1202.1V592.7H1194.9z"/>
<path fill="#4c74aa" d="M1166 475.9H1173.2V482.8H1166zM1144.3 482.8H1151.6V489.7H1144.3zM1115.5 489.7H1122.7V496.5H1115.5zM1072.1 496.5H1079.4V503.4H1072.1zM1166 503.4H1173.2V510.3H1166zM1166 510.3H1173.2V517.1H1166zM1158.8 572.1H1166V578.9H1158.8zM1158.8 578.9H1166V585.8H1158.8z"/>
<path fill="#e87853" d="M1527 475.9H1534.2V482.8H1527z"/>
<path fill="#e25542" d="M1462 496.5H1469.2V503.4H1462zM1563.1 524H1570.3V530.9H1563.1zM1592 544.6H1599.2V551.5H1592z"/>
<path fill="#e87352" d="M1555.9 503.4H1563.1V510.3H1555.9z"/>
<path fill="#efc177" d="M1418.7 524H1425.9V530.9H1418.7z"/>
<path fill="#e76a4d" d="M1447.6 530.9H1454.8V537.7H1447.6z"/>
<path fill="#83adcf" d="M1223.8 551.5H1231V558.3H1223.8z"/>
<path fill="#e97c56" d="M1433.1 558.3H1440.3V565.2H1433.1z"/>
<path fill="#739bc6" d="M1216.5 565.2H1223.8V572.1H1216.5z"/>
<path fill="#e6694d" d="M1440.3 572.1H1447.6V578.9H1440.3z"/>
<path fill="#edac6c" d="M1425.9 585.8H1433.1V592.7H1425.9z"/>
<path fill="#5b83b6" d="M1194.9 613.3H1202.1V620.1H1194.9z"/>
<path fill="#efbc73" d="M1425.9 613.3H1433.1V620.1H1425.9z"/>
<path fill="#eb9661" d="M1440.3 620.1H1447.6V627H1440.3z"/>
</g>
<line x1="1017" y1="137" x2="1526" y2="625.5" stroke="#000" stroke-width="3" stroke-dasharray="12 8"/>
<g stroke="#d42a20" stroke-width="4.3" fill="none"><path d="M1450 173.4 L1388.5 221.9 L1451.5 277.5"/></g>
<g fill="#d42a20"><path d="M1459 166.6 L1438.5 172.5 L1450.5 187.5 Z"/><path d="M1460.9 285.7 L1452 266.5 L1440 280 Z"/></g>
<rect x="1011" y="57" width="592" height="570" fill="none" stroke="#000" stroke-width="2.2"/>
<g stroke="#000" stroke-width="2">
<line x1="1017.8" y1="628" x2="1017.8" y2="639"/>
<line x1="999.8" y1="617.2" x2="1010" y2="617.2"/>
<line x1="1162.1" y1="628" x2="1162.1" y2="639"/>
<line x1="999.8" y1="479.6" x2="1010" y2="479.6"/>
<line x1="1306.4" y1="628" x2="1306.4" y2="639"/>
<line x1="999.8" y1="341.9" x2="1010" y2="341.9"/>
<line x1="1450.7" y1="628" x2="1450.7" y2="639"/>
<line x1="999.8" y1="204.3" x2="1010" y2="204.3"/>
<line x1="1595.0" y1="628" x2="1595.0" y2="639"/>
<line x1="999.8" y1="66.6" x2="1010" y2="66.6"/>
</g>
<defs><linearGradient id="cb" x1="0" y1="0" x2="0" y2="1">
<stop offset="0.000" stop-color="#a02826"/>
<stop offset="0.150" stop-color="#d7322d"/>
<stop offset="0.270" stop-color="#e6644b"/>
<stop offset="0.345" stop-color="#ec9e64"/>
<stop offset="0.400" stop-color="#f0c87a"/>
<stop offset="0.430" stop-color="#f2de88"/>
<stop offset="0.470" stop-color="#f2ebaf"/>
<stop offset="0.510" stop-color="#ecf2d4"/>
<stop offset="0.555" stop-color="#e1f3f5"/>
<stop offset="0.600" stop-color="#cde8f0"/>
<stop offset="0.660" stop-color="#b4d7e6"/>
<stop offset="0.730" stop-color="#91bed7"/>
<stop offset="0.800" stop-color="#6e96c3"/>
<stop offset="0.870" stop-color="#4b73aa"/>
<stop offset="0.940" stop-color="#41649b"/>
<stop offset="1.000" stop-color="#375582"/>
</linearGradient></defs>
<rect x="1639.5" y="52.5" width="40.5" height="571.5" fill="url(#cb)" stroke="#000" stroke-width="1.2"/>
<g stroke="#000" stroke-width="1.5"><line x1="1680" y1="52.9" x2="1690.5" y2="52.9"/><line x1="1680" y1="623.8" x2="1690.5" y2="623.8"/></g>
<g font-family='"Liberation Sans", Arial, Helvetica, sans-serif' fill="#000">
<text x="835" y="30.9" font-size="35">(b)</text>
<text x="1017.8" y="676.5" font-size="37.3" text-anchor="middle">-8</text>
<text x="992" y="628.6" font-size="37.3" text-anchor="end">-8</text>
<text x="1162.1" y="676.5" font-size="37.3" text-anchor="middle">-4</text>
<text x="992" y="491.0" font-size="37.3" text-anchor="end">-4</text>
<text x="1306.4" y="676.5" font-size="37.3" text-anchor="middle">0</text>
<text x="992" y="353.3" font-size="37.3" text-anchor="end">0</text>
<text x="1450.7" y="676.5" font-size="37.3" text-anchor="middle">4</text>
<text x="992" y="215.7" font-size="37.3" text-anchor="end">4</text>
<text x="1595.0" y="676.5" font-size="37.3" text-anchor="middle">8</text>
<text x="992" y="78.0" font-size="37.3" text-anchor="end">8</text>
<text x="1306.7" y="741" font-size="43.7" text-anchor="middle">Top Gate Voltage (V)</text>
<text transform="translate(942.8 341.2) rotate(-90)" font-size="43.4" text-anchor="middle">Bottom Gate Voltage (V)</text>
<text transform="translate(1760.1 330.4) rotate(-90)" font-size="43.1" text-anchor="middle">Reflection Intensity (a.u.)</text>
<text x="1699" y="60.9" font-size="23">0.80</text>
<text x="1699" y="631.8" font-size="23">0.20</text>
<text x="1080" y="151" font-size="26">Line1</text>
<text x="1398" y="159.5" font-size="26">μ</text>
<text x="1400" y="294.5" font-size="27">E</text>
</g>
<g font-family='"Liberation Sans", Arial, Helvetica, sans-serif' fill="#fff" font-size="27.5" text-anchor="middle">
<text x="1273.0" y="100.0">(i,n)</text>
<text x="1510.0" y="116.6">(n,n)</text>
<text x="1072.5" y="310.5">(p,i)</text>
<text x="1344.0" y="346.5">(i,i)</text>
<text x="1519.0" y="313.0">(n,i)</text>
<text x="1077.2" y="539.0">(p,p)</text>
<text x="1343.0" y="536.0">(i,p)</text>
</g>
</svg>
</body></html>
